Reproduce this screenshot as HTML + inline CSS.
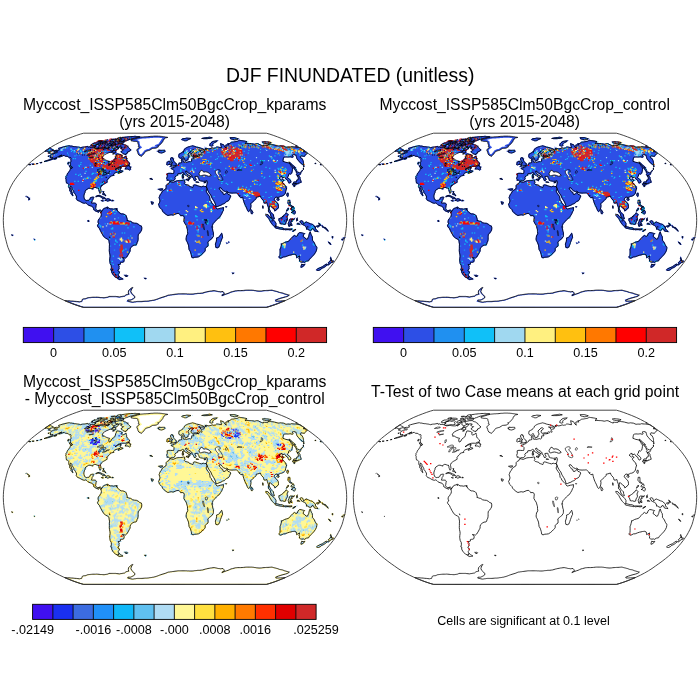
<!DOCTYPE html>
<html><head><meta charset="utf-8"><style>html,body{margin:0;padding:0;background:#fff;width:700px;height:700px;overflow:hidden}svg{display:block;will-change:transform}</style></head><body>
<svg width="700" height="700" viewBox="0 0 700 700" font-family="&quot;Liberation Sans&quot;, sans-serif">
<defs>
<path id="land" d="M54.0,150.9L56.2,150.3L57.0,150.4L57.7,150.4L59.6,150.0L59.2,149.5L58.9,149.0L58.6,148.4L60.4,147.8L62.9,147.1L65.0,146.6L67.1,146.1L68.1,145.9L69.2,145.7L69.7,145.8L70.2,146.0L71.0,146.1L71.8,146.1L72.8,146.4L73.9,146.6L74.8,146.7L75.7,146.7L76.6,146.9L77.4,147.0L78.3,147.1L79.2,147.3L79.7,147.5L80.3,147.7L82.4,147.2L83.3,147.1L84.2,147.1L85.9,146.8L87.8,146.4L88.1,147.3L89.7,146.8L90.1,147.4L91.1,147.4L92.2,147.4L93.0,147.6L93.9,147.7L94.6,148.1L95.3,148.4L96.3,148.8L97.8,148.7L99.5,148.4L100.5,148.5L101.6,148.7L102.6,148.8L103.6,148.9L104.7,148.9L105.8,148.8L107.3,148.2L107.3,149.1L108.5,148.0L110.0,147.1L110.1,145.9L111.7,145.1L112.0,145.9L111.9,146.8L111.9,147.7L112.6,148.1L113.4,148.5L113.5,149.3L115.4,148.1L117.2,147.1L118.5,147.3L118.3,148.2L117.2,149.6L115.7,150.2L114.9,150.1L114.0,150.0L112.9,150.3L112.8,151.3L111.3,151.9L109.8,152.4L108.2,153.0L106.2,153.9L104.3,155.0L102.9,156.3L102.2,157.5L103.0,158.0L102.6,159.2L104.3,159.1L105.4,159.8L106.2,160.2L106.9,160.6L108.3,161.0L109.5,161.2L108.7,162.9L108.8,163.9L109.1,164.9L109.9,164.9L110.9,164.1L111.6,162.4L113.5,160.8L114.8,159.8L115.4,158.3L115.6,156.8L116.2,155.8L116.8,154.1L117.8,153.9L119.1,154.2L120.5,154.4L121.2,155.1L122.2,155.3L121.8,156.8L121.8,157.5L122.6,158.0L124.2,157.5L125.4,156.5L126.0,156.0L126.2,157.3L126.7,158.8L126.6,159.8L127.3,161.0L128.5,162.1L129.4,162.9L129.7,164.1L128.7,164.9L127.4,165.3L125.4,166.3L124.2,166.2L123.0,166.2L121.3,166.3L119.6,166.8L117.9,167.6L116.2,168.8L115.0,169.7L116.0,169.4L117.6,168.3L119.6,167.4L121.2,167.6L121.3,168.1L120.0,168.6L120.2,169.3L120.2,170.2L121.0,170.7L122.3,170.9L123.0,171.1L122.7,171.6L121.0,172.2L119.5,172.9L118.3,173.4L118.3,172.5L119.6,171.8L120.0,171.4L118.6,171.6L117.4,172.1L115.9,172.5L114.7,173.1L113.8,173.9L113.6,174.5L113.9,175.0L114.0,175.3L113.1,175.5L111.7,175.8L110.2,176.4L109.8,177.3L108.8,178.3L108.1,178.7L107.5,179.8L107.0,180.3L107.1,181.4L107.2,182.2L106.1,182.8L104.8,183.6L103.5,184.3L102.4,185.1L101.3,186.0L100.6,187.4L100.5,188.4L100.8,189.8L101.0,191.4L100.7,192.7L99.9,193.2L99.5,192.4L99.3,191.5L98.9,190.3L98.9,189.1L98.2,188.0L97.3,188.2L96.7,187.9L95.9,187.5L94.5,187.4L93.6,187.7L92.9,188.4L93.1,189.0L91.9,188.9L91.1,188.4L89.8,188.2L88.3,188.4L87.2,189.2L85.8,190.1L85.1,191.1L85.0,192.4L84.3,193.8L83.8,196.0L84.0,197.6L84.5,199.2L85.3,200.1L86.2,200.6L87.6,200.4L89.1,200.2L89.9,199.2L90.4,197.8L91.8,197.3L93.2,197.1L93.8,197.5L93.1,198.7L92.8,199.8L92.1,200.5L91.9,201.9L91.4,203.1L92.5,203.2L93.9,203.1L95.3,203.2L96.3,204.1L96.0,205.7L95.8,207.3L95.5,208.4L96.0,209.3L96.8,210.3L97.8,210.8L99.1,210.3L100.4,210.1L101.4,210.9L101.6,211.8L100.9,212.5L100.4,211.7L99.9,210.7L99.0,211.1L98.5,212.3L98.0,212.0L97.0,211.4L96.1,211.3L95.4,211.0L94.6,209.9L93.7,209.6L93.6,208.4L92.8,207.0L92.1,206.3L91.2,206.0L90.0,205.7L88.9,205.3L87.8,204.6L86.8,203.6L85.9,202.8L84.4,203.3L83.1,203.0L81.9,202.5L80.4,201.6L79.3,201.0L77.8,200.5L76.9,199.7L76.2,198.4L76.6,197.1L76.3,196.0L75.5,194.6L74.8,193.3L73.7,192.4L73.8,191.4L73.1,190.2L72.5,189.2L72.0,188.4L71.8,187.1L71.1,186.3L70.5,186.0L70.1,187.4L70.8,188.7L71.2,189.7L71.5,191.1L72.0,192.2L72.4,193.7L72.6,194.9L73.0,195.4L72.5,195.6L71.8,194.5L71.0,193.6L71.1,192.4L70.5,191.6L69.7,190.8L69.8,190.1L69.7,188.4L69.0,187.9L68.8,186.8L68.8,185.8L68.7,185.1L68.8,184.4L68.3,183.8L67.9,183.6L67.3,183.1L66.4,182.9L66.4,182.2L66.2,181.3L66.2,180.7L66.0,180.0L66.2,179.5L65.9,179.0L65.7,178.2L66.1,177.3L65.9,176.7L66.8,175.5L67.2,174.4L67.3,173.9L68.6,172.3L69.8,170.5L70.2,169.7L70.5,168.4L71.5,168.4L72.6,167.7L72.4,167.3L71.8,166.7L71.4,166.1L70.5,165.7L70.3,164.9L70.6,164.1L70.3,163.2L70.5,162.2L71.1,161.3L71.0,160.5L70.8,159.5L71.0,158.3L70.6,157.5L69.4,158.0L69.1,157.5L68.3,156.7L67.2,156.3L65.7,156.3L64.7,155.8L64.2,155.3L63.0,155.6L61.9,156.3L60.5,156.7L58.7,157.1L59.0,156.6L60.6,155.7L62.0,155.1L61.1,155.3L58.8,156.3L57.2,157.1L55.8,157.8L54.1,158.5L52.5,159.3L50.6,159.9L48.8,160.5L47.2,160.9L45.6,161.3L44.1,161.6L45.5,161.0L47.3,160.4L49.2,159.8L51.2,159.0L53.1,158.0L52.9,157.5L51.6,157.6L50.1,157.7L51.0,156.8L50.2,156.5L50.2,155.8L50.6,155.1L51.0,154.4L52.6,153.7L53.4,153.3L55.4,152.9L56.5,152.9L57.5,152.2L57.4,151.9L56.3,151.9L54.8,151.9L54.0,151.8L54.0,151.3ZM101.5,211.2L102.3,210.8L103.3,209.0L104.0,208.4L105.3,208.1L106.8,207.4L107.3,206.9L107.7,207.9L107.1,208.5L108.4,207.8L110.0,208.9L111.9,208.9L113.8,209.2L115.2,208.7L116.2,208.9L117.1,209.7L117.5,211.1L118.9,212.2L119.8,213.0L121.2,213.9L122.6,213.9L124.1,214.3L125.5,215.1L126.2,215.8L126.5,217.0L126.8,218.1L127.3,219.2L126.8,220.3L128.3,220.8L129.2,221.2L130.7,221.4L132.6,222.8L134.5,223.2L136.4,223.3L138.3,224.3L139.8,225.6L141.4,226.1L141.8,227.9L141.6,230.0L140.8,231.4L139.5,233.3L138.3,234.3L138.1,236.3L138.1,237.7L138.1,239.2L137.8,241.1L137.1,242.4L136.7,244.0L135.9,245.0L134.0,245.1L132.2,246.2L130.5,247.8L130.1,249.5L130.1,251.1L129.2,252.7L128.5,254.1L127.4,255.9L126.7,257.0L125.6,258.0L124.2,257.9L122.9,257.5L122.3,257.6L123.7,258.6L124.2,259.7L123.9,261.6L122.8,262.2L121.7,262.3L120.7,262.4L120.1,262.9L120.5,264.0L119.2,264.7L118.1,264.4L118.5,265.6L119.2,266.2L118.9,267.2L119.1,268.8L118.1,269.9L117.9,270.9L119.6,272.0L118.9,273.6L118.2,274.6L118.5,275.7L119.3,276.5L118.5,276.7L118.2,277.7L117.5,278.0L115.5,277.2L114.0,275.7L112.7,274.1L111.6,272.0L111.9,270.4L110.8,269.9L111.4,267.8L111.3,265.6L110.2,263.5L109.8,261.3L109.7,260.3L109.8,258.6L110.1,256.5L110.0,254.9L109.5,252.7L109.3,250.5L109.4,248.4L109.4,246.2L109.5,244.1L109.1,241.9L109.0,240.3L107.7,239.2L105.7,238.1L103.7,236.5L102.8,234.9L101.8,233.3L101.1,231.9L100.4,230.6L99.4,228.4L97.9,226.8L97.5,225.2L98.5,224.1L98.8,223.0L98.0,222.5L98.2,220.8L98.7,219.4L99.7,218.7L100.2,217.6L101.1,216.2L101.4,214.4L101.2,213.3L100.9,212.5ZM119.3,276.7L120.6,277.7L121.7,278.3L122.9,279.0L121.6,279.3L120.7,279.4L119.8,279.6L117.8,278.7L118.2,277.7L118.6,277.0ZM169.7,181.6L171.5,182.0L173.2,182.4L175.0,181.6L176.8,180.9L178.1,180.7L179.5,180.6L180.8,180.5L182.1,180.4L183.7,180.0L184.8,180.3L184.4,181.1L185.0,182.3L184.2,183.4L184.8,183.9L185.4,184.5L186.8,184.8L187.8,185.1L188.8,185.4L189.4,186.4L190.4,186.7L191.4,187.0L192.8,187.6L193.3,186.6L193.2,185.7L194.0,184.9L195.9,185.1L197.7,185.8L198.6,186.1L199.6,186.4L201.5,186.9L203.2,186.2L204.5,186.6L206.2,186.5L207.0,188.4L206.6,190.3L206.0,190.5L206.5,192.2L208.0,194.4L209.5,196.5L209.9,198.7L210.1,200.3L211.2,201.4L211.8,203.0L212.6,203.9L213.8,205.2L215.1,206.5L216.0,207.3L216.0,207.9L217.2,209.1L218.7,208.7L220.5,208.2L221.9,208.0L223.5,207.6L223.4,209.0L223.3,210.6L222.5,211.7L221.7,213.8L220.7,215.4L219.3,217.6L217.9,218.5L216.5,219.8L215.1,221.4L214.1,222.5L213.1,223.5L212.4,225.4L211.9,227.3L212.5,228.9L212.8,231.1L213.4,232.7L213.4,234.1L213.4,235.4L213.2,236.5L211.7,238.7L210.6,239.5L209.6,240.3L207.8,241.9L208.1,244.1L208.0,246.0L206.8,246.9L205.6,247.8L205.2,248.4L205.2,250.5L204.6,251.6L203.4,252.7L201.9,254.3L200.4,255.6L198.5,256.8L196.7,257.1L194.8,257.2L193.0,257.9L191.7,257.2L191.5,255.9L191.2,254.3L190.7,252.8L190.2,251.2L189.1,249.5L188.8,247.3L188.5,245.1L188.1,244.0L187.6,242.8L187.0,241.5L186.3,240.3L186.1,239.0L186.3,237.5L186.5,236.0L187.8,233.8L187.5,231.6L187.5,229.8L187.1,228.3L186.7,226.9L186.2,225.2L185.0,223.5L183.9,221.4L184.1,219.2L184.3,217.1L183.4,215.7L182.1,215.5L180.7,215.7L179.8,214.4L178.8,213.4L176.9,213.5L175.0,214.3L173.1,215.1L171.2,214.7L169.5,215.1L167.9,215.5L166.0,214.4L164.1,212.8L162.5,211.1L162.1,209.7L160.8,208.4L159.4,207.1L159.1,205.7L158.5,204.4L159.4,203.0L160.0,200.9L159.6,199.2L159.1,197.6L159.6,196.3L160.1,194.9L161.3,193.3L162.5,191.1L163.9,190.1L165.8,189.0L166.2,187.4L166.1,185.7L167.3,184.3L168.9,183.6ZM170.0,181.4L171.0,180.7L172.1,180.7L173.2,180.7L174.6,179.7L175.2,178.4L174.7,177.7L175.8,176.0L176.8,175.6L177.8,175.1L177.7,173.9L178.9,173.5L180.2,173.8L181.5,173.1L182.5,172.4L183.8,172.9L184.1,174.0L185.4,175.0L186.8,175.8L188.2,176.9L188.8,177.1L189.1,178.4L188.9,179.3L189.4,179.3L190.1,178.2L189.6,177.0L190.1,176.7L191.3,177.0L190.8,176.4L189.0,175.5L187.1,174.4L186.6,173.3L185.6,172.3L185.5,171.5L186.7,171.0L186.6,171.7L187.9,172.3L188.8,173.4L190.1,173.9L191.5,175.0L192.1,176.0L192.0,176.8L193.1,177.7L193.6,178.7L194.2,180.3L195.1,180.9L195.5,179.8L196.3,179.3L195.3,178.2L194.8,176.6L196.0,176.3L197.8,176.3L198.3,176.9L198.1,177.8L198.9,178.7L199.3,180.3L200.5,180.8L202.3,181.1L203.6,181.3L205.4,181.1L207.0,180.6L207.3,181.6L207.3,183.0L206.9,184.7L206.4,186.3L206.2,186.5L207.0,188.4L207.7,190.1L208.8,192.2L209.8,193.8L210.8,194.9L211.6,197.1L212.5,198.7L213.5,200.3L214.5,201.9L215.4,204.1L216.0,206.3L216.2,206.6L217.6,206.5L219.0,205.8L220.9,205.2L222.2,204.3L223.2,203.9L224.3,203.5L225.4,202.5L226.7,201.4L228.1,200.9L229.2,199.8L229.8,198.2L230.8,196.0L229.7,194.9L228.0,194.4L227.4,193.4L227.1,192.0L226.5,192.8L225.2,194.3L223.4,194.4L222.7,192.8L222.8,192.3L222.2,192.2L221.2,191.7L220.7,190.6L219.6,189.5L219.0,188.1L219.4,187.9L220.8,187.7L221.9,189.2L223.4,190.6L225.4,191.6L226.9,191.0L228.1,192.4L229.7,192.9L230.9,193.0L232.1,193.1L233.2,193.0L234.4,193.0L235.5,192.9L236.7,192.9L237.4,193.6L238.3,194.6L239.2,196.0L240.2,195.6L239.4,196.2L241.0,197.8L242.8,197.1L243.0,198.4L243.3,199.8L243.8,201.4L244.3,203.0L244.9,204.4L245.5,205.7L246.6,207.9L247.1,209.2L247.7,210.6L248.7,211.6L249.3,210.7L250.3,209.2L250.7,207.9L251.0,205.7L250.6,203.6L251.8,202.7L252.7,201.9L254.4,200.3L256.0,198.7L256.3,197.1L257.7,196.9L259.0,196.5L260.4,196.0L261.0,197.6L261.7,198.7L263.3,200.3L263.7,201.7L264.1,203.0L265.1,203.2L266.9,202.5L267.4,204.6L267.9,206.0L268.4,207.3L268.5,209.5L268.4,211.1L268.7,211.9L270.2,213.3L270.6,214.9L271.3,217.1L272.7,218.1L273.7,218.9L274.4,218.7L273.6,216.5L273.5,214.9L272.3,213.6L271.6,213.0L270.6,212.2L270.0,210.6L269.1,209.0L269.3,207.3L269.6,205.7L270.5,205.8L271.1,206.6L272.7,207.9L274.2,209.0L274.8,210.9L276.2,210.0L277.0,209.0L278.4,207.9L278.5,206.3L278.1,204.1L276.8,202.5L275.1,200.9L274.2,199.8L274.7,198.2L275.9,197.1L277.3,197.1L278.2,198.4L278.3,197.3L279.2,197.0L280.5,196.3L281.6,196.2L283.1,195.6L284.3,194.6L285.4,193.1L285.6,191.7L286.0,190.1L286.7,188.0L285.5,187.0L286.3,186.8L285.1,185.7L284.0,184.1L282.4,182.7L282.5,181.4L282.8,181.2L284.2,180.3L282.5,179.5L281.5,180.1L280.1,179.0L279.1,178.2L279.9,177.7L280.9,176.3L282.2,176.6L282.2,178.2L283.0,177.7L284.3,177.1L285.2,177.7L286.2,179.3L287.6,180.0L288.1,181.3L288.6,182.5L289.0,183.1L290.6,182.5L291.0,182.0L290.5,180.3L288.8,178.7L287.4,177.7L287.7,176.6L288.5,176.0L288.5,174.7L289.0,173.7L290.6,174.1L291.7,173.1L292.2,171.2L292.4,169.7L292.5,168.1L291.3,166.5L290.7,165.2L290.0,163.9L288.3,162.9L287.1,162.6L285.8,162.4L284.6,161.9L282.9,161.3L283.1,159.8L283.3,158.8L283.5,157.8L284.3,157.0L285.2,157.0L286.1,156.9L287.3,157.0L288.5,157.0L289.3,156.9L290.1,156.7L292.3,157.3L293.2,156.8L292.5,155.8L292.5,154.8L293.3,154.7L294.0,154.5L296.1,155.3L296.4,156.6L296.7,157.8L297.0,158.8L298.7,160.8L300.5,162.9L302.2,164.2L303.8,165.5L303.5,163.6L303.5,162.4L302.9,160.3L301.9,158.5L300.5,157.8L300.4,156.4L300.9,155.8L302.7,156.1L304.5,156.3L304.8,155.8L305.2,155.3L305.5,154.8L305.8,154.4L306.6,153.9L307.4,153.4L305.1,151.9L303.9,151.7L303.2,151.9L303.7,151.3L305.3,151.4L302.7,149.6L300.0,147.8L297.9,147.4L295.9,147.0L294.5,147.0L293.0,146.9L291.4,146.7L290.7,147.0L290.0,147.2L288.9,147.1L287.8,147.1L286.9,147.2L286.0,147.3L283.3,146.1L281.9,146.0L280.5,145.8L279.4,146.0L278.2,146.1L276.0,145.5L274.5,145.1L273.0,144.8L271.8,144.7L270.6,144.5L269.3,144.6L268.0,144.6L267.8,145.4L266.8,145.4L265.8,145.4L264.6,145.3L263.5,145.2L263.3,146.1L261.5,145.5L258.9,144.2L258.0,143.7L257.1,143.7L256.3,143.7L255.3,144.0L254.2,144.2L252.9,143.9L251.6,143.7L250.4,143.6L249.2,143.6L248.2,143.5L246.7,143.3L245.8,143.7L245.5,144.0L245.5,142.9L245.9,142.4L246.2,141.9L247.0,141.8L245.7,141.4L244.5,141.1L243.2,140.9L241.9,140.7L240.6,140.5L239.2,140.2L238.8,140.6L238.3,140.9L237.8,141.2L236.8,141.4L235.7,141.6L234.6,141.8L233.6,142.0L232.5,142.1L231.3,142.3L230.6,142.9L229.9,143.5L228.8,143.6L227.8,143.7L228.8,145.1L227.9,144.9L227.0,144.8L225.8,145.1L225.8,145.9L226.0,147.1L226.3,148.2L224.7,146.8L224.1,145.7L223.4,144.6L222.0,144.2L220.6,143.7L220.8,144.8L221.1,145.9L221.5,147.7L219.9,147.5L218.8,147.2L217.6,147.0L216.6,147.0L215.7,147.9L214.5,148.1L213.4,148.3L212.2,147.9L211.1,148.3L210.1,148.7L209.1,148.8L208.1,148.9L206.4,148.2L206.2,149.6L205.3,148.2L205.3,150.0L204.3,150.3L204.1,151.8L202.7,152.1L201.4,152.4L200.4,151.9L200.5,150.7L199.5,150.4L198.5,150.0L199.6,150.1L200.7,150.2L201.9,150.1L203.1,150.0L204.3,149.9L203.2,149.1L201.6,148.4L200.4,148.0L199.2,147.6L197.8,147.4L196.3,147.0L194.8,146.4L193.6,146.1L192.5,145.8L191.6,146.1L190.7,146.3L189.7,146.6L188.7,146.8L187.7,147.2L186.8,147.6L185.5,148.4L184.5,149.1L184.0,150.5L183.0,151.7L182.0,152.6L180.5,153.4L179.1,154.1L178.8,155.3L178.8,156.8L179.2,157.5L180.2,158.2L181.2,158.2L182.3,157.3L183.0,156.4L183.5,157.3L184.1,158.1L184.8,159.8L185.3,160.9L186.3,160.9L186.7,160.1L188.0,159.8L188.1,158.5L189.2,157.0L188.5,155.7L188.0,154.1L189.0,152.9L190.3,151.9L190.9,151.0L192.2,150.7L193.4,151.5L192.9,152.4L192.0,153.1L191.0,153.9L191.2,155.5L192.1,156.3L193.1,156.2L194.0,156.0L195.5,155.8L197.0,156.1L198.0,156.4L196.8,156.7L195.8,156.8L194.9,156.8L193.4,157.0L193.1,157.5L193.8,158.0L193.7,159.0L192.7,158.9L191.8,158.8L191.5,159.8L191.8,161.0L190.6,162.0L189.8,161.6L188.2,161.9L187.3,162.2L186.4,162.5L185.0,162.0L183.8,162.4L183.6,161.8L182.9,160.8L183.1,159.7L183.2,158.6L181.6,159.2L181.4,160.8L182.0,161.9L181.9,162.5L180.6,162.9L179.0,163.1L178.7,164.2L177.9,165.0L177.1,165.4L176.3,165.7L176.2,166.4L175.2,166.8L174.0,167.1L173.7,166.9L173.7,167.9L172.5,167.8L171.1,168.2L171.4,168.8L172.9,169.3L174.0,170.5L174.0,172.1L173.7,173.4L172.4,173.5L170.7,173.4L169.0,173.3L167.8,173.5L167.0,173.9L167.3,175.0L167.3,176.6L166.6,178.4L167.2,178.9L167.1,180.3L168.3,180.1L169.3,180.6ZM44.7,151.4L46.3,151.0L47.1,151.1L47.9,151.2L48.2,151.9L49.1,152.1L49.6,151.5L51.7,151.0L53.5,150.4L53.2,149.7L52.4,149.4L51.6,149.1L51.1,148.7L50.7,148.3L50.0,147.8L47.3,149.6ZM170.3,166.4L171.7,166.1L172.7,165.9L173.8,165.8L174.9,165.6L176.1,165.4L176.4,163.7L175.2,163.1L174.8,162.3L174.0,161.5L173.7,160.7L173.3,160.2L173.6,158.8L172.3,158.6L172.6,157.7L171.1,157.7L170.5,158.8L170.7,160.1L171.2,160.8L171.0,161.6L172.2,162.0L172.6,163.0L171.4,163.1L171.6,163.8L170.8,164.6L172.4,165.0L171.3,165.3ZM170.1,164.4L169.9,163.1L170.2,161.9L169.0,161.0L168.2,161.8L167.0,162.2L167.1,163.1L166.6,164.4L167.4,164.9L168.9,164.4ZM158.9,152.5L160.3,152.8L161.7,153.0L162.9,152.6L164.1,152.1L165.2,151.3L164.4,150.2L163.6,150.3L162.8,150.3L161.9,150.4L161.0,150.4L160.0,150.3L158.9,150.1L159.1,151.0L157.7,151.2L159.0,151.9ZM131.0,150.0L130.0,149.1L129.2,148.4L128.3,147.5L128.0,146.7L127.1,146.1L126.2,145.5L125.3,144.9L124.4,144.7L123.6,144.5L122.9,144.0L122.3,143.6L121.3,143.6L120.3,143.7L119.3,143.7L118.1,144.0L116.9,144.2L115.1,144.7L115.1,145.9L115.6,146.3L116.2,146.7L117.4,146.8L118.5,147.2L120.2,146.8L121.5,146.9L122.3,147.3L120.6,148.2L121.2,148.6L121.8,149.0L122.8,149.8L123.6,149.6L122.5,150.7L120.9,151.7L121.9,152.4L122.8,153.4L124.0,154.1L125.0,154.3L126.0,154.5L126.1,153.6L127.4,153.1L127.6,151.9L129.0,151.5L130.2,150.5ZM94.7,145.7L96.9,144.6L98.3,144.3L99.7,143.9L100.6,144.1L101.5,144.4L103.0,144.0L104.5,143.7L104.9,144.0L105.3,144.4L104.4,145.8L105.0,146.6L105.2,147.3L104.1,147.6L103.1,147.9L102.1,147.8L101.2,147.6L99.8,147.9L98.4,148.1L97.1,148.2L95.7,148.3L95.1,147.9L94.4,147.6L94.6,146.7L96.1,146.3L95.0,146.0ZM91.1,145.1L91.7,144.4L94.1,143.1L95.3,143.0L96.4,142.9L97.5,143.0L98.7,143.1L99.2,143.7L97.2,144.4L94.7,145.4L93.4,145.6L92.1,145.8L91.6,145.5ZM124.6,141.4L123.6,141.3L122.6,141.3L121.5,141.3L120.5,141.2L119.5,141.2L119.7,140.4L121.6,139.8L121.5,139.1L121.2,138.3L121.6,137.6L122.9,137.5L124.3,137.3L125.6,137.1L127.0,137.0L128.3,136.8L129.6,136.7L130.8,136.6L132.0,136.5L133.3,136.5L134.5,136.4L135.6,136.4L136.6,136.5L137.7,136.5L138.8,136.6L139.4,136.7L139.9,136.9L138.7,137.1L137.5,137.4L136.2,137.7L134.9,138.0L133.8,138.3L132.8,138.6L131.4,138.9L130.1,139.2L128.7,139.7L126.6,140.6L125.0,141.0ZM116.1,139.6L116.7,140.1L118.1,139.8L119.5,139.5L121.1,138.5L120.9,138.0L120.8,137.6L119.7,137.7L118.6,137.9L117.0,138.6ZM123.3,142.9L123.6,141.5L122.7,141.3L121.7,141.1L120.8,141.1L119.9,141.1L118.9,141.1L117.8,141.3L116.7,141.5L117.2,142.1L117.7,142.4L118.2,142.7L119.1,142.8L120.0,142.9L121.1,142.9L122.2,142.9ZM111.1,145.1L112.5,145.1L113.9,144.6L115.2,144.2L115.7,143.3L114.6,143.3L113.5,143.2L112.3,144.0ZM106.7,145.5L107.6,145.7L108.6,145.9L110.6,144.9L111.5,143.7L110.8,143.5L110.1,143.4L109.0,143.7L107.8,144.1L106.9,144.6ZM100.6,142.1L102.9,141.1L104.1,141.2L105.3,141.2L106.1,141.3L106.9,141.5L107.5,142.0L106.5,142.5L105.3,142.6L104.2,142.6L103.0,142.8L101.8,143.0L100.8,142.9L99.8,142.8ZM110.3,142.3L111.1,142.3L111.8,142.4L113.6,141.4L113.0,141.3L112.3,141.1L110.5,141.6ZM116.2,152.1L114.8,152.7L113.4,152.8L112.1,152.9L111.4,152.2L112.7,151.0L114.5,150.4L115.4,150.7L115.6,151.5ZM125.1,169.0L126.5,169.0L127.9,169.0L128.8,169.5L129.7,170.0L130.7,169.1L130.2,168.3L131.0,167.0L130.0,166.9L129.0,166.7L129.3,165.0L127.6,165.9L126.0,167.6ZM71.7,168.3L70.7,168.0L69.9,167.0L69.2,165.8L70.3,165.9L71.3,166.5L71.9,167.3ZM95.7,196.6L97.6,195.6L99.5,195.4L100.8,196.0L102.6,196.9L104.4,197.6L105.5,198.5L104.2,198.6L102.8,198.8L102.3,198.1L101.4,197.1L100.4,196.8L99.4,196.4L98.0,196.0L96.6,196.6ZM105.1,200.4L107.1,198.8L108.9,198.9L110.2,199.8L110.8,200.3L109.2,200.6L107.8,201.2L106.6,200.6ZM101.4,200.5L102.7,200.3L103.4,200.9L102.1,201.1ZM111.8,200.9L113.4,200.6L113.0,200.3L111.9,200.3ZM181.7,139.6L182.7,138.6L183.9,138.6L185.1,138.5L185.9,138.3L186.8,138.1L188.0,138.2L189.2,138.3L190.1,138.4L191.0,138.5L190.1,138.8L189.3,139.2L188.4,139.6L187.3,140.2L186.2,140.8L185.4,140.8L184.7,140.8L183.6,140.2L182.6,139.9ZM209.7,145.5L210.1,143.7L210.7,143.3L211.2,142.9L211.9,142.0L212.9,141.6L213.9,141.2L215.1,141.1L216.2,140.9L217.3,140.8L216.8,141.3L216.2,141.8L215.4,142.2L214.6,142.5L213.8,142.9L213.2,143.5L212.6,144.2L213.0,145.5L212.4,145.8L211.7,146.1L210.7,145.8ZM230.6,138.8L232.4,139.3L234.2,139.8L235.3,139.7L236.3,139.5L237.3,139.4L237.8,139.1L238.3,138.8L236.3,138.2L234.2,137.6L233.2,137.6L232.2,137.6L231.2,137.6L230.2,137.6ZM263.3,142.9L264.9,143.2L266.6,143.6L267.8,143.7L269.1,143.7L269.8,143.4L270.5,143.1L271.1,142.7L269.5,142.3L267.9,142.0L266.7,141.9L265.4,141.7L264.2,141.6L263.3,141.8L262.3,142.0ZM295.9,145.9L296.2,145.5L297.2,146.1ZM295.7,170.7L296.6,170.2L295.4,168.9L294.2,167.6L295.5,167.6L293.9,166.2L292.4,164.9L290.3,162.9L289.2,162.1L289.3,162.9L290.6,164.2L291.9,165.5L292.8,166.8L293.7,168.1L294.5,169.1ZM297.1,175.5L298.0,175.2L299.6,175.0L300.2,174.3L300.7,173.7L299.3,172.8L297.7,172.1L296.1,171.4L296.3,172.3L297.1,173.7L296.4,174.4ZM293.2,183.6L293.9,182.0L295.2,181.9L296.5,181.7L296.8,180.1L298.2,179.8L298.4,177.7L297.2,175.7L298.6,175.7L300.1,177.7L300.0,178.9L300.9,180.9L301.2,182.3L300.2,182.5L299.7,182.9L298.4,182.9L298.0,184.0L296.7,183.3L294.9,183.3L293.8,183.8ZM292.4,184.1L293.3,183.7L294.4,184.7L294.7,186.5L294.1,186.7L293.2,185.2ZM295.1,184.7L295.0,183.5L296.4,183.4L296.7,184.1L295.7,185.0ZM286.9,195.5L287.7,196.5L288.2,195.5L288.2,193.3L287.3,193.2L286.8,194.4ZM276.9,199.6L277.9,200.6L278.8,200.1L279.1,199.0L278.0,198.6L276.9,198.9ZM250.9,211.4L251.0,209.7L252.0,210.8L252.9,212.4L252.1,213.8L251.3,213.5ZM287.9,202.8L288.1,201.6L288.2,200.3L289.8,200.3L290.0,202.5L289.9,204.5L291.1,205.4L292.4,206.3L291.4,206.3L289.5,205.5L289.0,204.6L288.1,203.6ZM291.1,212.7L292.5,211.9L292.9,211.1L294.2,210.0L295.3,211.7L295.1,213.5L294.5,214.0L293.2,213.6L292.0,212.2ZM290.8,209.0L292.1,207.9L293.4,206.8L294.1,208.4L293.2,209.5L291.9,210.4ZM278.9,218.7L279.9,218.5L281.3,217.6L282.7,216.8L283.6,215.4L285.0,214.7L286.1,212.8L287.2,213.8L288.3,214.7L287.4,215.7L287.0,217.1L287.5,219.2L287.1,220.3L286.1,221.9L285.6,224.1L284.1,224.4L282.7,223.8L281.3,223.9L280.1,223.5L279.9,221.9L279.0,220.8ZM265.8,214.3L266.8,214.5L267.9,214.7L269.1,216.2L270.6,217.8L271.8,218.7L273.7,220.3L274.7,221.4L276.0,223.5L275.9,225.1L275.7,226.6L274.5,226.6L273.5,225.6L272.5,224.6L271.3,223.0L269.9,220.8L268.9,218.7L267.5,217.1L266.0,215.4ZM275.1,227.6L275.9,226.7L277.0,226.9L278.1,227.1L279.1,227.4L280.2,227.6L282.1,227.8L283.9,228.6L283.8,229.7L282.7,229.5L281.5,229.3L280.1,229.0L278.7,228.7L277.5,228.5L276.3,228.3ZM284.3,229.2L285.2,229.8L286.7,229.6L288.1,229.5L290.0,229.9L291.9,229.5L292.0,228.9L290.1,229.0L288.2,229.0L287.0,229.0L285.8,228.9ZM292.7,231.3L293.8,230.0L294.9,229.7L295.9,229.4L295.2,230.0L293.2,231.4ZM288.8,226.2L289.8,226.2L290.0,224.9L290.2,223.5L290.8,225.4L292.0,225.5L291.5,223.5L290.4,221.9L292.3,221.4L291.4,219.8L292.6,219.8L293.8,219.8L294.4,218.7L293.3,219.3L291.8,219.1L290.4,218.9L289.5,219.8L289.1,221.4L288.2,223.5L288.5,224.9ZM296.6,220.8L297.6,220.3L297.1,218.7L297.5,217.9L296.7,218.7ZM297.0,224.0L298.3,224.2L299.7,224.4L298.9,223.4L297.5,223.4ZM299.9,221.4L301.4,220.7L302.8,221.3L303.2,222.6L303.7,223.9L304.9,222.9L306.1,221.9L307.3,222.4L308.5,222.9L310.4,223.8L311.5,224.1L312.7,224.5L314.1,226.0L315.4,227.0L315.5,228.9L316.6,230.2L318.1,231.6L316.4,231.4L314.6,231.1L314.0,230.0L313.4,228.8L312.0,228.6L311.2,230.2L310.4,230.3L309.0,230.1L307.6,229.0L306.7,229.3L306.4,228.0L306.2,226.8L304.6,225.4L302.7,224.6L301.3,223.8L301.3,223.0L299.9,221.9ZM316.4,226.2L317.9,225.7L319.4,224.8L320.0,225.2L319.3,226.2L317.8,227.1ZM281.0,244.1L281.6,244.4L281.1,246.4L280.6,248.4L280.0,248.9L280.1,251.1L280.1,253.2L280.0,255.4L278.8,257.0L279.8,258.1L281.1,258.1L283.4,256.9L285.2,256.8L287.4,255.9L289.5,255.2L291.0,254.9L292.5,254.5L293.6,254.4L294.8,254.3L296.3,255.1L296.5,256.3L296.6,257.6L297.8,257.0L299.6,255.9L299.2,257.6L299.6,257.9L299.0,258.7L299.7,259.7L299.4,261.1L300.4,261.8L301.9,262.2L303.4,261.9L304.2,262.5L306.5,261.1L308.5,260.8L309.5,259.2L311.1,257.6L312.4,256.2L313.7,254.9L315.3,252.7L316.4,250.5L316.8,248.4L316.8,247.3L315.6,245.7L315.0,244.4L314.4,243.0L313.3,241.4L312.4,240.3L312.5,238.7L312.2,236.5L311.6,235.7L310.9,234.1L310.6,233.0L310.2,231.9L309.3,233.8L309.0,235.2L308.7,236.5L308.1,237.8L307.5,239.1L306.2,239.2L304.7,237.6L303.0,236.5L303.8,234.3L304.6,233.5L303.4,233.3L302.3,233.0L301.1,232.7L299.7,232.5L298.1,233.8L297.4,236.0L295.9,236.5L294.6,235.4L293.0,236.5L291.3,238.4L289.9,239.7L288.5,241.4L286.5,241.9L284.5,242.5L282.9,243.5ZM301.7,264.2L303.1,264.7L304.8,264.4L303.8,265.8L301.8,267.2L300.9,267.2L301.2,265.8ZM330.7,257.5L331.1,258.6L331.6,260.0L331.4,261.0L333.3,260.9L333.0,262.0L331.1,262.7L328.9,264.6L327.8,265.1L327.5,264.8L328.8,263.5L328.4,262.6L330.0,261.3L330.9,259.7L330.4,258.3ZM326.4,264.0L327.1,264.9L325.2,266.5L323.8,267.5L321.8,268.3L320.3,269.7L318.5,270.5L317.5,270.5L316.5,269.9L317.8,268.8L319.9,267.8L322.5,266.7L324.3,265.4ZM221.7,233.3L222.1,234.6L222.4,236.0L222.6,237.4L221.9,238.7L221.3,240.3L220.5,242.4L219.8,244.6L219.3,245.8L218.8,247.1L217.2,247.8L215.8,247.3L215.6,245.7L215.4,244.1L216.2,241.9L216.6,239.7L216.5,238.1L218.4,237.4L219.9,236.0L220.9,234.3ZM186.0,179.5L187.2,180.1L188.5,180.7L188.7,179.0L187.0,179.2ZM182.4,178.2L183.5,178.1L183.6,176.2L182.2,176.2ZM182.5,175.6L183.2,175.6L183.2,173.9L182.5,174.7ZM196.1,182.2L197.4,182.3L198.6,182.4L198.5,182.2L197.3,182.0L196.2,181.9ZM204.1,182.8L205.6,182.6L206.0,181.9L205.1,182.1L204.2,182.3ZM300.6,172.8L301.1,171.8L301.0,172.3ZM28.7,199.8L29.6,199.5L29.6,198.6L29.0,198.5ZM97.9,141.4L99.3,141.0L100.6,140.6L101.4,140.8L102.1,141.1L99.6,142.0L98.7,142.0L97.9,142.0ZM113.1,142.7L113.9,142.7L114.7,142.7L115.7,141.8L114.6,141.9L113.5,142.0ZM111.5,139.8L112.7,139.7L113.9,139.6L114.6,139.3L113.5,139.2L112.4,139.3L111.2,139.4ZM114.8,140.2L115.8,139.5L116.7,139.6L115.5,140.3ZM106.8,147.7L107.3,148.2L108.6,147.9L109.0,147.0L107.6,147.1ZM112.7,154.2L114.5,153.7L114.0,153.4ZM201.7,138.5L202.6,138.3L203.5,138.1L204.4,137.9L205.3,137.8L206.4,137.6L207.4,137.5L208.5,137.4L209.5,137.2L210.9,137.5L212.3,137.8L211.3,138.0L210.4,138.2L209.4,138.5L208.2,138.5L207.1,138.6L205.9,138.6L204.7,138.6L203.7,138.6L202.7,138.5ZM54.1,159.1L55.2,159.1L56.6,158.6L56.6,158.0L55.2,158.4ZM68.2,162.4L69.2,162.4L68.3,164.2L67.7,163.9ZM48.4,153.0L49.1,153.1L49.7,153.3L50.5,153.1L50.0,152.9L49.5,152.6ZM47.9,156.3L48.8,156.4L49.2,155.9ZM124.7,275.4L125.6,275.4L126.6,275.3L127.7,275.8L127.0,276.5L125.7,276.3ZM144.5,278.2L146.1,278.4L145.8,278.8L144.7,278.5ZM87.7,220.8L88.7,220.5L89.0,221.3L88.0,221.4ZM11.5,234.9L12.8,235.2L12.4,235.5ZM34.2,239.2L34.7,239.4L34.4,239.6ZM341.8,239.2L343.1,239.0L342.6,240.0L341.8,239.8ZM343.5,237.9L344.7,237.9L344.0,238.6ZM328.6,242.1L330.2,243.2L330.8,244.4L330.4,244.4L328.9,243.0ZM332.2,236.5L332.9,236.7L332.6,238.1L332.2,237.4ZM323.9,227.6L325.1,228.4L326.2,229.3L327.7,230.9L328.3,231.3L327.5,230.0L326.3,228.4L324.9,227.3ZM322.3,225.7L323.1,226.5L323.4,227.5L322.7,227.3L322.3,226.3ZM318.5,223.0L319.9,224.1L320.8,225.4L320.3,225.2L318.9,223.5ZM262.7,205.7L263.1,206.8L263.0,208.4L262.7,207.6ZM158.5,189.3L159.8,189.1L161.2,188.9L162.6,188.8L162.3,189.8L160.7,190.3L159.6,189.8ZM151.2,201.8L152.3,202.1L153.3,202.4L152.8,204.1L151.9,204.2L151.5,203.0ZM149.8,178.7L151.1,178.4L152.6,179.5L151.2,179.1ZM102.9,191.5L103.8,191.7L103.2,193.0L102.7,194.4L103.7,194.6L104.7,194.9L106.0,196.0L104.4,193.8L103.6,192.7ZM116.2,209.4L117.1,209.4L117.1,208.6L116.3,208.7ZM212.3,226.6L212.7,227.0L212.6,227.3ZM226.7,243.0L227.2,243.2L226.9,243.4ZM228.7,241.9L229.1,242.1L228.8,242.4ZM225.5,206.7L226.6,206.7L226.4,207.0ZM286.4,211.2L287.6,210.3L288.7,209.0L288.2,208.1L287.1,209.7ZM27.1,197.0L27.7,197.3L27.7,196.9ZM28.4,197.7L29.0,197.9L28.5,198.1ZM25.8,196.5L26.3,196.3L26.0,196.3ZM40.7,162.9L42.1,162.4L40.3,162.6ZM36.5,163.8L38.1,163.5L36.5,163.5ZM32.6,164.4L34.2,164.1L33.2,164.1L32.1,164.1ZM29.0,164.7L30.8,164.6L29.6,164.6L28.4,164.5ZM320.0,164.6L321.5,164.8L320.6,164.4ZM314.8,163.5L316.1,163.6L315.3,163.3ZM301.3,171.5L302.0,171.0L302.7,170.5L302.0,170.7ZM303.4,169.7L303.5,167.8L303.4,168.6ZM303.8,167.0L303.8,165.7L303.8,166.3ZM232.4,273.0L233.7,273.2L232.9,273.8Z"/>
<path id="holes" d="M199.2,175.0L199.1,173.4L200.2,171.6L201.1,170.2L202.6,170.7L203.7,172.2L205.3,171.8L207.1,172.1L208.0,172.5L209.5,173.5L211.2,175.4L210.0,176.0L208.3,176.2L206.4,175.4L204.6,175.0L202.9,175.2L201.2,175.8L200.2,175.8ZM103.0,155.5L104.0,154.5L105.0,153.5L106.5,153.2L108.0,153.0L109.2,153.0L110.3,153.0L111.5,153.0L112.5,153.3L113.5,153.5L114.5,153.8L115.0,154.6L115.6,155.5L115.2,156.7L114.8,157.8L113.6,158.9L112.5,160.0L111.0,160.7L109.4,161.3L108.5,161.2L107.5,161.0L106.5,160.8L105.6,160.2L104.8,159.6L104.0,159.0L103.4,158.2L102.8,157.3ZM215.5,171.2L216.9,170.2L218.2,170.2L217.7,171.8L217.8,173.9L219.0,175.5L219.0,177.1L218.8,178.7L218.5,179.5L218.2,178.4L218.3,176.8L217.2,175.2L216.1,173.9L215.5,172.3Z"/>
<path id="fillx" d="M101.6,157.8L102.7,156.6L103.7,155.3L105.3,154.5L106.8,153.6L108.8,152.9L110.7,152.2L112.3,152.1L113.8,151.9L115.1,152.2L116.4,152.4L117.1,153.1L117.8,153.9L117.0,155.6L116.2,157.3L115.2,158.8L114.2,160.3L112.0,162.4L111.0,163.8L110.2,165.3L108.7,165.3L108.4,163.4L109.3,161.3L108.1,161.0L106.8,160.7L106.0,160.2L105.1,159.6L103.9,159.4L102.6,159.2L102.1,158.5ZM90.0,145.9L91.8,144.2L95.4,142.5L98.8,141.0L100.3,140.8L101.8,140.6L103.3,140.4L104.9,140.2L106.4,140.0L107.9,139.8L109.4,139.6L110.9,139.4L112.6,139.0L114.3,138.7L115.9,138.3L117.6,138.0L119.2,137.6L120.9,137.3L122.0,137.2L123.1,137.1L124.3,137.0L125.4,137.0L126.5,136.9L127.8,136.8L129.0,136.7L130.3,136.6L131.5,136.5L132.7,136.4L133.8,136.5L134.9,136.5L136.0,136.5L137.1,136.6L138.2,136.6L139.3,136.6L139.9,137.0L138.8,137.2L137.7,137.5L136.5,137.8L135.3,138.1L134.0,138.4L132.6,138.8L131.4,139.1L130.1,139.4L128.7,139.7L127.4,140.2L126.1,140.8L124.4,141.6L123.1,143.1L121.5,143.4L120.0,143.7L118.5,143.8L117.1,144.0L115.0,144.9L114.4,146.4L115.0,146.8L115.7,147.3L116.4,148.2L114.7,148.7L112.9,149.1L111.5,149.1L110.1,149.1L108.7,149.1L107.3,149.1L106.1,149.1L104.8,149.0L103.6,149.0L102.4,148.9L101.2,148.8L99.8,148.8L98.4,148.8L97.0,148.8L95.6,148.8L94.2,148.8L93.2,148.6L92.3,148.3L91.3,148.0L90.4,147.7L89.7,147.4L89.1,147.0ZM188.3,156.0L189.3,155.8L188.0,153.9L188.8,153.1L189.6,152.4L190.8,150.5L192.0,150.6L193.3,150.7L193.2,151.9L192.3,152.7L191.3,153.4L191.2,155.3L192.1,156.1L193.0,156.0L194.0,155.8L195.2,156.0L196.5,156.2L197.9,156.3L196.4,156.8L194.9,156.9L193.4,157.0L192.7,157.3L191.1,156.8L189.9,156.5ZM204.9,171.5L206.1,171.4L207.2,170.2L208.1,169.4L207.1,169.6L206.1,170.0L205.1,170.4Z"/>
<path id="coast" d="M54.0,150.9L56.2,150.3L57.0,150.4L57.7,150.4L59.6,150.0L59.2,149.5L58.9,149.0L58.6,148.4L60.4,147.8L62.9,147.1L65.0,146.6L67.1,146.1L68.1,145.9L69.2,145.7L69.7,145.8L70.2,146.0L71.0,146.1L71.8,146.1L72.8,146.4L73.9,146.6L74.8,146.7L75.7,146.7L76.6,146.9L77.4,147.0L78.3,147.1L79.2,147.3L79.7,147.5L80.3,147.7L82.4,147.2L83.3,147.1L84.2,147.1L85.9,146.8L87.8,146.4L88.1,147.3L89.7,146.8L90.1,147.4L91.1,147.4L92.2,147.4L93.0,147.6L93.9,147.7L94.6,148.1L95.3,148.4L96.3,148.8L97.8,148.7L99.5,148.4L100.5,148.5L101.6,148.7L102.6,148.8L103.6,148.9L104.7,148.9L105.8,148.8L107.3,148.2L107.3,149.1L108.5,148.0L110.0,147.1L110.1,145.9L111.7,145.1L112.0,145.9L111.9,146.8L111.9,147.7L112.6,148.1L113.4,148.5L113.5,149.3L115.4,148.1L117.2,147.1L118.5,147.3L118.3,148.2L117.2,149.6L115.7,150.2L114.9,150.1L114.0,150.0L112.9,150.3L112.8,151.3L111.3,151.9L109.8,152.4L108.2,153.0L106.2,153.9L104.3,155.0L102.9,156.3L102.2,157.5L103.0,158.0L102.6,159.2L104.3,159.1L105.4,159.8L106.2,160.2L106.9,160.6L108.3,161.0L109.5,161.2L108.7,162.9L108.8,163.9L109.1,164.9L109.9,164.9L110.9,164.1L111.6,162.4L113.5,160.8L114.8,159.8L115.4,158.3L115.6,156.8L116.2,155.8L116.8,154.1L117.8,153.9L119.1,154.2L120.5,154.4L121.2,155.1L122.2,155.3L121.8,156.8L121.8,157.5L122.6,158.0L124.2,157.5L125.4,156.5L126.0,156.0L126.2,157.3L126.7,158.8L126.6,159.8L127.3,161.0L128.5,162.1L129.4,162.9L129.7,164.1L128.7,164.9L127.4,165.3L125.4,166.3L124.2,166.2L123.0,166.2L121.3,166.3L119.6,166.8L117.9,167.6L116.2,168.8L115.0,169.7L116.0,169.4L117.6,168.3L119.6,167.4L121.2,167.6L121.3,168.1L120.0,168.6L120.2,169.3L120.2,170.2L121.0,170.7L122.3,170.9L123.0,171.1L122.7,171.6L121.0,172.2L119.5,172.9L118.3,173.4L118.3,172.5L119.6,171.8L120.0,171.4L118.6,171.6L117.4,172.1L115.9,172.5L114.7,173.1L113.8,173.9L113.6,174.5L113.9,175.0L114.0,175.3L113.1,175.5L111.7,175.8L110.2,176.4L109.8,177.3L108.8,178.3L108.1,178.7L107.5,179.8L107.0,180.3L107.1,181.4L107.2,182.2L106.1,182.8L104.8,183.6L103.5,184.3L102.4,185.1L101.3,186.0L100.6,187.4L100.5,188.4L100.8,189.8L101.0,191.4L100.7,192.7L99.9,193.2L99.5,192.4L99.3,191.5L98.9,190.3L98.9,189.1L98.2,188.0L97.3,188.2L96.7,187.9L95.9,187.5L94.5,187.4L93.6,187.7L92.9,188.4L93.1,189.0L91.9,188.9L91.1,188.4L89.8,188.2L88.3,188.4L87.2,189.2L85.8,190.1L85.1,191.1L85.0,192.4L84.3,193.8L83.8,196.0L84.0,197.6L84.5,199.2L85.3,200.1L86.2,200.6L87.6,200.4L89.1,200.2L89.9,199.2L90.4,197.8L91.8,197.3L93.2,197.1L93.8,197.5L93.1,198.7L92.8,199.8L92.1,200.5L91.9,201.9L91.4,203.1L92.5,203.2L93.9,203.1L95.3,203.2L96.3,204.1L96.0,205.7L95.8,207.3L95.5,208.4L96.0,209.3L96.8,210.3L97.8,210.8L99.1,210.3L100.4,210.1L101.4,210.9L101.6,211.8L100.9,212.5L100.4,211.7L99.9,210.7L99.0,211.1L98.5,212.3L98.0,212.0L97.0,211.4L96.1,211.3L95.4,211.0L94.6,209.9L93.7,209.6L93.6,208.4L92.8,207.0L92.1,206.3L91.2,206.0L90.0,205.7L88.9,205.3L87.8,204.6L86.8,203.6L85.9,202.8L84.4,203.3L83.1,203.0L81.9,202.5L80.4,201.6L79.3,201.0L77.8,200.5L76.9,199.7L76.2,198.4L76.6,197.1L76.3,196.0L75.5,194.6L74.8,193.3L73.7,192.4L73.8,191.4L73.1,190.2L72.5,189.2L72.0,188.4L71.8,187.1L71.1,186.3L70.5,186.0L70.1,187.4L70.8,188.7L71.2,189.7L71.5,191.1L72.0,192.2L72.4,193.7L72.6,194.9L73.0,195.4L72.5,195.6L71.8,194.5L71.0,193.6L71.1,192.4L70.5,191.6L69.7,190.8L69.8,190.1L69.7,188.4L69.0,187.9L68.8,186.8L68.8,185.8L68.7,185.1L68.8,184.4L68.3,183.8L67.9,183.6L67.3,183.1L66.4,182.9L66.4,182.2L66.2,181.3L66.2,180.7L66.0,180.0L66.2,179.5L65.9,179.0L65.7,178.2L66.1,177.3L65.9,176.7L66.8,175.5L67.2,174.4L67.3,173.9L68.6,172.3L69.8,170.5L70.2,169.7L70.5,168.4L71.5,168.4L72.6,167.7L72.4,167.3L71.8,166.7L71.4,166.1L70.5,165.7L70.3,164.9L70.6,164.1L70.3,163.2L70.5,162.2L71.1,161.3L71.0,160.5L70.8,159.5L71.0,158.3L70.6,157.5L69.4,158.0L69.1,157.5L68.3,156.7L67.2,156.3L65.7,156.3L64.7,155.8L64.2,155.3L63.0,155.6L61.9,156.3L60.5,156.7L58.7,157.1L59.0,156.6L60.6,155.7L62.0,155.1L61.1,155.3L58.8,156.3L57.2,157.1L55.8,157.8L54.1,158.5L52.5,159.3L50.6,159.9L48.8,160.5L47.2,160.9L45.6,161.3L44.1,161.6L45.5,161.0L47.3,160.4L49.2,159.8L51.2,159.0L53.1,158.0L52.9,157.5L51.6,157.6L50.1,157.7L51.0,156.8L50.2,156.5L50.2,155.8L50.6,155.1L51.0,154.4L52.6,153.7L53.4,153.3L55.4,152.9L56.5,152.9L57.5,152.2L57.4,151.9L56.3,151.9L54.8,151.9L54.0,151.8L54.0,151.3ZM101.5,211.2L102.3,210.8L103.3,209.0L104.0,208.4L105.3,208.1L106.8,207.4L107.3,206.9L107.7,207.9L107.1,208.5L108.4,207.8L110.0,208.9L111.9,208.9L113.8,209.2L115.2,208.7L116.2,208.9L117.1,209.7L117.5,211.1L118.9,212.2L119.8,213.0L121.2,213.9L122.6,213.9L124.1,214.3L125.5,215.1L126.2,215.8L126.5,217.0L126.8,218.1L127.3,219.2L126.8,220.3L128.3,220.8L129.2,221.2L130.7,221.4L132.6,222.8L134.5,223.2L136.4,223.3L138.3,224.3L139.8,225.6L141.4,226.1L141.8,227.9L141.6,230.0L140.8,231.4L139.5,233.3L138.3,234.3L138.1,236.3L138.1,237.7L138.1,239.2L137.8,241.1L137.1,242.4L136.7,244.0L135.9,245.0L134.0,245.1L132.2,246.2L130.5,247.8L130.1,249.5L130.1,251.1L129.2,252.7L128.5,254.1L127.4,255.9L126.7,257.0L125.6,258.0L124.2,257.9L122.9,257.5L122.3,257.6L123.7,258.6L124.2,259.7L123.9,261.6L122.8,262.2L121.7,262.3L120.7,262.4L120.1,262.9L120.5,264.0L119.2,264.7L118.1,264.4L118.5,265.6L119.2,266.2L118.9,267.2L119.1,268.8L118.1,269.9L117.9,270.9L119.6,272.0L118.9,273.6L118.2,274.6L118.5,275.7L119.3,276.5L118.5,276.7L118.2,277.7L117.5,278.0L115.5,277.2L114.0,275.7L112.7,274.1L111.6,272.0L111.9,270.4L110.8,269.9L111.4,267.8L111.3,265.6L110.2,263.5L109.8,261.3L109.7,260.3L109.8,258.6L110.1,256.5L110.0,254.9L109.5,252.7L109.3,250.5L109.4,248.4L109.4,246.2L109.5,244.1L109.1,241.9L109.0,240.3L107.7,239.2L105.7,238.1L103.7,236.5L102.8,234.9L101.8,233.3L101.1,231.9L100.4,230.6L99.4,228.4L97.9,226.8L97.5,225.2L98.5,224.1L98.8,223.0L98.0,222.5L98.2,220.8L98.7,219.4L99.7,218.7L100.2,217.6L101.1,216.2L101.4,214.4L101.2,213.3L100.9,212.5ZM119.3,276.7L120.6,277.7L121.7,278.3L122.9,279.0L121.6,279.3L120.7,279.4L119.8,279.6L117.8,278.7L118.2,277.7L118.6,277.0ZM169.7,181.6L171.5,182.0L173.2,182.4L175.0,181.6L176.8,180.9L178.1,180.7L179.5,180.6L180.8,180.5L182.1,180.4L183.7,180.0L184.8,180.3L184.4,181.1L185.0,182.3L184.2,183.4L184.8,183.9L185.4,184.5L186.8,184.8L187.8,185.1L188.8,185.4L189.4,186.4L190.4,186.7L191.4,187.0L192.8,187.6L193.3,186.6L193.2,185.7L194.0,184.9L195.9,185.1L197.7,185.8L198.6,186.1L199.6,186.4L201.5,186.9L203.2,186.2L204.5,186.6L206.2,186.5L207.0,188.4L206.6,190.3L206.0,190.5L206.5,192.2L208.0,194.4L209.5,196.5L209.9,198.7L210.1,200.3L211.2,201.4L211.8,203.0L212.6,203.9L213.8,205.2L215.1,206.5L216.0,207.3L216.0,207.9L217.2,209.1L218.7,208.7L220.5,208.2L221.9,208.0L223.5,207.6L223.4,209.0L223.3,210.6L222.5,211.7L221.7,213.8L220.7,215.4L219.3,217.6L217.9,218.5L216.5,219.8L215.1,221.4L214.1,222.5L213.1,223.5L212.4,225.4L211.9,227.3L212.5,228.9L212.8,231.1L213.4,232.7L213.4,234.1L213.4,235.4L213.2,236.5L211.7,238.7L210.6,239.5L209.6,240.3L207.8,241.9L208.1,244.1L208.0,246.0L206.8,246.9L205.6,247.8L205.2,248.4L205.2,250.5L204.6,251.6L203.4,252.7L201.9,254.3L200.4,255.6L198.5,256.8L196.7,257.1L194.8,257.2L193.0,257.9L191.7,257.2L191.5,255.9L191.2,254.3L190.7,252.8L190.2,251.2L189.1,249.5L188.8,247.3L188.5,245.1L188.1,244.0L187.6,242.8L187.0,241.5L186.3,240.3L186.1,239.0L186.3,237.5L186.5,236.0L187.8,233.8L187.5,231.6L187.5,229.8L187.1,228.3L186.7,226.9L186.2,225.2L185.0,223.5L183.9,221.4L184.1,219.2L184.3,217.1L183.4,215.7L182.1,215.5L180.7,215.7L179.8,214.4L178.8,213.4L176.9,213.5L175.0,214.3L173.1,215.1L171.2,214.7L169.5,215.1L167.9,215.5L166.0,214.4L164.1,212.8L162.5,211.1L162.1,209.7L160.8,208.4L159.4,207.1L159.1,205.7L158.5,204.4L159.4,203.0L160.0,200.9L159.6,199.2L159.1,197.6L159.6,196.3L160.1,194.9L161.3,193.3L162.5,191.1L163.9,190.1L165.8,189.0L166.2,187.4L166.1,185.7L167.3,184.3L168.9,183.6ZM170.0,181.4L171.0,180.7L172.1,180.7L173.2,180.7L174.6,179.7L175.2,178.4L174.7,177.7L175.8,176.0L176.8,175.6L177.8,175.1L177.7,173.9L178.9,173.5L180.2,173.8L181.5,173.1L182.5,172.4L183.8,172.9L184.1,174.0L185.4,175.0L186.8,175.8L188.2,176.9L188.8,177.1L189.1,178.4L188.9,179.3L189.4,179.3L190.1,178.2L189.6,177.0L190.1,176.7L191.3,177.0L190.8,176.4L189.0,175.5L187.1,174.4L186.6,173.3L185.6,172.3L185.5,171.5L186.7,171.0L186.6,171.7L187.9,172.3L188.8,173.4L190.1,173.9L191.5,175.0L192.1,176.0L192.0,176.8L193.1,177.7L193.6,178.7L194.2,180.3L195.1,180.9L195.5,179.8L196.3,179.3L195.3,178.2L194.8,176.6L196.0,176.3L197.8,176.3L198.3,176.9L198.1,177.8L198.9,178.7L199.3,180.3L200.5,180.8L202.3,181.1L203.6,181.3L205.4,181.1L207.0,180.6L207.3,181.6L207.3,183.0L206.9,184.7L206.4,186.3L206.2,186.5L207.0,188.4L207.7,190.1L208.8,192.2L209.8,193.8L210.8,194.9L211.6,197.1L212.5,198.7L213.5,200.3L214.5,201.9L215.4,204.1L216.0,206.3L216.2,206.6L217.6,206.5L219.0,205.8L220.9,205.2L222.2,204.3L223.2,203.9L224.3,203.5L225.4,202.5L226.7,201.4L228.1,200.9L229.2,199.8L229.8,198.2L230.8,196.0L229.7,194.9L228.0,194.4L227.4,193.4L227.1,192.0L226.5,192.8L225.2,194.3L223.4,194.4L222.7,192.8L222.8,192.3L222.2,192.2L221.2,191.7L220.7,190.6L219.6,189.5L219.0,188.1L219.4,187.9L220.8,187.7L221.9,189.2L223.4,190.6L225.4,191.6L226.9,191.0L228.1,192.4L229.7,192.9L230.9,193.0L232.1,193.1L233.2,193.0L234.4,193.0L235.5,192.9L236.7,192.9L237.4,193.6L238.3,194.6L239.2,196.0L240.2,195.6L239.4,196.2L241.0,197.8L242.8,197.1L243.0,198.4L243.3,199.8L243.8,201.4L244.3,203.0L244.9,204.4L245.5,205.7L246.6,207.9L247.1,209.2L247.7,210.6L248.7,211.6L249.3,210.7L250.3,209.2L250.7,207.9L251.0,205.7L250.6,203.6L251.8,202.7L252.7,201.9L254.4,200.3L256.0,198.7L256.3,197.1L257.7,196.9L259.0,196.5L260.4,196.0L261.0,197.6L261.7,198.7L263.3,200.3L263.7,201.7L264.1,203.0L265.1,203.2L266.9,202.5L267.4,204.6L267.9,206.0L268.4,207.3L268.5,209.5L268.4,211.1L268.7,211.9L270.2,213.3L270.6,214.9L271.3,217.1L272.7,218.1L273.7,218.9L274.4,218.7L273.6,216.5L273.5,214.9L272.3,213.6L271.6,213.0L270.6,212.2L270.0,210.6L269.1,209.0L269.3,207.3L269.6,205.7L270.5,205.8L271.1,206.6L272.7,207.9L274.2,209.0L274.8,210.9L276.2,210.0L277.0,209.0L278.4,207.9L278.5,206.3L278.1,204.1L276.8,202.5L275.1,200.9L274.2,199.8L274.7,198.2L275.9,197.1L277.3,197.1L278.2,198.4L278.3,197.3L279.2,197.0L280.5,196.3L281.6,196.2L283.1,195.6L284.3,194.6L285.4,193.1L285.6,191.7L286.0,190.1L286.7,188.0L285.5,187.0L286.3,186.8L285.1,185.7L284.0,184.1L282.4,182.7L282.5,181.4L282.8,181.2L284.2,180.3L282.5,179.5L281.5,180.1L280.1,179.0L279.1,178.2L279.9,177.7L280.9,176.3L282.2,176.6L282.2,178.2L283.0,177.7L284.3,177.1L285.2,177.7L286.2,179.3L287.6,180.0L288.1,181.3L288.6,182.5L289.0,183.1L290.6,182.5L291.0,182.0L290.5,180.3L288.8,178.7L287.4,177.7L287.7,176.6L288.5,176.0L288.5,174.7L289.0,173.7L290.6,174.1L291.7,173.1L292.2,171.2L292.4,169.7L292.5,168.1L291.3,166.5L290.7,165.2L290.0,163.9L288.3,162.9L287.1,162.6L285.8,162.4L284.6,161.9L282.9,161.3L283.1,159.8L283.3,158.8L283.5,157.8L284.3,157.0L285.2,157.0L286.1,156.9L287.3,157.0L288.5,157.0L289.3,156.9L290.1,156.7L292.3,157.3L293.2,156.8L292.5,155.8L292.5,154.8L293.3,154.7L294.0,154.5L296.1,155.3L296.4,156.6L296.7,157.8L297.0,158.8L298.7,160.8L300.5,162.9L302.2,164.2L303.8,165.5L303.5,163.6L303.5,162.4L302.9,160.3L301.9,158.5L300.5,157.8L300.4,156.4L300.9,155.8L302.7,156.1L304.5,156.3L304.8,155.8L305.2,155.3L305.5,154.8L305.8,154.4L306.6,153.9L307.4,153.4L305.1,151.9L303.9,151.7L303.2,151.9L303.7,151.3L305.3,151.4L302.7,149.6L300.0,147.8L297.9,147.4L295.9,147.0L294.5,147.0L293.0,146.9L291.4,146.7L290.7,147.0L290.0,147.2L288.9,147.1L287.8,147.1L286.9,147.2L286.0,147.3L283.3,146.1L281.9,146.0L280.5,145.8L279.4,146.0L278.2,146.1L276.0,145.5L274.5,145.1L273.0,144.8L271.8,144.7L270.6,144.5L269.3,144.6L268.0,144.6L267.8,145.4L266.8,145.4L265.8,145.4L264.6,145.3L263.5,145.2L263.3,146.1L261.5,145.5L258.9,144.2L258.0,143.7L257.1,143.7L256.3,143.7L255.3,144.0L254.2,144.2L252.9,143.9L251.6,143.7L250.4,143.6L249.2,143.6L248.2,143.5L246.7,143.3L245.8,143.7L245.5,144.0L245.5,142.9L245.9,142.4L246.2,141.9L247.0,141.8L245.7,141.4L244.5,141.1L243.2,140.9L241.9,140.7L240.6,140.5L239.2,140.2L238.8,140.6L238.3,140.9L237.8,141.2L236.8,141.4L235.7,141.6L234.6,141.8L233.6,142.0L232.5,142.1L231.3,142.3L230.6,142.9L229.9,143.5L228.8,143.6L227.8,143.7L228.8,145.1L227.9,144.9L227.0,144.8L225.8,145.1L225.8,145.9L226.0,147.1L226.3,148.2L224.7,146.8L224.1,145.7L223.4,144.6L222.0,144.2L220.6,143.7L220.8,144.8L221.1,145.9L221.5,147.7L219.9,147.5L218.8,147.2L217.6,147.0L216.6,147.0L215.7,147.9L214.5,148.1L213.4,148.3L212.2,147.9L211.1,148.3L210.1,148.7L209.1,148.8L208.1,148.9L206.4,148.2L206.2,149.6L205.3,148.2L205.3,150.0L204.3,150.3L204.1,151.8L202.7,152.1L201.4,152.4L200.4,151.9L200.5,150.7L199.5,150.4L198.5,150.0L199.6,150.1L200.7,150.2L201.9,150.1L203.1,150.0L204.3,149.9L203.2,149.1L201.6,148.4L200.4,148.0L199.2,147.6L197.8,147.4L196.3,147.0L194.8,146.4L193.6,146.1L192.5,145.8L191.6,146.1L190.7,146.3L189.7,146.6L188.7,146.8L187.7,147.2L186.8,147.6L185.5,148.4L184.5,149.1L184.0,150.5L183.0,151.7L182.0,152.6L180.5,153.4L179.1,154.1L178.8,155.3L178.8,156.8L179.2,157.5L180.2,158.2L181.2,158.2L182.3,157.3L183.0,156.4L183.5,157.3L184.1,158.1L184.8,159.8L185.3,160.9L186.3,160.9L186.7,160.1L188.0,159.8L188.1,158.5L189.2,157.0L188.5,155.7L188.0,154.1L189.0,152.9L190.3,151.9L190.9,151.0L192.2,150.7L193.4,151.5L192.9,152.4L192.0,153.1L191.0,153.9L191.2,155.5L192.1,156.3L193.1,156.2L194.0,156.0L195.5,155.8L197.0,156.1L198.0,156.4L196.8,156.7L195.8,156.8L194.9,156.8L193.4,157.0L193.1,157.5L193.8,158.0L193.7,159.0L192.7,158.9L191.8,158.8L191.5,159.8L191.8,161.0L190.6,162.0L189.8,161.6L188.2,161.9L187.3,162.2L186.4,162.5L185.0,162.0L183.8,162.4L183.6,161.8L182.9,160.8L183.1,159.7L183.2,158.6L181.6,159.2L181.4,160.8L182.0,161.9L181.9,162.5L180.6,162.9L179.0,163.1L178.7,164.2L177.9,165.0L177.1,165.4L176.3,165.7L176.2,166.4L175.2,166.8L174.0,167.1L173.7,166.9L173.7,167.9L172.5,167.8L171.1,168.2L171.4,168.8L172.9,169.3L174.0,170.5L174.0,172.1L173.7,173.4L172.4,173.5L170.7,173.4L169.0,173.3L167.8,173.5L167.0,173.9L167.3,175.0L167.3,176.6L166.6,178.4L167.2,178.9L167.1,180.3L168.3,180.1L169.3,180.6ZM44.7,151.4L46.3,151.0L47.1,151.1L47.9,151.2L48.2,151.9L49.1,152.1L49.6,151.5L51.7,151.0L53.5,150.4L53.2,149.7L52.4,149.4L51.6,149.1L51.1,148.7L50.7,148.3L50.0,147.8L47.3,149.6ZM170.3,166.4L171.7,166.1L172.7,165.9L173.8,165.8L174.9,165.6L176.1,165.4L176.4,163.7L175.2,163.1L174.8,162.3L174.0,161.5L173.7,160.7L173.3,160.2L173.6,158.8L172.3,158.6L172.6,157.7L171.1,157.7L170.5,158.8L170.7,160.1L171.2,160.8L171.0,161.6L172.2,162.0L172.6,163.0L171.4,163.1L171.6,163.8L170.8,164.6L172.4,165.0L171.3,165.3ZM170.1,164.4L169.9,163.1L170.2,161.9L169.0,161.0L168.2,161.8L167.0,162.2L167.1,163.1L166.6,164.4L167.4,164.9L168.9,164.4ZM158.9,152.5L160.3,152.8L161.7,153.0L162.9,152.6L164.1,152.1L165.2,151.3L164.4,150.2L163.6,150.3L162.8,150.3L161.9,150.4L161.0,150.4L160.0,150.3L158.9,150.1L159.1,151.0L157.7,151.2L159.0,151.9ZM131.0,139.8L132.6,139.4L134.2,139.0L135.9,138.5L137.4,138.0L139.0,137.6L140.5,137.2L141.5,137.1L142.6,137.0L143.6,136.9L144.7,136.8L145.7,136.8L146.7,136.7L147.8,136.7L149.0,136.6L150.2,136.4L151.4,136.3L152.4,136.3L153.4,136.2L154.5,136.1L155.5,136.1L156.4,136.1L157.4,136.1L158.4,136.2L159.3,136.2L160.4,136.3L161.5,136.4L162.6,136.6L163.5,136.7L164.4,136.8L165.3,137.0L166.1,137.1L166.9,137.2L167.8,137.4L166.6,137.7L165.3,138.0L164.2,139.0L163.3,140.2L162.8,141.6L161.7,142.9L160.5,144.2L159.6,145.2L158.6,145.6L157.7,145.9L158.6,146.7L157.4,147.4L156.2,148.1L155.0,148.2L153.8,148.3L152.6,148.4L151.1,149.3L149.6,150.3L148.4,150.6L147.3,150.9L146.4,151.2L145.6,151.5L144.7,152.7L143.8,153.9L142.0,155.8L141.3,156.4L140.2,155.7L138.9,155.1L138.0,153.6L137.7,152.4L137.2,151.0L136.7,150.1L137.9,148.5L139.5,147.3L138.8,146.8L138.2,146.4L138.6,145.5L138.3,144.4L137.9,143.3L138.0,142.4L137.3,141.9L136.5,141.5L135.5,141.4L134.5,141.4L133.5,141.3L132.7,141.1L131.9,141.0L131.1,140.8L131.1,139.9ZM131.0,150.0L130.0,149.1L129.2,148.4L128.3,147.5L128.0,146.7L127.1,146.1L126.2,145.5L125.3,144.9L124.4,144.7L123.6,144.5L122.9,144.0L122.3,143.6L121.3,143.6L120.3,143.7L119.3,143.7L118.1,144.0L116.9,144.2L115.1,144.7L115.1,145.9L115.6,146.3L116.2,146.7L117.4,146.8L118.5,147.2L120.2,146.8L121.5,146.9L122.3,147.3L120.6,148.2L121.2,148.6L121.8,149.0L122.8,149.8L123.6,149.6L122.5,150.7L120.9,151.7L121.9,152.4L122.8,153.4L124.0,154.1L125.0,154.3L126.0,154.5L126.1,153.6L127.4,153.1L127.6,151.9L129.0,151.5L130.2,150.5ZM94.7,145.7L96.9,144.6L98.3,144.3L99.7,143.9L100.6,144.1L101.5,144.4L103.0,144.0L104.5,143.7L104.9,144.0L105.3,144.4L104.4,145.8L105.0,146.6L105.2,147.3L104.1,147.6L103.1,147.9L102.1,147.8L101.2,147.6L99.8,147.9L98.4,148.1L97.1,148.2L95.7,148.3L95.1,147.9L94.4,147.6L94.6,146.7L96.1,146.3L95.0,146.0ZM91.1,145.1L91.7,144.4L94.1,143.1L95.3,143.0L96.4,142.9L97.5,143.0L98.7,143.1L99.2,143.7L97.2,144.4L94.7,145.4L93.4,145.6L92.1,145.8L91.6,145.5ZM124.6,141.4L123.6,141.3L122.6,141.3L121.5,141.3L120.5,141.2L119.5,141.2L119.7,140.4L121.6,139.8L121.5,139.1L121.2,138.3L121.6,137.6L122.9,137.5L124.3,137.3L125.6,137.1L127.0,137.0L128.3,136.8L129.6,136.7L130.8,136.6L132.0,136.5L133.3,136.5L134.5,136.4L135.6,136.4L136.6,136.5L137.7,136.5L138.8,136.6L139.4,136.7L139.9,136.9L138.7,137.1L137.5,137.4L136.2,137.7L134.9,138.0L133.8,138.3L132.8,138.6L131.4,138.9L130.1,139.2L128.7,139.7L126.6,140.6L125.0,141.0ZM116.1,139.6L116.7,140.1L118.1,139.8L119.5,139.5L121.1,138.5L120.9,138.0L120.8,137.6L119.7,137.7L118.6,137.9L117.0,138.6ZM123.3,142.9L123.6,141.5L122.7,141.3L121.7,141.1L120.8,141.1L119.9,141.1L118.9,141.1L117.8,141.3L116.7,141.5L117.2,142.1L117.7,142.4L118.2,142.7L119.1,142.8L120.0,142.9L121.1,142.9L122.2,142.9ZM111.1,145.1L112.5,145.1L113.9,144.6L115.2,144.2L115.7,143.3L114.6,143.3L113.5,143.2L112.3,144.0ZM106.7,145.5L107.6,145.7L108.6,145.9L110.6,144.9L111.5,143.7L110.8,143.5L110.1,143.4L109.0,143.7L107.8,144.1L106.9,144.6ZM100.6,142.1L102.9,141.1L104.1,141.2L105.3,141.2L106.1,141.3L106.9,141.5L107.5,142.0L106.5,142.5L105.3,142.6L104.2,142.6L103.0,142.8L101.8,143.0L100.8,142.9L99.8,142.8ZM110.3,142.3L111.1,142.3L111.8,142.4L113.6,141.4L113.0,141.3L112.3,141.1L110.5,141.6ZM116.2,152.1L114.8,152.7L113.4,152.8L112.1,152.9L111.4,152.2L112.7,151.0L114.5,150.4L115.4,150.7L115.6,151.5ZM125.1,169.0L126.5,169.0L127.9,169.0L128.8,169.5L129.7,170.0L130.7,169.1L130.2,168.3L131.0,167.0L130.0,166.9L129.0,166.7L129.3,165.0L127.6,165.9L126.0,167.6ZM71.7,168.3L70.7,168.0L69.9,167.0L69.2,165.8L70.3,165.9L71.3,166.5L71.9,167.3ZM95.7,196.6L97.6,195.6L99.5,195.4L100.8,196.0L102.6,196.9L104.4,197.6L105.5,198.5L104.2,198.6L102.8,198.8L102.3,198.1L101.4,197.1L100.4,196.8L99.4,196.4L98.0,196.0L96.6,196.6ZM105.1,200.4L107.1,198.8L108.9,198.9L110.2,199.8L110.8,200.3L109.2,200.6L107.8,201.2L106.6,200.6ZM101.4,200.5L102.7,200.3L103.4,200.9L102.1,201.1ZM111.8,200.9L113.4,200.6L113.0,200.3L111.9,200.3ZM181.7,139.6L182.7,138.6L183.9,138.6L185.1,138.5L185.9,138.3L186.8,138.1L188.0,138.2L189.2,138.3L190.1,138.4L191.0,138.5L190.1,138.8L189.3,139.2L188.4,139.6L187.3,140.2L186.2,140.8L185.4,140.8L184.7,140.8L183.6,140.2L182.6,139.9ZM209.7,145.5L210.1,143.7L210.7,143.3L211.2,142.9L211.9,142.0L212.9,141.6L213.9,141.2L215.1,141.1L216.2,140.9L217.3,140.8L216.8,141.3L216.2,141.8L215.4,142.2L214.6,142.5L213.8,142.9L213.2,143.5L212.6,144.2L213.0,145.5L212.4,145.8L211.7,146.1L210.7,145.8ZM230.6,138.8L232.4,139.3L234.2,139.8L235.3,139.7L236.3,139.5L237.3,139.4L237.8,139.1L238.3,138.8L236.3,138.2L234.2,137.6L233.2,137.6L232.2,137.6L231.2,137.6L230.2,137.6ZM263.3,142.9L264.9,143.2L266.6,143.6L267.8,143.7L269.1,143.7L269.8,143.4L270.5,143.1L271.1,142.7L269.5,142.3L267.9,142.0L266.7,141.9L265.4,141.7L264.2,141.6L263.3,141.8L262.3,142.0ZM295.9,145.9L296.2,145.5L297.2,146.1ZM295.7,170.7L296.6,170.2L295.4,168.9L294.2,167.6L295.5,167.6L293.9,166.2L292.4,164.9L290.3,162.9L289.2,162.1L289.3,162.9L290.6,164.2L291.9,165.5L292.8,166.8L293.7,168.1L294.5,169.1ZM297.1,175.5L298.0,175.2L299.6,175.0L300.2,174.3L300.7,173.7L299.3,172.8L297.7,172.1L296.1,171.4L296.3,172.3L297.1,173.7L296.4,174.4ZM293.2,183.6L293.9,182.0L295.2,181.9L296.5,181.7L296.8,180.1L298.2,179.8L298.4,177.7L297.2,175.7L298.6,175.7L300.1,177.7L300.0,178.9L300.9,180.9L301.2,182.3L300.2,182.5L299.7,182.9L298.4,182.9L298.0,184.0L296.7,183.3L294.9,183.3L293.8,183.8ZM292.4,184.1L293.3,183.7L294.4,184.7L294.7,186.5L294.1,186.7L293.2,185.2ZM295.1,184.7L295.0,183.5L296.4,183.4L296.7,184.1L295.7,185.0ZM286.9,195.5L287.7,196.5L288.2,195.5L288.2,193.3L287.3,193.2L286.8,194.4ZM276.9,199.6L277.9,200.6L278.8,200.1L279.1,199.0L278.0,198.6L276.9,198.9ZM250.9,211.4L251.0,209.7L252.0,210.8L252.9,212.4L252.1,213.8L251.3,213.5ZM287.9,202.8L288.1,201.6L288.2,200.3L289.8,200.3L290.0,202.5L289.9,204.5L291.1,205.4L292.4,206.3L291.4,206.3L289.5,205.5L289.0,204.6L288.1,203.6ZM291.1,212.7L292.5,211.9L292.9,211.1L294.2,210.0L295.3,211.7L295.1,213.5L294.5,214.0L293.2,213.6L292.0,212.2ZM290.8,209.0L292.1,207.9L293.4,206.8L294.1,208.4L293.2,209.5L291.9,210.4ZM278.9,218.7L279.9,218.5L281.3,217.6L282.7,216.8L283.6,215.4L285.0,214.7L286.1,212.8L287.2,213.8L288.3,214.7L287.4,215.7L287.0,217.1L287.5,219.2L287.1,220.3L286.1,221.9L285.6,224.1L284.1,224.4L282.7,223.8L281.3,223.9L280.1,223.5L279.9,221.9L279.0,220.8ZM265.8,214.3L266.8,214.5L267.9,214.7L269.1,216.2L270.6,217.8L271.8,218.7L273.7,220.3L274.7,221.4L276.0,223.5L275.9,225.1L275.7,226.6L274.5,226.6L273.5,225.6L272.5,224.6L271.3,223.0L269.9,220.8L268.9,218.7L267.5,217.1L266.0,215.4ZM275.1,227.6L275.9,226.7L277.0,226.9L278.1,227.1L279.1,227.4L280.2,227.6L282.1,227.8L283.9,228.6L283.8,229.7L282.7,229.5L281.5,229.3L280.1,229.0L278.7,228.7L277.5,228.5L276.3,228.3ZM284.3,229.2L285.2,229.8L286.7,229.6L288.1,229.5L290.0,229.9L291.9,229.5L292.0,228.9L290.1,229.0L288.2,229.0L287.0,229.0L285.8,228.9ZM292.7,231.3L293.8,230.0L294.9,229.7L295.9,229.4L295.2,230.0L293.2,231.4ZM288.8,226.2L289.8,226.2L290.0,224.9L290.2,223.5L290.8,225.4L292.0,225.5L291.5,223.5L290.4,221.9L292.3,221.4L291.4,219.8L292.6,219.8L293.8,219.8L294.4,218.7L293.3,219.3L291.8,219.1L290.4,218.9L289.5,219.8L289.1,221.4L288.2,223.5L288.5,224.9ZM296.6,220.8L297.6,220.3L297.1,218.7L297.5,217.9L296.7,218.7ZM297.0,224.0L298.3,224.2L299.7,224.4L298.9,223.4L297.5,223.4ZM299.9,221.4L301.4,220.7L302.8,221.3L303.2,222.6L303.7,223.9L304.9,222.9L306.1,221.9L307.3,222.4L308.5,222.9L310.4,223.8L311.5,224.1L312.7,224.5L314.1,226.0L315.4,227.0L315.5,228.9L316.6,230.2L318.1,231.6L316.4,231.4L314.6,231.1L314.0,230.0L313.4,228.8L312.0,228.6L311.2,230.2L310.4,230.3L309.0,230.1L307.6,229.0L306.7,229.3L306.4,228.0L306.2,226.8L304.6,225.4L302.7,224.6L301.3,223.8L301.3,223.0L299.9,221.9ZM316.4,226.2L317.9,225.7L319.4,224.8L320.0,225.2L319.3,226.2L317.8,227.1ZM281.0,244.1L281.6,244.4L281.1,246.4L280.6,248.4L280.0,248.9L280.1,251.1L280.1,253.2L280.0,255.4L278.8,257.0L279.8,258.1L281.1,258.1L283.4,256.9L285.2,256.8L287.4,255.9L289.5,255.2L291.0,254.9L292.5,254.5L293.6,254.4L294.8,254.3L296.3,255.1L296.5,256.3L296.6,257.6L297.8,257.0L299.6,255.9L299.2,257.6L299.6,257.9L299.0,258.7L299.7,259.7L299.4,261.1L300.4,261.8L301.9,262.2L303.4,261.9L304.2,262.5L306.5,261.1L308.5,260.8L309.5,259.2L311.1,257.6L312.4,256.2L313.7,254.9L315.3,252.7L316.4,250.5L316.8,248.4L316.8,247.3L315.6,245.7L315.0,244.4L314.4,243.0L313.3,241.4L312.4,240.3L312.5,238.7L312.2,236.5L311.6,235.7L310.9,234.1L310.6,233.0L310.2,231.9L309.3,233.8L309.0,235.2L308.7,236.5L308.1,237.8L307.5,239.1L306.2,239.2L304.7,237.6L303.0,236.5L303.8,234.3L304.6,233.5L303.4,233.3L302.3,233.0L301.1,232.7L299.7,232.5L298.1,233.8L297.4,236.0L295.9,236.5L294.6,235.4L293.0,236.5L291.3,238.4L289.9,239.7L288.5,241.4L286.5,241.9L284.5,242.5L282.9,243.5ZM301.7,264.2L303.1,264.7L304.8,264.4L303.8,265.8L301.8,267.2L300.9,267.2L301.2,265.8ZM330.7,257.5L331.1,258.6L331.6,260.0L331.4,261.0L333.3,260.9L333.0,262.0L331.1,262.7L328.9,264.6L327.8,265.1L327.5,264.8L328.8,263.5L328.4,262.6L330.0,261.3L330.9,259.7L330.4,258.3ZM326.4,264.0L327.1,264.9L325.2,266.5L323.8,267.5L321.8,268.3L320.3,269.7L318.5,270.5L317.5,270.5L316.5,269.9L317.8,268.8L319.9,267.8L322.5,266.7L324.3,265.4ZM221.7,233.3L222.1,234.6L222.4,236.0L222.6,237.4L221.9,238.7L221.3,240.3L220.5,242.4L219.8,244.6L219.3,245.8L218.8,247.1L217.2,247.8L215.8,247.3L215.6,245.7L215.4,244.1L216.2,241.9L216.6,239.7L216.5,238.1L218.4,237.4L219.9,236.0L220.9,234.3ZM186.0,179.5L187.2,180.1L188.5,180.7L188.7,179.0L187.0,179.2ZM182.4,178.2L183.5,178.1L183.6,176.2L182.2,176.2ZM182.5,175.6L183.2,175.6L183.2,173.9L182.5,174.7ZM196.1,182.2L197.4,182.3L198.6,182.4L198.5,182.2L197.3,182.0L196.2,181.9ZM204.1,182.8L205.6,182.6L206.0,181.9L205.1,182.1L204.2,182.3ZM300.6,172.8L301.1,171.8L301.0,172.3ZM28.7,199.8L29.6,199.5L29.6,198.6L29.0,198.5ZM64.7,300.6L66.1,300.7L67.5,300.8L68.9,300.8L70.3,300.9L71.7,301.0L73.2,301.1L74.8,301.3L76.3,301.4L77.9,301.6L79.4,301.8L80.1,301.6L80.8,301.5L81.6,301.4L81.7,300.9L81.9,300.5L82.0,300.0L82.3,299.5L82.6,299.0L83.7,298.8L84.7,298.7L85.8,298.6L86.4,298.3L87.0,298.0L87.7,297.7L88.7,297.6L89.6,297.5L90.6,297.4L91.6,297.3L92.9,297.2L94.1,297.2L95.4,297.2L96.6,297.1L97.8,297.2L99.1,297.3L100.3,297.5L101.5,297.5L102.7,297.6L103.9,297.7L104.8,297.6L105.8,297.4L106.7,297.3L107.7,297.1L108.3,296.8L109.0,296.4L110.1,296.4L111.2,296.4L112.3,296.4L113.4,296.4L114.5,296.4L115.6,296.4L116.8,296.6L118.0,296.7L119.3,296.9L120.2,296.7L121.2,296.6L122.2,296.4L123.3,296.2L124.5,296.0L125.3,295.3L126.2,294.7L127.4,294.4L128.7,294.2L128.3,292.4L128.6,290.6L129.3,289.8L130.1,289.1L131.1,288.3L132.2,287.5L133.0,287.7L132.4,288.3L131.8,288.9L131.3,290.1L130.9,291.5L131.6,293.3L133.6,295.1L135.0,296.9L134.5,298.1L133.8,298.6L133.0,299.0L132.3,299.4L131.4,299.8L130.5,300.2L129.3,300.2L128.1,300.2L127.6,301.0L129.2,301.4L130.8,301.8L132.3,302.1L133.4,302.0L134.4,301.8L135.5,301.7L136.6,301.5L137.6,301.4L138.7,301.4L139.7,301.4L140.8,301.4L141.9,301.4L143.0,301.3L144.2,301.2L145.3,301.1L146.5,301.1L147.7,301.0L148.6,300.9L149.5,300.7L150.5,300.6L151.4,300.5L152.4,300.3L153.4,300.2L154.3,299.9L155.2,299.7L156.2,299.4L157.3,299.0L158.4,298.6L159.6,298.1L160.8,297.7L162.0,297.3L163.0,297.0L164.0,296.7L165.1,296.4L166.1,296.0L167.2,295.5L168.3,295.1L169.4,295.0L170.5,294.8L171.6,294.7L172.7,294.5L173.9,294.4L175.0,294.2L176.1,294.1L177.3,293.9L178.4,293.8L179.6,293.8L180.7,293.8L181.9,293.8L183.0,293.8L184.1,293.8L185.3,293.8L186.4,293.8L187.5,293.9L188.7,293.9L189.8,294.0L190.9,294.0L192.1,294.0L193.3,293.9L194.4,293.7L195.6,293.6L196.7,293.5L197.8,293.3L198.8,293.3L199.8,293.3L201.3,293.1L202.7,292.9L204.0,292.5L205.3,292.1L206.6,291.8L207.9,291.5L209.2,291.3L210.5,291.0L211.7,290.9L213.0,290.7L214.2,290.6L215.3,290.8L216.4,291.0L217.4,291.3L218.5,291.5L219.6,291.6L220.7,291.8L221.8,291.6L223.0,291.5L223.8,292.4L224.4,293.8L221.8,295.5L223.3,295.0L224.9,294.4L226.4,293.8L228.1,293.3L229.6,292.6L231.1,291.9L232.5,291.6L234.0,291.2L235.4,290.8L236.6,290.7L237.8,290.6L239.2,290.6L240.6,290.6L242.1,290.5L243.6,290.4L245.2,290.2L246.7,290.1L247.9,290.1L249.1,290.1L250.3,290.1L251.4,290.1L252.6,290.2L253.7,290.3L254.7,290.5L255.7,290.6L256.7,290.8L257.9,290.9L259.0,291.0L260.1,291.0L261.5,290.9L262.8,290.7L264.1,290.6L265.4,290.5L266.7,290.4L267.9,290.4L269.2,290.3L270.5,290.2L271.8,290.1L272.7,290.3L273.6,290.6L274.5,290.8L275.4,291.0L276.4,291.3L277.3,291.5L278.1,291.8L278.9,292.1L279.6,292.4L280.6,292.6L281.5,292.7L282.5,292.9L283.2,293.2L284.0,293.5L284.7,293.8L285.5,294.0L286.2,294.2L287.0,294.5L287.8,294.7L288.6,294.9L289.4,295.1L287.6,296.4L285.3,297.1L283.0,297.7L280.9,298.3L278.7,299.0L275.7,300.2L275.8,300.6L275.9,301.0L277.1,301.0L278.3,301.0L279.4,300.9L280.6,300.9L281.7,300.8L282.9,300.8L284.1,300.7L285.3,300.6L281.7,302.1L278.2,303.5L274.8,304.8L271.7,305.8L268.9,306.7L266.4,307.4L265.4,307.4L264.3,307.4L263.3,307.4L262.3,307.4L261.3,307.4L260.3,307.4L259.3,307.4L258.3,307.4L257.2,307.4L256.2,307.4L255.2,307.4L254.2,307.4L253.2,307.4L252.2,307.4L251.1,307.4L250.1,307.4L249.1,307.4L248.1,307.4L247.1,307.4L246.1,307.4L245.1,307.4L244.0,307.4L243.0,307.4L242.0,307.4L241.0,307.4L240.0,307.4L239.0,307.4L237.9,307.4L236.9,307.4L235.9,307.4L234.9,307.4L233.9,307.4L232.9,307.4L231.9,307.4L230.8,307.4L229.8,307.4L228.8,307.4L227.8,307.4L226.8,307.4L225.8,307.4L224.8,307.4L223.7,307.4L222.7,307.4L221.7,307.4L220.7,307.4L219.7,307.4L218.7,307.4L217.6,307.4L216.6,307.4L215.6,307.4L214.6,307.4L213.6,307.4L212.6,307.4L211.6,307.4L210.5,307.4L209.5,307.4L208.5,307.4L207.5,307.4L206.5,307.4L205.5,307.4L204.4,307.4L203.4,307.4L202.4,307.4L201.4,307.4L200.4,307.4L199.4,307.4L198.4,307.4L197.3,307.4L196.3,307.4L195.3,307.4L194.3,307.4L193.3,307.4L192.3,307.4L191.2,307.4L190.2,307.4L189.2,307.4L188.2,307.4L187.2,307.4L186.2,307.4L185.2,307.4L184.1,307.4L183.1,307.4L182.1,307.4L181.1,307.4L180.1,307.4L179.1,307.4L178.0,307.4L177.0,307.4L176.0,307.4L175.0,307.4L174.0,307.4L173.0,307.4L172.0,307.4L170.9,307.4L169.9,307.4L168.9,307.4L167.9,307.4L166.9,307.4L165.9,307.4L164.8,307.4L163.8,307.4L162.8,307.4L161.8,307.4L160.8,307.4L159.8,307.4L158.8,307.4L157.7,307.4L156.7,307.4L155.7,307.4L154.7,307.4L153.7,307.4L152.7,307.4L151.6,307.4L150.6,307.4L149.6,307.4L148.6,307.4L147.6,307.4L146.6,307.4L145.6,307.4L144.5,307.4L143.5,307.4L142.5,307.4L141.5,307.4L140.5,307.4L139.5,307.4L138.4,307.4L137.4,307.4L136.4,307.4L135.4,307.4L134.4,307.4L133.4,307.4L132.4,307.4L131.3,307.4L130.3,307.4L129.3,307.4L128.3,307.4L127.3,307.4L126.3,307.4L125.2,307.4L124.2,307.4L123.2,307.4L122.2,307.4L121.2,307.4L120.2,307.4L119.2,307.4L118.1,307.4L117.1,307.4L116.1,307.4L115.1,307.4L114.1,307.4L113.1,307.4L112.1,307.4L111.0,307.4L110.0,307.4L109.0,307.4L108.0,307.4L107.0,307.4L106.0,307.4L104.9,307.4L103.9,307.4L102.9,307.4L101.9,307.4L100.9,307.4L99.9,307.4L98.9,307.4L97.8,307.4L96.8,307.4L95.8,307.4L94.8,307.4L93.8,307.4L92.8,307.4L91.7,307.4L90.7,307.4L89.7,307.4L88.7,307.4L87.7,307.4L86.7,307.4L85.7,307.4L84.6,307.4L83.6,307.4L81.1,306.7L78.3,305.8L75.2,304.8L71.8,303.5L68.3,302.1ZM97.9,141.4L99.3,141.0L100.6,140.6L101.4,140.8L102.1,141.1L99.6,142.0L98.7,142.0L97.9,142.0ZM113.1,142.7L113.9,142.7L114.7,142.7L115.7,141.8L114.6,141.9L113.5,142.0ZM111.5,139.8L112.7,139.7L113.9,139.6L114.6,139.3L113.5,139.2L112.4,139.3L111.2,139.4ZM114.8,140.2L115.8,139.5L116.7,139.6L115.5,140.3ZM106.8,147.7L107.3,148.2L108.6,147.9L109.0,147.0L107.6,147.1ZM112.7,154.2L114.5,153.7L114.0,153.4ZM201.7,138.5L202.6,138.3L203.5,138.1L204.4,137.9L205.3,137.8L206.4,137.6L207.4,137.5L208.5,137.4L209.5,137.2L210.9,137.5L212.3,137.8L211.3,138.0L210.4,138.2L209.4,138.5L208.2,138.5L207.1,138.6L205.9,138.6L204.7,138.6L203.7,138.6L202.7,138.5ZM54.1,159.1L55.2,159.1L56.6,158.6L56.6,158.0L55.2,158.4ZM68.2,162.4L69.2,162.4L68.3,164.2L67.7,163.9ZM48.4,153.0L49.1,153.1L49.7,153.3L50.5,153.1L50.0,152.9L49.5,152.6ZM47.9,156.3L48.8,156.4L49.2,155.9ZM124.7,275.4L125.6,275.4L126.6,275.3L127.7,275.8L127.0,276.5L125.7,276.3ZM144.5,278.2L146.1,278.4L145.8,278.8L144.7,278.5ZM87.7,220.8L88.7,220.5L89.0,221.3L88.0,221.4ZM11.5,234.9L12.8,235.2L12.4,235.5ZM34.2,239.2L34.7,239.4L34.4,239.6ZM341.8,239.2L343.1,239.0L342.6,240.0L341.8,239.8ZM343.5,237.9L344.7,237.9L344.0,238.6ZM328.6,242.1L330.2,243.2L330.8,244.4L330.4,244.4L328.9,243.0ZM332.2,236.5L332.9,236.7L332.6,238.1L332.2,237.4ZM323.9,227.6L325.1,228.4L326.2,229.3L327.7,230.9L328.3,231.3L327.5,230.0L326.3,228.4L324.9,227.3ZM322.3,225.7L323.1,226.5L323.4,227.5L322.7,227.3L322.3,226.3ZM318.5,223.0L319.9,224.1L320.8,225.4L320.3,225.2L318.9,223.5ZM262.7,205.7L263.1,206.8L263.0,208.4L262.7,207.6ZM158.5,189.3L159.8,189.1L161.2,188.9L162.6,188.8L162.3,189.8L160.7,190.3L159.6,189.8ZM151.2,201.8L152.3,202.1L153.3,202.4L152.8,204.1L151.9,204.2L151.5,203.0ZM149.8,178.7L151.1,178.4L152.6,179.5L151.2,179.1ZM102.9,191.5L103.8,191.7L103.2,193.0L102.7,194.4L103.7,194.6L104.7,194.9L106.0,196.0L104.4,193.8L103.6,192.7ZM116.2,209.4L117.1,209.4L117.1,208.6L116.3,208.7ZM212.3,226.6L212.7,227.0L212.6,227.3ZM226.7,243.0L227.2,243.2L226.9,243.4ZM228.7,241.9L229.1,242.1L228.8,242.4ZM225.5,206.7L226.6,206.7L226.4,207.0ZM286.4,211.2L287.6,210.3L288.7,209.0L288.2,208.1L287.1,209.7ZM27.1,197.0L27.7,197.3L27.7,196.9ZM28.4,197.7L29.0,197.9L28.5,198.1ZM25.8,196.5L26.3,196.3L26.0,196.3ZM40.7,162.9L42.1,162.4L40.3,162.6ZM36.5,163.8L38.1,163.5L36.5,163.5ZM32.6,164.4L34.2,164.1L33.2,164.1L32.1,164.1ZM29.0,164.7L30.8,164.6L29.6,164.6L28.4,164.5ZM320.0,164.6L321.5,164.8L320.6,164.4ZM314.8,163.5L316.1,163.6L315.3,163.3ZM301.3,171.5L302.0,171.0L302.7,170.5L302.0,170.7ZM303.4,169.7L303.5,167.8L303.4,168.6ZM303.8,167.0L303.8,165.7L303.8,166.3ZM232.4,273.0L233.7,273.2L232.9,273.8ZM199.2,175.0L199.1,173.4L200.2,171.6L201.1,170.2L202.6,170.7L203.7,172.2L205.3,171.8L207.1,172.1L208.0,172.5L209.5,173.5L211.2,175.4L210.0,176.0L208.3,176.2L206.4,175.4L204.6,175.0L202.9,175.2L201.2,175.8L200.2,175.8Z"/>
<path id="lakes" d="M97.1,170.0L97.9,170.0L98.8,170.1L99.8,170.1L100.9,170.2L102.0,170.0L103.1,169.9L103.3,170.2L103.6,169.1L103.1,168.1L102.0,168.1L101.0,168.1L99.9,168.6L98.5,169.3ZM98.6,175.0L99.8,174.8L100.7,173.4L102.1,171.2L102.9,170.8L101.9,170.8L100.2,171.8L99.5,172.8ZM103.6,173.9L104.9,172.3L106.1,171.5L105.8,170.6L104.7,170.6L103.7,170.5L103.1,171.0L103.8,171.6L103.4,172.6L103.8,173.4ZM102.3,175.3L103.4,175.2L104.5,175.2L106.6,174.1L105.6,174.3L104.5,174.5L103.3,174.8ZM106.1,173.6L107.3,173.6L108.5,173.6L109.5,172.7L108.4,172.8L106.5,173.2ZM94.9,166.1L96.1,164.9L96.3,163.8L96.5,162.7L95.0,163.2L94.9,164.6ZM86.7,155.3L87.9,155.2L89.2,155.1L91.5,154.2L92.8,153.9L94.1,153.7L92.5,153.9L91.4,153.9L90.2,153.9L88.1,154.6ZM84.4,151.5L87.1,150.2L88.7,150.1L90.2,150.0L90.2,150.7L88.7,151.1L87.2,151.6L86.1,151.3ZM88.9,157.8L90.0,157.6L91.2,157.3L92.4,157.2L93.6,157.1L91.8,157.5L90.5,157.8L89.1,158.0ZM259.9,164.8L261.3,164.7L262.0,164.2L262.6,163.7L262.7,161.9L261.7,160.6L261.4,161.3L261.2,163.4L260.3,164.5ZM237.5,170.8L238.1,170.1L239.4,170.2L240.5,170.3L241.6,170.4L242.1,170.1L241.3,169.8L240.3,169.8L239.2,169.8L237.9,169.7L237.2,170.1ZM225.3,172.8L225.4,171.8L226.3,170.5L227.4,171.2L227.0,172.6L226.3,173.4ZM205.2,220.8L206.0,220.0L207.4,220.1L207.9,220.8L206.9,223.0L205.5,222.8ZM202.8,223.9L203.1,223.9L203.6,225.3L204.0,226.8L204.3,228.2L204.5,229.6L204.0,229.7L203.6,228.5L203.2,227.3L202.7,225.7ZM207.4,230.6L207.9,230.7L208.1,232.0L208.4,233.3L208.4,234.5L208.4,235.7L207.9,235.7L207.7,234.5L207.5,233.3L207.3,231.6ZM187.8,206.5L188.7,206.8L189.2,205.9L188.5,205.2L187.6,205.4ZM197.9,156.3L198.7,156.1L199.6,155.8L199.9,155.1L198.2,154.6L197.6,155.3ZM201.0,155.3L202.1,155.1L202.0,153.9L200.9,153.5L200.6,154.4ZM109.1,236.8L109.9,237.4L110.2,238.0L109.5,237.6L108.9,237.0ZM215.2,172.0L215.4,171.0L216.7,170.2L218.1,169.7L219.8,169.9L220.4,171.5L219.6,171.9L218.7,172.3L219.2,173.7L220.8,174.8L221.2,176.0L222.0,177.1L222.7,178.7L222.9,180.1L221.4,180.7L220.0,180.3L218.6,179.6L218.2,178.4L218.4,176.8L217.2,175.2L216.1,174.0Z"/>
<path id="gl" d="M131.0,139.8L132.6,139.4L134.2,139.0L135.9,138.5L137.4,138.0L139.0,137.6L140.5,137.2L141.5,137.1L142.6,137.0L143.6,136.9L144.7,136.8L145.7,136.8L146.7,136.7L147.8,136.7L149.0,136.6L150.2,136.4L151.4,136.3L152.4,136.3L153.4,136.2L154.5,136.1L155.5,136.1L156.4,136.1L157.4,136.1L158.4,136.2L159.3,136.2L160.4,136.3L161.5,136.4L162.6,136.6L163.5,136.7L164.4,136.8L165.3,137.0L166.1,137.1L166.9,137.2L167.8,137.4L166.6,137.7L165.3,138.0L164.2,139.0L163.3,140.2L162.8,141.6L161.7,142.9L160.5,144.2L159.6,145.2L158.6,145.6L157.7,145.9L158.6,146.7L157.4,147.4L156.2,148.1L155.0,148.2L153.8,148.3L152.6,148.4L151.1,149.3L149.6,150.3L148.4,150.6L147.3,150.9L146.4,151.2L145.6,151.5L144.7,152.7L143.8,153.9L142.0,155.8L141.3,156.4L140.2,155.7L138.9,155.1L138.0,153.6L137.7,152.4L137.2,151.0L136.7,150.1L137.9,148.5L139.5,147.3L138.8,146.8L138.2,146.4L138.6,145.5L138.3,144.4L137.9,143.3L138.0,142.4L137.3,141.9L136.5,141.5L135.5,141.4L134.5,141.4L133.5,141.3L132.7,141.1L131.9,141.0L131.1,140.8L131.1,139.9Z"/>
<path id="an" d="M64.7,300.6L66.1,300.7L67.5,300.8L68.9,300.8L70.3,300.9L71.7,301.0L73.2,301.1L74.8,301.3L76.3,301.4L77.9,301.6L79.4,301.8L80.1,301.6L80.8,301.5L81.6,301.4L81.7,300.9L81.9,300.5L82.0,300.0L82.3,299.5L82.6,299.0L83.7,298.8L84.7,298.7L85.8,298.6L86.4,298.3L87.0,298.0L87.7,297.7L88.7,297.6L89.6,297.5L90.6,297.4L91.6,297.3L92.9,297.2L94.1,297.2L95.4,297.2L96.6,297.1L97.8,297.2L99.1,297.3L100.3,297.5L101.5,297.5L102.7,297.6L103.9,297.7L104.8,297.6L105.8,297.4L106.7,297.3L107.7,297.1L108.3,296.8L109.0,296.4L110.1,296.4L111.2,296.4L112.3,296.4L113.4,296.4L114.5,296.4L115.6,296.4L116.8,296.6L118.0,296.7L119.3,296.9L120.2,296.7L121.2,296.6L122.2,296.4L123.3,296.2L124.5,296.0L125.3,295.3L126.2,294.7L127.4,294.4L128.7,294.2L128.3,292.4L128.6,290.6L129.3,289.8L130.1,289.1L131.1,288.3L132.2,287.5L133.0,287.7L132.4,288.3L131.8,288.9L131.3,290.1L130.9,291.5L131.6,293.3L133.6,295.1L135.0,296.9L134.5,298.1L133.8,298.6L133.0,299.0L132.3,299.4L131.4,299.8L130.5,300.2L129.3,300.2L128.1,300.2L127.6,301.0L129.2,301.4L130.8,301.8L132.3,302.1L133.4,302.0L134.4,301.8L135.5,301.7L136.6,301.5L137.6,301.4L138.7,301.4L139.7,301.4L140.8,301.4L141.9,301.4L143.0,301.3L144.2,301.2L145.3,301.1L146.5,301.1L147.7,301.0L148.6,300.9L149.5,300.7L150.5,300.6L151.4,300.5L152.4,300.3L153.4,300.2L154.3,299.9L155.2,299.7L156.2,299.4L157.3,299.0L158.4,298.6L159.6,298.1L160.8,297.7L162.0,297.3L163.0,297.0L164.0,296.7L165.1,296.4L166.1,296.0L167.2,295.5L168.3,295.1L169.4,295.0L170.5,294.8L171.6,294.7L172.7,294.5L173.9,294.4L175.0,294.2L176.1,294.1L177.3,293.9L178.4,293.8L179.6,293.8L180.7,293.8L181.9,293.8L183.0,293.8L184.1,293.8L185.3,293.8L186.4,293.8L187.5,293.9L188.7,293.9L189.8,294.0L190.9,294.0L192.1,294.0L193.3,293.9L194.4,293.7L195.6,293.6L196.7,293.5L197.8,293.3L198.8,293.3L199.8,293.3L201.3,293.1L202.7,292.9L204.0,292.5L205.3,292.1L206.6,291.8L207.9,291.5L209.2,291.3L210.5,291.0L211.7,290.9L213.0,290.7L214.2,290.6L215.3,290.8L216.4,291.0L217.4,291.3L218.5,291.5L219.6,291.6L220.7,291.8L221.8,291.6L223.0,291.5L223.8,292.4L224.4,293.8L221.8,295.5L223.3,295.0L224.9,294.4L226.4,293.8L228.1,293.3L229.6,292.6L231.1,291.9L232.5,291.6L234.0,291.2L235.4,290.8L236.6,290.7L237.8,290.6L239.2,290.6L240.6,290.6L242.1,290.5L243.6,290.4L245.2,290.2L246.7,290.1L247.9,290.1L249.1,290.1L250.3,290.1L251.4,290.1L252.6,290.2L253.7,290.3L254.7,290.5L255.7,290.6L256.7,290.8L257.9,290.9L259.0,291.0L260.1,291.0L261.5,290.9L262.8,290.7L264.1,290.6L265.4,290.5L266.7,290.4L267.9,290.4L269.2,290.3L270.5,290.2L271.8,290.1L272.7,290.3L273.6,290.6L274.5,290.8L275.4,291.0L276.4,291.3L277.3,291.5L278.1,291.8L278.9,292.1L279.6,292.4L280.6,292.6L281.5,292.7L282.5,292.9L283.2,293.2L284.0,293.5L284.7,293.8L285.5,294.0L286.2,294.2L287.0,294.5L287.8,294.7L288.6,294.9L289.4,295.1L287.6,296.4L285.3,297.1L283.0,297.7L280.9,298.3L278.7,299.0L275.7,300.2L275.8,300.6L275.9,301.0L277.1,301.0L278.3,301.0L279.4,300.9L280.6,300.9L281.7,300.8L282.9,300.8L284.1,300.7L285.3,300.6L281.7,302.1L278.2,303.5L274.8,304.8L271.7,305.8L268.9,306.7L266.4,307.4L265.4,307.4L264.3,307.4L263.3,307.4L262.3,307.4L261.3,307.4L260.3,307.4L259.3,307.4L258.3,307.4L257.2,307.4L256.2,307.4L255.2,307.4L254.2,307.4L253.2,307.4L252.2,307.4L251.1,307.4L250.1,307.4L249.1,307.4L248.1,307.4L247.1,307.4L246.1,307.4L245.1,307.4L244.0,307.4L243.0,307.4L242.0,307.4L241.0,307.4L240.0,307.4L239.0,307.4L237.9,307.4L236.9,307.4L235.9,307.4L234.9,307.4L233.9,307.4L232.9,307.4L231.9,307.4L230.8,307.4L229.8,307.4L228.8,307.4L227.8,307.4L226.8,307.4L225.8,307.4L224.8,307.4L223.7,307.4L222.7,307.4L221.7,307.4L220.7,307.4L219.7,307.4L218.7,307.4L217.6,307.4L216.6,307.4L215.6,307.4L214.6,307.4L213.6,307.4L212.6,307.4L211.6,307.4L210.5,307.4L209.5,307.4L208.5,307.4L207.5,307.4L206.5,307.4L205.5,307.4L204.4,307.4L203.4,307.4L202.4,307.4L201.4,307.4L200.4,307.4L199.4,307.4L198.4,307.4L197.3,307.4L196.3,307.4L195.3,307.4L194.3,307.4L193.3,307.4L192.3,307.4L191.2,307.4L190.2,307.4L189.2,307.4L188.2,307.4L187.2,307.4L186.2,307.4L185.2,307.4L184.1,307.4L183.1,307.4L182.1,307.4L181.1,307.4L180.1,307.4L179.1,307.4L178.0,307.4L177.0,307.4L176.0,307.4L175.0,307.4L174.0,307.4L173.0,307.4L172.0,307.4L170.9,307.4L169.9,307.4L168.9,307.4L167.9,307.4L166.9,307.4L165.9,307.4L164.8,307.4L163.8,307.4L162.8,307.4L161.8,307.4L160.8,307.4L159.8,307.4L158.8,307.4L157.7,307.4L156.7,307.4L155.7,307.4L154.7,307.4L153.7,307.4L152.7,307.4L151.6,307.4L150.6,307.4L149.6,307.4L148.6,307.4L147.6,307.4L146.6,307.4L145.6,307.4L144.5,307.4L143.5,307.4L142.5,307.4L141.5,307.4L140.5,307.4L139.5,307.4L138.4,307.4L137.4,307.4L136.4,307.4L135.4,307.4L134.4,307.4L133.4,307.4L132.4,307.4L131.3,307.4L130.3,307.4L129.3,307.4L128.3,307.4L127.3,307.4L126.3,307.4L125.2,307.4L124.2,307.4L123.2,307.4L122.2,307.4L121.2,307.4L120.2,307.4L119.2,307.4L118.1,307.4L117.1,307.4L116.1,307.4L115.1,307.4L114.1,307.4L113.1,307.4L112.1,307.4L111.0,307.4L110.0,307.4L109.0,307.4L108.0,307.4L107.0,307.4L106.0,307.4L104.9,307.4L103.9,307.4L102.9,307.4L101.9,307.4L100.9,307.4L99.9,307.4L98.9,307.4L97.8,307.4L96.8,307.4L95.8,307.4L94.8,307.4L93.8,307.4L92.8,307.4L91.7,307.4L90.7,307.4L89.7,307.4L88.7,307.4L87.7,307.4L86.7,307.4L85.7,307.4L84.6,307.4L83.6,307.4L81.1,306.7L78.3,305.8L75.2,304.8L71.8,303.5L68.3,302.1Z"/>
<path id="gle" d="M167.8,137.4L166.6,137.7L165.3,138.0L164.2,139.0L163.3,140.2L162.8,141.6L161.7,142.9L160.5,144.2L159.6,145.2L158.6,145.6L157.7,145.9L156.9,145.2L158.2,144.2L159.2,142.9L160.1,141.6L160.9,140.2L161.8,139.0L163.0,138.0L164.1,137.7L165.2,137.3L166.1,137.3L166.9,137.3Z"/>
<clipPath id="glc"><use href="#gl"/></clipPath>
<clipPath id="anc"><use href="#an"/></clipPath>
<path id="frame" d="M83.6,307.4L80.4,306.5L76.8,305.3L72.7,303.8L68.3,302.1L63.8,300.2L59.4,298.1L55.4,296.0L51.6,293.8L48.0,291.5L44.6,289.1L41.2,286.7L37.9,284.3L34.7,281.8L31.6,279.3L28.7,276.7L26.0,274.1L23.5,271.5L21.1,268.8L18.9,266.2L16.8,263.5L14.9,260.8L13.1,258.1L11.6,255.4L10.2,252.7L9.0,250.0L7.9,247.3L7.1,244.6L6.4,241.9L5.7,239.2L5.0,236.5L4.5,233.8L4.1,231.1L3.8,228.4L3.5,225.7L3.4,223.0L3.3,220.3L3.4,217.6L3.5,214.9L3.8,212.2L4.1,209.5L4.5,206.8L5.0,204.1L5.7,201.4L6.4,198.7L7.1,196.0L7.9,193.3L9.0,190.6L10.2,187.9L11.6,185.2L13.1,182.5L14.9,179.8L16.8,177.1L18.9,174.4L21.1,171.8L23.5,169.1L26.0,166.5L28.7,163.9L31.6,161.3L34.7,158.8L37.9,156.3L41.2,153.9L44.6,151.5L48.0,149.1L51.6,146.8L55.4,144.6L59.4,142.5L63.8,140.4L68.3,138.5L72.7,136.8L76.8,135.3L80.4,134.1L83.6,133.2L266.4,133.2L269.6,134.1L273.2,135.3L277.3,136.8L281.7,138.5L286.2,140.4L290.6,142.5L294.6,144.6L298.4,146.8L302.0,149.1L305.4,151.5L308.8,153.9L312.1,156.3L315.3,158.8L318.4,161.3L321.3,163.9L324.0,166.5L326.5,169.1L328.9,171.8L331.1,174.4L333.2,177.1L335.1,179.8L336.9,182.5L338.4,185.2L339.8,187.9L341.0,190.6L342.1,193.3L342.9,196.0L343.6,198.7L344.3,201.4L345.0,204.1L345.5,206.8L345.9,209.5L346.2,212.2L346.5,214.9L346.6,217.6L346.7,220.3L346.6,223.0L346.5,225.7L346.2,228.4L345.9,231.1L345.5,233.8L345.0,236.5L344.3,239.2L343.6,241.9L342.9,244.6L342.1,247.3L341.0,250.0L339.8,252.7L338.4,255.4L336.9,258.1L335.1,260.8L333.2,263.5L331.1,266.2L328.9,268.8L326.5,271.5L324.0,274.1L321.3,276.7L318.4,279.3L315.3,281.8L312.1,284.3L308.8,286.7L305.4,289.1L302.0,291.5L298.4,293.8L294.6,296.0L290.6,298.1L286.2,300.2L281.7,302.1L277.3,303.8L273.2,305.3L269.6,306.5L266.4,307.4Z"/>
<g id="sp1"><path fill="#d02828" d="M115.2 276.6h1.2v1.2h-1.2zM116.2 276.6h1.2v1.2h-1.2zM115.8 275.6h1.2v1.2h-1.2zM114.3 274.6h1.2v1.2h-1.2zM113.9 273.7h1.2v1.2h-1.2zM113.5 272.7h1.2v1.2h-1.2zM112.4 269.7h1.3v1.2h-1.3zM111.7 267.7h1.3v1.2h-1.3zM120.8 256.7h1.3v1.2h-1.3zM119.4 255.6h1.3v1.2h-1.3zM121.7 255.6h1.3v1.2h-1.3zM119.3 254.6h1.3v1.2h-1.3zM120.4 254.6h1.3v1.2h-1.3zM121.5 254.6h1.3v1.2h-1.3zM121.4 253.6h1.3v1.2h-1.3zM120.0 252.6h1.3v1.2h-1.3zM119.9 251.6h1.3v1.2h-1.3zM121.0 251.6h1.3v1.2h-1.3zM119.7 250.6h1.3v1.2h-1.3zM120.9 250.6h1.3v1.2h-1.3zM119.6 249.6h1.4v1.2h-1.4zM120.7 249.6h1.4v1.2h-1.4zM121.9 249.6h1.4v1.2h-1.4zM119.4 248.6h1.4v1.2h-1.4zM120.6 248.6h1.4v1.2h-1.4zM121.7 248.6h1.4v1.2h-1.4zM120.5 247.5h1.4v1.2h-1.4zM121.6 247.5h1.4v1.2h-1.4zM120.4 246.5h1.4v1.2h-1.4zM121.5 246.5h1.4v1.2h-1.4zM120.2 245.5h1.4v1.2h-1.4zM121.4 245.5h1.4v1.2h-1.4zM120.1 244.5h1.4v1.2h-1.4zM121.3 244.5h1.4v1.2h-1.4zM127.3 224.3h1.4v1.2h-1.4zM118.9 223.2h1.4v1.2h-1.4zM126.0 223.2h1.4v1.2h-1.4zM127.2 223.2h1.4v1.2h-1.4zM117.7 222.2h1.4v1.2h-1.4zM124.8 222.2h1.4v1.2h-1.4zM127.2 222.2h1.4v1.2h-1.4zM128.4 222.2h1.4v1.2h-1.4zM117.7 221.2h1.4v1.2h-1.4zM273.3 208.0h1.4v1.2h-1.4zM272.1 207.0h1.4v1.2h-1.4zM273.3 207.0h1.4v1.2h-1.4zM272.0 206.0h1.4v1.2h-1.4zM273.2 206.0h1.4v1.2h-1.4zM274.3 206.0h1.4v1.2h-1.4zM275.5 206.0h1.4v1.2h-1.4zM274.2 205.0h1.4v1.2h-1.4zM269.4 204.0h1.4v1.2h-1.4zM270.6 204.0h1.4v1.2h-1.4zM271.8 204.0h1.4v1.2h-1.4zM272.9 204.0h1.4v1.2h-1.4zM274.1 204.0h1.4v1.2h-1.4zM269.3 203.0h1.4v1.2h-1.4zM270.5 203.0h1.4v1.2h-1.4zM272.8 203.0h1.4v1.2h-1.4zM264.4 202.0h1.4v1.2h-1.4zM271.5 202.0h1.4v1.2h-1.4zM273.9 202.0h1.4v1.2h-1.4zM265.5 201.0h1.4v1.2h-1.4zM271.4 201.0h1.4v1.2h-1.4zM272.5 201.0h1.4v1.2h-1.4zM273.7 201.0h1.4v1.2h-1.4zM265.3 199.9h1.4v1.2h-1.4zM264.0 198.9h1.4v1.2h-1.4zM255.4 195.9h1.4v1.2h-1.4zM256.6 195.9h1.4v1.2h-1.4zM254.1 194.9h1.4v1.2h-1.4zM255.3 194.9h1.4v1.2h-1.4zM256.4 194.9h1.4v1.2h-1.4zM254.0 193.9h1.4v1.2h-1.4zM255.1 193.9h1.4v1.2h-1.4zM256.3 193.9h1.4v1.2h-1.4zM257.5 193.9h1.4v1.2h-1.4zM258.6 193.9h1.4v1.2h-1.4zM248.0 192.9h1.4v1.2h-1.4zM250.3 192.9h1.4v1.2h-1.4zM252.7 192.9h1.4v1.2h-1.4zM253.8 192.9h1.4v1.2h-1.4zM255.0 192.9h1.4v1.2h-1.4zM256.1 192.9h1.4v1.2h-1.4zM257.3 192.9h1.4v1.2h-1.4zM258.5 192.9h1.4v1.2h-1.4zM245.5 191.8h1.4v1.2h-1.4zM246.7 191.8h1.4v1.2h-1.4zM250.2 191.8h1.4v1.2h-1.4zM252.5 191.8h1.4v1.2h-1.4zM253.7 191.8h1.4v1.2h-1.4zM254.8 191.8h1.4v1.2h-1.4zM256.0 191.8h1.4v1.2h-1.4zM257.1 191.8h1.4v1.2h-1.4zM245.4 190.8h1.4v1.2h-1.4zM246.5 190.8h1.4v1.2h-1.4zM247.7 190.8h1.4v1.2h-1.4zM248.8 190.8h1.4v1.2h-1.4zM250.0 190.8h1.4v1.2h-1.4zM245.2 189.8h1.4v1.2h-1.4zM246.4 189.8h1.4v1.2h-1.4zM248.7 189.8h1.4v1.2h-1.4zM277.5 189.8h1.4v1.2h-1.4zM278.6 189.8h1.4v1.2h-1.4zM279.8 189.8h1.4v1.2h-1.4zM241.6 188.8h1.3v1.2h-1.3zM243.9 188.8h1.3v1.2h-1.3zM276.1 188.8h1.3v1.2h-1.3zM277.2 188.8h1.3v1.2h-1.3zM280.7 188.8h1.3v1.2h-1.3zM239.1 187.8h1.3v1.2h-1.3zM240.2 187.8h1.3v1.2h-1.3zM242.5 187.8h1.3v1.2h-1.3zM278.1 187.8h1.3v1.2h-1.3zM241.2 186.8h1.3v1.2h-1.3zM282.0 185.8h1.3v1.2h-1.3zM275.6 183.7h1.3v1.2h-1.3zM279.0 183.7h1.3v1.2h-1.3zM280.1 183.7h1.3v1.2h-1.3zM282.4 183.7h1.3v1.2h-1.3zM283.5 183.7h1.3v1.2h-1.3zM277.5 182.7h1.3v1.2h-1.3zM280.9 182.7h1.3v1.2h-1.3zM282.0 182.7h1.3v1.2h-1.3zM276.0 181.7h1.3v1.2h-1.3zM277.1 181.7h1.3v1.2h-1.3zM281.6 181.7h1.3v1.2h-1.3zM107.5 168.7h1.3v1.2h-1.3zM109.6 168.7h1.3v1.2h-1.3zM110.6 168.7h1.3v1.2h-1.3zM111.7 168.7h1.3v1.2h-1.3zM112.8 168.7h1.3v1.2h-1.3zM113.8 168.7h1.3v1.2h-1.3zM102.7 167.7h1.2v1.2h-1.2zM105.8 167.7h1.2v1.2h-1.2zM107.9 167.7h1.2v1.2h-1.2zM108.9 167.7h1.2v1.2h-1.2zM110.0 167.7h1.2v1.2h-1.2zM111.0 167.7h1.2v1.2h-1.2zM112.1 167.7h1.2v1.2h-1.2zM113.1 167.7h1.2v1.2h-1.2zM114.2 167.7h1.2v1.2h-1.2zM117.3 167.7h1.2v1.2h-1.2zM118.4 167.7h1.2v1.2h-1.2zM103.1 166.7h1.2v1.2h-1.2zM104.1 166.7h1.2v1.2h-1.2zM105.2 166.7h1.2v1.2h-1.2zM106.2 166.7h1.2v1.2h-1.2zM107.3 166.7h1.2v1.2h-1.2zM108.3 166.7h1.2v1.2h-1.2zM109.4 166.7h1.2v1.2h-1.2zM110.4 166.7h1.2v1.2h-1.2zM111.4 166.7h1.2v1.2h-1.2zM112.5 166.7h1.2v1.2h-1.2zM113.5 166.7h1.2v1.2h-1.2zM114.6 166.7h1.2v1.2h-1.2zM115.6 166.7h1.2v1.2h-1.2zM116.6 166.7h1.2v1.2h-1.2zM117.7 166.7h1.2v1.2h-1.2zM119.8 166.7h1.2v1.2h-1.2zM120.8 166.7h1.2v1.2h-1.2zM98.4 165.8h1.2v1.2h-1.2zM102.5 165.8h1.2v1.2h-1.2zM103.6 165.8h1.2v1.2h-1.2zM104.6 165.8h1.2v1.2h-1.2zM105.6 165.8h1.2v1.2h-1.2zM106.7 165.8h1.2v1.2h-1.2zM107.7 165.8h1.2v1.2h-1.2zM108.7 165.8h1.2v1.2h-1.2zM109.8 165.8h1.2v1.2h-1.2zM110.8 165.8h1.2v1.2h-1.2zM112.9 165.8h1.2v1.2h-1.2zM114.9 165.8h1.2v1.2h-1.2zM116.0 165.8h1.2v1.2h-1.2zM117.0 165.8h1.2v1.2h-1.2zM118.0 165.8h1.2v1.2h-1.2zM119.1 165.8h1.2v1.2h-1.2zM122.2 165.8h1.2v1.2h-1.2zM124.2 165.8h1.2v1.2h-1.2zM125.3 165.8h1.2v1.2h-1.2zM93.8 164.8h1.2v1.2h-1.2zM94.8 164.8h1.2v1.2h-1.2zM96.9 164.8h1.2v1.2h-1.2zM98.9 164.8h1.2v1.2h-1.2zM103.0 164.8h1.2v1.2h-1.2zM104.1 164.8h1.2v1.2h-1.2zM105.1 164.8h1.2v1.2h-1.2zM106.1 164.8h1.2v1.2h-1.2zM107.1 164.8h1.2v1.2h-1.2zM109.2 164.8h1.2v1.2h-1.2zM110.2 164.8h1.2v1.2h-1.2zM111.2 164.8h1.2v1.2h-1.2zM112.3 164.8h1.2v1.2h-1.2zM113.3 164.8h1.2v1.2h-1.2zM114.3 164.8h1.2v1.2h-1.2zM115.3 164.8h1.2v1.2h-1.2zM116.4 164.8h1.2v1.2h-1.2zM117.4 164.8h1.2v1.2h-1.2zM118.4 164.8h1.2v1.2h-1.2zM123.6 164.8h1.2v1.2h-1.2zM124.6 164.8h1.2v1.2h-1.2zM125.6 164.8h1.2v1.2h-1.2zM126.6 164.8h1.2v1.2h-1.2zM93.3 163.8h1.2v1.2h-1.2zM94.4 163.8h1.2v1.2h-1.2zM95.4 163.8h1.2v1.2h-1.2zM96.4 163.8h1.2v1.2h-1.2zM97.4 163.8h1.2v1.2h-1.2zM98.4 163.8h1.2v1.2h-1.2zM99.5 163.8h1.2v1.2h-1.2zM100.5 163.8h1.2v1.2h-1.2zM102.5 163.8h1.2v1.2h-1.2zM103.5 163.8h1.2v1.2h-1.2zM106.6 163.8h1.2v1.2h-1.2zM107.6 163.8h1.2v1.2h-1.2zM109.6 163.8h1.2v1.2h-1.2zM111.7 163.8h1.2v1.2h-1.2zM112.7 163.8h1.2v1.2h-1.2zM113.7 163.8h1.2v1.2h-1.2zM114.7 163.8h1.2v1.2h-1.2zM115.8 163.8h1.2v1.2h-1.2zM117.8 163.8h1.2v1.2h-1.2zM118.8 163.8h1.2v1.2h-1.2zM119.8 163.8h1.2v1.2h-1.2zM120.9 163.8h1.2v1.2h-1.2zM123.9 163.8h1.2v1.2h-1.2zM124.9 163.8h1.2v1.2h-1.2zM127.0 163.8h1.2v1.2h-1.2zM92.9 162.8h1.2v1.2h-1.2zM93.9 162.8h1.2v1.2h-1.2zM95.9 162.8h1.2v1.2h-1.2zM97.0 162.8h1.2v1.2h-1.2zM99.0 162.8h1.2v1.2h-1.2zM100.0 162.8h1.2v1.2h-1.2zM104.0 162.8h1.2v1.2h-1.2zM108.1 162.8h1.2v1.2h-1.2zM109.1 162.8h1.2v1.2h-1.2zM110.1 162.8h1.2v1.2h-1.2zM111.1 162.8h1.2v1.2h-1.2zM114.2 162.8h1.2v1.2h-1.2zM115.2 162.8h1.2v1.2h-1.2zM116.2 162.8h1.2v1.2h-1.2zM117.2 162.8h1.2v1.2h-1.2zM118.2 162.8h1.2v1.2h-1.2zM119.2 162.8h1.2v1.2h-1.2zM120.2 162.8h1.2v1.2h-1.2zM121.3 162.8h1.2v1.2h-1.2zM122.3 162.8h1.2v1.2h-1.2zM123.3 162.8h1.2v1.2h-1.2zM124.3 162.8h1.2v1.2h-1.2zM126.3 162.8h1.2v1.2h-1.2zM127.3 162.8h1.2v1.2h-1.2zM92.5 161.9h1.2v1.2h-1.2zM95.5 161.9h1.2v1.2h-1.2zM100.6 161.9h1.2v1.2h-1.2zM101.6 161.9h1.2v1.2h-1.2zM109.6 161.9h1.2v1.2h-1.2zM111.6 161.9h1.2v1.2h-1.2zM112.6 161.9h1.2v1.2h-1.2zM113.6 161.9h1.2v1.2h-1.2zM114.6 161.9h1.2v1.2h-1.2zM116.6 161.9h1.2v1.2h-1.2zM117.6 161.9h1.2v1.2h-1.2zM118.6 161.9h1.2v1.2h-1.2zM119.6 161.9h1.2v1.2h-1.2zM120.6 161.9h1.2v1.2h-1.2zM121.7 161.9h1.2v1.2h-1.2zM122.7 161.9h1.2v1.2h-1.2zM123.7 161.9h1.2v1.2h-1.2zM124.7 161.9h1.2v1.2h-1.2zM125.7 161.9h1.2v1.2h-1.2zM126.7 161.9h1.2v1.2h-1.2zM127.7 161.9h1.2v1.2h-1.2zM90.2 160.9h1.2v1.2h-1.2zM91.2 160.9h1.2v1.2h-1.2zM92.2 160.9h1.2v1.2h-1.2zM93.2 160.9h1.2v1.2h-1.2zM94.1 160.9h1.2v1.2h-1.2zM96.1 160.9h1.2v1.2h-1.2zM97.1 160.9h1.2v1.2h-1.2zM98.1 160.9h1.2v1.2h-1.2zM101.1 160.9h1.2v1.2h-1.2zM102.1 160.9h1.2v1.2h-1.2zM110.1 160.9h1.2v1.2h-1.2zM113.1 160.9h1.2v1.2h-1.2zM115.1 160.9h1.2v1.2h-1.2zM116.1 160.9h1.2v1.2h-1.2zM117.1 160.9h1.2v1.2h-1.2zM118.1 160.9h1.2v1.2h-1.2zM119.1 160.9h1.2v1.2h-1.2zM120.1 160.9h1.2v1.2h-1.2zM121.1 160.9h1.2v1.2h-1.2zM122.1 160.9h1.2v1.2h-1.2zM123.1 160.9h1.2v1.2h-1.2zM124.1 160.9h1.2v1.2h-1.2zM125.1 160.9h1.2v1.2h-1.2zM126.1 160.9h1.2v1.2h-1.2zM127.0 160.9h1.2v1.2h-1.2zM89.8 160.0h1.2v1.2h-1.2zM90.8 160.0h1.2v1.2h-1.2zM91.8 160.0h1.2v1.2h-1.2zM92.8 160.0h1.2v1.2h-1.2zM93.8 160.0h1.2v1.2h-1.2zM94.8 160.0h1.2v1.2h-1.2zM96.8 160.0h1.2v1.2h-1.2zM98.7 160.0h1.2v1.2h-1.2zM99.7 160.0h1.2v1.2h-1.2zM100.7 160.0h1.2v1.2h-1.2zM101.7 160.0h1.2v1.2h-1.2zM111.6 160.0h1.2v1.2h-1.2zM113.6 160.0h1.2v1.2h-1.2zM114.6 160.0h1.2v1.2h-1.2zM115.6 160.0h1.2v1.2h-1.2zM116.5 160.0h1.2v1.2h-1.2zM117.5 160.0h1.2v1.2h-1.2zM118.5 160.0h1.2v1.2h-1.2zM119.5 160.0h1.2v1.2h-1.2zM120.5 160.0h1.2v1.2h-1.2zM121.5 160.0h1.2v1.2h-1.2zM122.5 160.0h1.2v1.2h-1.2zM124.5 160.0h1.2v1.2h-1.2zM125.4 160.0h1.2v1.2h-1.2zM126.4 160.0h1.2v1.2h-1.2zM231.3 160.0h1.2v1.2h-1.2zM232.3 160.0h1.2v1.2h-1.2zM88.6 159.0h1.2v1.1h-1.2zM89.5 159.0h1.2v1.1h-1.2zM90.5 159.0h1.2v1.1h-1.2zM93.5 159.0h1.2v1.1h-1.2zM94.5 159.0h1.2v1.1h-1.2zM95.4 159.0h1.2v1.1h-1.2zM97.4 159.0h1.2v1.1h-1.2zM99.4 159.0h1.2v1.1h-1.2zM101.3 159.0h1.2v1.1h-1.2zM102.3 159.0h1.2v1.1h-1.2zM113.1 159.0h1.2v1.1h-1.2zM114.1 159.0h1.2v1.1h-1.2zM115.1 159.0h1.2v1.1h-1.2zM116.0 159.0h1.2v1.1h-1.2zM117.0 159.0h1.2v1.1h-1.2zM118.0 159.0h1.2v1.1h-1.2zM119.0 159.0h1.2v1.1h-1.2zM120.0 159.0h1.2v1.1h-1.2zM124.9 159.0h1.2v1.1h-1.2zM227.9 159.0h1.2v1.1h-1.2zM228.9 159.0h1.2v1.1h-1.2zM229.8 159.0h1.2v1.1h-1.2zM230.8 159.0h1.2v1.1h-1.2zM231.8 159.0h1.2v1.1h-1.2zM232.8 159.0h1.2v1.1h-1.2zM89.3 158.1h1.2v1.1h-1.2zM90.3 158.1h1.2v1.1h-1.2zM91.2 158.1h1.2v1.1h-1.2zM94.1 158.1h1.2v1.1h-1.2zM95.1 158.1h1.2v1.1h-1.2zM96.1 158.1h1.2v1.1h-1.2zM99.0 158.1h1.2v1.1h-1.2zM100.0 158.1h1.2v1.1h-1.2zM101.0 158.1h1.2v1.1h-1.2zM101.9 158.1h1.2v1.1h-1.2zM102.9 158.1h1.2v1.1h-1.2zM114.6 158.1h1.2v1.1h-1.2zM116.5 158.1h1.2v1.1h-1.2zM117.5 158.1h1.2v1.1h-1.2zM119.4 158.1h1.2v1.1h-1.2zM120.4 158.1h1.2v1.1h-1.2zM121.4 158.1h1.2v1.1h-1.2zM228.4 158.1h1.2v1.1h-1.2zM229.4 158.1h1.2v1.1h-1.2zM230.4 158.1h1.2v1.1h-1.2zM231.3 158.1h1.2v1.1h-1.2zM232.3 158.1h1.2v1.1h-1.2zM233.3 158.1h1.2v1.1h-1.2zM90.0 157.1h1.2v1.1h-1.2zM91.0 157.1h1.2v1.1h-1.2zM91.9 157.1h1.2v1.1h-1.2zM92.9 157.1h1.2v1.1h-1.2zM94.8 157.1h1.2v1.1h-1.2zM95.8 157.1h1.2v1.1h-1.2zM96.8 157.1h1.2v1.1h-1.2zM98.7 157.1h1.2v1.1h-1.2zM100.6 157.1h1.2v1.1h-1.2zM101.6 157.1h1.2v1.1h-1.2zM116.0 157.1h1.2v1.1h-1.2zM117.0 157.1h1.2v1.1h-1.2zM118.0 157.1h1.2v1.1h-1.2zM120.9 157.1h1.2v1.1h-1.2zM121.8 157.1h1.2v1.1h-1.2zM125.7 157.1h1.2v1.1h-1.2zM195.2 157.1h1.2v1.1h-1.2zM198.1 157.1h1.2v1.1h-1.2zM199.0 157.1h1.2v1.1h-1.2zM228.0 157.1h1.2v1.1h-1.2zM228.9 157.1h1.2v1.1h-1.2zM230.9 157.1h1.2v1.1h-1.2zM231.8 157.1h1.2v1.1h-1.2zM232.8 157.1h1.2v1.1h-1.2zM87.9 156.2h1.2v1.1h-1.2zM89.8 156.2h1.2v1.1h-1.2zM90.7 156.2h1.2v1.1h-1.2zM91.7 156.2h1.2v1.1h-1.2zM92.6 156.2h1.2v1.1h-1.2zM93.6 156.2h1.2v1.1h-1.2zM97.4 156.2h1.2v1.1h-1.2zM98.4 156.2h1.2v1.1h-1.2zM99.3 156.2h1.2v1.1h-1.2zM100.3 156.2h1.2v1.1h-1.2zM102.2 156.2h1.2v1.1h-1.2zM114.6 156.2h1.2v1.1h-1.2zM115.6 156.2h1.2v1.1h-1.2zM116.6 156.2h1.2v1.1h-1.2zM124.2 156.2h1.2v1.1h-1.2zM125.2 156.2h1.2v1.1h-1.2zM193.1 156.2h1.2v1.1h-1.2zM194.0 156.2h1.2v1.1h-1.2zM195.0 156.2h1.2v1.1h-1.2zM196.9 156.2h1.2v1.1h-1.2zM197.9 156.2h1.2v1.1h-1.2zM198.8 156.2h1.2v1.1h-1.2zM223.7 156.2h1.2v1.1h-1.2zM229.4 156.2h1.2v1.1h-1.2zM231.3 156.2h1.2v1.1h-1.2zM232.3 156.2h1.2v1.1h-1.2zM233.2 156.2h1.2v1.1h-1.2zM235.2 156.2h1.2v1.1h-1.2zM236.1 156.2h1.2v1.1h-1.2zM237.1 156.2h1.2v1.1h-1.2zM238.0 156.2h1.2v1.1h-1.2zM239.0 156.2h1.2v1.1h-1.2zM89.6 155.3h1.1v1.1h-1.1zM90.5 155.3h1.1v1.1h-1.1zM91.5 155.3h1.1v1.1h-1.1zM94.3 155.3h1.1v1.1h-1.1zM96.2 155.3h1.1v1.1h-1.1zM97.2 155.3h1.1v1.1h-1.1zM98.1 155.3h1.1v1.1h-1.1zM99.1 155.3h1.1v1.1h-1.1zM101.0 155.3h1.1v1.1h-1.1zM116.1 155.3h1.1v1.1h-1.1zM119.0 155.3h1.1v1.1h-1.1zM119.9 155.3h1.1v1.1h-1.1zM121.8 155.3h1.1v1.1h-1.1zM192.0 155.3h1.1v1.1h-1.1zM193.9 155.3h1.1v1.1h-1.1zM194.8 155.3h1.1v1.1h-1.1zM195.8 155.3h1.1v1.1h-1.1zM196.7 155.3h1.1v1.1h-1.1zM198.6 155.3h1.1v1.1h-1.1zM223.2 155.3h1.1v1.1h-1.1zM227.0 155.3h1.1v1.1h-1.1zM228.0 155.3h1.1v1.1h-1.1zM230.8 155.3h1.1v1.1h-1.1zM231.8 155.3h1.1v1.1h-1.1zM233.7 155.3h1.1v1.1h-1.1zM234.6 155.3h1.1v1.1h-1.1zM235.6 155.3h1.1v1.1h-1.1zM236.5 155.3h1.1v1.1h-1.1zM237.5 155.3h1.1v1.1h-1.1zM238.4 155.3h1.1v1.1h-1.1zM87.5 154.4h1.1v1.1h-1.1zM88.5 154.4h1.1v1.1h-1.1zM90.4 154.4h1.1v1.1h-1.1zM91.3 154.4h1.1v1.1h-1.1zM93.2 154.4h1.1v1.1h-1.1zM97.9 154.4h1.1v1.1h-1.1zM98.8 154.4h1.1v1.1h-1.1zM99.7 154.4h1.1v1.1h-1.1zM100.7 154.4h1.1v1.1h-1.1zM117.6 154.4h1.1v1.1h-1.1zM118.5 154.4h1.1v1.1h-1.1zM119.5 154.4h1.1v1.1h-1.1zM193.7 154.4h1.1v1.1h-1.1zM194.6 154.4h1.1v1.1h-1.1zM199.3 154.4h1.1v1.1h-1.1zM200.3 154.4h1.1v1.1h-1.1zM222.8 154.4h1.1v1.1h-1.1zM223.8 154.4h1.1v1.1h-1.1zM225.6 154.4h1.1v1.1h-1.1zM228.4 154.4h1.1v1.1h-1.1zM229.4 154.4h1.1v1.1h-1.1zM230.3 154.4h1.1v1.1h-1.1zM231.3 154.4h1.1v1.1h-1.1zM232.2 154.4h1.1v1.1h-1.1zM233.1 154.4h1.1v1.1h-1.1zM234.1 154.4h1.1v1.1h-1.1zM235.0 154.4h1.1v1.1h-1.1zM236.0 154.4h1.1v1.1h-1.1zM236.9 154.4h1.1v1.1h-1.1zM238.8 154.4h1.1v1.1h-1.1zM240.7 154.4h1.1v1.1h-1.1zM80.0 153.5h1.1v1.1h-1.1zM84.6 153.5h1.1v1.1h-1.1zM87.4 153.5h1.1v1.1h-1.1zM88.3 153.5h1.1v1.1h-1.1zM90.2 153.5h1.1v1.1h-1.1zM92.1 153.5h1.1v1.1h-1.1zM93.9 153.5h1.1v1.1h-1.1zM95.8 153.5h1.1v1.1h-1.1zM97.6 153.5h1.1v1.1h-1.1zM99.5 153.5h1.1v1.1h-1.1zM100.4 153.5h1.1v1.1h-1.1zM101.4 153.5h1.1v1.1h-1.1zM102.3 153.5h1.1v1.1h-1.1zM103.2 153.5h1.1v1.1h-1.1zM191.7 153.5h1.1v1.1h-1.1zM192.6 153.5h1.1v1.1h-1.1zM193.5 153.5h1.1v1.1h-1.1zM194.4 153.5h1.1v1.1h-1.1zM198.2 153.5h1.1v1.1h-1.1zM199.1 153.5h1.1v1.1h-1.1zM200.0 153.5h1.1v1.1h-1.1zM221.4 153.5h1.1v1.1h-1.1zM222.4 153.5h1.1v1.1h-1.1zM224.2 153.5h1.1v1.1h-1.1zM226.1 153.5h1.1v1.1h-1.1zM227.0 153.5h1.1v1.1h-1.1zM228.0 153.5h1.1v1.1h-1.1zM228.9 153.5h1.1v1.1h-1.1zM229.8 153.5h1.1v1.1h-1.1zM234.5 153.5h1.1v1.1h-1.1zM235.4 153.5h1.1v1.1h-1.1zM236.3 153.5h1.1v1.1h-1.1zM237.3 153.5h1.1v1.1h-1.1zM238.2 153.5h1.1v1.1h-1.1zM239.1 153.5h1.1v1.1h-1.1zM240.1 153.5h1.1v1.1h-1.1zM241.0 153.5h1.1v1.1h-1.1zM241.9 153.5h1.1v1.1h-1.1zM47.7 152.6h1.1v1.1h-1.1zM52.3 152.6h1.1v1.1h-1.1zM88.2 152.6h1.1v1.1h-1.1zM91.0 152.6h1.1v1.1h-1.1zM91.9 152.6h1.1v1.1h-1.1zM92.8 152.6h1.1v1.1h-1.1zM94.7 152.6h1.1v1.1h-1.1zM95.6 152.6h1.1v1.1h-1.1zM96.5 152.6h1.1v1.1h-1.1zM97.4 152.6h1.1v1.1h-1.1zM99.3 152.6h1.1v1.1h-1.1zM101.1 152.6h1.1v1.1h-1.1zM102.1 152.6h1.1v1.1h-1.1zM103.0 152.6h1.1v1.1h-1.1zM203.5 152.6h1.1v1.1h-1.1zM204.4 152.6h1.1v1.1h-1.1zM221.9 152.6h1.1v1.1h-1.1zM222.8 152.6h1.1v1.1h-1.1zM224.7 152.6h1.1v1.1h-1.1zM232.1 152.6h1.1v1.1h-1.1zM233.0 152.6h1.1v1.1h-1.1zM234.8 152.6h1.1v1.1h-1.1zM235.8 152.6h1.1v1.1h-1.1zM236.7 152.6h1.1v1.1h-1.1zM237.6 152.6h1.1v1.1h-1.1zM238.5 152.6h1.1v1.1h-1.1zM240.4 152.6h1.1v1.1h-1.1zM241.3 152.6h1.1v1.1h-1.1zM293.8 152.6h1.1v1.1h-1.1zM90.0 151.7h1.1v1.1h-1.1zM91.8 151.7h1.1v1.1h-1.1zM92.7 151.7h1.1v1.1h-1.1zM93.6 151.7h1.1v1.1h-1.1zM94.5 151.7h1.1v1.1h-1.1zM95.4 151.7h1.1v1.1h-1.1zM101.8 151.7h1.1v1.1h-1.1zM102.8 151.7h1.1v1.1h-1.1zM103.7 151.7h1.1v1.1h-1.1zM203.2 151.7h1.1v1.1h-1.1zM204.1 151.7h1.1v1.1h-1.1zM220.6 151.7h1.1v1.1h-1.1zM221.5 151.7h1.1v1.1h-1.1zM222.4 151.7h1.1v1.1h-1.1zM223.3 151.7h1.1v1.1h-1.1zM227.9 151.7h1.1v1.1h-1.1zM231.5 151.7h1.1v1.1h-1.1zM233.3 151.7h1.1v1.1h-1.1zM235.2 151.7h1.1v1.1h-1.1zM236.1 151.7h1.1v1.1h-1.1zM237.9 151.7h1.1v1.1h-1.1zM238.8 151.7h1.1v1.1h-1.1zM240.7 151.7h1.1v1.1h-1.1zM241.6 151.7h1.1v1.1h-1.1zM292.7 151.7h1.1v1.1h-1.1zM48.3 150.8h1.1v1.1h-1.1zM76.3 150.8h1.1v1.1h-1.1zM85.4 150.8h1.1v1.1h-1.1zM93.5 150.8h1.1v1.1h-1.1zM94.4 150.8h1.1v1.1h-1.1zM95.3 150.8h1.1v1.1h-1.1zM96.2 150.8h1.1v1.1h-1.1zM98.0 150.8h1.1v1.1h-1.1zM98.9 150.8h1.1v1.1h-1.1zM101.6 150.8h1.1v1.1h-1.1zM103.5 150.8h1.1v1.1h-1.1zM203.8 150.8h1.1v1.1h-1.1zM204.7 150.8h1.1v1.1h-1.1zM209.3 150.8h1.1v1.1h-1.1zM221.0 150.8h1.1v1.1h-1.1zM221.9 150.8h1.1v1.1h-1.1zM223.7 150.8h1.1v1.1h-1.1zM228.3 150.8h1.1v1.1h-1.1zM229.2 150.8h1.1v1.1h-1.1zM230.1 150.8h1.1v1.1h-1.1zM231.0 150.8h1.1v1.1h-1.1zM231.9 150.8h1.1v1.1h-1.1zM232.8 150.8h1.1v1.1h-1.1zM235.5 150.8h1.1v1.1h-1.1zM237.3 150.8h1.1v1.1h-1.1zM238.2 150.8h1.1v1.1h-1.1zM239.1 150.8h1.1v1.1h-1.1zM240.0 150.8h1.1v1.1h-1.1zM281.6 150.8h1.1v1.1h-1.1zM283.4 150.8h1.1v1.1h-1.1zM53.1 149.9h1.1v1.1h-1.1zM76.4 149.9h1.1v1.1h-1.1zM88.0 149.9h1.1v1.1h-1.1zM93.4 149.9h1.1v1.1h-1.1zM96.1 149.9h1.1v1.1h-1.1zM97.0 149.9h1.1v1.1h-1.1zM97.9 149.9h1.1v1.1h-1.1zM98.8 149.9h1.1v1.1h-1.1zM99.7 149.9h1.1v1.1h-1.1zM101.5 149.9h1.1v1.1h-1.1zM102.4 149.9h1.1v1.1h-1.1zM106.9 149.9h1.1v1.1h-1.1zM107.7 149.9h1.1v1.1h-1.1zM108.6 149.9h1.1v1.1h-1.1zM109.5 149.9h1.1v1.1h-1.1zM114.9 149.9h1.1v1.1h-1.1zM115.8 149.9h1.1v1.1h-1.1zM206.2 149.9h1.1v1.1h-1.1zM208.0 149.9h1.1v1.1h-1.1zM214.3 149.9h1.1v1.1h-1.1zM220.6 149.9h1.1v1.1h-1.1zM222.4 149.9h1.1v1.1h-1.1zM223.3 149.9h1.1v1.1h-1.1zM224.1 149.9h1.1v1.1h-1.1zM227.7 149.9h1.1v1.1h-1.1zM230.4 149.9h1.1v1.1h-1.1zM231.3 149.9h1.1v1.1h-1.1zM232.2 149.9h1.1v1.1h-1.1zM234.0 149.9h1.1v1.1h-1.1zM235.8 149.9h1.1v1.1h-1.1zM236.7 149.9h1.1v1.1h-1.1zM237.6 149.9h1.1v1.1h-1.1zM238.5 149.9h1.1v1.1h-1.1zM241.2 149.9h1.1v1.1h-1.1zM278.8 149.9h1.1v1.1h-1.1zM285.0 149.9h1.1v1.1h-1.1zM285.9 149.9h1.1v1.1h-1.1zM286.8 149.9h1.1v1.1h-1.1zM301.1 149.9h1.1v1.1h-1.1zM83.6 149.0h1.1v1.1h-1.1zM90.7 149.0h1.1v1.1h-1.1zM91.6 149.0h1.1v1.1h-1.1zM94.2 149.0h1.1v1.1h-1.1zM95.1 149.0h1.1v1.1h-1.1zM96.0 149.0h1.1v1.1h-1.1zM96.9 149.0h1.1v1.1h-1.1zM97.8 149.0h1.1v1.1h-1.1zM98.7 149.0h1.1v1.1h-1.1zM99.6 149.0h1.1v1.1h-1.1zM100.5 149.0h1.1v1.1h-1.1zM101.3 149.0h1.1v1.1h-1.1zM102.2 149.0h1.1v1.1h-1.1zM106.7 149.0h1.1v1.1h-1.1zM107.5 149.0h1.1v1.1h-1.1zM193.5 149.0h1.1v1.1h-1.1zM198.8 149.0h1.1v1.1h-1.1zM202.4 149.0h1.1v1.1h-1.1zM205.9 149.0h1.1v1.1h-1.1zM222.8 149.0h1.1v1.1h-1.1zM223.6 149.0h1.1v1.1h-1.1zM224.5 149.0h1.1v1.1h-1.1zM229.0 149.0h1.1v1.1h-1.1zM229.9 149.0h1.1v1.1h-1.1zM230.7 149.0h1.1v1.1h-1.1zM231.6 149.0h1.1v1.1h-1.1zM232.5 149.0h1.1v1.1h-1.1zM233.4 149.0h1.1v1.1h-1.1zM234.3 149.0h1.1v1.1h-1.1zM235.2 149.0h1.1v1.1h-1.1zM236.1 149.0h1.1v1.1h-1.1zM236.9 149.0h1.1v1.1h-1.1zM237.8 149.0h1.1v1.1h-1.1zM238.7 149.0h1.1v1.1h-1.1zM273.3 149.0h1.1v1.1h-1.1zM276.8 149.0h1.1v1.1h-1.1zM278.6 149.0h1.1v1.1h-1.1zM283.0 149.0h1.1v1.1h-1.1zM283.9 149.0h1.1v1.1h-1.1zM284.8 149.0h1.1v1.1h-1.1zM285.7 149.0h1.1v1.1h-1.1zM286.6 149.0h1.1v1.1h-1.1zM292.8 149.0h1.1v1.1h-1.1zM299.0 149.0h1.1v1.1h-1.1zM94.2 148.2h1.1v1.1h-1.1zM96.0 148.2h1.1v1.1h-1.1zM98.6 148.2h1.1v1.1h-1.1zM99.5 148.2h1.1v1.1h-1.1zM100.3 148.2h1.1v1.1h-1.1zM102.1 148.2h1.1v1.1h-1.1zM120.5 148.2h1.1v1.1h-1.1zM121.4 148.2h1.1v1.1h-1.1zM123.1 148.2h1.1v1.1h-1.1zM124.0 148.2h1.1v1.1h-1.1zM194.2 148.2h1.1v1.1h-1.1zM196.8 148.2h1.1v1.1h-1.1zM198.6 148.2h1.1v1.1h-1.1zM222.3 148.2h1.1v1.1h-1.1zM223.1 148.2h1.1v1.1h-1.1zM224.0 148.2h1.1v1.1h-1.1zM224.9 148.2h1.1v1.1h-1.1zM225.8 148.2h1.1v1.1h-1.1zM228.4 148.2h1.1v1.1h-1.1zM230.2 148.2h1.1v1.1h-1.1zM231.0 148.2h1.1v1.1h-1.1zM232.8 148.2h1.1v1.1h-1.1zM233.7 148.2h1.1v1.1h-1.1zM234.5 148.2h1.1v1.1h-1.1zM235.4 148.2h1.1v1.1h-1.1zM236.3 148.2h1.1v1.1h-1.1zM237.2 148.2h1.1v1.1h-1.1zM269.6 148.2h1.1v1.1h-1.1zM270.5 148.2h1.1v1.1h-1.1zM271.4 148.2h1.1v1.1h-1.1zM277.5 148.2h1.1v1.1h-1.1zM281.9 148.2h1.1v1.1h-1.1zM282.8 148.2h1.1v1.1h-1.1zM283.7 148.2h1.1v1.1h-1.1zM284.5 148.2h1.1v1.1h-1.1zM285.4 148.2h1.1v1.1h-1.1zM290.7 148.2h1.1v1.1h-1.1zM298.6 148.2h1.1v1.1h-1.1zM94.2 147.3h1.1v1.1h-1.1zM102.0 147.3h1.1v1.1h-1.1zM102.9 147.3h1.1v1.1h-1.1zM106.3 147.3h1.1v1.1h-1.1zM107.2 147.3h1.1v1.1h-1.1zM109.8 147.3h1.1v1.1h-1.1zM124.6 147.3h1.1v1.1h-1.1zM125.4 147.3h1.1v1.1h-1.1zM211.3 147.3h1.1v1.1h-1.1zM224.4 147.3h1.1v1.1h-1.1zM231.3 147.3h1.1v1.1h-1.1zM232.2 147.3h1.1v1.1h-1.1zM234.8 147.3h1.1v1.1h-1.1zM235.6 147.3h1.1v1.1h-1.1zM236.5 147.3h1.1v1.1h-1.1zM266.9 147.3h1.1v1.1h-1.1zM267.8 147.3h1.1v1.1h-1.1zM268.6 147.3h1.1v1.1h-1.1zM269.5 147.3h1.1v1.1h-1.1zM270.4 147.3h1.1v1.1h-1.1zM281.6 147.3h1.1v1.1h-1.1zM282.5 147.3h1.1v1.1h-1.1zM283.4 147.3h1.1v1.1h-1.1zM288.6 147.3h1.1v1.1h-1.1zM89.9 146.5h1.1v1.0h-1.1zM91.6 146.5h1.1v1.0h-1.1zM95.1 146.5h1.1v1.0h-1.1zM100.2 146.5h1.1v1.0h-1.1zM107.9 146.5h1.1v1.0h-1.1zM126.0 146.5h1.1v1.0h-1.1zM229.0 146.5h1.1v1.0h-1.1zM229.8 146.5h1.1v1.0h-1.1zM230.7 146.5h1.1v1.0h-1.1zM231.6 146.5h1.1v1.0h-1.1zM232.4 146.5h1.1v1.0h-1.1zM234.1 146.5h1.1v1.0h-1.1zM247.9 146.5h1.1v1.0h-1.1zM252.2 146.5h1.1v1.0h-1.1zM261.6 146.5h1.1v1.0h-1.1zM265.9 146.5h1.1v1.0h-1.1zM266.8 146.5h1.1v1.0h-1.1zM267.6 146.5h1.1v1.0h-1.1zM268.5 146.5h1.1v1.0h-1.1zM280.5 146.5h1.1v1.0h-1.1zM281.3 146.5h1.1v1.0h-1.1zM282.2 146.5h1.1v1.0h-1.1zM288.2 146.5h1.1v1.0h-1.1zM295.9 146.5h1.1v1.0h-1.1zM296.8 146.5h1.1v1.0h-1.1zM92.6 145.6h1.0v1.0h-1.0zM99.4 145.6h1.0v1.0h-1.0zM103.6 145.6h1.0v1.0h-1.0zM105.3 145.6h1.0v1.0h-1.0zM112.9 145.6h1.0v1.0h-1.0zM124.0 145.6h1.0v1.0h-1.0zM124.8 145.6h1.0v1.0h-1.0zM125.7 145.6h1.0v1.0h-1.0zM127.4 145.6h1.0v1.0h-1.0zM239.4 145.6h1.0v1.0h-1.0zM246.2 145.6h1.0v1.0h-1.0zM252.1 145.6h1.0v1.0h-1.0zM253.0 145.6h1.0v1.0h-1.0zM255.5 145.6h1.0v1.0h-1.0zM256.4 145.6h1.0v1.0h-1.0zM265.7 145.6h1.0v1.0h-1.0zM280.2 145.6h1.0v1.0h-1.0zM281.0 145.6h1.0v1.0h-1.0zM281.9 145.6h1.0v1.0h-1.0zM282.7 145.6h1.0v1.0h-1.0zM283.6 145.6h1.0v1.0h-1.0zM295.4 145.6h1.0v1.0h-1.0zM91.8 144.8h1.0v1.0h-1.0zM92.7 144.8h1.0v1.0h-1.0zM113.6 144.8h1.0v1.0h-1.0zM124.6 144.8h1.0v1.0h-1.0zM125.4 144.8h1.0v1.0h-1.0zM265.5 144.8h1.0v1.0h-1.0zM91.2 144.0h1.0v1.0h-1.0zM103.6 144.0h1.0v1.0h-1.0zM113.5 144.0h1.0v1.0h-1.0zM114.4 144.0h1.0v1.0h-1.0zM117.7 144.0h1.0v1.0h-1.0zM118.5 144.0h1.0v1.0h-1.0zM242.9 144.0h1.0v1.0h-1.0zM244.5 144.0h1.0v1.0h-1.0zM101.2 143.2h1.0v1.0h-1.0zM103.7 143.2h1.0v1.0h-1.0zM113.5 143.2h1.0v1.0h-1.0zM114.3 143.2h1.0v1.0h-1.0zM115.1 143.2h1.0v1.0h-1.0zM248.6 143.2h1.0v1.0h-1.0zM266.6 143.2h1.0v1.0h-1.0zM94.1 142.4h1.0v1.0h-1.0zM94.9 142.4h1.0v1.0h-1.0zM104.6 142.4h1.0v1.0h-1.0zM106.2 142.4h1.0v1.0h-1.0zM107.0 142.4h1.0v1.0h-1.0zM114.3 142.4h1.0v1.0h-1.0zM121.6 142.4h1.0v1.0h-1.0zM263.8 142.4h1.0v1.0h-1.0zM265.4 142.4h1.0v1.0h-1.0zM267.8 142.4h1.0v1.0h-1.0zM96.0 141.6h1.0v1.0h-1.0zM107.9 141.6h1.0v1.0h-1.0zM116.7 141.6h1.0v1.0h-1.0zM262.6 141.6h1.0v1.0h-1.0zM265.0 141.6h1.0v1.0h-1.0zM266.6 141.6h1.0v1.0h-1.0zM268.2 141.6h1.0v1.0h-1.0zM97.1 140.8h1.0v1.0h-1.0zM97.9 140.8h1.0v1.0h-1.0zM106.5 140.8h1.0v1.0h-1.0zM108.1 140.8h1.0v1.0h-1.0zM110.5 140.8h1.0v1.0h-1.0zM112.8 140.8h1.0v1.0h-1.0zM113.6 140.8h1.0v1.0h-1.0zM116.8 140.8h1.0v1.0h-1.0zM117.5 140.8h1.0v1.0h-1.0zM118.3 140.8h1.0v1.0h-1.0zM125.4 140.8h1.0v1.0h-1.0zM98.3 140.1h1.0v1.0h-1.0zM100.6 140.1h1.0v1.0h-1.0zM101.4 140.1h1.0v1.0h-1.0zM102.1 140.1h1.0v1.0h-1.0zM113.7 140.1h1.0v1.0h-1.0zM117.6 140.1h1.0v1.0h-1.0zM118.4 140.1h1.0v1.0h-1.0zM119.2 140.1h1.0v1.0h-1.0zM125.4 140.1h1.0v1.0h-1.0zM104.8 139.3h1.0v0.9h-1.0zM113.9 139.3h1.0v0.9h-1.0zM116.2 139.3h1.0v0.9h-1.0zM117.7 139.3h1.0v0.9h-1.0zM118.5 139.3h1.0v0.9h-1.0zM126.1 139.3h1.0v0.9h-1.0zM109.6 138.6h1.0v0.9h-1.0zM110.4 138.6h1.0v0.9h-1.0zM111.1 138.6h1.0v0.9h-1.0zM115.6 138.6h1.0v0.9h-1.0zM117.9 138.6h1.0v0.9h-1.0zM118.6 138.6h1.0v0.9h-1.0zM120.1 138.6h1.0v0.9h-1.0zM126.1 138.6h1.0v0.9h-1.0zM131.4 138.6h1.0v0.9h-1.0zM132.1 138.6h1.0v0.9h-1.0zM117.3 137.9h0.9v0.9h-0.9zM118.0 137.9h0.9v0.9h-0.9zM125.4 137.9h0.9v0.9h-0.9zM127.6 137.9h0.9v0.9h-0.9zM119.6 137.3h0.9v0.9h-0.9zM129.1 137.3h0.9v0.9h-0.9zM123.3 136.7h0.9v0.8h-0.9zM129.1 136.7h0.9v0.8h-0.9z"/>
<path fill="#0a0a30" d="M115.3 274.6h1.2v1.2h-1.2zM114.9 273.7h1.2v1.2h-1.2zM113.1 271.7h1.2v1.2h-1.2zM111.3 269.7h1.3v1.2h-1.3zM112.0 268.7h1.3v1.2h-1.3zM307.0 226.3h1.4v1.2h-1.4zM314.1 226.3h1.4v1.2h-1.4zM274.9 225.3h1.4v1.2h-1.4zM205.9 223.2h1.4v1.2h-1.4zM204.7 222.2h1.4v1.2h-1.4zM205.9 220.2h1.4v1.2h-1.4zM271.5 220.2h1.4v1.2h-1.4zM283.4 220.2h1.4v1.2h-1.4zM203.5 219.2h1.4v1.2h-1.4zM204.7 219.2h1.4v1.2h-1.4zM205.9 219.2h1.4v1.2h-1.4zM285.8 219.2h1.4v1.2h-1.4zM281.0 218.2h1.4v1.2h-1.4zM270.2 217.2h1.4v1.2h-1.4zM282.1 216.1h1.4v1.2h-1.4zM292.6 211.1h1.4v1.2h-1.4zM291.2 209.1h1.4v1.2h-1.4zM291.0 207.0h1.4v1.2h-1.4zM292.1 206.0h1.4v1.2h-1.4zM289.2 202.0h1.4v1.2h-1.4zM101.1 184.8h1.3v1.2h-1.3zM101.9 181.7h1.3v1.2h-1.3zM103.3 180.7h1.3v1.2h-1.3zM105.6 176.7h1.3v1.2h-1.3zM108.1 172.7h1.3v1.2h-1.3zM97.7 171.7h1.3v1.2h-1.3zM104.2 171.7h1.3v1.2h-1.3zM105.2 171.7h1.3v1.2h-1.3zM120.2 171.7h1.3v1.2h-1.3zM97.1 170.7h1.3v1.2h-1.3zM99.2 170.7h1.3v1.2h-1.3zM103.5 170.7h1.3v1.2h-1.3zM108.8 170.7h1.3v1.2h-1.3zM118.4 170.7h1.3v1.2h-1.3zM101.2 168.7h1.3v1.2h-1.3zM102.2 168.7h1.3v1.2h-1.3zM118.0 168.7h1.3v1.2h-1.3zM115.2 167.7h1.2v1.2h-1.2zM95.3 165.8h1.2v1.2h-1.2zM111.8 165.8h1.2v1.2h-1.2zM113.9 165.8h1.2v1.2h-1.2zM108.2 164.8h1.2v1.2h-1.2zM108.6 163.8h1.2v1.2h-1.2zM94.9 162.8h1.2v1.2h-1.2zM113.2 162.8h1.2v1.2h-1.2zM103.6 161.9h1.2v1.2h-1.2zM108.1 160.9h1.2v1.2h-1.2zM112.1 160.9h1.2v1.2h-1.2zM114.1 160.9h1.2v1.2h-1.2zM123.5 160.0h1.2v1.2h-1.2zM98.4 159.0h1.2v1.1h-1.2zM115.5 158.1h1.2v1.1h-1.2zM126.3 158.1h1.2v1.1h-1.2zM97.7 157.1h1.2v1.1h-1.2zM88.6 155.3h1.1v1.1h-1.1zM120.9 155.3h1.1v1.1h-1.1zM189.1 155.3h1.1v1.1h-1.1zM192.9 155.3h1.1v1.1h-1.1zM51.8 154.4h1.1v1.1h-1.1zM81.9 154.4h1.1v1.1h-1.1zM83.8 154.4h1.1v1.1h-1.1zM96.0 154.4h1.1v1.1h-1.1zM115.7 154.4h1.1v1.1h-1.1zM192.7 154.4h1.1v1.1h-1.1zM195.6 154.4h1.1v1.1h-1.1zM198.4 154.4h1.1v1.1h-1.1zM202.1 154.4h1.1v1.1h-1.1zM53.0 153.5h1.1v1.1h-1.1zM77.2 153.5h1.1v1.1h-1.1zM79.0 153.5h1.1v1.1h-1.1zM94.9 153.5h1.1v1.1h-1.1zM184.2 153.5h1.1v1.1h-1.1zM54.1 152.6h1.1v1.1h-1.1zM93.8 152.6h1.1v1.1h-1.1zM100.2 152.6h1.1v1.1h-1.1zM189.7 152.6h1.1v1.1h-1.1zM194.3 152.6h1.1v1.1h-1.1zM201.6 152.6h1.1v1.1h-1.1zM84.5 151.7h1.1v1.1h-1.1zM90.9 151.7h1.1v1.1h-1.1zM100.9 151.7h1.1v1.1h-1.1zM183.1 151.7h1.1v1.1h-1.1zM195.9 151.7h1.1v1.1h-1.1zM56.4 150.8h1.1v1.1h-1.1zM183.0 150.8h1.1v1.1h-1.1zM196.6 150.8h1.1v1.1h-1.1zM199.3 150.8h1.1v1.1h-1.1zM52.2 149.9h1.1v1.1h-1.1zM89.8 149.9h1.1v1.1h-1.1zM94.3 149.9h1.1v1.1h-1.1zM110.4 149.9h1.1v1.1h-1.1zM195.5 149.9h1.1v1.1h-1.1zM89.8 149.0h1.1v1.1h-1.1zM103.1 149.0h1.1v1.1h-1.1zM108.4 149.0h1.1v1.1h-1.1zM192.6 149.0h1.1v1.1h-1.1zM200.6 149.0h1.1v1.1h-1.1zM82.8 148.2h1.1v1.1h-1.1zM96.8 148.2h1.1v1.1h-1.1zM97.7 148.2h1.1v1.1h-1.1zM108.2 148.2h1.1v1.1h-1.1zM117.9 148.2h1.1v1.1h-1.1zM97.7 147.3h1.1v1.1h-1.1zM98.5 147.3h1.1v1.1h-1.1zM103.7 147.3h1.1v1.1h-1.1zM104.6 147.3h1.1v1.1h-1.1zM105.5 147.3h1.1v1.1h-1.1zM108.1 147.3h1.1v1.1h-1.1zM114.2 147.3h1.1v1.1h-1.1zM117.6 147.3h1.1v1.1h-1.1zM121.1 147.3h1.1v1.1h-1.1zM123.7 147.3h1.1v1.1h-1.1zM92.5 146.5h1.1v1.0h-1.1zM94.2 146.5h1.1v1.0h-1.1zM98.5 146.5h1.1v1.0h-1.1zM101.9 146.5h1.1v1.0h-1.1zM103.7 146.5h1.1v1.0h-1.1zM105.4 146.5h1.1v1.0h-1.1zM115.7 146.5h1.1v1.0h-1.1zM116.5 146.5h1.1v1.0h-1.1zM119.1 146.5h1.1v1.0h-1.1zM124.3 146.5h1.1v1.0h-1.1zM125.1 146.5h1.1v1.0h-1.1zM240.1 146.5h1.1v1.0h-1.1zM93.4 145.6h1.0v1.0h-1.0zM98.5 145.6h1.0v1.0h-1.0zM112.1 145.6h1.0v1.0h-1.0zM117.2 145.6h1.0v1.0h-1.0zM119.7 145.6h1.0v1.0h-1.0zM242.0 145.6h1.0v1.0h-1.0zM243.7 145.6h1.0v1.0h-1.0zM250.4 145.6h1.0v1.0h-1.0zM254.7 145.6h1.0v1.0h-1.0zM90.2 144.8h1.0v1.0h-1.0zM98.5 144.8h1.0v1.0h-1.0zM99.4 144.8h1.0v1.0h-1.0zM101.1 144.8h1.0v1.0h-1.0zM110.3 144.8h1.0v1.0h-1.0zM111.1 144.8h1.0v1.0h-1.0zM112.8 144.8h1.0v1.0h-1.0zM114.5 144.8h1.0v1.0h-1.0zM120.4 144.8h1.0v1.0h-1.0zM247.9 144.8h1.0v1.0h-1.0zM248.7 144.8h1.0v1.0h-1.0zM252.1 144.8h1.0v1.0h-1.0zM100.3 144.0h1.0v1.0h-1.0zM107.7 144.0h1.0v1.0h-1.0zM111.1 144.0h1.0v1.0h-1.0zM115.2 144.0h1.0v1.0h-1.0zM120.2 144.0h1.0v1.0h-1.0zM121.8 144.0h1.0v1.0h-1.0zM99.6 143.2h1.0v1.0h-1.0zM100.4 143.2h1.0v1.0h-1.0zM102.0 143.2h1.0v1.0h-1.0zM104.5 143.2h1.0v1.0h-1.0zM105.3 143.2h1.0v1.0h-1.0zM106.9 143.2h1.0v1.0h-1.0zM107.8 143.2h1.0v1.0h-1.0zM109.4 143.2h1.0v1.0h-1.0zM111.9 143.2h1.0v1.0h-1.0zM117.6 143.2h1.0v1.0h-1.0zM250.2 143.2h1.0v1.0h-1.0zM100.5 142.4h1.0v1.0h-1.0zM102.2 142.4h1.0v1.0h-1.0zM105.4 142.4h1.0v1.0h-1.0zM118.3 142.4h1.0v1.0h-1.0zM99.2 141.6h1.0v1.0h-1.0zM102.4 141.6h1.0v1.0h-1.0zM104.8 141.6h1.0v1.0h-1.0zM106.3 141.6h1.0v1.0h-1.0zM108.7 141.6h1.0v1.0h-1.0zM120.7 141.6h1.0v1.0h-1.0zM121.5 141.6h1.0v1.0h-1.0zM123.9 141.6h1.0v1.0h-1.0zM99.5 140.8h1.0v1.0h-1.0zM104.2 140.8h1.0v1.0h-1.0zM105.0 140.8h1.0v1.0h-1.0zM109.7 140.8h1.0v1.0h-1.0zM115.2 140.8h1.0v1.0h-1.0zM119.1 140.8h1.0v1.0h-1.0zM105.2 140.1h1.0v1.0h-1.0zM109.9 140.1h1.0v1.0h-1.0zM123.0 140.1h1.0v1.0h-1.0zM123.8 140.1h1.0v1.0h-1.0zM106.3 139.3h1.0v0.9h-1.0zM107.1 139.3h1.0v0.9h-1.0zM124.6 139.3h1.0v0.9h-1.0zM127.6 139.3h1.0v0.9h-1.0zM114.9 138.6h1.0v0.9h-1.0zM117.1 138.6h1.0v0.9h-1.0zM119.4 138.6h1.0v0.9h-1.0zM122.4 138.6h1.0v0.9h-1.0zM123.9 138.6h1.0v0.9h-1.0zM124.6 138.6h1.0v0.9h-1.0zM129.1 138.6h1.0v0.9h-1.0zM118.7 137.9h0.9v0.9h-0.9zM120.2 137.9h0.9v0.9h-0.9zM124.7 137.9h0.9v0.9h-0.9zM126.9 137.9h0.9v0.9h-0.9zM124.7 137.3h0.9v0.9h-0.9zM130.5 137.3h0.9v0.9h-0.9zM119.8 136.7h0.9v0.8h-0.9zM121.9 136.7h0.9v0.8h-0.9z"/>
<path fill="#2090f0" d="M115.6 272.7h1.2v1.2h-1.2zM117.7 272.7h1.2v1.2h-1.2zM318.5 267.7h1.3v1.2h-1.3zM109.1 259.7h1.3v1.2h-1.3zM279.7 253.6h1.3v1.2h-1.3zM200.0 252.6h1.3v1.2h-1.3zM113.8 249.6h1.4v1.2h-1.4zM109.8 245.5h1.4v1.2h-1.4zM135.3 244.5h1.4v1.2h-1.4zM296.6 235.4h1.4v1.2h-1.4zM299.1 234.4h1.4v1.2h-1.4zM102.7 233.4h1.4v1.2h-1.4zM102.6 231.3h1.4v1.2h-1.4zM292.4 230.3h1.4v1.2h-1.4zM104.6 223.2h1.4v1.2h-1.4zM117.7 217.2h1.4v1.2h-1.4zM178.5 211.1h1.4v1.2h-1.4zM221.2 210.1h1.4v1.2h-1.4zM193.9 209.1h1.4v1.2h-1.4zM162.0 198.9h1.4v1.2h-1.4zM246.9 192.9h1.4v1.2h-1.4zM171.4 190.8h1.4v1.2h-1.4zM189.8 188.8h1.3v1.2h-1.3zM210.4 187.8h1.3v1.2h-1.3zM273.2 186.8h1.3v1.2h-1.3zM180.6 185.8h1.3v1.2h-1.3zM178.3 184.8h1.3v1.2h-1.3zM184.0 184.8h1.3v1.2h-1.3zM258.9 184.8h1.3v1.2h-1.3zM85.0 178.7h1.3v1.2h-1.3zM219.3 178.7h1.3v1.2h-1.3zM89.8 177.7h1.3v1.2h-1.3zM263.3 177.7h1.3v1.2h-1.3zM182.6 175.7h1.3v1.2h-1.3zM184.6 173.7h1.3v1.2h-1.3zM95.2 172.7h1.3v1.2h-1.3zM252.8 168.7h1.3v1.2h-1.3zM251.4 165.8h1.2v1.2h-1.2zM69.4 161.9h1.2v1.2h-1.2zM262.9 160.0h1.2v1.2h-1.2zM243.8 156.2h1.2v1.1h-1.2zM107.1 150.8h1.1v1.1h-1.1zM162.2 150.8h1.1v1.1h-1.1zM222.6 147.3h1.1v1.1h-1.1zM185.7 140.1h1.0v1.0h-1.0z"/>
<path fill="#10c0f8" d="M112.5 263.7h1.3v1.2h-1.3zM110.0 262.7h1.3v1.2h-1.3zM111.6 260.7h1.3v1.2h-1.3zM299.2 260.7h1.3v1.2h-1.3zM304.7 260.7h1.3v1.2h-1.3zM305.8 260.7h1.3v1.2h-1.3zM112.7 255.6h1.3v1.2h-1.3zM280.1 255.6h1.3v1.2h-1.3zM297.1 255.6h1.3v1.2h-1.3zM199.9 254.6h1.3v1.2h-1.3zM192.0 253.6h1.3v1.2h-1.3zM201.1 253.6h1.3v1.2h-1.3zM293.4 253.6h1.3v1.2h-1.3zM127.9 251.6h1.3v1.2h-1.3zM122.0 250.6h1.3v1.2h-1.3zM123.0 249.6h1.4v1.2h-1.4zM125.2 248.6h1.4v1.2h-1.4zM304.3 248.6h1.4v1.2h-1.4zM283.8 247.5h1.4v1.2h-1.4zM282.8 246.5h1.4v1.2h-1.4zM281.9 245.5h1.4v1.2h-1.4zM283.0 245.5h1.4v1.2h-1.4zM119.0 244.5h1.4v1.2h-1.4zM207.5 244.5h1.4v1.2h-1.4zM282.1 244.5h1.4v1.2h-1.4zM301.9 244.5h1.4v1.2h-1.4zM313.5 244.5h1.4v1.2h-1.4zM114.2 243.5h1.4v1.2h-1.4zM134.1 243.5h1.4v1.2h-1.4zM312.6 243.5h1.4v1.2h-1.4zM219.3 242.5h1.4v1.2h-1.4zM116.4 241.5h1.4v1.2h-1.4zM285.0 241.5h1.4v1.2h-1.4zM115.1 240.5h1.4v1.2h-1.4zM301.6 240.5h1.4v1.2h-1.4zM34.0 239.4h1.4v1.2h-1.4zM115.0 239.4h1.4v1.2h-1.4zM109.0 238.4h1.4v1.2h-1.4zM127.8 237.4h1.4v1.2h-1.4zM111.2 236.4h1.4v1.2h-1.4zM130.0 235.4h1.4v1.2h-1.4zM196.2 234.4h1.4v1.2h-1.4zM197.4 234.4h1.4v1.2h-1.4zM112.1 232.4h1.4v1.2h-1.4zM121.6 232.4h1.4v1.2h-1.4zM123.9 232.4h1.4v1.2h-1.4zM197.4 231.3h1.4v1.2h-1.4zM196.3 229.3h1.4v1.2h-1.4zM310.3 229.3h1.4v1.2h-1.4zM110.7 228.3h1.4v1.2h-1.4zM111.9 228.3h1.4v1.2h-1.4zM291.4 228.3h1.4v1.2h-1.4zM309.2 228.3h1.4v1.2h-1.4zM310.4 228.3h1.4v1.2h-1.4zM311.6 228.3h1.4v1.2h-1.4zM111.9 227.3h1.4v1.2h-1.4zM127.3 227.3h1.4v1.2h-1.4zM279.6 227.3h1.4v1.2h-1.4zM280.8 227.3h1.4v1.2h-1.4zM311.7 227.3h1.4v1.2h-1.4zM312.9 227.3h1.4v1.2h-1.4zM99.9 226.3h1.4v1.2h-1.4zM133.2 226.3h1.4v1.2h-1.4zM195.1 226.3h1.4v1.2h-1.4zM198.7 226.3h1.4v1.2h-1.4zM310.6 226.3h1.4v1.2h-1.4zM99.9 225.3h1.4v1.2h-1.4zM197.5 225.3h1.4v1.2h-1.4zM311.8 225.3h1.4v1.2h-1.4zM98.7 224.3h1.4v1.2h-1.4zM124.9 224.3h1.4v1.2h-1.4zM126.1 224.3h1.4v1.2h-1.4zM190.4 224.3h1.4v1.2h-1.4zM110.6 223.2h1.4v1.2h-1.4zM207.1 223.2h1.4v1.2h-1.4zM282.1 223.2h1.4v1.2h-1.4zM297.6 223.2h1.4v1.2h-1.4zM319.1 223.2h1.4v1.2h-1.4zM118.9 222.2h1.4v1.2h-1.4zM123.7 222.2h1.4v1.2h-1.4zM129.6 222.2h1.4v1.2h-1.4zM205.9 222.2h1.4v1.2h-1.4zM207.1 222.2h1.4v1.2h-1.4zM283.4 222.2h1.4v1.2h-1.4zM303.6 222.2h1.4v1.2h-1.4zM115.3 221.2h1.4v1.2h-1.4zM186.8 221.2h1.4v1.2h-1.4zM207.1 221.2h1.4v1.2h-1.4zM207.1 220.2h1.4v1.2h-1.4zM282.2 220.2h1.4v1.2h-1.4zM291.7 220.2h1.4v1.2h-1.4zM196.4 219.2h1.4v1.2h-1.4zM202.3 219.2h1.4v1.2h-1.4zM207.1 219.2h1.4v1.2h-1.4zM269.1 219.2h1.4v1.2h-1.4zM291.7 219.2h1.4v1.2h-1.4zM270.3 218.2h1.4v1.2h-1.4zM219.0 217.2h1.4v1.2h-1.4zM195.2 216.1h1.4v1.2h-1.4zM196.3 216.1h1.4v1.2h-1.4zM123.7 215.1h1.4v1.2h-1.4zM195.1 215.1h1.4v1.2h-1.4zM184.4 214.1h1.4v1.2h-1.4zM114.2 213.1h1.4v1.2h-1.4zM292.7 213.1h1.4v1.2h-1.4zM291.5 212.1h1.4v1.2h-1.4zM111.9 211.1h1.4v1.2h-1.4zM115.5 211.1h1.4v1.2h-1.4zM210.5 210.1h1.4v1.2h-1.4zM211.7 210.1h1.4v1.2h-1.4zM291.3 210.1h1.4v1.2h-1.4zM292.5 210.1h1.4v1.2h-1.4zM113.2 209.1h1.4v1.2h-1.4zM195.1 209.1h1.4v1.2h-1.4zM287.7 209.1h1.4v1.2h-1.4zM292.4 209.1h1.4v1.2h-1.4zM210.5 208.0h1.4v1.2h-1.4zM268.6 208.0h1.4v1.2h-1.4zM291.1 208.0h1.4v1.2h-1.4zM293.5 208.0h1.4v1.2h-1.4zM292.2 207.0h1.4v1.2h-1.4zM293.4 207.0h1.4v1.2h-1.4zM203.3 206.0h1.4v1.2h-1.4zM206.9 206.0h1.4v1.2h-1.4zM208.0 206.0h1.4v1.2h-1.4zM165.4 205.0h1.4v1.2h-1.4zM206.8 205.0h1.4v1.2h-1.4zM244.7 205.0h1.4v1.2h-1.4zM270.7 205.0h1.4v1.2h-1.4zM289.6 205.0h1.4v1.2h-1.4zM210.3 204.0h1.4v1.2h-1.4zM275.3 204.0h1.4v1.2h-1.4zM288.3 204.0h1.4v1.2h-1.4zM275.2 203.0h1.4v1.2h-1.4zM289.3 203.0h1.4v1.2h-1.4zM209.1 202.0h1.4v1.2h-1.4zM270.3 202.0h1.4v1.2h-1.4zM206.7 201.0h1.4v1.2h-1.4zM263.1 201.0h1.4v1.2h-1.4zM270.2 201.0h1.4v1.2h-1.4zM89.2 199.9h1.4v1.2h-1.4zM90.3 199.9h1.4v1.2h-1.4zM264.2 199.9h1.4v1.2h-1.4zM287.7 199.9h1.4v1.2h-1.4zM249.8 197.9h1.4v1.2h-1.4zM268.4 196.9h1.4v1.2h-1.4zM213.4 195.9h1.4v1.2h-1.4zM248.4 195.9h1.4v1.2h-1.4zM262.4 195.9h1.4v1.2h-1.4zM270.6 195.9h1.4v1.2h-1.4zM243.6 194.9h1.4v1.2h-1.4zM246.0 194.9h1.4v1.2h-1.4zM243.5 193.9h1.4v1.2h-1.4zM245.8 193.9h1.4v1.2h-1.4zM247.0 193.9h1.4v1.2h-1.4zM251.3 191.8h1.4v1.2h-1.4zM265.2 191.8h1.4v1.2h-1.4zM276.8 191.8h1.4v1.2h-1.4zM278.0 191.8h1.4v1.2h-1.4zM99.8 190.8h1.4v1.2h-1.4zM166.8 190.8h1.4v1.2h-1.4zM191.0 189.8h1.4v1.2h-1.4zM201.4 189.8h1.4v1.2h-1.4zM247.5 189.8h1.4v1.2h-1.4zM72.6 188.8h1.3v1.2h-1.3zM97.9 188.8h1.3v1.2h-1.3zM170.3 188.8h1.3v1.2h-1.3zM214.0 188.8h1.3v1.2h-1.3zM237.0 188.8h1.3v1.2h-1.3zM248.5 188.8h1.3v1.2h-1.3zM281.8 188.8h1.3v1.2h-1.3zM98.1 187.8h1.3v1.2h-1.3zM99.2 187.8h1.3v1.2h-1.3zM237.9 187.8h1.3v1.2h-1.3zM241.4 187.8h1.3v1.2h-1.3zM98.3 186.8h1.3v1.2h-1.3zM237.8 186.8h1.3v1.2h-1.3zM245.8 186.8h1.3v1.2h-1.3zM67.8 185.8h1.3v1.2h-1.3zM242.1 185.8h1.3v1.2h-1.3zM250.1 185.8h1.3v1.2h-1.3zM276.3 185.8h1.3v1.2h-1.3zM278.6 185.8h1.3v1.2h-1.3zM284.3 185.8h1.3v1.2h-1.3zM68.2 184.8h1.3v1.2h-1.3zM278.2 184.8h1.3v1.2h-1.3zM100.2 183.7h1.3v1.2h-1.3zM177.2 183.7h1.3v1.2h-1.3zM179.4 183.7h1.3v1.2h-1.3zM227.0 183.7h1.3v1.2h-1.3zM256.4 183.7h1.3v1.2h-1.3zM259.8 183.7h1.3v1.2h-1.3zM101.6 182.7h1.3v1.2h-1.3zM169.3 182.7h1.3v1.2h-1.3zM177.2 182.7h1.3v1.2h-1.3zM178.3 182.7h1.3v1.2h-1.3zM179.4 182.7h1.3v1.2h-1.3zM221.1 182.7h1.3v1.2h-1.3zM225.6 182.7h1.3v1.2h-1.3zM253.8 182.7h1.3v1.2h-1.3zM94.0 181.7h1.3v1.2h-1.3zM103.0 181.7h1.3v1.2h-1.3zM231.1 181.7h1.3v1.2h-1.3zM74.2 180.7h1.3v1.2h-1.3zM77.6 180.7h1.3v1.2h-1.3zM93.2 180.7h1.3v1.2h-1.3zM95.5 180.7h1.3v1.2h-1.3zM220.8 180.7h1.3v1.2h-1.3zM221.9 180.7h1.3v1.2h-1.3zM253.2 180.7h1.3v1.2h-1.3zM256.6 180.7h1.3v1.2h-1.3zM272.2 180.7h1.3v1.2h-1.3zM274.5 180.7h1.3v1.2h-1.3zM280.1 180.7h1.3v1.2h-1.3zM94.7 179.7h1.3v1.2h-1.3zM95.8 179.7h1.3v1.2h-1.3zM171.6 179.7h1.3v1.2h-1.3zM179.4 179.7h1.3v1.2h-1.3zM180.5 179.7h1.3v1.2h-1.3zM183.8 179.7h1.3v1.2h-1.3zM254.0 179.7h1.3v1.2h-1.3zM278.5 179.7h1.3v1.2h-1.3zM281.9 179.7h1.3v1.2h-1.3zM284.1 179.7h1.3v1.2h-1.3zM96.1 178.7h1.3v1.2h-1.3zM279.2 178.7h1.3v1.2h-1.3zM289.2 178.7h1.3v1.2h-1.3zM84.3 177.7h1.3v1.2h-1.3zM87.6 177.7h1.3v1.2h-1.3zM170.5 177.7h1.3v1.2h-1.3zM86.9 176.7h1.3v1.2h-1.3zM88.0 176.7h1.3v1.2h-1.3zM101.2 176.7h1.3v1.2h-1.3zM264.0 176.7h1.3v1.2h-1.3zM277.2 176.7h1.3v1.2h-1.3zM278.3 176.7h1.3v1.2h-1.3zM65.5 175.7h1.3v1.2h-1.3zM200.1 175.7h1.3v1.2h-1.3zM214.3 175.7h1.3v1.2h-1.3zM261.4 175.7h1.3v1.2h-1.3zM269.0 175.7h1.3v1.2h-1.3zM276.7 175.7h1.3v1.2h-1.3zM282.2 175.7h1.3v1.2h-1.3zM283.3 175.7h1.3v1.2h-1.3zM284.3 175.7h1.3v1.2h-1.3zM78.0 174.7h1.3v1.2h-1.3zM98.7 174.7h1.3v1.2h-1.3zM176.0 174.7h1.3v1.2h-1.3zM181.4 174.7h1.3v1.2h-1.3zM223.9 174.7h1.3v1.2h-1.3zM283.8 174.7h1.3v1.2h-1.3zM75.2 173.7h1.3v1.2h-1.3zM79.6 173.7h1.3v1.2h-1.3zM91.5 173.7h1.3v1.2h-1.3zM101.2 173.7h1.3v1.2h-1.3zM104.5 173.7h1.3v1.2h-1.3zM283.2 173.7h1.3v1.2h-1.3zM284.3 173.7h1.3v1.2h-1.3zM91.9 172.7h1.3v1.2h-1.3zM93.0 172.7h1.3v1.2h-1.3zM99.5 172.7h1.3v1.2h-1.3zM101.6 172.7h1.3v1.2h-1.3zM103.8 172.7h1.3v1.2h-1.3zM117.8 172.7h1.3v1.2h-1.3zM279.4 172.7h1.3v1.2h-1.3zM109.5 171.7h1.3v1.2h-1.3zM117.0 171.7h1.3v1.2h-1.3zM118.1 171.7h1.3v1.2h-1.3zM217.8 171.7h1.3v1.2h-1.3zM275.6 171.7h1.3v1.2h-1.3zM277.8 171.7h1.3v1.2h-1.3zM283.1 171.7h1.3v1.2h-1.3zM285.3 171.7h1.3v1.2h-1.3zM85.4 170.7h1.3v1.2h-1.3zM104.6 170.7h1.3v1.2h-1.3zM117.4 170.7h1.3v1.2h-1.3zM121.6 170.7h1.3v1.2h-1.3zM180.2 170.7h1.3v1.2h-1.3zM191.9 170.7h1.3v1.2h-1.3zM250.6 170.7h1.3v1.2h-1.3zM261.2 170.7h1.3v1.2h-1.3zM98.6 169.7h1.3v1.2h-1.3zM100.7 169.7h1.3v1.2h-1.3zM101.8 169.7h1.3v1.2h-1.3zM117.7 169.7h1.3v1.2h-1.3zM180.2 169.7h1.3v1.2h-1.3zM190.8 169.7h1.3v1.2h-1.3zM240.6 169.7h1.3v1.2h-1.3zM280.9 169.7h1.3v1.2h-1.3zM283.0 169.7h1.3v1.2h-1.3zM284.0 169.7h1.3v1.2h-1.3zM114.9 168.7h1.3v1.2h-1.3zM119.1 168.7h1.3v1.2h-1.3zM180.2 168.7h1.3v1.2h-1.3zM184.4 168.7h1.3v1.2h-1.3zM191.8 168.7h1.3v1.2h-1.3zM213.9 168.7h1.3v1.2h-1.3zM278.1 168.7h1.3v1.2h-1.3zM281.3 168.7h1.3v1.2h-1.3zM283.4 168.7h1.3v1.2h-1.3zM285.5 168.7h1.3v1.2h-1.3zM295.0 168.7h1.3v1.2h-1.3zM83.8 167.7h1.2v1.2h-1.2zM99.5 167.7h1.2v1.2h-1.2zM104.8 167.7h1.2v1.2h-1.2zM182.2 167.7h1.2v1.2h-1.2zM184.3 167.7h1.2v1.2h-1.2zM191.7 167.7h1.2v1.2h-1.2zM194.8 167.7h1.2v1.2h-1.2zM225.2 167.7h1.2v1.2h-1.2zM239.8 167.7h1.2v1.2h-1.2zM269.1 167.7h1.2v1.2h-1.2zM277.5 167.7h1.2v1.2h-1.2zM279.6 167.7h1.2v1.2h-1.2zM284.8 167.7h1.2v1.2h-1.2zM84.4 166.7h1.2v1.2h-1.2zM183.2 166.7h1.2v1.2h-1.2zM210.3 166.7h1.2v1.2h-1.2zM240.4 166.7h1.2v1.2h-1.2zM243.6 166.7h1.2v1.2h-1.2zM265.4 166.7h1.2v1.2h-1.2zM281.0 166.7h1.2v1.2h-1.2zM70.5 165.8h1.2v1.2h-1.2zM78.8 165.8h1.2v1.2h-1.2zM238.0 165.8h1.2v1.2h-1.2zM241.1 165.8h1.2v1.2h-1.2zM250.4 165.8h1.2v1.2h-1.2zM78.4 164.8h1.2v1.2h-1.2zM89.7 164.8h1.2v1.2h-1.2zM119.5 164.8h1.2v1.2h-1.2zM181.1 164.8h1.2v1.2h-1.2zM209.8 164.8h1.2v1.2h-1.2zM238.6 164.8h1.2v1.2h-1.2zM245.7 164.8h1.2v1.2h-1.2zM254.0 164.8h1.2v1.2h-1.2zM80.1 163.8h1.2v1.2h-1.2zM104.6 163.8h1.2v1.2h-1.2zM192.2 163.8h1.2v1.2h-1.2zM202.4 163.8h1.2v1.2h-1.2zM204.5 163.8h1.2v1.2h-1.2zM244.2 163.8h1.2v1.2h-1.2zM302.3 163.8h1.2v1.2h-1.2zM67.6 162.8h1.2v1.2h-1.2zM103.0 162.8h1.2v1.2h-1.2zM208.3 162.8h1.2v1.2h-1.2zM211.3 162.8h1.2v1.2h-1.2zM256.9 162.8h1.2v1.2h-1.2zM80.5 161.9h1.2v1.2h-1.2zM96.5 161.9h1.2v1.2h-1.2zM99.6 161.9h1.2v1.2h-1.2zM108.6 161.9h1.2v1.2h-1.2zM190.0 161.9h1.2v1.2h-1.2zM210.1 161.9h1.2v1.2h-1.2zM220.1 161.9h1.2v1.2h-1.2zM274.4 161.9h1.2v1.2h-1.2zM275.4 161.9h1.2v1.2h-1.2zM45.3 160.9h1.2v1.2h-1.2zM104.1 160.9h1.2v1.2h-1.2zM105.1 160.9h1.2v1.2h-1.2zM170.9 160.9h1.2v1.2h-1.2zM205.8 160.9h1.2v1.2h-1.2zM207.8 160.9h1.2v1.2h-1.2zM261.6 160.9h1.2v1.2h-1.2zM275.6 160.9h1.2v1.2h-1.2zM97.8 160.0h1.2v1.2h-1.2zM205.6 160.0h1.2v1.2h-1.2zM207.5 160.0h1.2v1.2h-1.2zM239.2 160.0h1.2v1.2h-1.2zM250.1 160.0h1.2v1.2h-1.2zM260.0 160.0h1.2v1.2h-1.2zM260.9 160.0h1.2v1.2h-1.2zM261.9 160.0h1.2v1.2h-1.2zM263.9 160.0h1.2v1.2h-1.2zM192.6 159.0h1.2v1.1h-1.2zM215.1 159.0h1.2v1.1h-1.2zM233.8 159.0h1.2v1.1h-1.2zM238.7 159.0h1.2v1.1h-1.2zM240.6 159.0h1.2v1.1h-1.2zM241.6 159.0h1.2v1.1h-1.2zM243.6 159.0h1.2v1.1h-1.2zM273.0 159.0h1.2v1.1h-1.2zM72.7 158.1h1.2v1.1h-1.2zM74.7 158.1h1.2v1.1h-1.2zM93.2 158.1h1.2v1.1h-1.2zM118.5 158.1h1.2v1.1h-1.2zM216.7 158.1h1.2v1.1h-1.2zM237.2 158.1h1.2v1.1h-1.2zM271.2 158.1h1.2v1.1h-1.2zM88.1 157.1h1.2v1.1h-1.2zM89.0 157.1h1.2v1.1h-1.2zM115.1 157.1h1.2v1.1h-1.2zM185.5 157.1h1.2v1.1h-1.2zM240.5 157.1h1.2v1.1h-1.2zM241.5 157.1h1.2v1.1h-1.2zM271.4 157.1h1.2v1.1h-1.2zM49.6 156.2h1.2v1.1h-1.2zM94.6 156.2h1.2v1.1h-1.2zM96.5 156.2h1.2v1.1h-1.2zM189.2 156.2h1.2v1.1h-1.2zM190.2 156.2h1.2v1.1h-1.2zM192.1 156.2h1.2v1.1h-1.2zM199.8 156.2h1.2v1.1h-1.2zM210.3 156.2h1.2v1.1h-1.2zM217.9 156.2h1.2v1.1h-1.2zM221.8 156.2h1.2v1.1h-1.2zM269.6 156.2h1.2v1.1h-1.2zM74.4 155.3h1.1v1.1h-1.1zM182.5 155.3h1.1v1.1h-1.1zM184.4 155.3h1.1v1.1h-1.1zM197.7 155.3h1.1v1.1h-1.1zM199.5 155.3h1.1v1.1h-1.1zM220.4 155.3h1.1v1.1h-1.1zM222.3 155.3h1.1v1.1h-1.1zM268.8 155.3h1.1v1.1h-1.1zM274.4 155.3h1.1v1.1h-1.1zM287.7 155.3h1.1v1.1h-1.1zM288.7 155.3h1.1v1.1h-1.1zM50.9 154.4h1.1v1.1h-1.1zM67.8 154.4h1.1v1.1h-1.1zM76.3 154.4h1.1v1.1h-1.1zM79.1 154.4h1.1v1.1h-1.1zM92.2 154.4h1.1v1.1h-1.1zM96.9 154.4h1.1v1.1h-1.1zM183.4 154.4h1.1v1.1h-1.1zM186.2 154.4h1.1v1.1h-1.1zM189.0 154.4h1.1v1.1h-1.1zM201.2 154.4h1.1v1.1h-1.1zM279.2 154.4h1.1v1.1h-1.1zM287.6 154.4h1.1v1.1h-1.1zM290.5 154.4h1.1v1.1h-1.1zM298.9 154.4h1.1v1.1h-1.1zM299.8 154.4h1.1v1.1h-1.1zM300.8 154.4h1.1v1.1h-1.1zM302.7 154.4h1.1v1.1h-1.1zM51.1 153.5h1.1v1.1h-1.1zM55.8 153.5h1.1v1.1h-1.1zM85.5 153.5h1.1v1.1h-1.1zM185.1 153.5h1.1v1.1h-1.1zM187.0 153.5h1.1v1.1h-1.1zM201.0 153.5h1.1v1.1h-1.1zM216.8 153.5h1.1v1.1h-1.1zM277.3 153.5h1.1v1.1h-1.1zM285.7 153.5h1.1v1.1h-1.1zM288.5 153.5h1.1v1.1h-1.1zM49.5 152.6h1.1v1.1h-1.1zM67.0 152.6h1.1v1.1h-1.1zM82.7 152.6h1.1v1.1h-1.1zM83.6 152.6h1.1v1.1h-1.1zM98.4 152.6h1.1v1.1h-1.1zM103.9 152.6h1.1v1.1h-1.1zM184.1 152.6h1.1v1.1h-1.1zM185.0 152.6h1.1v1.1h-1.1zM186.0 152.6h1.1v1.1h-1.1zM192.4 152.6h1.1v1.1h-1.1zM223.8 152.6h1.1v1.1h-1.1zM247.7 152.6h1.1v1.1h-1.1zM275.4 152.6h1.1v1.1h-1.1zM284.6 152.6h1.1v1.1h-1.1zM290.2 152.6h1.1v1.1h-1.1zM294.8 152.6h1.1v1.1h-1.1zM295.7 152.6h1.1v1.1h-1.1zM306.8 152.6h1.1v1.1h-1.1zM48.0 151.7h1.1v1.1h-1.1zM48.9 151.7h1.1v1.1h-1.1zM53.4 151.7h1.1v1.1h-1.1zM73.5 151.7h1.1v1.1h-1.1zM82.7 151.7h1.1v1.1h-1.1zM85.4 151.7h1.1v1.1h-1.1zM124.7 151.7h1.1v1.1h-1.1zM184.0 151.7h1.1v1.1h-1.1zM184.9 151.7h1.1v1.1h-1.1zM185.9 151.7h1.1v1.1h-1.1zM186.8 151.7h1.1v1.1h-1.1zM195.0 151.7h1.1v1.1h-1.1zM196.8 151.7h1.1v1.1h-1.1zM202.3 151.7h1.1v1.1h-1.1zM206.9 151.7h1.1v1.1h-1.1zM207.8 151.7h1.1v1.1h-1.1zM208.7 151.7h1.1v1.1h-1.1zM225.1 151.7h1.1v1.1h-1.1zM259.8 151.7h1.1v1.1h-1.1zM284.5 151.7h1.1v1.1h-1.1zM289.1 151.7h1.1v1.1h-1.1zM290.0 151.7h1.1v1.1h-1.1zM299.1 151.7h1.1v1.1h-1.1zM47.4 150.8h1.1v1.1h-1.1zM49.2 150.8h1.1v1.1h-1.1zM70.9 150.8h1.1v1.1h-1.1zM73.6 150.8h1.1v1.1h-1.1zM74.5 150.8h1.1v1.1h-1.1zM79.9 150.8h1.1v1.1h-1.1zM80.8 150.8h1.1v1.1h-1.1zM86.3 150.8h1.1v1.1h-1.1zM87.2 150.8h1.1v1.1h-1.1zM100.7 150.8h1.1v1.1h-1.1zM102.6 150.8h1.1v1.1h-1.1zM104.4 150.8h1.1v1.1h-1.1zM105.3 150.8h1.1v1.1h-1.1zM186.7 150.8h1.1v1.1h-1.1zM191.2 150.8h1.1v1.1h-1.1zM193.0 150.8h1.1v1.1h-1.1zM197.5 150.8h1.1v1.1h-1.1zM198.4 150.8h1.1v1.1h-1.1zM200.2 150.8h1.1v1.1h-1.1zM227.4 150.8h1.1v1.1h-1.1zM234.6 150.8h1.1v1.1h-1.1zM243.6 150.8h1.1v1.1h-1.1zM289.8 150.8h1.1v1.1h-1.1zM295.2 150.8h1.1v1.1h-1.1zM300.6 150.8h1.1v1.1h-1.1zM48.7 149.9h1.1v1.1h-1.1zM59.4 149.9h1.1v1.1h-1.1zM60.3 149.9h1.1v1.1h-1.1zM62.1 149.9h1.1v1.1h-1.1zM71.9 149.9h1.1v1.1h-1.1zM80.0 149.9h1.1v1.1h-1.1zM161.5 149.9h1.1v1.1h-1.1zM190.1 149.9h1.1v1.1h-1.1zM191.0 149.9h1.1v1.1h-1.1zM205.3 149.9h1.1v1.1h-1.1zM212.5 149.9h1.1v1.1h-1.1zM221.5 149.9h1.1v1.1h-1.1zM229.5 149.9h1.1v1.1h-1.1zM234.9 149.9h1.1v1.1h-1.1zM248.3 149.9h1.1v1.1h-1.1zM287.7 149.9h1.1v1.1h-1.1zM290.4 149.9h1.1v1.1h-1.1zM292.2 149.9h1.1v1.1h-1.1zM298.5 149.9h1.1v1.1h-1.1zM302.9 149.9h1.1v1.1h-1.1zM49.0 149.0h1.1v1.1h-1.1zM52.6 149.0h1.1v1.1h-1.1zM70.3 149.0h1.1v1.1h-1.1zM71.2 149.0h1.1v1.1h-1.1zM75.6 149.0h1.1v1.1h-1.1zM112.0 149.0h1.1v1.1h-1.1zM194.4 149.0h1.1v1.1h-1.1zM197.9 149.0h1.1v1.1h-1.1zM207.7 149.0h1.1v1.1h-1.1zM213.9 149.0h1.1v1.1h-1.1zM214.8 149.0h1.1v1.1h-1.1zM260.0 149.0h1.1v1.1h-1.1zM265.3 149.0h1.1v1.1h-1.1zM280.4 149.0h1.1v1.1h-1.1zM281.3 149.0h1.1v1.1h-1.1zM287.5 149.0h1.1v1.1h-1.1zM297.2 149.0h1.1v1.1h-1.1zM62.6 148.2h1.1v1.1h-1.1zM77.5 148.2h1.1v1.1h-1.1zM79.3 148.2h1.1v1.1h-1.1zM113.5 148.2h1.1v1.1h-1.1zM199.5 148.2h1.1v1.1h-1.1zM204.7 148.2h1.1v1.1h-1.1zM206.5 148.2h1.1v1.1h-1.1zM210.9 148.2h1.1v1.1h-1.1zM213.5 148.2h1.1v1.1h-1.1zM231.9 148.2h1.1v1.1h-1.1zM275.8 148.2h1.1v1.1h-1.1zM281.0 148.2h1.1v1.1h-1.1zM286.3 148.2h1.1v1.1h-1.1zM288.0 148.2h1.1v1.1h-1.1zM289.8 148.2h1.1v1.1h-1.1zM292.4 148.2h1.1v1.1h-1.1zM299.5 148.2h1.1v1.1h-1.1zM300.3 148.2h1.1v1.1h-1.1zM63.8 147.3h1.1v1.1h-1.1zM66.4 147.3h1.1v1.1h-1.1zM92.5 147.3h1.1v1.1h-1.1zM113.3 147.3h1.1v1.1h-1.1zM215.7 147.3h1.1v1.1h-1.1zM216.6 147.3h1.1v1.1h-1.1zM229.6 147.3h1.1v1.1h-1.1zM233.9 147.3h1.1v1.1h-1.1zM245.2 147.3h1.1v1.1h-1.1zM257.3 147.3h1.1v1.1h-1.1zM273.0 147.3h1.1v1.1h-1.1zM278.2 147.3h1.1v1.1h-1.1zM284.2 147.3h1.1v1.1h-1.1zM289.5 147.3h1.1v1.1h-1.1zM298.1 147.3h1.1v1.1h-1.1zM65.0 146.5h1.1v1.0h-1.1zM78.8 146.5h1.1v1.0h-1.1zM106.2 146.5h1.1v1.0h-1.1zM118.2 146.5h1.1v1.0h-1.1zM197.2 146.5h1.1v1.0h-1.1zM235.0 146.5h1.1v1.0h-1.1zM241.0 146.5h1.1v1.0h-1.1zM241.9 146.5h1.1v1.0h-1.1zM242.7 146.5h1.1v1.0h-1.1zM253.0 146.5h1.1v1.0h-1.1zM255.6 146.5h1.1v1.0h-1.1zM270.2 146.5h1.1v1.0h-1.1zM271.9 146.5h1.1v1.0h-1.1zM273.6 146.5h1.1v1.0h-1.1zM279.6 146.5h1.1v1.0h-1.1zM284.8 146.5h1.1v1.0h-1.1zM286.5 146.5h1.1v1.0h-1.1zM292.5 146.5h1.1v1.0h-1.1zM65.4 145.6h1.0v1.0h-1.0zM67.9 145.6h1.0v1.0h-1.0zM126.5 145.6h1.0v1.0h-1.0zM238.6 145.6h1.0v1.0h-1.0zM241.1 145.6h1.0v1.0h-1.0zM242.8 145.6h1.0v1.0h-1.0zM248.7 145.6h1.0v1.0h-1.0zM251.3 145.6h1.0v1.0h-1.0zM257.2 145.6h1.0v1.0h-1.0zM261.5 145.6h1.0v1.0h-1.0zM269.1 145.6h1.0v1.0h-1.0zM270.8 145.6h1.0v1.0h-1.0zM296.3 145.6h1.0v1.0h-1.0zM232.0 144.8h1.0v1.0h-1.0zM239.5 144.8h1.0v1.0h-1.0zM246.2 144.8h1.0v1.0h-1.0zM249.6 144.8h1.0v1.0h-1.0zM251.3 144.8h1.0v1.0h-1.0zM252.9 144.8h1.0v1.0h-1.0zM258.0 144.8h1.0v1.0h-1.0zM259.6 144.8h1.0v1.0h-1.0zM263.0 144.8h1.0v1.0h-1.0zM267.2 144.8h1.0v1.0h-1.0zM268.9 144.8h1.0v1.0h-1.0zM269.7 144.8h1.0v1.0h-1.0zM271.4 144.8h1.0v1.0h-1.0zM94.5 144.0h1.0v1.0h-1.0zM237.9 144.0h1.0v1.0h-1.0zM243.7 144.0h1.0v1.0h-1.0zM248.7 144.0h1.0v1.0h-1.0zM257.8 144.0h1.0v1.0h-1.0zM269.4 144.0h1.0v1.0h-1.0zM271.1 144.0h1.0v1.0h-1.0zM272.7 144.0h1.0v1.0h-1.0zM98.8 143.2h1.0v1.0h-1.0zM242.0 143.2h1.0v1.0h-1.0zM242.9 143.2h1.0v1.0h-1.0zM251.0 143.2h1.0v1.0h-1.0zM256.0 143.2h1.0v1.0h-1.0zM257.6 143.2h1.0v1.0h-1.0zM120.8 142.4h1.0v1.0h-1.0zM245.2 142.4h1.0v1.0h-1.0zM262.2 142.4h1.0v1.0h-1.0zM263.0 142.4h1.0v1.0h-1.0zM266.2 142.4h1.0v1.0h-1.0zM270.3 142.4h1.0v1.0h-1.0zM117.5 141.6h1.0v1.0h-1.0zM231.5 141.6h1.0v1.0h-1.0zM247.4 141.6h1.0v1.0h-1.0zM113.0 140.1h1.0v1.0h-1.0zM117.0 139.3h1.0v0.9h-1.0zM129.9 138.6h1.0v0.9h-1.0zM234.2 138.6h1.0v0.9h-1.0zM119.5 137.9h0.9v0.9h-0.9zM129.8 137.9h0.9v0.9h-0.9zM207.4 137.9h0.9v0.9h-0.9zM236.2 137.9h0.9v0.9h-0.9zM118.9 137.3h0.9v0.9h-0.9zM206.9 137.3h0.9v0.9h-0.9zM129.8 136.7h0.9v0.8h-0.9z"/>
<path fill="#ffc010" d="M300.3 260.7h1.3v1.2h-1.3zM126.8 251.6h1.3v1.2h-1.3zM194.5 249.6h1.4v1.2h-1.4zM199.4 242.5h1.4v1.2h-1.4zM196.0 241.5h1.4v1.2h-1.4zM197.1 241.5h1.4v1.2h-1.4zM198.3 241.5h1.4v1.2h-1.4zM198.4 240.5h1.4v1.2h-1.4zM200.9 236.4h1.4v1.2h-1.4zM112.3 235.4h1.4v1.2h-1.4zM113.5 235.4h1.4v1.2h-1.4zM197.3 235.4h1.4v1.2h-1.4zM198.5 235.4h1.4v1.2h-1.4zM109.8 233.4h1.4v1.2h-1.4zM114.5 233.4h1.4v1.2h-1.4zM120.1 223.2h1.4v1.2h-1.4zM121.3 223.2h1.4v1.2h-1.4zM122.5 223.2h1.4v1.2h-1.4zM123.7 223.2h1.4v1.2h-1.4zM111.7 222.2h1.4v1.2h-1.4zM115.3 222.2h1.4v1.2h-1.4zM122.5 222.2h1.4v1.2h-1.4zM110.5 221.2h1.4v1.2h-1.4zM116.5 221.2h1.4v1.2h-1.4zM183.2 219.2h1.4v1.2h-1.4zM105.8 216.1h1.4v1.2h-1.4zM107.1 213.1h1.4v1.2h-1.4zM109.4 213.1h1.4v1.2h-1.4zM110.7 212.1h1.4v1.2h-1.4zM201.1 211.1h1.4v1.2h-1.4zM202.2 211.1h1.4v1.2h-1.4zM199.8 210.1h1.4v1.2h-1.4zM201.0 209.1h1.4v1.2h-1.4zM274.4 207.0h1.4v1.2h-1.4zM269.5 205.0h1.4v1.2h-1.4zM271.9 205.0h1.4v1.2h-1.4zM273.1 205.0h1.4v1.2h-1.4zM275.0 202.0h1.4v1.2h-1.4zM252.8 193.9h1.4v1.2h-1.4zM251.5 192.9h1.4v1.2h-1.4zM99.6 191.8h1.4v1.2h-1.4zM247.9 191.8h1.4v1.2h-1.4zM249.0 191.8h1.4v1.2h-1.4zM244.2 190.8h1.4v1.2h-1.4zM244.1 189.8h1.4v1.2h-1.4zM280.9 189.8h1.4v1.2h-1.4zM239.3 188.8h1.3v1.2h-1.3zM240.4 188.8h1.3v1.2h-1.3zM242.7 188.8h1.3v1.2h-1.3zM245.0 188.8h1.3v1.2h-1.3zM278.4 188.8h1.3v1.2h-1.3zM279.5 188.8h1.3v1.2h-1.3zM90.1 187.8h1.3v1.2h-1.3zM275.8 187.8h1.3v1.2h-1.3zM276.9 187.8h1.3v1.2h-1.3zM279.2 187.8h1.3v1.2h-1.3zM90.3 186.8h1.3v1.2h-1.3zM91.5 186.8h1.3v1.2h-1.3zM275.5 186.8h1.3v1.2h-1.3zM277.8 186.8h1.3v1.2h-1.3zM283.5 186.8h1.3v1.2h-1.3zM187.4 184.8h1.3v1.2h-1.3zM280.5 184.8h1.3v1.2h-1.3zM283.9 184.8h1.3v1.2h-1.3zM93.4 183.7h1.3v1.2h-1.3zM254.1 183.7h1.3v1.2h-1.3zM276.7 183.7h1.3v1.2h-1.3zM277.9 183.7h1.3v1.2h-1.3zM281.3 183.7h1.3v1.2h-1.3zM92.6 182.7h1.3v1.2h-1.3zM93.7 182.7h1.3v1.2h-1.3zM275.3 182.7h1.3v1.2h-1.3zM276.4 182.7h1.3v1.2h-1.3zM278.6 182.7h1.3v1.2h-1.3zM279.8 182.7h1.3v1.2h-1.3zM92.9 181.7h1.3v1.2h-1.3zM278.2 181.7h1.3v1.2h-1.3zM279.4 181.7h1.3v1.2h-1.3zM280.5 181.7h1.3v1.2h-1.3zM94.3 180.7h1.3v1.2h-1.3zM252.1 180.7h1.3v1.2h-1.3zM277.8 180.7h1.3v1.2h-1.3zM255.1 179.7h1.3v1.2h-1.3zM93.9 178.7h1.3v1.2h-1.3zM95.0 178.7h1.3v1.2h-1.3zM86.5 177.7h1.3v1.2h-1.3zM95.4 177.7h1.3v1.2h-1.3zM96.5 177.7h1.3v1.2h-1.3zM95.7 176.7h1.3v1.2h-1.3zM97.9 176.7h1.3v1.2h-1.3zM97.2 175.7h1.3v1.2h-1.3zM277.8 175.7h1.3v1.2h-1.3zM277.3 174.7h1.3v1.2h-1.3zM100.6 172.7h1.3v1.2h-1.3zM118.9 172.7h1.3v1.2h-1.3zM261.1 172.7h1.3v1.2h-1.3zM280.5 172.7h1.3v1.2h-1.3zM282.6 172.7h1.3v1.2h-1.3zM284.8 172.7h1.3v1.2h-1.3zM96.7 171.7h1.3v1.2h-1.3zM99.9 171.7h1.3v1.2h-1.3zM278.8 171.7h1.3v1.2h-1.3zM281.0 171.7h1.3v1.2h-1.3zM284.2 171.7h1.3v1.2h-1.3zM100.3 170.7h1.3v1.2h-1.3zM101.4 170.7h1.3v1.2h-1.3zM278.3 170.7h1.3v1.2h-1.3zM280.4 170.7h1.3v1.2h-1.3zM99.7 169.7h1.3v1.2h-1.3zM116.6 169.7h1.3v1.2h-1.3zM234.2 169.7h1.3v1.2h-1.3zM285.1 169.7h1.3v1.2h-1.3zM280.2 168.7h1.3v1.2h-1.3zM103.7 167.7h1.2v1.2h-1.2zM230.4 167.7h1.2v1.2h-1.2zM233.5 167.7h1.2v1.2h-1.2zM102.1 166.7h1.2v1.2h-1.2zM244.6 166.7h1.2v1.2h-1.2zM282.1 166.7h1.2v1.2h-1.2zM97.4 165.8h1.2v1.2h-1.2zM228.7 165.8h1.2v1.2h-1.2zM126.0 163.8h1.2v1.2h-1.2zM209.6 163.8h1.2v1.2h-1.2zM98.0 162.8h1.2v1.2h-1.2zM112.1 162.8h1.2v1.2h-1.2zM125.3 162.8h1.2v1.2h-1.2zM200.2 162.8h1.2v1.2h-1.2zM202.2 162.8h1.2v1.2h-1.2zM206.3 162.8h1.2v1.2h-1.2zM210.3 162.8h1.2v1.2h-1.2zM110.6 161.9h1.2v1.2h-1.2zM202.0 161.9h1.2v1.2h-1.2zM243.2 161.9h1.2v1.2h-1.2zM95.1 160.9h1.2v1.2h-1.2zM103.1 160.9h1.2v1.2h-1.2zM202.8 160.9h1.2v1.2h-1.2zM203.8 160.9h1.2v1.2h-1.2zM273.6 160.9h1.2v1.2h-1.2zM242.2 160.0h1.2v1.2h-1.2zM91.5 159.0h1.2v1.1h-1.2zM96.4 159.0h1.2v1.1h-1.2zM100.3 159.0h1.2v1.1h-1.2zM123.9 159.0h1.2v1.1h-1.2zM202.4 159.0h1.2v1.1h-1.2zM204.3 159.0h1.2v1.1h-1.2zM205.3 159.0h1.2v1.1h-1.2zM88.3 158.1h1.2v1.1h-1.2zM97.1 158.1h1.2v1.1h-1.2zM122.4 158.1h1.2v1.1h-1.2zM194.4 158.1h1.2v1.1h-1.2zM227.4 158.1h1.2v1.1h-1.2zM244.0 158.1h1.2v1.1h-1.2zM93.9 157.1h1.2v1.1h-1.2zM99.6 157.1h1.2v1.1h-1.2zM197.1 157.1h1.2v1.1h-1.2zM234.7 157.1h1.2v1.1h-1.2zM237.6 157.1h1.2v1.1h-1.2zM117.5 156.2h1.2v1.1h-1.2zM120.4 156.2h1.2v1.1h-1.2zM195.9 156.2h1.2v1.1h-1.2zM224.6 156.2h1.2v1.1h-1.2zM51.7 155.3h1.1v1.1h-1.1zM95.3 155.3h1.1v1.1h-1.1zM100.0 155.3h1.1v1.1h-1.1zM101.9 155.3h1.1v1.1h-1.1zM115.2 155.3h1.1v1.1h-1.1zM118.0 155.3h1.1v1.1h-1.1zM191.0 155.3h1.1v1.1h-1.1zM224.2 155.3h1.1v1.1h-1.1zM228.9 155.3h1.1v1.1h-1.1zM101.6 154.4h1.1v1.1h-1.1zM102.6 154.4h1.1v1.1h-1.1zM116.7 154.4h1.1v1.1h-1.1zM121.4 154.4h1.1v1.1h-1.1zM197.4 154.4h1.1v1.1h-1.1zM226.6 154.4h1.1v1.1h-1.1zM86.5 153.5h1.1v1.1h-1.1zM96.7 153.5h1.1v1.1h-1.1zM98.6 153.5h1.1v1.1h-1.1zM195.4 153.5h1.1v1.1h-1.1zM223.3 153.5h1.1v1.1h-1.1zM230.7 153.5h1.1v1.1h-1.1zM232.6 153.5h1.1v1.1h-1.1zM233.5 153.5h1.1v1.1h-1.1zM50.4 152.6h1.1v1.1h-1.1zM90.1 152.6h1.1v1.1h-1.1zM193.3 152.6h1.1v1.1h-1.1zM198.9 152.6h1.1v1.1h-1.1zM225.6 152.6h1.1v1.1h-1.1zM233.9 152.6h1.1v1.1h-1.1zM278.2 152.6h1.1v1.1h-1.1zM76.3 151.7h1.1v1.1h-1.1zM89.1 151.7h1.1v1.1h-1.1zM98.2 151.7h1.1v1.1h-1.1zM194.1 151.7h1.1v1.1h-1.1zM224.2 151.7h1.1v1.1h-1.1zM228.8 151.7h1.1v1.1h-1.1zM232.4 151.7h1.1v1.1h-1.1zM293.6 151.7h1.1v1.1h-1.1zM50.1 150.8h1.1v1.1h-1.1zM90.8 150.8h1.1v1.1h-1.1zM92.6 150.8h1.1v1.1h-1.1zM194.8 150.8h1.1v1.1h-1.1zM195.7 150.8h1.1v1.1h-1.1zM212.0 150.8h1.1v1.1h-1.1zM222.8 150.8h1.1v1.1h-1.1zM224.6 150.8h1.1v1.1h-1.1zM88.9 149.9h1.1v1.1h-1.1zM198.2 149.9h1.1v1.1h-1.1zM203.6 149.9h1.1v1.1h-1.1zM207.1 149.9h1.1v1.1h-1.1zM281.4 149.9h1.1v1.1h-1.1zM294.0 149.9h1.1v1.1h-1.1zM294.9 149.9h1.1v1.1h-1.1zM297.6 149.9h1.1v1.1h-1.1zM299.4 149.9h1.1v1.1h-1.1zM302.0 149.9h1.1v1.1h-1.1zM82.7 149.0h1.1v1.1h-1.1zM93.4 149.0h1.1v1.1h-1.1zM197.1 149.0h1.1v1.1h-1.1zM205.0 149.0h1.1v1.1h-1.1zM206.8 149.0h1.1v1.1h-1.1zM239.6 149.0h1.1v1.1h-1.1zM240.5 149.0h1.1v1.1h-1.1zM275.9 149.0h1.1v1.1h-1.1zM279.5 149.0h1.1v1.1h-1.1zM291.0 149.0h1.1v1.1h-1.1zM291.9 149.0h1.1v1.1h-1.1zM300.8 149.0h1.1v1.1h-1.1zM84.6 148.2h1.1v1.1h-1.1zM93.3 148.2h1.1v1.1h-1.1zM95.1 148.2h1.1v1.1h-1.1zM211.7 148.2h1.1v1.1h-1.1zM212.6 148.2h1.1v1.1h-1.1zM217.0 148.2h1.1v1.1h-1.1zM221.4 148.2h1.1v1.1h-1.1zM238.1 148.2h1.1v1.1h-1.1zM268.8 148.2h1.1v1.1h-1.1zM274.9 148.2h1.1v1.1h-1.1zM279.3 148.2h1.1v1.1h-1.1zM291.6 148.2h1.1v1.1h-1.1zM112.4 147.3h1.1v1.1h-1.1zM227.0 147.3h1.1v1.1h-1.1zM248.7 147.3h1.1v1.1h-1.1zM258.2 147.3h1.1v1.1h-1.1zM290.3 147.3h1.1v1.1h-1.1zM109.7 146.5h1.1v1.0h-1.1zM114.8 146.5h1.1v1.0h-1.1zM227.3 146.5h1.1v1.0h-1.1zM243.6 146.5h1.1v1.0h-1.1zM244.4 146.5h1.1v1.0h-1.1zM245.3 146.5h1.1v1.0h-1.1zM251.3 146.5h1.1v1.0h-1.1zM253.9 146.5h1.1v1.0h-1.1zM256.4 146.5h1.1v1.0h-1.1zM265.0 146.5h1.1v1.0h-1.1zM269.3 146.5h1.1v1.0h-1.1zM283.1 146.5h1.1v1.0h-1.1zM283.9 146.5h1.1v1.0h-1.1zM287.4 146.5h1.1v1.0h-1.1zM289.9 146.5h1.1v1.0h-1.1zM291.6 146.5h1.1v1.0h-1.1zM293.4 146.5h1.1v1.0h-1.1zM240.3 145.6h1.0v1.0h-1.0zM245.4 145.6h1.0v1.0h-1.0zM267.4 145.6h1.0v1.0h-1.0zM268.3 145.6h1.0v1.0h-1.0zM279.3 145.6h1.0v1.0h-1.0zM230.3 144.8h1.0v1.0h-1.0zM238.7 144.8h1.0v1.0h-1.0zM243.7 144.8h1.0v1.0h-1.0zM263.8 144.8h1.0v1.0h-1.0zM275.6 144.8h1.0v1.0h-1.0zM276.4 144.8h1.0v1.0h-1.0zM92.0 144.0h1.0v1.0h-1.0zM245.4 144.0h1.0v1.0h-1.0zM250.3 144.0h1.0v1.0h-1.0zM255.3 144.0h1.0v1.0h-1.0zM256.2 144.0h1.0v1.0h-1.0zM270.2 144.0h1.0v1.0h-1.0zM120.0 143.2h1.0v1.0h-1.0zM267.4 143.2h1.0v1.0h-1.0zM268.2 143.2h1.0v1.0h-1.0zM271.1 142.4h1.0v1.0h-1.0zM111.1 141.6h1.0v1.0h-1.0zM269.0 141.6h1.0v1.0h-1.0zM269.8 141.6h1.0v1.0h-1.0zM104.5 140.1h1.0v1.0h-1.0zM116.8 140.1h1.0v1.0h-1.0zM116.4 138.6h1.0v0.9h-1.0zM125.4 138.6h1.0v0.9h-1.0zM118.2 137.3h0.9v0.9h-0.9zM120.5 136.7h0.9v0.8h-0.9z"/>
<path fill="#ff7800" d="M331.4 260.7h1.3v1.2h-1.3zM124.5 240.5h1.4v1.2h-1.4zM300.4 240.5h1.4v1.2h-1.4zM127.9 239.4h1.4v1.2h-1.4zM301.7 239.4h1.4v1.2h-1.4zM290.2 238.4h1.4v1.2h-1.4zM101.4 232.4h1.4v1.2h-1.4zM188.0 223.2h1.4v1.2h-1.4zM191.6 223.2h1.4v1.2h-1.4zM192.8 222.2h1.4v1.2h-1.4zM173.7 213.1h1.4v1.2h-1.4zM170.3 189.8h1.4v1.2h-1.4zM91.7 185.8h1.3v1.2h-1.3zM94.0 185.8h1.3v1.2h-1.3zM90.9 184.8h1.3v1.2h-1.3zM92.0 184.8h1.3v1.2h-1.3zM94.3 184.8h1.3v1.2h-1.3zM90.0 183.7h1.3v1.2h-1.3zM91.2 183.7h1.3v1.2h-1.3zM167.0 183.7h1.3v1.2h-1.3zM91.5 182.7h1.3v1.2h-1.3zM273.4 180.7h1.3v1.2h-1.3zM99.1 173.7h1.3v1.2h-1.3zM251.2 169.7h1.3v1.2h-1.3zM34.2 163.8h1.2v1.2h-1.2zM303.4 163.8h1.2v1.2h-1.2zM282.5 150.8h1.1v1.1h-1.1zM294.3 150.8h1.1v1.1h-1.1zM277.9 149.9h1.1v1.1h-1.1zM279.7 149.9h1.1v1.1h-1.1zM280.6 149.9h1.1v1.1h-1.1zM293.1 149.9h1.1v1.1h-1.1zM300.3 149.9h1.1v1.1h-1.1zM275.1 149.0h1.1v1.1h-1.1zM277.7 149.0h1.1v1.1h-1.1zM293.7 149.0h1.1v1.1h-1.1zM299.9 149.0h1.1v1.1h-1.1zM274.0 148.2h1.1v1.1h-1.1zM276.4 147.3h1.1v1.1h-1.1zM287.7 147.3h1.1v1.1h-1.1zM262.5 146.5h1.1v1.0h-1.1zM263.3 146.5h1.1v1.0h-1.1zM289.1 146.5h1.1v1.0h-1.1zM262.3 145.6h1.0v1.0h-1.0zM264.0 145.6h1.0v1.0h-1.0zM266.6 145.6h1.0v1.0h-1.0zM271.7 145.6h1.0v1.0h-1.0zM229.4 144.8h1.0v1.0h-1.0zM261.3 144.8h1.0v1.0h-1.0zM264.7 144.8h1.0v1.0h-1.0zM266.4 144.8h1.0v1.0h-1.0zM265.8 143.2h1.0v1.0h-1.0zM264.2 141.6h1.0v1.0h-1.0z"/>
<path fill="#a0d8f0" d="M120.3 259.7h1.3v1.2h-1.3zM119.0 258.7h1.3v1.2h-1.3zM120.1 258.7h1.3v1.2h-1.3zM121.2 258.7h1.3v1.2h-1.3zM117.6 257.7h1.3v1.2h-1.3zM118.7 257.7h1.3v1.2h-1.3zM121.0 257.7h1.3v1.2h-1.3zM299.8 254.6h1.3v1.2h-1.3zM197.7 253.6h1.3v1.2h-1.3zM198.8 253.6h1.3v1.2h-1.3zM304.6 247.5h1.4v1.2h-1.4zM303.7 246.5h1.4v1.2h-1.4zM304.9 246.5h1.4v1.2h-1.4zM284.2 245.5h1.4v1.2h-1.4zM283.6 242.5h1.4v1.2h-1.4zM194.8 240.5h1.4v1.2h-1.4zM211.5 235.4h1.4v1.2h-1.4zM186.8 230.3h1.4v1.2h-1.4zM197.5 229.3h1.4v1.2h-1.4zM105.8 225.3h1.4v1.2h-1.4zM107.0 223.2h1.4v1.2h-1.4zM114.1 218.2h1.4v1.2h-1.4zM99.8 217.2h1.4v1.2h-1.4zM185.6 214.1h1.4v1.2h-1.4zM100.0 211.1h1.4v1.2h-1.4zM95.4 208.0h1.4v1.2h-1.4zM244.1 198.9h1.4v1.2h-1.4zM248.7 197.9h1.4v1.2h-1.4zM246.1 195.9h1.4v1.2h-1.4zM244.8 194.9h1.4v1.2h-1.4zM247.1 194.9h1.4v1.2h-1.4zM251.6 193.9h1.4v1.2h-1.4zM249.2 192.9h1.4v1.2h-1.4zM243.1 190.8h1.4v1.2h-1.4zM166.8 189.8h1.4v1.2h-1.4zM189.9 189.8h1.4v1.2h-1.4zM99.0 188.8h1.3v1.2h-1.3zM96.9 187.8h1.3v1.2h-1.3zM68.9 185.8h1.3v1.2h-1.3zM177.1 181.7h1.3v1.2h-1.3zM196.2 181.7h1.3v1.2h-1.3zM82.0 180.7h1.3v1.2h-1.3zM219.5 179.7h1.3v1.2h-1.3zM82.8 178.7h1.3v1.2h-1.3zM80.8 175.7h1.3v1.2h-1.3zM107.7 173.7h1.3v1.2h-1.3zM84.4 172.7h1.3v1.2h-1.3zM189.8 170.7h1.3v1.2h-1.3zM193.0 170.7h1.3v1.2h-1.3zM191.9 169.7h1.3v1.2h-1.3zM274.5 169.7h1.3v1.2h-1.3zM91.7 166.7h1.2v1.2h-1.2zM184.3 166.7h1.2v1.2h-1.2zM171.8 164.8h1.2v1.2h-1.2zM267.9 160.0h1.2v1.2h-1.2zM273.8 160.0h1.2v1.2h-1.2zM276.8 160.0h1.2v1.2h-1.2zM192.4 158.1h1.2v1.1h-1.2zM195.3 158.1h1.2v1.1h-1.2zM255.9 157.1h1.2v1.1h-1.2zM184.5 156.2h1.2v1.1h-1.2zM191.2 156.2h1.2v1.1h-1.2zM200.7 156.2h1.2v1.1h-1.2zM284.9 155.3h1.1v1.1h-1.1zM285.8 155.3h1.1v1.1h-1.1zM286.8 155.3h1.1v1.1h-1.1zM53.7 154.4h1.1v1.1h-1.1zM189.9 154.4h1.1v1.1h-1.1zM191.8 154.4h1.1v1.1h-1.1zM283.9 154.4h1.1v1.1h-1.1zM285.8 154.4h1.1v1.1h-1.1zM286.7 154.4h1.1v1.1h-1.1zM288.6 154.4h1.1v1.1h-1.1zM289.5 154.4h1.1v1.1h-1.1zM186.1 153.5h1.1v1.1h-1.1zM197.2 153.5h1.1v1.1h-1.1zM202.8 153.5h1.1v1.1h-1.1zM286.6 153.5h1.1v1.1h-1.1zM287.5 153.5h1.1v1.1h-1.1zM290.3 153.5h1.1v1.1h-1.1zM292.2 153.5h1.1v1.1h-1.1zM199.8 152.6h1.1v1.1h-1.1zM285.5 152.6h1.1v1.1h-1.1zM286.5 152.6h1.1v1.1h-1.1zM287.4 152.6h1.1v1.1h-1.1zM288.3 152.6h1.1v1.1h-1.1zM289.2 152.6h1.1v1.1h-1.1zM291.1 152.6h1.1v1.1h-1.1zM187.7 151.7h1.1v1.1h-1.1zM199.6 151.7h1.1v1.1h-1.1zM285.4 151.7h1.1v1.1h-1.1zM286.3 151.7h1.1v1.1h-1.1zM287.2 151.7h1.1v1.1h-1.1zM288.1 151.7h1.1v1.1h-1.1zM290.9 151.7h1.1v1.1h-1.1zM185.8 150.8h1.1v1.1h-1.1zM192.1 150.8h1.1v1.1h-1.1zM284.3 150.8h1.1v1.1h-1.1zM285.2 150.8h1.1v1.1h-1.1zM286.1 150.8h1.1v1.1h-1.1zM287.0 150.8h1.1v1.1h-1.1zM287.9 150.8h1.1v1.1h-1.1zM288.8 150.8h1.1v1.1h-1.1zM290.7 150.8h1.1v1.1h-1.1zM291.6 150.8h1.1v1.1h-1.1zM292.5 150.8h1.1v1.1h-1.1zM296.1 150.8h1.1v1.1h-1.1zM61.2 149.9h1.1v1.1h-1.1zM73.7 149.9h1.1v1.1h-1.1zM186.5 149.9h1.1v1.1h-1.1zM192.8 149.9h1.1v1.1h-1.1zM196.4 149.9h1.1v1.1h-1.1zM199.1 149.9h1.1v1.1h-1.1zM266.2 149.9h1.1v1.1h-1.1zM282.3 149.9h1.1v1.1h-1.1zM284.1 149.9h1.1v1.1h-1.1zM288.6 149.9h1.1v1.1h-1.1zM295.8 149.9h1.1v1.1h-1.1zM60.6 149.0h1.1v1.1h-1.1zM61.5 149.0h1.1v1.1h-1.1zM190.0 149.0h1.1v1.1h-1.1zM274.2 149.0h1.1v1.1h-1.1zM282.1 149.0h1.1v1.1h-1.1zM295.4 149.0h1.1v1.1h-1.1zM61.8 148.2h1.1v1.1h-1.1zM70.5 148.2h1.1v1.1h-1.1zM197.7 148.2h1.1v1.1h-1.1zM215.2 148.2h1.1v1.1h-1.1zM272.3 148.2h1.1v1.1h-1.1zM276.6 148.2h1.1v1.1h-1.1zM280.2 148.2h1.1v1.1h-1.1zM62.9 147.3h1.1v1.1h-1.1zM77.7 147.3h1.1v1.1h-1.1zM99.4 147.3h1.1v1.1h-1.1zM115.9 147.3h1.1v1.1h-1.1zM212.2 147.3h1.1v1.1h-1.1zM271.2 147.3h1.1v1.1h-1.1zM275.6 147.3h1.1v1.1h-1.1zM277.3 147.3h1.1v1.1h-1.1zM280.8 147.3h1.1v1.1h-1.1zM107.1 146.5h1.1v1.0h-1.1zM190.4 146.5h1.1v1.0h-1.1zM277.1 146.5h1.1v1.0h-1.1zM277.9 146.5h1.1v1.0h-1.1zM285.6 146.5h1.1v1.0h-1.1zM66.2 145.6h1.0v1.0h-1.0zM67.1 145.6h1.0v1.0h-1.0zM264.9 145.6h1.0v1.0h-1.0zM270.0 145.6h1.0v1.0h-1.0zM272.5 145.6h1.0v1.0h-1.0zM96.9 144.8h1.0v1.0h-1.0zM258.8 144.8h1.0v1.0h-1.0zM260.5 144.8h1.0v1.0h-1.0zM270.6 144.8h1.0v1.0h-1.0zM101.1 144.0h1.0v1.0h-1.0zM257.0 144.0h1.0v1.0h-1.0zM107.8 142.4h1.0v1.0h-1.0zM213.7 142.4h1.0v1.0h-1.0zM267.0 142.4h1.0v1.0h-1.0zM269.5 142.4h1.0v1.0h-1.0zM263.4 141.6h1.0v1.0h-1.0zM265.8 141.6h1.0v1.0h-1.0z"/>
<path fill="#fff080" d="M293.0 251.6h1.3v1.2h-1.3zM303.2 248.6h1.4v1.2h-1.4zM303.4 247.5h1.4v1.2h-1.4zM284.0 246.5h1.4v1.2h-1.4zM302.6 246.5h1.4v1.2h-1.4zM283.2 244.5h1.4v1.2h-1.4zM284.4 244.5h1.4v1.2h-1.4zM282.3 243.5h1.4v1.2h-1.4zM283.4 243.5h1.4v1.2h-1.4zM284.6 243.5h1.4v1.2h-1.4zM282.4 242.5h1.4v1.2h-1.4zM125.7 241.5h1.4v1.2h-1.4zM126.9 241.5h1.4v1.2h-1.4zM129.2 241.5h1.4v1.2h-1.4zM121.0 240.5h1.4v1.2h-1.4zM125.6 240.5h1.4v1.2h-1.4zM129.2 240.5h1.4v1.2h-1.4zM119.7 239.4h1.4v1.2h-1.4zM120.9 239.4h1.4v1.2h-1.4zM122.0 239.4h1.4v1.2h-1.4zM119.6 238.4h1.4v1.2h-1.4zM120.8 238.4h1.4v1.2h-1.4zM120.7 237.4h1.4v1.2h-1.4zM131.3 237.4h1.4v1.2h-1.4zM293.7 229.3h1.4v1.2h-1.4zM102.3 226.3h1.4v1.2h-1.4zM185.6 225.3h1.4v1.2h-1.4zM109.4 223.2h1.4v1.2h-1.4zM173.7 214.1h1.4v1.2h-1.4zM265.4 214.1h1.4v1.2h-1.4zM186.8 211.1h1.4v1.2h-1.4zM210.6 211.1h1.4v1.2h-1.4zM113.1 210.1h1.4v1.2h-1.4zM185.6 210.1h1.4v1.2h-1.4zM210.5 209.1h1.4v1.2h-1.4zM195.0 207.0h1.4v1.2h-1.4zM196.2 207.0h1.4v1.2h-1.4zM205.7 207.0h1.4v1.2h-1.4zM195.0 206.0h1.4v1.2h-1.4zM204.5 206.0h1.4v1.2h-1.4zM205.7 206.0h1.4v1.2h-1.4zM203.3 205.0h1.4v1.2h-1.4zM204.5 205.0h1.4v1.2h-1.4zM205.6 205.0h1.4v1.2h-1.4zM204.4 204.0h1.4v1.2h-1.4zM205.6 204.0h1.4v1.2h-1.4zM209.0 201.0h1.4v1.2h-1.4zM287.8 201.0h1.4v1.2h-1.4zM251.2 190.8h1.4v1.2h-1.4zM100.0 189.8h1.4v1.2h-1.4zM238.1 188.8h1.3v1.2h-1.3zM279.7 185.8h1.3v1.2h-1.3zM280.9 185.8h1.3v1.2h-1.3zM179.4 184.8h1.3v1.2h-1.3zM282.8 184.8h1.3v1.2h-1.3zM279.0 180.7h1.3v1.2h-1.3zM219.1 177.7h1.3v1.2h-1.3zM277.6 177.7h1.3v1.2h-1.3zM283.8 176.7h1.3v1.2h-1.3zM188.0 175.7h1.3v1.2h-1.3zM203.4 175.7h1.3v1.2h-1.3zM185.8 174.7h1.3v1.2h-1.3zM281.1 173.7h1.3v1.2h-1.3zM282.1 173.7h1.3v1.2h-1.3zM219.1 172.7h1.3v1.2h-1.3zM281.6 172.7h1.3v1.2h-1.3zM101.0 171.7h1.3v1.2h-1.3zM193.1 171.7h1.3v1.2h-1.3zM274.6 171.7h1.3v1.2h-1.3zM183.3 167.7h1.2v1.2h-1.2zM85.4 166.7h1.2v1.2h-1.2zM181.1 166.7h1.2v1.2h-1.2zM182.2 166.7h1.2v1.2h-1.2zM101.0 162.8h1.2v1.2h-1.2zM184.9 161.9h1.2v1.2h-1.2zM288.5 160.9h1.2v1.2h-1.2zM272.8 160.0h1.2v1.2h-1.2zM103.3 159.0h1.2v1.1h-1.2zM183.5 156.2h1.2v1.1h-1.2zM270.5 156.2h1.2v1.1h-1.2zM93.4 155.3h1.1v1.1h-1.1zM186.3 155.3h1.1v1.1h-1.1zM190.1 155.3h1.1v1.1h-1.1zM200.5 155.3h1.1v1.1h-1.1zM201.4 155.3h1.1v1.1h-1.1zM229.9 155.3h1.1v1.1h-1.1zM95.0 154.4h1.1v1.1h-1.1zM184.3 154.4h1.1v1.1h-1.1zM185.2 154.4h1.1v1.1h-1.1zM239.7 154.4h1.1v1.1h-1.1zM241.6 154.4h1.1v1.1h-1.1zM188.9 153.5h1.1v1.1h-1.1zM190.7 153.5h1.1v1.1h-1.1zM201.9 153.5h1.1v1.1h-1.1zM78.1 152.6h1.1v1.1h-1.1zM80.8 152.6h1.1v1.1h-1.1zM186.9 152.6h1.1v1.1h-1.1zM191.5 152.6h1.1v1.1h-1.1zM200.7 152.6h1.1v1.1h-1.1zM299.4 152.6h1.1v1.1h-1.1zM305.8 152.6h1.1v1.1h-1.1zM88.1 151.7h1.1v1.1h-1.1zM100.0 151.7h1.1v1.1h-1.1zM239.7 151.7h1.1v1.1h-1.1zM298.2 151.7h1.1v1.1h-1.1zM193.9 150.8h1.1v1.1h-1.1zM233.7 150.8h1.1v1.1h-1.1zM297.9 150.8h1.1v1.1h-1.1zM298.8 150.8h1.1v1.1h-1.1zM301.5 150.8h1.1v1.1h-1.1zM302.4 150.8h1.1v1.1h-1.1zM77.3 149.9h1.1v1.1h-1.1zM82.7 149.9h1.1v1.1h-1.1zM95.2 149.9h1.1v1.1h-1.1zM191.9 149.9h1.1v1.1h-1.1zM194.6 149.9h1.1v1.1h-1.1zM197.3 149.9h1.1v1.1h-1.1zM202.7 149.9h1.1v1.1h-1.1zM225.0 149.9h1.1v1.1h-1.1zM225.9 149.9h1.1v1.1h-1.1zM233.1 149.9h1.1v1.1h-1.1zM77.4 149.0h1.1v1.1h-1.1zM78.3 149.0h1.1v1.1h-1.1zM199.7 149.0h1.1v1.1h-1.1zM201.5 149.0h1.1v1.1h-1.1zM221.9 149.0h1.1v1.1h-1.1zM227.2 149.0h1.1v1.1h-1.1zM78.4 148.2h1.1v1.1h-1.1zM83.7 148.2h1.1v1.1h-1.1zM196.0 148.2h1.1v1.1h-1.1zM64.7 147.3h1.1v1.1h-1.1zM83.8 147.3h1.1v1.1h-1.1zM233.0 147.3h1.1v1.1h-1.1zM234.4 139.3h1.0v0.9h-1.0zM235.9 139.3h1.0v0.9h-1.0z"/>
<path fill="#ff0000" d="M128.1 241.5h1.4v1.2h-1.4zM128.0 240.5h1.4v1.2h-1.4zM126.7 239.4h1.4v1.2h-1.4zM112.4 236.4h1.4v1.2h-1.4zM113.6 236.4h1.4v1.2h-1.4zM202.0 236.4h1.4v1.2h-1.4zM111.0 233.4h1.4v1.2h-1.4zM113.3 232.4h1.4v1.2h-1.4zM196.3 228.3h1.4v1.2h-1.4zM196.3 226.3h1.4v1.2h-1.4zM201.1 226.3h1.4v1.2h-1.4zM201.1 224.3h1.4v1.2h-1.4zM112.9 223.2h1.4v1.2h-1.4zM114.1 223.2h1.4v1.2h-1.4zM115.3 223.2h1.4v1.2h-1.4zM116.5 223.2h1.4v1.2h-1.4zM117.7 223.2h1.4v1.2h-1.4zM124.9 223.2h1.4v1.2h-1.4zM128.4 223.2h1.4v1.2h-1.4zM189.2 223.2h1.4v1.2h-1.4zM190.4 223.2h1.4v1.2h-1.4zM192.8 223.2h1.4v1.2h-1.4zM109.3 222.2h1.4v1.2h-1.4zM110.5 222.2h1.4v1.2h-1.4zM112.9 222.2h1.4v1.2h-1.4zM114.1 222.2h1.4v1.2h-1.4zM116.5 222.2h1.4v1.2h-1.4zM120.1 222.2h1.4v1.2h-1.4zM121.3 222.2h1.4v1.2h-1.4zM126.0 222.2h1.4v1.2h-1.4zM188.0 222.2h1.4v1.2h-1.4zM189.2 222.2h1.4v1.2h-1.4zM190.4 222.2h1.4v1.2h-1.4zM112.9 221.2h1.4v1.2h-1.4zM114.1 221.2h1.4v1.2h-1.4zM189.2 221.2h1.4v1.2h-1.4zM281.0 219.2h1.4v1.2h-1.4zM290.6 219.2h1.4v1.2h-1.4zM291.7 218.2h1.4v1.2h-1.4zM285.7 216.1h1.4v1.2h-1.4zM109.4 214.1h1.4v1.2h-1.4zM110.6 213.1h1.4v1.2h-1.4zM100.0 212.1h1.4v1.2h-1.4zM108.3 212.1h1.4v1.2h-1.4zM109.5 211.1h1.4v1.2h-1.4zM212.9 208.0h1.4v1.2h-1.4zM214.0 208.0h1.4v1.2h-1.4zM289.9 208.0h1.4v1.2h-1.4zM212.8 207.0h1.4v1.2h-1.4zM212.8 206.0h1.4v1.2h-1.4zM214.0 206.0h1.4v1.2h-1.4zM288.4 205.0h1.4v1.2h-1.4zM257.6 194.9h1.4v1.2h-1.4zM258.8 194.9h1.4v1.2h-1.4zM237.6 192.9h1.4v1.2h-1.4zM78.1 189.8h1.4v1.2h-1.4zM169.1 189.8h1.4v1.2h-1.4zM92.6 186.8h1.3v1.2h-1.3zM90.6 185.8h1.3v1.2h-1.3zM92.9 185.8h1.3v1.2h-1.3zM93.1 184.8h1.3v1.2h-1.3zM69.7 183.7h1.3v1.2h-1.3zM70.8 183.7h1.3v1.2h-1.3zM71.9 183.7h1.3v1.2h-1.3zM73.1 183.7h1.3v1.2h-1.3zM92.3 183.7h1.3v1.2h-1.3zM94.6 183.7h1.3v1.2h-1.3zM178.3 183.7h1.3v1.2h-1.3zM70.0 182.7h1.3v1.2h-1.3zM71.2 182.7h1.3v1.2h-1.3zM72.3 182.7h1.3v1.2h-1.3zM104.1 181.7h1.3v1.2h-1.3zM178.3 181.7h1.3v1.2h-1.3zM82.4 179.7h1.3v1.2h-1.3zM257.4 179.7h1.3v1.2h-1.3zM97.6 174.7h1.3v1.2h-1.3zM98.0 173.7h1.3v1.2h-1.3zM100.2 173.7h1.3v1.2h-1.3zM166.2 173.7h1.3v1.2h-1.3zM98.4 172.7h1.3v1.2h-1.3zM283.7 172.7h1.3v1.2h-1.3zM279.9 171.7h1.3v1.2h-1.3zM190.9 170.7h1.3v1.2h-1.3zM279.3 170.7h1.3v1.2h-1.3zM115.6 169.7h1.3v1.2h-1.3zM231.8 168.7h1.3v1.2h-1.3zM232.8 168.7h1.3v1.2h-1.3zM82.8 167.7h1.2v1.2h-1.2zM106.8 167.7h1.2v1.2h-1.2zM231.4 167.7h1.2v1.2h-1.2zM87.5 166.7h1.2v1.2h-1.2zM232.1 166.7h1.2v1.2h-1.2zM235.2 166.7h1.2v1.2h-1.2zM94.3 165.8h1.2v1.2h-1.2zM96.3 165.8h1.2v1.2h-1.2zM99.4 165.8h1.2v1.2h-1.2zM123.2 165.8h1.2v1.2h-1.2zM95.8 164.8h1.2v1.2h-1.2zM178.0 164.8h1.2v1.2h-1.2zM249.9 164.8h1.2v1.2h-1.2zM250.9 164.8h1.2v1.2h-1.2zM110.7 163.8h1.2v1.2h-1.2zM208.5 163.8h1.2v1.2h-1.2zM249.3 163.8h1.2v1.2h-1.2zM91.5 161.9h1.2v1.2h-1.2zM115.6 161.9h1.2v1.2h-1.2zM203.0 161.9h1.2v1.2h-1.2zM100.1 160.9h1.2v1.2h-1.2zM111.1 160.9h1.2v1.2h-1.2zM206.8 160.9h1.2v1.2h-1.2zM274.6 160.9h1.2v1.2h-1.2zM230.3 160.0h1.2v1.2h-1.2zM238.2 160.0h1.2v1.2h-1.2zM92.5 159.0h1.2v1.1h-1.2zM92.2 158.1h1.2v1.1h-1.2zM98.0 158.1h1.2v1.1h-1.2zM238.1 158.1h1.2v1.1h-1.2zM239.1 158.1h1.2v1.1h-1.2zM118.9 157.1h1.2v1.1h-1.2zM229.9 157.1h1.2v1.1h-1.2zM233.8 157.1h1.2v1.1h-1.2zM238.6 157.1h1.2v1.1h-1.2zM239.5 157.1h1.2v1.1h-1.2zM88.8 156.2h1.2v1.1h-1.2zM101.3 156.2h1.2v1.1h-1.2zM119.4 156.2h1.2v1.1h-1.2zM225.6 156.2h1.2v1.1h-1.2zM230.4 156.2h1.2v1.1h-1.2zM92.4 155.3h1.1v1.1h-1.1zM117.1 155.3h1.1v1.1h-1.1zM232.7 155.3h1.1v1.1h-1.1zM120.4 154.4h1.1v1.1h-1.1zM224.7 154.4h1.1v1.1h-1.1zM245.4 154.4h1.1v1.1h-1.1zM91.1 153.5h1.1v1.1h-1.1zM93.0 153.5h1.1v1.1h-1.1zM225.2 153.5h1.1v1.1h-1.1zM89.1 152.6h1.1v1.1h-1.1zM226.5 152.6h1.1v1.1h-1.1zM229.3 152.6h1.1v1.1h-1.1zM230.2 152.6h1.1v1.1h-1.1zM239.4 152.6h1.1v1.1h-1.1zM234.3 151.7h1.1v1.1h-1.1zM237.0 151.7h1.1v1.1h-1.1zM99.8 150.8h1.1v1.1h-1.1zM240.9 150.8h1.1v1.1h-1.1zM92.5 149.9h1.1v1.1h-1.1zM228.6 149.9h1.1v1.1h-1.1zM239.4 149.9h1.1v1.1h-1.1zM240.3 149.9h1.1v1.1h-1.1zM115.5 149.0h1.1v1.1h-1.1zM225.4 149.0h1.1v1.1h-1.1zM92.4 148.2h1.1v1.1h-1.1zM225.2 147.3h1.1v1.1h-1.1zM226.1 147.3h1.1v1.1h-1.1zM230.4 147.3h1.1v1.1h-1.1zM84.8 146.5h1.1v1.0h-1.1zM99.4 146.5h1.1v1.0h-1.1zM102.8 146.5h1.1v1.0h-1.1zM91.7 145.6h1.0v1.0h-1.0zM230.9 145.6h1.0v1.0h-1.0zM100.2 144.8h1.0v1.0h-1.0zM117.0 144.8h1.0v1.0h-1.0zM119.2 143.2h1.0v1.0h-1.0zM120.9 143.2h1.0v1.0h-1.0zM118.3 141.6h1.0v1.0h-1.0zM100.3 140.8h1.0v1.0h-1.0zM99.0 140.1h1.0v1.0h-1.0zM109.1 140.1h1.0v1.0h-1.0zM109.3 139.3h1.0v0.9h-1.0zM123.9 137.9h0.9v0.9h-0.9z"/></g>
<g id="sp3"><path fill="#60c0f0" d="M145.0 278.5h1.2v1.2h-1.2zM126.0 275.6h1.2v1.2h-1.2zM127.0 275.6h1.2v1.2h-1.2zM124.6 274.6h1.2v1.2h-1.2zM190.7 256.7h1.3v1.2h-1.3zM280.9 256.7h1.3v1.2h-1.3zM300.2 253.6h1.3v1.2h-1.3zM302.9 252.6h1.3v1.2h-1.3zM109.2 249.6h1.4v1.2h-1.4zM312.1 249.6h1.4v1.2h-1.4zM110.2 248.6h1.4v1.2h-1.4zM111.4 248.6h1.4v1.2h-1.4zM286.1 247.5h1.4v1.2h-1.4zM285.2 246.5h1.4v1.2h-1.4zM199.4 243.5h1.4v1.2h-1.4zM131.6 241.5h1.4v1.2h-1.4zM205.3 241.5h1.4v1.2h-1.4zM33.7 238.4h1.4v1.2h-1.4zM137.3 238.4h1.4v1.2h-1.4zM198.5 235.4h1.4v1.2h-1.4zM137.1 234.4h1.4v1.2h-1.4zM102.7 233.4h1.4v1.2h-1.4zM101.4 232.4h1.4v1.2h-1.4zM109.7 231.3h1.4v1.2h-1.4zM195.1 230.3h1.4v1.2h-1.4zM195.1 229.3h1.4v1.2h-1.4zM101.2 228.3h1.4v1.2h-1.4zM311.7 227.3h1.4v1.2h-1.4zM195.1 226.3h1.4v1.2h-1.4zM105.8 225.3h1.4v1.2h-1.4zM104.6 224.3h1.4v1.2h-1.4zM107.0 224.3h1.4v1.2h-1.4zM111.8 224.3h1.4v1.2h-1.4zM118.9 224.3h1.4v1.2h-1.4zM185.6 224.3h1.4v1.2h-1.4zM126.0 222.2h1.4v1.2h-1.4zM86.7 220.2h1.4v1.2h-1.4zM214.2 216.1h1.4v1.2h-1.4zM172.5 214.1h1.4v1.2h-1.4zM215.4 214.1h1.4v1.2h-1.4zM270.1 214.1h1.4v1.2h-1.4zM115.4 213.1h1.4v1.2h-1.4zM270.1 213.1h1.4v1.2h-1.4zM184.4 211.1h1.4v1.2h-1.4zM249.8 211.1h1.4v1.2h-1.4zM251.0 211.1h1.4v1.2h-1.4zM291.4 211.1h1.4v1.2h-1.4zM250.9 210.1h1.4v1.2h-1.4zM293.7 210.1h1.4v1.2h-1.4zM113.2 209.1h1.4v1.2h-1.4zM184.4 209.1h1.4v1.2h-1.4zM198.6 209.1h1.4v1.2h-1.4zM199.8 209.1h1.4v1.2h-1.4zM267.5 209.1h1.4v1.2h-1.4zM177.3 208.0h1.4v1.2h-1.4zM180.8 207.0h1.4v1.2h-1.4zM159.5 205.0h1.4v1.2h-1.4zM187.9 205.0h1.4v1.2h-1.4zM189.1 205.0h1.4v1.2h-1.4zM271.9 205.0h1.4v1.2h-1.4zM186.7 204.0h1.4v1.2h-1.4zM187.9 204.0h1.4v1.2h-1.4zM202.1 204.0h1.4v1.2h-1.4zM270.6 204.0h1.4v1.2h-1.4zM275.3 204.0h1.4v1.2h-1.4zM151.3 203.0h1.4v1.2h-1.4zM270.5 203.0h1.4v1.2h-1.4zM274.7 199.9h1.4v1.2h-1.4zM275.8 198.9h1.4v1.2h-1.4zM266.1 196.9h1.4v1.2h-1.4zM164.4 193.9h1.4v1.2h-1.4zM82.1 192.9h1.4v1.2h-1.4zM163.3 192.9h1.4v1.2h-1.4zM83.4 191.8h1.4v1.2h-1.4zM238.6 191.8h1.4v1.2h-1.4zM84.8 190.8h1.4v1.2h-1.4zM159.9 189.8h1.4v1.2h-1.4zM171.5 188.8h1.3v1.2h-1.3zM179.5 187.8h1.3v1.2h-1.3zM241.4 187.8h1.3v1.2h-1.3zM202.3 186.8h1.3v1.2h-1.3zM234.3 186.8h1.3v1.2h-1.3zM235.5 186.8h1.3v1.2h-1.3zM236.6 186.8h1.3v1.2h-1.3zM244.4 185.8h1.3v1.2h-1.3zM100.0 184.8h1.3v1.2h-1.3zM228.3 184.8h1.3v1.2h-1.3zM273.7 184.8h1.3v1.2h-1.3zM99.1 183.7h1.3v1.2h-1.3zM225.8 183.7h1.3v1.2h-1.3zM216.5 181.7h1.3v1.2h-1.3zM211.8 180.7h1.3v1.2h-1.3zM232.0 180.7h1.3v1.2h-1.3zM235.3 180.7h1.3v1.2h-1.3zM295.7 180.7h1.3v1.2h-1.3zM96.9 179.7h1.3v1.2h-1.3zM211.7 179.7h1.3v1.2h-1.3zM230.6 179.7h1.3v1.2h-1.3zM236.2 179.7h1.3v1.2h-1.3zM237.3 179.7h1.3v1.2h-1.3zM212.6 178.7h1.3v1.2h-1.3zM229.3 178.7h1.3v1.2h-1.3zM230.4 178.7h1.3v1.2h-1.3zM231.5 178.7h1.3v1.2h-1.3zM235.9 178.7h1.3v1.2h-1.3zM194.8 177.7h1.3v1.2h-1.3zM230.1 177.7h1.3v1.2h-1.3zM235.7 177.7h1.3v1.2h-1.3zM207.9 176.7h1.3v1.2h-1.3zM195.7 175.7h1.3v1.2h-1.3zM232.9 175.7h1.3v1.2h-1.3zM231.5 174.7h1.3v1.2h-1.3zM232.6 174.7h1.3v1.2h-1.3zM248.9 174.7h1.3v1.2h-1.3zM250.0 174.7h1.3v1.2h-1.3zM249.6 173.7h1.3v1.2h-1.3zM117.8 172.7h1.3v1.2h-1.3zM275.1 172.7h1.3v1.2h-1.3zM84.9 171.7h1.3v1.2h-1.3zM112.0 170.7h1.3v1.2h-1.3zM198.3 170.7h1.3v1.2h-1.3zM112.4 169.7h1.3v1.2h-1.3zM106.4 168.7h1.3v1.2h-1.3zM274.4 167.7h1.2v1.2h-1.2zM275.8 166.7h1.2v1.2h-1.2zM118.0 165.8h1.2v1.2h-1.2zM242.1 165.8h1.2v1.2h-1.2zM248.3 165.8h1.2v1.2h-1.2zM275.2 165.8h1.2v1.2h-1.2zM276.2 165.8h1.2v1.2h-1.2zM92.8 164.8h1.2v1.2h-1.2zM200.6 164.8h1.2v1.2h-1.2zM208.8 164.8h1.2v1.2h-1.2zM210.8 164.8h1.2v1.2h-1.2zM256.0 164.8h1.2v1.2h-1.2zM276.5 164.8h1.2v1.2h-1.2zM199.4 163.8h1.2v1.2h-1.2zM301.3 163.8h1.2v1.2h-1.2zM319.7 163.8h1.2v1.2h-1.2zM69.6 162.8h1.2v1.2h-1.2zM70.6 162.8h1.2v1.2h-1.2zM89.9 162.8h1.2v1.2h-1.2zM113.2 162.8h1.2v1.2h-1.2zM182.0 162.8h1.2v1.2h-1.2zM212.4 162.8h1.2v1.2h-1.2zM275.1 162.8h1.2v1.2h-1.2zM300.4 162.8h1.2v1.2h-1.2zM301.4 162.8h1.2v1.2h-1.2zM299.5 161.9h1.2v1.2h-1.2zM97.1 160.9h1.2v1.2h-1.2zM126.1 160.9h1.2v1.2h-1.2zM194.8 160.9h1.2v1.2h-1.2zM196.8 160.9h1.2v1.2h-1.2zM221.8 160.9h1.2v1.2h-1.2zM194.7 160.0h1.2v1.2h-1.2zM253.0 160.0h1.2v1.2h-1.2zM49.3 159.0h1.2v1.1h-1.2zM118.0 159.0h1.2v1.1h-1.2zM119.0 159.0h1.2v1.1h-1.2zM186.7 159.0h1.2v1.1h-1.2zM193.5 159.0h1.2v1.1h-1.2zM251.4 159.0h1.2v1.1h-1.2zM252.4 159.0h1.2v1.1h-1.2zM253.4 159.0h1.2v1.1h-1.2zM264.2 159.0h1.2v1.1h-1.2zM266.1 159.0h1.2v1.1h-1.2zM172.0 158.1h1.2v1.1h-1.2zM193.4 158.1h1.2v1.1h-1.2zM262.5 158.1h1.2v1.1h-1.2zM282.9 158.1h1.2v1.1h-1.2zM200.0 157.1h1.2v1.1h-1.2zM217.3 157.1h1.2v1.1h-1.2zM119.4 156.2h1.2v1.1h-1.2zM121.3 156.2h1.2v1.1h-1.2zM217.0 156.2h1.2v1.1h-1.2zM218.9 156.2h1.2v1.1h-1.2zM257.2 156.2h1.2v1.1h-1.2zM282.0 156.2h1.2v1.1h-1.2zM283.0 156.2h1.2v1.1h-1.2zM283.9 156.2h1.2v1.1h-1.2zM62.1 155.3h1.1v1.1h-1.1zM63.0 155.3h1.1v1.1h-1.1zM120.9 155.3h1.1v1.1h-1.1zM121.8 155.3h1.1v1.1h-1.1zM255.5 155.3h1.1v1.1h-1.1zM282.0 155.3h1.1v1.1h-1.1zM68.7 154.4h1.1v1.1h-1.1zM86.6 154.4h1.1v1.1h-1.1zM121.4 154.4h1.1v1.1h-1.1zM265.1 154.4h1.1v1.1h-1.1zM296.1 154.4h1.1v1.1h-1.1zM297.0 154.4h1.1v1.1h-1.1zM281.9 153.5h1.1v1.1h-1.1zM102.8 151.7h1.1v1.1h-1.1zM256.3 150.8h1.1v1.1h-1.1zM254.6 149.9h1.1v1.1h-1.1zM83.6 149.0h1.1v1.1h-1.1zM85.4 149.0h1.1v1.1h-1.1zM254.7 149.0h1.1v1.1h-1.1zM77.5 148.2h1.1v1.1h-1.1zM85.4 148.2h1.1v1.1h-1.1zM205.6 148.2h1.1v1.1h-1.1zM77.7 147.3h1.1v1.1h-1.1zM78.6 147.3h1.1v1.1h-1.1zM79.4 147.3h1.1v1.1h-1.1zM86.4 147.3h1.1v1.1h-1.1zM259.9 147.3h1.1v1.1h-1.1zM70.2 146.5h1.1v1.0h-1.1zM188.6 146.5h1.1v1.0h-1.1zM288.2 146.5h1.1v1.0h-1.1zM296.8 146.5h1.1v1.0h-1.1zM73.0 145.6h1.0v1.0h-1.0zM232.8 144.8h1.0v1.0h-1.0zM252.7 143.2h1.0v1.0h-1.0zM237.9 142.4h1.0v1.0h-1.0zM234.5 137.3h0.9v0.9h-0.9z"/>
<path fill="#b0dcf4" d="M119.6 277.6h1.2v1.2h-1.2zM121.7 277.6h1.2v1.2h-1.2zM144.8 277.6h1.2v1.2h-1.2zM145.8 277.6h1.2v1.2h-1.2zM119.2 276.6h1.2v1.2h-1.2zM118.8 275.6h1.2v1.2h-1.2zM124.9 275.6h1.2v1.2h-1.2zM117.4 274.6h1.2v1.2h-1.2zM123.6 274.6h1.2v1.2h-1.2zM125.6 274.6h1.2v1.2h-1.2zM126.6 274.6h1.2v1.2h-1.2zM111.8 273.7h1.2v1.2h-1.2zM112.5 272.7h1.2v1.2h-1.2zM117.7 272.7h1.2v1.2h-1.2zM232.1 272.7h1.2v1.2h-1.2zM113.1 271.7h1.2v1.2h-1.2zM114.2 271.7h1.2v1.2h-1.2zM115.2 271.7h1.2v1.2h-1.2zM116.3 271.7h1.2v1.2h-1.2zM111.7 270.7h1.3v1.2h-1.3zM112.8 270.7h1.3v1.2h-1.3zM113.8 270.7h1.3v1.2h-1.3zM114.9 270.7h1.3v1.2h-1.3zM115.9 270.7h1.3v1.2h-1.3zM110.3 269.7h1.3v1.2h-1.3zM111.3 269.7h1.3v1.2h-1.3zM112.4 269.7h1.3v1.2h-1.3zM113.4 269.7h1.3v1.2h-1.3zM114.5 269.7h1.3v1.2h-1.3zM109.9 268.7h1.3v1.2h-1.3zM111.0 268.7h1.3v1.2h-1.3zM112.0 268.7h1.3v1.2h-1.3zM113.1 268.7h1.3v1.2h-1.3zM114.2 268.7h1.3v1.2h-1.3zM118.4 268.7h1.3v1.2h-1.3zM316.6 268.7h1.3v1.2h-1.3zM317.7 268.7h1.3v1.2h-1.3zM318.8 268.7h1.3v1.2h-1.3zM110.6 267.7h1.3v1.2h-1.3zM112.7 267.7h1.3v1.2h-1.3zM117.0 267.7h1.3v1.2h-1.3zM319.6 267.7h1.3v1.2h-1.3zM320.6 267.7h1.3v1.2h-1.3zM321.7 267.7h1.3v1.2h-1.3zM111.3 266.7h1.3v1.2h-1.3zM112.4 266.7h1.3v1.2h-1.3zM113.5 266.7h1.3v1.2h-1.3zM115.6 266.7h1.3v1.2h-1.3zM116.7 266.7h1.3v1.2h-1.3zM117.8 266.7h1.3v1.2h-1.3zM319.3 266.7h1.3v1.2h-1.3zM320.4 266.7h1.3v1.2h-1.3zM321.4 266.7h1.3v1.2h-1.3zM322.5 266.7h1.3v1.2h-1.3zM112.1 265.7h1.3v1.2h-1.3zM116.4 265.7h1.3v1.2h-1.3zM117.5 265.7h1.3v1.2h-1.3zM118.6 265.7h1.3v1.2h-1.3zM300.6 265.7h1.3v1.2h-1.3zM301.6 265.7h1.3v1.2h-1.3zM322.2 265.7h1.3v1.2h-1.3zM323.3 265.7h1.3v1.2h-1.3zM324.4 265.7h1.3v1.2h-1.3zM117.2 264.7h1.3v1.2h-1.3zM301.2 264.7h1.3v1.2h-1.3zM302.3 264.7h1.3v1.2h-1.3zM324.1 264.7h1.3v1.2h-1.3zM325.2 264.7h1.3v1.2h-1.3zM326.3 264.7h1.3v1.2h-1.3zM327.4 264.7h1.3v1.2h-1.3zM115.8 263.7h1.3v1.2h-1.3zM116.9 263.7h1.3v1.2h-1.3zM118.0 263.7h1.3v1.2h-1.3zM119.1 263.7h1.3v1.2h-1.3zM120.2 263.7h1.3v1.2h-1.3zM327.0 263.7h1.3v1.2h-1.3zM328.1 263.7h1.3v1.2h-1.3zM113.3 262.7h1.3v1.2h-1.3zM115.5 262.7h1.3v1.2h-1.3zM116.6 262.7h1.3v1.2h-1.3zM117.7 262.7h1.3v1.2h-1.3zM118.8 262.7h1.3v1.2h-1.3zM116.3 261.7h1.3v1.2h-1.3zM118.6 261.7h1.3v1.2h-1.3zM119.7 261.7h1.3v1.2h-1.3zM302.0 261.7h1.3v1.2h-1.3zM110.5 260.7h1.3v1.2h-1.3zM113.9 260.7h1.3v1.2h-1.3zM117.2 260.7h1.3v1.2h-1.3zM118.3 260.7h1.3v1.2h-1.3zM119.4 260.7h1.3v1.2h-1.3zM120.5 260.7h1.3v1.2h-1.3zM121.6 260.7h1.3v1.2h-1.3zM122.7 260.7h1.3v1.2h-1.3zM301.4 260.7h1.3v1.2h-1.3zM302.5 260.7h1.3v1.2h-1.3zM329.2 260.7h1.3v1.2h-1.3zM330.3 260.7h1.3v1.2h-1.3zM110.3 259.7h1.3v1.2h-1.3zM111.4 259.7h1.3v1.2h-1.3zM113.6 259.7h1.3v1.2h-1.3zM118.1 259.7h1.3v1.2h-1.3zM119.2 259.7h1.3v1.2h-1.3zM111.1 258.7h1.3v1.2h-1.3zM112.2 258.7h1.3v1.2h-1.3zM116.7 258.7h1.3v1.2h-1.3zM117.8 258.7h1.3v1.2h-1.3zM119.0 258.7h1.3v1.2h-1.3zM122.3 258.7h1.3v1.2h-1.3zM330.4 258.7h1.3v1.2h-1.3zM110.9 257.7h1.3v1.2h-1.3zM116.5 257.7h1.3v1.2h-1.3zM117.6 257.7h1.3v1.2h-1.3zM118.7 257.7h1.3v1.2h-1.3zM122.1 257.7h1.3v1.2h-1.3zM279.4 257.7h1.3v1.2h-1.3zM329.9 257.7h1.3v1.2h-1.3zM116.3 256.7h1.3v1.2h-1.3zM117.4 256.7h1.3v1.2h-1.3zM118.5 256.7h1.3v1.2h-1.3zM120.8 256.7h1.3v1.2h-1.3zM121.9 256.7h1.3v1.2h-1.3zM124.2 256.7h1.3v1.2h-1.3zM191.8 256.7h1.3v1.2h-1.3zM192.9 256.7h1.3v1.2h-1.3zM194.1 256.7h1.3v1.2h-1.3zM195.2 256.7h1.3v1.2h-1.3zM279.8 256.7h1.3v1.2h-1.3zM282.0 256.7h1.3v1.2h-1.3zM283.1 256.7h1.3v1.2h-1.3zM284.3 256.7h1.3v1.2h-1.3zM113.8 255.6h1.3v1.2h-1.3zM114.9 255.6h1.3v1.2h-1.3zM122.8 255.6h1.3v1.2h-1.3zM190.7 255.6h1.3v1.2h-1.3zM193.0 255.6h1.3v1.2h-1.3zM198.7 255.6h1.3v1.2h-1.3zM283.5 255.6h1.3v1.2h-1.3zM284.7 255.6h1.3v1.2h-1.3zM285.8 255.6h1.3v1.2h-1.3zM300.5 255.6h1.3v1.2h-1.3zM305.0 255.6h1.3v1.2h-1.3zM307.3 255.6h1.3v1.2h-1.3zM115.9 254.6h1.3v1.2h-1.3zM117.0 254.6h1.3v1.2h-1.3zM118.1 254.6h1.3v1.2h-1.3zM127.2 254.6h1.3v1.2h-1.3zM190.8 254.6h1.3v1.2h-1.3zM191.9 254.6h1.3v1.2h-1.3zM295.3 254.6h1.3v1.2h-1.3zM296.4 254.6h1.3v1.2h-1.3zM298.7 254.6h1.3v1.2h-1.3zM300.9 254.6h1.3v1.2h-1.3zM310.0 254.6h1.3v1.2h-1.3zM114.5 253.6h1.3v1.2h-1.3zM116.8 253.6h1.3v1.2h-1.3zM123.6 253.6h1.3v1.2h-1.3zM125.9 253.6h1.3v1.2h-1.3zM127.0 253.6h1.3v1.2h-1.3zM291.1 253.6h1.3v1.2h-1.3zM292.3 253.6h1.3v1.2h-1.3zM293.4 253.6h1.3v1.2h-1.3zM294.5 253.6h1.3v1.2h-1.3zM301.4 253.6h1.3v1.2h-1.3zM304.8 253.6h1.3v1.2h-1.3zM307.1 253.6h1.3v1.2h-1.3zM308.2 253.6h1.3v1.2h-1.3zM310.5 253.6h1.3v1.2h-1.3zM113.2 252.6h1.3v1.2h-1.3zM114.3 252.6h1.3v1.2h-1.3zM115.5 252.6h1.3v1.2h-1.3zM125.8 252.6h1.3v1.2h-1.3zM126.9 252.6h1.3v1.2h-1.3zM290.3 252.6h1.3v1.2h-1.3zM291.5 252.6h1.3v1.2h-1.3zM292.6 252.6h1.3v1.2h-1.3zM293.8 252.6h1.3v1.2h-1.3zM294.9 252.6h1.3v1.2h-1.3zM297.2 252.6h1.3v1.2h-1.3zM298.3 252.6h1.3v1.2h-1.3zM300.6 252.6h1.3v1.2h-1.3zM301.8 252.6h1.3v1.2h-1.3zM304.1 252.6h1.3v1.2h-1.3zM305.2 252.6h1.3v1.2h-1.3zM306.3 252.6h1.3v1.2h-1.3zM125.6 251.6h1.3v1.2h-1.3zM126.8 251.6h1.3v1.2h-1.3zM279.2 251.6h1.3v1.2h-1.3zM282.7 251.6h1.3v1.2h-1.3zM284.9 251.6h1.3v1.2h-1.3zM290.7 251.6h1.3v1.2h-1.3zM293.0 251.6h1.3v1.2h-1.3zM294.1 251.6h1.3v1.2h-1.3zM297.6 251.6h1.3v1.2h-1.3zM298.7 251.6h1.3v1.2h-1.3zM301.0 251.6h1.3v1.2h-1.3zM302.1 251.6h1.3v1.2h-1.3zM304.4 251.6h1.3v1.2h-1.3zM305.6 251.6h1.3v1.2h-1.3zM306.7 251.6h1.3v1.2h-1.3zM311.3 251.6h1.3v1.2h-1.3zM312.5 251.6h1.3v1.2h-1.3zM109.4 250.6h1.3v1.2h-1.3zM125.5 250.6h1.3v1.2h-1.3zM127.8 250.6h1.3v1.2h-1.3zM196.7 250.6h1.3v1.2h-1.3zM197.9 250.6h1.3v1.2h-1.3zM199.0 250.6h1.3v1.2h-1.3zM279.5 250.6h1.3v1.2h-1.3zM292.2 250.6h1.3v1.2h-1.3zM293.3 250.6h1.3v1.2h-1.3zM300.2 250.6h1.3v1.2h-1.3zM307.1 250.6h1.3v1.2h-1.3zM308.3 250.6h1.3v1.2h-1.3zM310.5 250.6h1.3v1.2h-1.3zM311.7 250.6h1.3v1.2h-1.3zM312.8 250.6h1.3v1.2h-1.3zM110.4 249.6h1.4v1.2h-1.4zM111.5 249.6h1.4v1.2h-1.4zM128.8 249.6h1.4v1.2h-1.4zM195.6 249.6h1.4v1.2h-1.4zM198.0 249.6h1.4v1.2h-1.4zM199.1 249.6h1.4v1.2h-1.4zM279.8 249.6h1.4v1.2h-1.4zM282.1 249.6h1.4v1.2h-1.4zM283.2 249.6h1.4v1.2h-1.4zM298.2 249.6h1.4v1.2h-1.4zM300.5 249.6h1.4v1.2h-1.4zM309.8 249.6h1.4v1.2h-1.4zM310.9 249.6h1.4v1.2h-1.4zM313.2 249.6h1.4v1.2h-1.4zM314.4 249.6h1.4v1.2h-1.4zM109.0 248.6h1.4v1.2h-1.4zM112.5 248.6h1.4v1.2h-1.4zM113.7 248.6h1.4v1.2h-1.4zM114.8 248.6h1.4v1.2h-1.4zM116.0 248.6h1.4v1.2h-1.4zM195.7 248.6h1.4v1.2h-1.4zM196.9 248.6h1.4v1.2h-1.4zM198.0 248.6h1.4v1.2h-1.4zM199.2 248.6h1.4v1.2h-1.4zM280.0 248.6h1.4v1.2h-1.4zM282.4 248.6h1.4v1.2h-1.4zM283.5 248.6h1.4v1.2h-1.4zM284.7 248.6h1.4v1.2h-1.4zM291.6 248.6h1.4v1.2h-1.4zM297.4 248.6h1.4v1.2h-1.4zM298.5 248.6h1.4v1.2h-1.4zM299.7 248.6h1.4v1.2h-1.4zM307.8 248.6h1.4v1.2h-1.4zM308.9 248.6h1.4v1.2h-1.4zM313.6 248.6h1.4v1.2h-1.4zM314.7 248.6h1.4v1.2h-1.4zM315.9 248.6h1.4v1.2h-1.4zM108.9 247.5h1.4v1.2h-1.4zM110.0 247.5h1.4v1.2h-1.4zM112.4 247.5h1.4v1.2h-1.4zM113.5 247.5h1.4v1.2h-1.4zM114.7 247.5h1.4v1.2h-1.4zM115.8 247.5h1.4v1.2h-1.4zM122.8 247.5h1.4v1.2h-1.4zM194.6 247.5h1.4v1.2h-1.4zM195.7 247.5h1.4v1.2h-1.4zM196.9 247.5h1.4v1.2h-1.4zM198.1 247.5h1.4v1.2h-1.4zM199.2 247.5h1.4v1.2h-1.4zM282.6 247.5h1.4v1.2h-1.4zM284.9 247.5h1.4v1.2h-1.4zM291.9 247.5h1.4v1.2h-1.4zM293.0 247.5h1.4v1.2h-1.4zM296.5 247.5h1.4v1.2h-1.4zM297.7 247.5h1.4v1.2h-1.4zM300.0 247.5h1.4v1.2h-1.4zM309.2 247.5h1.4v1.2h-1.4zM311.6 247.5h1.4v1.2h-1.4zM313.9 247.5h1.4v1.2h-1.4zM315.0 247.5h1.4v1.2h-1.4zM108.7 246.5h1.4v1.2h-1.4zM111.1 246.5h1.4v1.2h-1.4zM112.2 246.5h1.4v1.2h-1.4zM114.6 246.5h1.4v1.2h-1.4zM116.9 246.5h1.4v1.2h-1.4zM191.1 246.5h1.4v1.2h-1.4zM192.3 246.5h1.4v1.2h-1.4zM197.0 246.5h1.4v1.2h-1.4zM198.1 246.5h1.4v1.2h-1.4zM199.3 246.5h1.4v1.2h-1.4zM201.6 246.5h1.4v1.2h-1.4zM202.8 246.5h1.4v1.2h-1.4zM280.5 246.5h1.4v1.2h-1.4zM282.8 246.5h1.4v1.2h-1.4zM287.5 246.5h1.4v1.2h-1.4zM292.1 246.5h1.4v1.2h-1.4zM293.3 246.5h1.4v1.2h-1.4zM294.4 246.5h1.4v1.2h-1.4zM296.8 246.5h1.4v1.2h-1.4zM297.9 246.5h1.4v1.2h-1.4zM299.1 246.5h1.4v1.2h-1.4zM314.2 246.5h1.4v1.2h-1.4zM108.6 245.5h1.4v1.2h-1.4zM113.3 245.5h1.4v1.2h-1.4zM115.6 245.5h1.4v1.2h-1.4zM127.2 245.5h1.4v1.2h-1.4zM128.4 245.5h1.4v1.2h-1.4zM192.3 245.5h1.4v1.2h-1.4zM193.5 245.5h1.4v1.2h-1.4zM194.7 245.5h1.4v1.2h-1.4zM195.8 245.5h1.4v1.2h-1.4zM198.2 245.5h1.4v1.2h-1.4zM200.5 245.5h1.4v1.2h-1.4zM204.0 245.5h1.4v1.2h-1.4zM280.7 245.5h1.4v1.2h-1.4zM284.2 245.5h1.4v1.2h-1.4zM285.4 245.5h1.4v1.2h-1.4zM294.7 245.5h1.4v1.2h-1.4zM295.8 245.5h1.4v1.2h-1.4zM297.0 245.5h1.4v1.2h-1.4zM315.6 245.5h1.4v1.2h-1.4zM110.8 244.5h1.4v1.2h-1.4zM114.3 244.5h1.4v1.2h-1.4zM116.7 244.5h1.4v1.2h-1.4zM128.3 244.5h1.4v1.2h-1.4zM129.5 244.5h1.4v1.2h-1.4zM190.0 244.5h1.4v1.2h-1.4zM192.4 244.5h1.4v1.2h-1.4zM193.5 244.5h1.4v1.2h-1.4zM199.4 244.5h1.4v1.2h-1.4zM201.7 244.5h1.4v1.2h-1.4zM205.2 244.5h1.4v1.2h-1.4zM219.2 244.5h1.4v1.2h-1.4zM292.6 244.5h1.4v1.2h-1.4zM293.7 244.5h1.4v1.2h-1.4zM294.9 244.5h1.4v1.2h-1.4zM296.1 244.5h1.4v1.2h-1.4zM297.2 244.5h1.4v1.2h-1.4zM298.4 244.5h1.4v1.2h-1.4zM299.6 244.5h1.4v1.2h-1.4zM306.5 244.5h1.4v1.2h-1.4zM109.5 243.5h1.4v1.2h-1.4zM111.9 243.5h1.4v1.2h-1.4zM114.2 243.5h1.4v1.2h-1.4zM115.4 243.5h1.4v1.2h-1.4zM116.5 243.5h1.4v1.2h-1.4zM117.7 243.5h1.4v1.2h-1.4zM118.9 243.5h1.4v1.2h-1.4zM120.1 243.5h1.4v1.2h-1.4zM127.1 243.5h1.4v1.2h-1.4zM128.2 243.5h1.4v1.2h-1.4zM130.6 243.5h1.4v1.2h-1.4zM131.7 243.5h1.4v1.2h-1.4zM132.9 243.5h1.4v1.2h-1.4zM190.1 243.5h1.4v1.2h-1.4zM191.2 243.5h1.4v1.2h-1.4zM192.4 243.5h1.4v1.2h-1.4zM193.6 243.5h1.4v1.2h-1.4zM194.7 243.5h1.4v1.2h-1.4zM198.2 243.5h1.4v1.2h-1.4zM204.1 243.5h1.4v1.2h-1.4zM205.2 243.5h1.4v1.2h-1.4zM206.4 243.5h1.4v1.2h-1.4zM207.6 243.5h1.4v1.2h-1.4zM216.9 243.5h1.4v1.2h-1.4zM218.1 243.5h1.4v1.2h-1.4zM279.9 243.5h1.4v1.2h-1.4zM281.1 243.5h1.4v1.2h-1.4zM285.8 243.5h1.4v1.2h-1.4zM292.8 243.5h1.4v1.2h-1.4zM293.9 243.5h1.4v1.2h-1.4zM295.1 243.5h1.4v1.2h-1.4zM296.3 243.5h1.4v1.2h-1.4zM297.4 243.5h1.4v1.2h-1.4zM298.6 243.5h1.4v1.2h-1.4zM299.8 243.5h1.4v1.2h-1.4zM306.8 243.5h1.4v1.2h-1.4zM307.9 243.5h1.4v1.2h-1.4zM309.1 243.5h1.4v1.2h-1.4zM313.8 243.5h1.4v1.2h-1.4zM111.8 242.5h1.4v1.2h-1.4zM112.9 242.5h1.4v1.2h-1.4zM114.1 242.5h1.4v1.2h-1.4zM115.3 242.5h1.4v1.2h-1.4zM116.5 242.5h1.4v1.2h-1.4zM117.6 242.5h1.4v1.2h-1.4zM118.8 242.5h1.4v1.2h-1.4zM120.0 242.5h1.4v1.2h-1.4zM123.5 242.5h1.4v1.2h-1.4zM127.0 242.5h1.4v1.2h-1.4zM128.1 242.5h1.4v1.2h-1.4zM130.5 242.5h1.4v1.2h-1.4zM131.6 242.5h1.4v1.2h-1.4zM132.8 242.5h1.4v1.2h-1.4zM192.4 242.5h1.4v1.2h-1.4zM193.6 242.5h1.4v1.2h-1.4zM204.1 242.5h1.4v1.2h-1.4zM205.3 242.5h1.4v1.2h-1.4zM206.5 242.5h1.4v1.2h-1.4zM215.8 242.5h1.4v1.2h-1.4zM218.2 242.5h1.4v1.2h-1.4zM226.3 242.5h1.4v1.2h-1.4zM284.8 242.5h1.4v1.2h-1.4zM296.5 242.5h1.4v1.2h-1.4zM297.6 242.5h1.4v1.2h-1.4zM298.8 242.5h1.4v1.2h-1.4zM300.0 242.5h1.4v1.2h-1.4zM301.1 242.5h1.4v1.2h-1.4zM302.3 242.5h1.4v1.2h-1.4zM308.2 242.5h1.4v1.2h-1.4zM329.2 242.5h1.4v1.2h-1.4zM114.0 241.5h1.4v1.2h-1.4zM115.2 241.5h1.4v1.2h-1.4zM116.4 241.5h1.4v1.2h-1.4zM124.6 241.5h1.4v1.2h-1.4zM125.7 241.5h1.4v1.2h-1.4zM126.9 241.5h1.4v1.2h-1.4zM130.4 241.5h1.4v1.2h-1.4zM132.8 241.5h1.4v1.2h-1.4zM203.0 241.5h1.4v1.2h-1.4zM204.2 241.5h1.4v1.2h-1.4zM206.5 241.5h1.4v1.2h-1.4zM215.9 241.5h1.4v1.2h-1.4zM217.0 241.5h1.4v1.2h-1.4zM227.6 241.5h1.4v1.2h-1.4zM295.5 241.5h1.4v1.2h-1.4zM296.7 241.5h1.4v1.2h-1.4zM299.0 241.5h1.4v1.2h-1.4zM300.2 241.5h1.4v1.2h-1.4zM302.5 241.5h1.4v1.2h-1.4zM303.7 241.5h1.4v1.2h-1.4zM109.2 240.5h1.4v1.2h-1.4zM113.9 240.5h1.4v1.2h-1.4zM124.5 240.5h1.4v1.2h-1.4zM131.5 240.5h1.4v1.2h-1.4zM132.7 240.5h1.4v1.2h-1.4zM133.9 240.5h1.4v1.2h-1.4zM137.4 240.5h1.4v1.2h-1.4zM204.2 240.5h1.4v1.2h-1.4zM205.4 240.5h1.4v1.2h-1.4zM206.6 240.5h1.4v1.2h-1.4zM217.1 240.5h1.4v1.2h-1.4zM218.3 240.5h1.4v1.2h-1.4zM295.7 240.5h1.4v1.2h-1.4zM296.9 240.5h1.4v1.2h-1.4zM298.0 240.5h1.4v1.2h-1.4zM299.2 240.5h1.4v1.2h-1.4zM300.4 240.5h1.4v1.2h-1.4zM301.6 240.5h1.4v1.2h-1.4zM302.7 240.5h1.4v1.2h-1.4zM303.9 240.5h1.4v1.2h-1.4zM310.9 240.5h1.4v1.2h-1.4zM113.8 239.4h1.4v1.2h-1.4zM116.2 239.4h1.4v1.2h-1.4zM127.9 239.4h1.4v1.2h-1.4zM130.3 239.4h1.4v1.2h-1.4zM131.4 239.4h1.4v1.2h-1.4zM132.6 239.4h1.4v1.2h-1.4zM133.8 239.4h1.4v1.2h-1.4zM135.0 239.4h1.4v1.2h-1.4zM136.1 239.4h1.4v1.2h-1.4zM185.5 239.4h1.4v1.2h-1.4zM192.5 239.4h1.4v1.2h-1.4zM203.1 239.4h1.4v1.2h-1.4zM204.3 239.4h1.4v1.2h-1.4zM205.4 239.4h1.4v1.2h-1.4zM209.0 239.4h1.4v1.2h-1.4zM295.9 239.4h1.4v1.2h-1.4zM298.2 239.4h1.4v1.2h-1.4zM299.4 239.4h1.4v1.2h-1.4zM304.1 239.4h1.4v1.2h-1.4zM305.3 239.4h1.4v1.2h-1.4zM307.6 239.4h1.4v1.2h-1.4zM106.7 238.4h1.4v1.2h-1.4zM107.8 238.4h1.4v1.2h-1.4zM112.6 238.4h1.4v1.2h-1.4zM113.7 238.4h1.4v1.2h-1.4zM114.9 238.4h1.4v1.2h-1.4zM117.3 238.4h1.4v1.2h-1.4zM119.6 238.4h1.4v1.2h-1.4zM120.8 238.4h1.4v1.2h-1.4zM127.8 238.4h1.4v1.2h-1.4zM129.0 238.4h1.4v1.2h-1.4zM130.2 238.4h1.4v1.2h-1.4zM131.4 238.4h1.4v1.2h-1.4zM132.6 238.4h1.4v1.2h-1.4zM134.9 238.4h1.4v1.2h-1.4zM136.1 238.4h1.4v1.2h-1.4zM185.5 238.4h1.4v1.2h-1.4zM190.2 238.4h1.4v1.2h-1.4zM191.4 238.4h1.4v1.2h-1.4zM192.5 238.4h1.4v1.2h-1.4zM198.4 238.4h1.4v1.2h-1.4zM202.0 238.4h1.4v1.2h-1.4zM203.1 238.4h1.4v1.2h-1.4zM204.3 238.4h1.4v1.2h-1.4zM291.4 238.4h1.4v1.2h-1.4zM292.5 238.4h1.4v1.2h-1.4zM297.2 238.4h1.4v1.2h-1.4zM306.6 238.4h1.4v1.2h-1.4zM307.8 238.4h1.4v1.2h-1.4zM106.6 237.4h1.4v1.2h-1.4zM113.6 237.4h1.4v1.2h-1.4zM114.8 237.4h1.4v1.2h-1.4zM125.4 237.4h1.4v1.2h-1.4zM126.6 237.4h1.4v1.2h-1.4zM127.8 237.4h1.4v1.2h-1.4zM129.0 237.4h1.4v1.2h-1.4zM130.1 237.4h1.4v1.2h-1.4zM131.3 237.4h1.4v1.2h-1.4zM134.8 237.4h1.4v1.2h-1.4zM136.0 237.4h1.4v1.2h-1.4zM185.5 237.4h1.4v1.2h-1.4zM202.0 237.4h1.4v1.2h-1.4zM203.2 237.4h1.4v1.2h-1.4zM204.4 237.4h1.4v1.2h-1.4zM210.2 237.4h1.4v1.2h-1.4zM291.5 237.4h1.4v1.2h-1.4zM114.7 236.4h1.4v1.2h-1.4zM115.9 236.4h1.4v1.2h-1.4zM130.1 236.4h1.4v1.2h-1.4zM132.4 236.4h1.4v1.2h-1.4zM136.0 236.4h1.4v1.2h-1.4zM137.2 236.4h1.4v1.2h-1.4zM193.8 236.4h1.4v1.2h-1.4zM196.1 236.4h1.4v1.2h-1.4zM209.1 236.4h1.4v1.2h-1.4zM210.3 236.4h1.4v1.2h-1.4zM211.5 236.4h1.4v1.2h-1.4zM212.6 236.4h1.4v1.2h-1.4zM297.6 236.4h1.4v1.2h-1.4zM298.8 236.4h1.4v1.2h-1.4zM308.2 236.4h1.4v1.2h-1.4zM310.6 236.4h1.4v1.2h-1.4zM311.7 236.4h1.4v1.2h-1.4zM115.8 235.4h1.4v1.2h-1.4zM118.2 235.4h1.4v1.2h-1.4zM119.4 235.4h1.4v1.2h-1.4zM121.7 235.4h1.4v1.2h-1.4zM122.9 235.4h1.4v1.2h-1.4zM131.2 235.4h1.4v1.2h-1.4zM132.4 235.4h1.4v1.2h-1.4zM137.1 235.4h1.4v1.2h-1.4zM191.4 235.4h1.4v1.2h-1.4zM192.6 235.4h1.4v1.2h-1.4zM193.8 235.4h1.4v1.2h-1.4zM195.0 235.4h1.4v1.2h-1.4zM196.2 235.4h1.4v1.2h-1.4zM197.3 235.4h1.4v1.2h-1.4zM199.7 235.4h1.4v1.2h-1.4zM203.2 235.4h1.4v1.2h-1.4zM210.3 235.4h1.4v1.2h-1.4zM218.6 235.4h1.4v1.2h-1.4zM295.4 235.4h1.4v1.2h-1.4zM296.6 235.4h1.4v1.2h-1.4zM297.7 235.4h1.4v1.2h-1.4zM298.9 235.4h1.4v1.2h-1.4zM300.1 235.4h1.4v1.2h-1.4zM102.8 234.4h1.4v1.2h-1.4zM111.0 234.4h1.4v1.2h-1.4zM112.2 234.4h1.4v1.2h-1.4zM119.3 234.4h1.4v1.2h-1.4zM120.5 234.4h1.4v1.2h-1.4zM121.7 234.4h1.4v1.2h-1.4zM122.9 234.4h1.4v1.2h-1.4zM126.4 234.4h1.4v1.2h-1.4zM132.3 234.4h1.4v1.2h-1.4zM135.9 234.4h1.4v1.2h-1.4zM190.3 234.4h1.4v1.2h-1.4zM191.5 234.4h1.4v1.2h-1.4zM192.6 234.4h1.4v1.2h-1.4zM193.8 234.4h1.4v1.2h-1.4zM195.0 234.4h1.4v1.2h-1.4zM196.2 234.4h1.4v1.2h-1.4zM197.4 234.4h1.4v1.2h-1.4zM198.6 234.4h1.4v1.2h-1.4zM200.9 234.4h1.4v1.2h-1.4zM219.8 234.4h1.4v1.2h-1.4zM221.0 234.4h1.4v1.2h-1.4zM296.7 234.4h1.4v1.2h-1.4zM309.7 234.4h1.4v1.2h-1.4zM310.9 234.4h1.4v1.2h-1.4zM101.5 233.4h1.4v1.2h-1.4zM119.3 233.4h1.4v1.2h-1.4zM120.4 233.4h1.4v1.2h-1.4zM121.6 233.4h1.4v1.2h-1.4zM124.0 233.4h1.4v1.2h-1.4zM131.1 233.4h1.4v1.2h-1.4zM132.3 233.4h1.4v1.2h-1.4zM133.5 233.4h1.4v1.2h-1.4zM137.0 233.4h1.4v1.2h-1.4zM138.2 233.4h1.4v1.2h-1.4zM195.0 233.4h1.4v1.2h-1.4zM199.8 233.4h1.4v1.2h-1.4zM200.9 233.4h1.4v1.2h-1.4zM298.0 233.4h1.4v1.2h-1.4zM301.6 233.4h1.4v1.2h-1.4zM102.6 232.4h1.4v1.2h-1.4zM103.8 232.4h1.4v1.2h-1.4zM109.7 232.4h1.4v1.2h-1.4zM110.9 232.4h1.4v1.2h-1.4zM116.8 232.4h1.4v1.2h-1.4zM121.6 232.4h1.4v1.2h-1.4zM125.1 232.4h1.4v1.2h-1.4zM126.3 232.4h1.4v1.2h-1.4zM127.5 232.4h1.4v1.2h-1.4zM131.1 232.4h1.4v1.2h-1.4zM132.2 232.4h1.4v1.2h-1.4zM133.4 232.4h1.4v1.2h-1.4zM138.2 232.4h1.4v1.2h-1.4zM192.7 232.4h1.4v1.2h-1.4zM196.2 232.4h1.4v1.2h-1.4zM198.6 232.4h1.4v1.2h-1.4zM199.8 232.4h1.4v1.2h-1.4zM201.0 232.4h1.4v1.2h-1.4zM203.3 232.4h1.4v1.2h-1.4zM208.1 232.4h1.4v1.2h-1.4zM209.3 232.4h1.4v1.2h-1.4zM210.5 232.4h1.4v1.2h-1.4zM212.8 232.4h1.4v1.2h-1.4zM110.9 231.3h1.4v1.2h-1.4zM112.0 231.3h1.4v1.2h-1.4zM113.2 231.3h1.4v1.2h-1.4zM114.4 231.3h1.4v1.2h-1.4zM121.5 231.3h1.4v1.2h-1.4zM122.7 231.3h1.4v1.2h-1.4zM123.9 231.3h1.4v1.2h-1.4zM126.3 231.3h1.4v1.2h-1.4zM129.8 231.3h1.4v1.2h-1.4zM131.0 231.3h1.4v1.2h-1.4zM136.9 231.3h1.4v1.2h-1.4zM186.8 231.3h1.4v1.2h-1.4zM193.9 231.3h1.4v1.2h-1.4zM195.1 231.3h1.4v1.2h-1.4zM196.2 231.3h1.4v1.2h-1.4zM198.6 231.3h1.4v1.2h-1.4zM199.8 231.3h1.4v1.2h-1.4zM201.0 231.3h1.4v1.2h-1.4zM202.2 231.3h1.4v1.2h-1.4zM204.6 231.3h1.4v1.2h-1.4zM209.3 231.3h1.4v1.2h-1.4zM212.9 231.3h1.4v1.2h-1.4zM317.2 231.3h1.4v1.2h-1.4zM318.4 231.3h1.4v1.2h-1.4zM100.1 230.3h1.4v1.2h-1.4zM108.4 230.3h1.4v1.2h-1.4zM109.6 230.3h1.4v1.2h-1.4zM112.0 230.3h1.4v1.2h-1.4zM114.4 230.3h1.4v1.2h-1.4zM115.5 230.3h1.4v1.2h-1.4zM116.7 230.3h1.4v1.2h-1.4zM117.9 230.3h1.4v1.2h-1.4zM120.3 230.3h1.4v1.2h-1.4zM121.5 230.3h1.4v1.2h-1.4zM122.7 230.3h1.4v1.2h-1.4zM129.8 230.3h1.4v1.2h-1.4zM131.0 230.3h1.4v1.2h-1.4zM136.9 230.3h1.4v1.2h-1.4zM192.7 230.3h1.4v1.2h-1.4zM193.9 230.3h1.4v1.2h-1.4zM199.8 230.3h1.4v1.2h-1.4zM201.0 230.3h1.4v1.2h-1.4zM202.2 230.3h1.4v1.2h-1.4zM203.4 230.3h1.4v1.2h-1.4zM211.7 230.3h1.4v1.2h-1.4zM292.4 230.3h1.4v1.2h-1.4zM293.6 230.3h1.4v1.2h-1.4zM100.1 229.3h1.4v1.2h-1.4zM101.2 229.3h1.4v1.2h-1.4zM103.6 229.3h1.4v1.2h-1.4zM110.8 229.3h1.4v1.2h-1.4zM116.7 229.3h1.4v1.2h-1.4zM117.9 229.3h1.4v1.2h-1.4zM120.3 229.3h1.4v1.2h-1.4zM121.4 229.3h1.4v1.2h-1.4zM128.6 229.3h1.4v1.2h-1.4zM136.9 229.3h1.4v1.2h-1.4zM138.1 229.3h1.4v1.2h-1.4zM192.7 229.3h1.4v1.2h-1.4zM193.9 229.3h1.4v1.2h-1.4zM196.3 229.3h1.4v1.2h-1.4zM199.8 229.3h1.4v1.2h-1.4zM202.2 229.3h1.4v1.2h-1.4zM204.6 229.3h1.4v1.2h-1.4zM284.2 229.3h1.4v1.2h-1.4zM285.4 229.3h1.4v1.2h-1.4zM286.6 229.3h1.4v1.2h-1.4zM287.8 229.3h1.4v1.2h-1.4zM293.7 229.3h1.4v1.2h-1.4zM309.1 229.3h1.4v1.2h-1.4zM327.0 229.3h1.4v1.2h-1.4zM98.8 228.3h1.4v1.2h-1.4zM100.0 228.3h1.4v1.2h-1.4zM102.4 228.3h1.4v1.2h-1.4zM103.6 228.3h1.4v1.2h-1.4zM110.7 228.3h1.4v1.2h-1.4zM113.1 228.3h1.4v1.2h-1.4zM116.7 228.3h1.4v1.2h-1.4zM117.8 228.3h1.4v1.2h-1.4zM119.0 228.3h1.4v1.2h-1.4zM121.4 228.3h1.4v1.2h-1.4zM122.6 228.3h1.4v1.2h-1.4zM123.8 228.3h1.4v1.2h-1.4zM130.9 228.3h1.4v1.2h-1.4zM132.1 228.3h1.4v1.2h-1.4zM135.7 228.3h1.4v1.2h-1.4zM136.9 228.3h1.4v1.2h-1.4zM193.9 228.3h1.4v1.2h-1.4zM195.1 228.3h1.4v1.2h-1.4zM198.7 228.3h1.4v1.2h-1.4zM199.9 228.3h1.4v1.2h-1.4zM202.2 228.3h1.4v1.2h-1.4zM278.3 228.3h1.4v1.2h-1.4zM279.5 228.3h1.4v1.2h-1.4zM280.7 228.3h1.4v1.2h-1.4zM284.3 228.3h1.4v1.2h-1.4zM285.4 228.3h1.4v1.2h-1.4zM296.1 228.3h1.4v1.2h-1.4zM305.7 228.3h1.4v1.2h-1.4zM308.0 228.3h1.4v1.2h-1.4zM309.2 228.3h1.4v1.2h-1.4zM310.4 228.3h1.4v1.2h-1.4zM311.6 228.3h1.4v1.2h-1.4zM312.8 228.3h1.4v1.2h-1.4zM102.3 227.3h1.4v1.2h-1.4zM103.5 227.3h1.4v1.2h-1.4zM104.7 227.3h1.4v1.2h-1.4zM105.9 227.3h1.4v1.2h-1.4zM108.3 227.3h1.4v1.2h-1.4zM116.6 227.3h1.4v1.2h-1.4zM117.8 227.3h1.4v1.2h-1.4zM128.5 227.3h1.4v1.2h-1.4zM132.1 227.3h1.4v1.2h-1.4zM135.6 227.3h1.4v1.2h-1.4zM136.8 227.3h1.4v1.2h-1.4zM138.0 227.3h1.4v1.2h-1.4zM193.9 227.3h1.4v1.2h-1.4zM196.3 227.3h1.4v1.2h-1.4zM197.5 227.3h1.4v1.2h-1.4zM198.7 227.3h1.4v1.2h-1.4zM201.1 227.3h1.4v1.2h-1.4zM211.8 227.3h1.4v1.2h-1.4zM276.0 227.3h1.4v1.2h-1.4zM277.2 227.3h1.4v1.2h-1.4zM278.4 227.3h1.4v1.2h-1.4zM280.8 227.3h1.4v1.2h-1.4zM306.9 227.3h1.4v1.2h-1.4zM308.1 227.3h1.4v1.2h-1.4zM309.3 227.3h1.4v1.2h-1.4zM310.5 227.3h1.4v1.2h-1.4zM312.9 227.3h1.4v1.2h-1.4zM324.8 227.3h1.4v1.2h-1.4zM104.7 226.3h1.4v1.2h-1.4zM105.9 226.3h1.4v1.2h-1.4zM107.1 226.3h1.4v1.2h-1.4zM108.3 226.3h1.4v1.2h-1.4zM109.4 226.3h1.4v1.2h-1.4zM110.6 226.3h1.4v1.2h-1.4zM111.8 226.3h1.4v1.2h-1.4zM119.0 226.3h1.4v1.2h-1.4zM123.7 226.3h1.4v1.2h-1.4zM128.5 226.3h1.4v1.2h-1.4zM129.7 226.3h1.4v1.2h-1.4zM133.2 226.3h1.4v1.2h-1.4zM134.4 226.3h1.4v1.2h-1.4zM135.6 226.3h1.4v1.2h-1.4zM136.8 226.3h1.4v1.2h-1.4zM138.0 226.3h1.4v1.2h-1.4zM188.0 226.3h1.4v1.2h-1.4zM189.2 226.3h1.4v1.2h-1.4zM196.3 226.3h1.4v1.2h-1.4zM197.5 226.3h1.4v1.2h-1.4zM198.7 226.3h1.4v1.2h-1.4zM199.9 226.3h1.4v1.2h-1.4zM205.8 226.3h1.4v1.2h-1.4zM211.8 226.3h1.4v1.2h-1.4zM276.1 226.3h1.4v1.2h-1.4zM277.2 226.3h1.4v1.2h-1.4zM309.4 226.3h1.4v1.2h-1.4zM310.6 226.3h1.4v1.2h-1.4zM311.8 226.3h1.4v1.2h-1.4zM97.5 225.3h1.4v1.2h-1.4zM103.5 225.3h1.4v1.2h-1.4zM104.7 225.3h1.4v1.2h-1.4zM107.0 225.3h1.4v1.2h-1.4zM108.2 225.3h1.4v1.2h-1.4zM109.4 225.3h1.4v1.2h-1.4zM110.6 225.3h1.4v1.2h-1.4zM111.8 225.3h1.4v1.2h-1.4zM120.1 225.3h1.4v1.2h-1.4zM121.3 225.3h1.4v1.2h-1.4zM122.5 225.3h1.4v1.2h-1.4zM128.5 225.3h1.4v1.2h-1.4zM130.8 225.3h1.4v1.2h-1.4zM133.2 225.3h1.4v1.2h-1.4zM134.4 225.3h1.4v1.2h-1.4zM135.6 225.3h1.4v1.2h-1.4zM186.8 225.3h1.4v1.2h-1.4zM193.9 225.3h1.4v1.2h-1.4zM195.1 225.3h1.4v1.2h-1.4zM198.7 225.3h1.4v1.2h-1.4zM199.9 225.3h1.4v1.2h-1.4zM201.1 225.3h1.4v1.2h-1.4zM204.7 225.3h1.4v1.2h-1.4zM205.9 225.3h1.4v1.2h-1.4zM211.8 225.3h1.4v1.2h-1.4zM273.7 225.3h1.4v1.2h-1.4zM274.9 225.3h1.4v1.2h-1.4zM304.7 225.3h1.4v1.2h-1.4zM309.4 225.3h1.4v1.2h-1.4zM105.8 224.3h1.4v1.2h-1.4zM108.2 224.3h1.4v1.2h-1.4zM109.4 224.3h1.4v1.2h-1.4zM110.6 224.3h1.4v1.2h-1.4zM113.0 224.3h1.4v1.2h-1.4zM117.7 224.3h1.4v1.2h-1.4zM120.1 224.3h1.4v1.2h-1.4zM121.3 224.3h1.4v1.2h-1.4zM122.5 224.3h1.4v1.2h-1.4zM123.7 224.3h1.4v1.2h-1.4zM124.9 224.3h1.4v1.2h-1.4zM127.3 224.3h1.4v1.2h-1.4zM129.6 224.3h1.4v1.2h-1.4zM130.8 224.3h1.4v1.2h-1.4zM132.0 224.3h1.4v1.2h-1.4zM135.6 224.3h1.4v1.2h-1.4zM188.0 224.3h1.4v1.2h-1.4zM192.8 224.3h1.4v1.2h-1.4zM194.0 224.3h1.4v1.2h-1.4zM201.1 224.3h1.4v1.2h-1.4zM202.3 224.3h1.4v1.2h-1.4zM203.5 224.3h1.4v1.2h-1.4zM207.1 224.3h1.4v1.2h-1.4zM208.3 224.3h1.4v1.2h-1.4zM210.6 224.3h1.4v1.2h-1.4zM211.8 224.3h1.4v1.2h-1.4zM272.6 224.3h1.4v1.2h-1.4zM273.8 224.3h1.4v1.2h-1.4zM275.0 224.3h1.4v1.2h-1.4zM104.6 223.2h1.4v1.2h-1.4zM105.8 223.2h1.4v1.2h-1.4zM107.0 223.2h1.4v1.2h-1.4zM108.2 223.2h1.4v1.2h-1.4zM109.4 223.2h1.4v1.2h-1.4zM110.6 223.2h1.4v1.2h-1.4zM112.9 223.2h1.4v1.2h-1.4zM114.1 223.2h1.4v1.2h-1.4zM116.5 223.2h1.4v1.2h-1.4zM118.9 223.2h1.4v1.2h-1.4zM120.1 223.2h1.4v1.2h-1.4zM121.3 223.2h1.4v1.2h-1.4zM123.7 223.2h1.4v1.2h-1.4zM126.0 223.2h1.4v1.2h-1.4zM127.2 223.2h1.4v1.2h-1.4zM133.2 223.2h1.4v1.2h-1.4zM136.8 223.2h1.4v1.2h-1.4zM185.6 223.2h1.4v1.2h-1.4zM186.8 223.2h1.4v1.2h-1.4zM188.0 223.2h1.4v1.2h-1.4zM192.8 223.2h1.4v1.2h-1.4zM195.2 223.2h1.4v1.2h-1.4zM196.3 223.2h1.4v1.2h-1.4zM199.9 223.2h1.4v1.2h-1.4zM203.5 223.2h1.4v1.2h-1.4zM205.9 223.2h1.4v1.2h-1.4zM209.5 223.2h1.4v1.2h-1.4zM210.6 223.2h1.4v1.2h-1.4zM271.4 223.2h1.4v1.2h-1.4zM273.8 223.2h1.4v1.2h-1.4zM275.0 223.2h1.4v1.2h-1.4zM280.9 223.2h1.4v1.2h-1.4zM302.4 223.2h1.4v1.2h-1.4zM97.4 222.2h1.4v1.2h-1.4zM103.4 222.2h1.4v1.2h-1.4zM104.6 222.2h1.4v1.2h-1.4zM105.8 222.2h1.4v1.2h-1.4zM107.0 222.2h1.4v1.2h-1.4zM108.2 222.2h1.4v1.2h-1.4zM109.3 222.2h1.4v1.2h-1.4zM110.5 222.2h1.4v1.2h-1.4zM111.7 222.2h1.4v1.2h-1.4zM112.9 222.2h1.4v1.2h-1.4zM114.1 222.2h1.4v1.2h-1.4zM117.7 222.2h1.4v1.2h-1.4zM118.9 222.2h1.4v1.2h-1.4zM122.5 222.2h1.4v1.2h-1.4zM123.7 222.2h1.4v1.2h-1.4zM124.8 222.2h1.4v1.2h-1.4zM127.2 222.2h1.4v1.2h-1.4zM128.4 222.2h1.4v1.2h-1.4zM132.0 222.2h1.4v1.2h-1.4zM184.4 222.2h1.4v1.2h-1.4zM195.2 222.2h1.4v1.2h-1.4zM201.1 222.2h1.4v1.2h-1.4zM203.5 222.2h1.4v1.2h-1.4zM205.9 222.2h1.4v1.2h-1.4zM209.5 222.2h1.4v1.2h-1.4zM211.8 222.2h1.4v1.2h-1.4zM270.2 222.2h1.4v1.2h-1.4zM272.6 222.2h1.4v1.2h-1.4zM273.8 222.2h1.4v1.2h-1.4zM275.0 222.2h1.4v1.2h-1.4zM279.8 222.2h1.4v1.2h-1.4zM281.0 222.2h1.4v1.2h-1.4zM282.2 222.2h1.4v1.2h-1.4zM288.1 222.2h1.4v1.2h-1.4zM98.6 221.2h1.4v1.2h-1.4zM103.4 221.2h1.4v1.2h-1.4zM107.0 221.2h1.4v1.2h-1.4zM108.1 221.2h1.4v1.2h-1.4zM109.3 221.2h1.4v1.2h-1.4zM110.5 221.2h1.4v1.2h-1.4zM111.7 221.2h1.4v1.2h-1.4zM112.9 221.2h1.4v1.2h-1.4zM118.9 221.2h1.4v1.2h-1.4zM122.4 221.2h1.4v1.2h-1.4zM123.6 221.2h1.4v1.2h-1.4zM124.8 221.2h1.4v1.2h-1.4zM128.4 221.2h1.4v1.2h-1.4zM183.2 221.2h1.4v1.2h-1.4zM201.1 221.2h1.4v1.2h-1.4zM202.3 221.2h1.4v1.2h-1.4zM205.9 221.2h1.4v1.2h-1.4zM272.7 221.2h1.4v1.2h-1.4zM273.8 221.2h1.4v1.2h-1.4zM278.6 221.2h1.4v1.2h-1.4zM281.0 221.2h1.4v1.2h-1.4zM282.2 221.2h1.4v1.2h-1.4zM285.8 221.2h1.4v1.2h-1.4zM306.0 221.2h1.4v1.2h-1.4zM87.9 220.2h1.4v1.2h-1.4zM97.4 220.2h1.4v1.2h-1.4zM98.6 220.2h1.4v1.2h-1.4zM101.0 220.2h1.4v1.2h-1.4zM105.7 220.2h1.4v1.2h-1.4zM108.1 220.2h1.4v1.2h-1.4zM109.3 220.2h1.4v1.2h-1.4zM110.5 220.2h1.4v1.2h-1.4zM118.9 220.2h1.4v1.2h-1.4zM122.4 220.2h1.4v1.2h-1.4zM123.6 220.2h1.4v1.2h-1.4zM124.8 220.2h1.4v1.2h-1.4zM128.4 220.2h1.4v1.2h-1.4zM203.5 220.2h1.4v1.2h-1.4zM215.4 220.2h1.4v1.2h-1.4zM271.5 220.2h1.4v1.2h-1.4zM272.7 220.2h1.4v1.2h-1.4zM273.9 220.2h1.4v1.2h-1.4zM278.6 220.2h1.4v1.2h-1.4zM281.0 220.2h1.4v1.2h-1.4zM284.6 220.2h1.4v1.2h-1.4zM285.8 220.2h1.4v1.2h-1.4zM288.2 220.2h1.4v1.2h-1.4zM289.4 220.2h1.4v1.2h-1.4zM296.5 220.2h1.4v1.2h-1.4zM98.6 219.2h1.4v1.2h-1.4zM99.8 219.2h1.4v1.2h-1.4zM106.9 219.2h1.4v1.2h-1.4zM108.1 219.2h1.4v1.2h-1.4zM122.4 219.2h1.4v1.2h-1.4zM123.6 219.2h1.4v1.2h-1.4zM124.8 219.2h1.4v1.2h-1.4zM183.2 219.2h1.4v1.2h-1.4zM184.4 219.2h1.4v1.2h-1.4zM192.8 219.2h1.4v1.2h-1.4zM201.1 219.2h1.4v1.2h-1.4zM208.3 219.2h1.4v1.2h-1.4zM209.5 219.2h1.4v1.2h-1.4zM215.4 219.2h1.4v1.2h-1.4zM279.8 219.2h1.4v1.2h-1.4zM281.0 219.2h1.4v1.2h-1.4zM282.2 219.2h1.4v1.2h-1.4zM284.6 219.2h1.4v1.2h-1.4zM285.8 219.2h1.4v1.2h-1.4zM287.0 219.2h1.4v1.2h-1.4zM289.4 219.2h1.4v1.2h-1.4zM290.6 219.2h1.4v1.2h-1.4zM107.0 218.2h1.4v1.2h-1.4zM108.1 218.2h1.4v1.2h-1.4zM111.7 218.2h1.4v1.2h-1.4zM122.4 218.2h1.4v1.2h-1.4zM123.6 218.2h1.4v1.2h-1.4zM124.8 218.2h1.4v1.2h-1.4zM183.2 218.2h1.4v1.2h-1.4zM184.4 218.2h1.4v1.2h-1.4zM201.1 218.2h1.4v1.2h-1.4zM202.3 218.2h1.4v1.2h-1.4zM207.1 218.2h1.4v1.2h-1.4zM208.3 218.2h1.4v1.2h-1.4zM270.3 218.2h1.4v1.2h-1.4zM271.5 218.2h1.4v1.2h-1.4zM272.7 218.2h1.4v1.2h-1.4zM278.6 218.2h1.4v1.2h-1.4zM279.8 218.2h1.4v1.2h-1.4zM281.0 218.2h1.4v1.2h-1.4zM282.2 218.2h1.4v1.2h-1.4zM285.8 218.2h1.4v1.2h-1.4zM287.0 218.2h1.4v1.2h-1.4zM291.7 218.2h1.4v1.2h-1.4zM107.0 217.2h1.4v1.2h-1.4zM112.9 217.2h1.4v1.2h-1.4zM120.1 217.2h1.4v1.2h-1.4zM123.7 217.2h1.4v1.2h-1.4zM124.8 217.2h1.4v1.2h-1.4zM185.6 217.2h1.4v1.2h-1.4zM188.0 217.2h1.4v1.2h-1.4zM195.2 217.2h1.4v1.2h-1.4zM209.5 217.2h1.4v1.2h-1.4zM270.2 217.2h1.4v1.2h-1.4zM271.4 217.2h1.4v1.2h-1.4zM272.6 217.2h1.4v1.2h-1.4zM286.9 217.2h1.4v1.2h-1.4zM117.7 216.1h1.4v1.2h-1.4zM121.3 216.1h1.4v1.2h-1.4zM123.7 216.1h1.4v1.2h-1.4zM183.2 216.1h1.4v1.2h-1.4zM188.0 216.1h1.4v1.2h-1.4zM189.2 216.1h1.4v1.2h-1.4zM195.2 216.1h1.4v1.2h-1.4zM201.1 216.1h1.4v1.2h-1.4zM203.5 216.1h1.4v1.2h-1.4zM210.6 216.1h1.4v1.2h-1.4zM216.6 216.1h1.4v1.2h-1.4zM219.0 216.1h1.4v1.2h-1.4zM266.6 216.1h1.4v1.2h-1.4zM270.2 216.1h1.4v1.2h-1.4zM271.4 216.1h1.4v1.2h-1.4zM272.6 216.1h1.4v1.2h-1.4zM101.1 215.1h1.4v1.2h-1.4zM117.7 215.1h1.4v1.2h-1.4zM185.6 215.1h1.4v1.2h-1.4zM188.0 215.1h1.4v1.2h-1.4zM202.3 215.1h1.4v1.2h-1.4zM203.5 215.1h1.4v1.2h-1.4zM204.7 215.1h1.4v1.2h-1.4zM207.1 215.1h1.4v1.2h-1.4zM209.4 215.1h1.4v1.2h-1.4zM210.6 215.1h1.4v1.2h-1.4zM213.0 215.1h1.4v1.2h-1.4zM214.2 215.1h1.4v1.2h-1.4zM215.4 215.1h1.4v1.2h-1.4zM270.2 215.1h1.4v1.2h-1.4zM272.6 215.1h1.4v1.2h-1.4zM286.9 215.1h1.4v1.2h-1.4zM114.2 214.1h1.4v1.2h-1.4zM115.4 214.1h1.4v1.2h-1.4zM116.6 214.1h1.4v1.2h-1.4zM118.9 214.1h1.4v1.2h-1.4zM124.9 214.1h1.4v1.2h-1.4zM168.9 214.1h1.4v1.2h-1.4zM170.1 214.1h1.4v1.2h-1.4zM171.3 214.1h1.4v1.2h-1.4zM173.7 214.1h1.4v1.2h-1.4zM184.4 214.1h1.4v1.2h-1.4zM186.8 214.1h1.4v1.2h-1.4zM199.9 214.1h1.4v1.2h-1.4zM201.1 214.1h1.4v1.2h-1.4zM202.3 214.1h1.4v1.2h-1.4zM203.5 214.1h1.4v1.2h-1.4zM204.7 214.1h1.4v1.2h-1.4zM205.9 214.1h1.4v1.2h-1.4zM208.2 214.1h1.4v1.2h-1.4zM213.0 214.1h1.4v1.2h-1.4zM214.2 214.1h1.4v1.2h-1.4zM216.6 214.1h1.4v1.2h-1.4zM217.8 214.1h1.4v1.2h-1.4zM271.3 214.1h1.4v1.2h-1.4zM105.9 213.1h1.4v1.2h-1.4zM108.3 213.1h1.4v1.2h-1.4zM110.6 213.1h1.4v1.2h-1.4zM111.8 213.1h1.4v1.2h-1.4zM113.0 213.1h1.4v1.2h-1.4zM114.2 213.1h1.4v1.2h-1.4zM164.2 213.1h1.4v1.2h-1.4zM168.9 213.1h1.4v1.2h-1.4zM170.1 213.1h1.4v1.2h-1.4zM172.5 213.1h1.4v1.2h-1.4zM173.7 213.1h1.4v1.2h-1.4zM174.9 213.1h1.4v1.2h-1.4zM176.1 213.1h1.4v1.2h-1.4zM177.3 213.1h1.4v1.2h-1.4zM178.5 213.1h1.4v1.2h-1.4zM185.6 213.1h1.4v1.2h-1.4zM186.8 213.1h1.4v1.2h-1.4zM202.3 213.1h1.4v1.2h-1.4zM203.5 213.1h1.4v1.2h-1.4zM204.7 213.1h1.4v1.2h-1.4zM205.8 213.1h1.4v1.2h-1.4zM207.0 213.1h1.4v1.2h-1.4zM208.2 213.1h1.4v1.2h-1.4zM213.0 213.1h1.4v1.2h-1.4zM214.2 213.1h1.4v1.2h-1.4zM215.4 213.1h1.4v1.2h-1.4zM220.1 213.1h1.4v1.2h-1.4zM221.3 213.1h1.4v1.2h-1.4zM271.3 213.1h1.4v1.2h-1.4zM292.7 213.1h1.4v1.2h-1.4zM293.9 213.1h1.4v1.2h-1.4zM105.9 212.1h1.4v1.2h-1.4zM109.5 212.1h1.4v1.2h-1.4zM111.9 212.1h1.4v1.2h-1.4zM114.2 212.1h1.4v1.2h-1.4zM163.0 212.1h1.4v1.2h-1.4zM171.3 212.1h1.4v1.2h-1.4zM172.5 212.1h1.4v1.2h-1.4zM173.7 212.1h1.4v1.2h-1.4zM174.9 212.1h1.4v1.2h-1.4zM178.5 212.1h1.4v1.2h-1.4zM182.0 212.1h1.4v1.2h-1.4zM184.4 212.1h1.4v1.2h-1.4zM185.6 212.1h1.4v1.2h-1.4zM186.8 212.1h1.4v1.2h-1.4zM189.2 212.1h1.4v1.2h-1.4zM193.9 212.1h1.4v1.2h-1.4zM202.3 212.1h1.4v1.2h-1.4zM205.8 212.1h1.4v1.2h-1.4zM207.0 212.1h1.4v1.2h-1.4zM214.2 212.1h1.4v1.2h-1.4zM215.3 212.1h1.4v1.2h-1.4zM220.1 212.1h1.4v1.2h-1.4zM221.3 212.1h1.4v1.2h-1.4zM251.0 212.1h1.4v1.2h-1.4zM252.2 212.1h1.4v1.2h-1.4zM268.9 212.1h1.4v1.2h-1.4zM270.1 212.1h1.4v1.2h-1.4zM271.2 212.1h1.4v1.2h-1.4zM291.5 212.1h1.4v1.2h-1.4zM292.7 212.1h1.4v1.2h-1.4zM96.4 211.1h1.4v1.2h-1.4zM110.7 211.1h1.4v1.2h-1.4zM111.9 211.1h1.4v1.2h-1.4zM169.0 211.1h1.4v1.2h-1.4zM172.5 211.1h1.4v1.2h-1.4zM173.7 211.1h1.4v1.2h-1.4zM178.5 211.1h1.4v1.2h-1.4zM179.7 211.1h1.4v1.2h-1.4zM183.2 211.1h1.4v1.2h-1.4zM185.6 211.1h1.4v1.2h-1.4zM199.9 211.1h1.4v1.2h-1.4zM202.2 211.1h1.4v1.2h-1.4zM205.8 211.1h1.4v1.2h-1.4zM212.9 211.1h1.4v1.2h-1.4zM214.1 211.1h1.4v1.2h-1.4zM215.3 211.1h1.4v1.2h-1.4zM216.5 211.1h1.4v1.2h-1.4zM217.7 211.1h1.4v1.2h-1.4zM220.1 211.1h1.4v1.2h-1.4zM252.2 211.1h1.4v1.2h-1.4zM268.8 211.1h1.4v1.2h-1.4zM270.0 211.1h1.4v1.2h-1.4zM285.4 211.1h1.4v1.2h-1.4zM292.6 211.1h1.4v1.2h-1.4zM293.8 211.1h1.4v1.2h-1.4zM295.0 211.1h1.4v1.2h-1.4zM95.3 210.1h1.4v1.2h-1.4zM101.2 210.1h1.4v1.2h-1.4zM102.4 210.1h1.4v1.2h-1.4zM103.6 210.1h1.4v1.2h-1.4zM104.8 210.1h1.4v1.2h-1.4zM106.0 210.1h1.4v1.2h-1.4zM110.8 210.1h1.4v1.2h-1.4zM111.9 210.1h1.4v1.2h-1.4zM113.1 210.1h1.4v1.2h-1.4zM114.3 210.1h1.4v1.2h-1.4zM115.5 210.1h1.4v1.2h-1.4zM161.8 210.1h1.4v1.2h-1.4zM163.0 210.1h1.4v1.2h-1.4zM164.2 210.1h1.4v1.2h-1.4zM165.4 210.1h1.4v1.2h-1.4zM177.3 210.1h1.4v1.2h-1.4zM178.5 210.1h1.4v1.2h-1.4zM180.8 210.1h1.4v1.2h-1.4zM182.0 210.1h1.4v1.2h-1.4zM183.2 210.1h1.4v1.2h-1.4zM184.4 210.1h1.4v1.2h-1.4zM185.6 210.1h1.4v1.2h-1.4zM193.9 210.1h1.4v1.2h-1.4zM198.7 210.1h1.4v1.2h-1.4zM207.0 210.1h1.4v1.2h-1.4zM212.9 210.1h1.4v1.2h-1.4zM214.1 210.1h1.4v1.2h-1.4zM215.3 210.1h1.4v1.2h-1.4zM216.5 210.1h1.4v1.2h-1.4zM217.7 210.1h1.4v1.2h-1.4zM218.9 210.1h1.4v1.2h-1.4zM248.6 210.1h1.4v1.2h-1.4zM267.6 210.1h1.4v1.2h-1.4zM268.7 210.1h1.4v1.2h-1.4zM274.7 210.1h1.4v1.2h-1.4zM292.5 210.1h1.4v1.2h-1.4zM107.2 209.1h1.4v1.2h-1.4zM109.6 209.1h1.4v1.2h-1.4zM110.8 209.1h1.4v1.2h-1.4zM112.0 209.1h1.4v1.2h-1.4zM114.4 209.1h1.4v1.2h-1.4zM161.8 209.1h1.4v1.2h-1.4zM163.0 209.1h1.4v1.2h-1.4zM164.2 209.1h1.4v1.2h-1.4zM169.0 209.1h1.4v1.2h-1.4zM174.9 209.1h1.4v1.2h-1.4zM176.1 209.1h1.4v1.2h-1.4zM177.3 209.1h1.4v1.2h-1.4zM180.8 209.1h1.4v1.2h-1.4zM182.0 209.1h1.4v1.2h-1.4zM183.2 209.1h1.4v1.2h-1.4zM190.3 209.1h1.4v1.2h-1.4zM191.5 209.1h1.4v1.2h-1.4zM193.9 209.1h1.4v1.2h-1.4zM195.1 209.1h1.4v1.2h-1.4zM197.5 209.1h1.4v1.2h-1.4zM201.0 209.1h1.4v1.2h-1.4zM202.2 209.1h1.4v1.2h-1.4zM204.6 209.1h1.4v1.2h-1.4zM205.8 209.1h1.4v1.2h-1.4zM208.1 209.1h1.4v1.2h-1.4zM209.3 209.1h1.4v1.2h-1.4zM212.9 209.1h1.4v1.2h-1.4zM215.3 209.1h1.4v1.2h-1.4zM216.4 209.1h1.4v1.2h-1.4zM217.6 209.1h1.4v1.2h-1.4zM218.8 209.1h1.4v1.2h-1.4zM249.7 209.1h1.4v1.2h-1.4zM268.7 209.1h1.4v1.2h-1.4zM274.6 209.1h1.4v1.2h-1.4zM291.2 209.1h1.4v1.2h-1.4zM293.6 209.1h1.4v1.2h-1.4zM102.6 208.0h1.4v1.2h-1.4zM103.7 208.0h1.4v1.2h-1.4zM110.9 208.0h1.4v1.2h-1.4zM112.0 208.0h1.4v1.2h-1.4zM114.4 208.0h1.4v1.2h-1.4zM116.8 208.0h1.4v1.2h-1.4zM160.7 208.0h1.4v1.2h-1.4zM169.0 208.0h1.4v1.2h-1.4zM173.7 208.0h1.4v1.2h-1.4zM174.9 208.0h1.4v1.2h-1.4zM176.1 208.0h1.4v1.2h-1.4zM178.5 208.0h1.4v1.2h-1.4zM179.6 208.0h1.4v1.2h-1.4zM183.2 208.0h1.4v1.2h-1.4zM184.4 208.0h1.4v1.2h-1.4zM186.8 208.0h1.4v1.2h-1.4zM191.5 208.0h1.4v1.2h-1.4zM197.4 208.0h1.4v1.2h-1.4zM198.6 208.0h1.4v1.2h-1.4zM199.8 208.0h1.4v1.2h-1.4zM201.0 208.0h1.4v1.2h-1.4zM202.2 208.0h1.4v1.2h-1.4zM203.4 208.0h1.4v1.2h-1.4zM205.7 208.0h1.4v1.2h-1.4zM206.9 208.0h1.4v1.2h-1.4zM208.1 208.0h1.4v1.2h-1.4zM210.5 208.0h1.4v1.2h-1.4zM212.9 208.0h1.4v1.2h-1.4zM220.0 208.0h1.4v1.2h-1.4zM221.2 208.0h1.4v1.2h-1.4zM246.1 208.0h1.4v1.2h-1.4zM248.4 208.0h1.4v1.2h-1.4zM249.6 208.0h1.4v1.2h-1.4zM291.1 208.0h1.4v1.2h-1.4zM293.5 208.0h1.4v1.2h-1.4zM105.0 207.0h1.4v1.2h-1.4zM166.6 207.0h1.4v1.2h-1.4zM167.8 207.0h1.4v1.2h-1.4zM169.0 207.0h1.4v1.2h-1.4zM173.7 207.0h1.4v1.2h-1.4zM176.1 207.0h1.4v1.2h-1.4zM177.3 207.0h1.4v1.2h-1.4zM178.5 207.0h1.4v1.2h-1.4zM179.6 207.0h1.4v1.2h-1.4zM182.0 207.0h1.4v1.2h-1.4zM183.2 207.0h1.4v1.2h-1.4zM184.4 207.0h1.4v1.2h-1.4zM185.6 207.0h1.4v1.2h-1.4zM186.8 207.0h1.4v1.2h-1.4zM187.9 207.0h1.4v1.2h-1.4zM189.1 207.0h1.4v1.2h-1.4zM191.5 207.0h1.4v1.2h-1.4zM192.7 207.0h1.4v1.2h-1.4zM193.9 207.0h1.4v1.2h-1.4zM195.0 207.0h1.4v1.2h-1.4zM196.2 207.0h1.4v1.2h-1.4zM197.4 207.0h1.4v1.2h-1.4zM198.6 207.0h1.4v1.2h-1.4zM199.8 207.0h1.4v1.2h-1.4zM201.0 207.0h1.4v1.2h-1.4zM202.2 207.0h1.4v1.2h-1.4zM203.3 207.0h1.4v1.2h-1.4zM204.5 207.0h1.4v1.2h-1.4zM205.7 207.0h1.4v1.2h-1.4zM206.9 207.0h1.4v1.2h-1.4zM208.1 207.0h1.4v1.2h-1.4zM209.3 207.0h1.4v1.2h-1.4zM210.5 207.0h1.4v1.2h-1.4zM214.0 207.0h1.4v1.2h-1.4zM215.2 207.0h1.4v1.2h-1.4zM221.1 207.0h1.4v1.2h-1.4zM222.3 207.0h1.4v1.2h-1.4zM248.4 207.0h1.4v1.2h-1.4zM93.2 206.0h1.4v1.2h-1.4zM165.4 206.0h1.4v1.2h-1.4zM176.1 206.0h1.4v1.2h-1.4zM177.3 206.0h1.4v1.2h-1.4zM178.5 206.0h1.4v1.2h-1.4zM179.6 206.0h1.4v1.2h-1.4zM180.8 206.0h1.4v1.2h-1.4zM182.0 206.0h1.4v1.2h-1.4zM183.2 206.0h1.4v1.2h-1.4zM184.4 206.0h1.4v1.2h-1.4zM185.6 206.0h1.4v1.2h-1.4zM186.7 206.0h1.4v1.2h-1.4zM187.9 206.0h1.4v1.2h-1.4zM189.1 206.0h1.4v1.2h-1.4zM190.3 206.0h1.4v1.2h-1.4zM192.7 206.0h1.4v1.2h-1.4zM193.8 206.0h1.4v1.2h-1.4zM195.0 206.0h1.4v1.2h-1.4zM196.2 206.0h1.4v1.2h-1.4zM197.4 206.0h1.4v1.2h-1.4zM198.6 206.0h1.4v1.2h-1.4zM199.8 206.0h1.4v1.2h-1.4zM202.1 206.0h1.4v1.2h-1.4zM203.3 206.0h1.4v1.2h-1.4zM205.7 206.0h1.4v1.2h-1.4zM206.9 206.0h1.4v1.2h-1.4zM208.0 206.0h1.4v1.2h-1.4zM209.2 206.0h1.4v1.2h-1.4zM210.4 206.0h1.4v1.2h-1.4zM211.6 206.0h1.4v1.2h-1.4zM214.0 206.0h1.4v1.2h-1.4zM215.2 206.0h1.4v1.2h-1.4zM223.4 206.0h1.4v1.2h-1.4zM224.6 206.0h1.4v1.2h-1.4zM248.3 206.0h1.4v1.2h-1.4zM249.5 206.0h1.4v1.2h-1.4zM270.8 206.0h1.4v1.2h-1.4zM272.0 206.0h1.4v1.2h-1.4zM92.1 205.0h1.4v1.2h-1.4zM93.3 205.0h1.4v1.2h-1.4zM158.3 205.0h1.4v1.2h-1.4zM165.4 205.0h1.4v1.2h-1.4zM166.6 205.0h1.4v1.2h-1.4zM178.4 205.0h1.4v1.2h-1.4zM179.6 205.0h1.4v1.2h-1.4zM180.8 205.0h1.4v1.2h-1.4zM183.2 205.0h1.4v1.2h-1.4zM184.4 205.0h1.4v1.2h-1.4zM185.5 205.0h1.4v1.2h-1.4zM186.7 205.0h1.4v1.2h-1.4zM190.3 205.0h1.4v1.2h-1.4zM191.5 205.0h1.4v1.2h-1.4zM196.2 205.0h1.4v1.2h-1.4zM197.4 205.0h1.4v1.2h-1.4zM198.6 205.0h1.4v1.2h-1.4zM199.7 205.0h1.4v1.2h-1.4zM200.9 205.0h1.4v1.2h-1.4zM202.1 205.0h1.4v1.2h-1.4zM204.5 205.0h1.4v1.2h-1.4zM208.0 205.0h1.4v1.2h-1.4zM209.2 205.0h1.4v1.2h-1.4zM210.4 205.0h1.4v1.2h-1.4zM211.6 205.0h1.4v1.2h-1.4zM213.9 205.0h1.4v1.2h-1.4zM248.2 205.0h1.4v1.2h-1.4zM249.4 205.0h1.4v1.2h-1.4zM270.7 205.0h1.4v1.2h-1.4zM273.1 205.0h1.4v1.2h-1.4zM289.6 205.0h1.4v1.2h-1.4zM290.8 205.0h1.4v1.2h-1.4zM88.7 204.0h1.4v1.2h-1.4zM92.2 204.0h1.4v1.2h-1.4zM93.4 204.0h1.4v1.2h-1.4zM94.6 204.0h1.4v1.2h-1.4zM95.8 204.0h1.4v1.2h-1.4zM151.3 204.0h1.4v1.2h-1.4zM160.7 204.0h1.4v1.2h-1.4zM161.9 204.0h1.4v1.2h-1.4zM167.8 204.0h1.4v1.2h-1.4zM169.0 204.0h1.4v1.2h-1.4zM178.4 204.0h1.4v1.2h-1.4zM179.6 204.0h1.4v1.2h-1.4zM182.0 204.0h1.4v1.2h-1.4zM183.2 204.0h1.4v1.2h-1.4zM184.3 204.0h1.4v1.2h-1.4zM185.5 204.0h1.4v1.2h-1.4zM189.1 204.0h1.4v1.2h-1.4zM190.3 204.0h1.4v1.2h-1.4zM197.3 204.0h1.4v1.2h-1.4zM198.5 204.0h1.4v1.2h-1.4zM199.7 204.0h1.4v1.2h-1.4zM200.9 204.0h1.4v1.2h-1.4zM203.2 204.0h1.4v1.2h-1.4zM204.4 204.0h1.4v1.2h-1.4zM205.6 204.0h1.4v1.2h-1.4zM206.8 204.0h1.4v1.2h-1.4zM208.0 204.0h1.4v1.2h-1.4zM210.3 204.0h1.4v1.2h-1.4zM215.1 204.0h1.4v1.2h-1.4zM219.8 204.0h1.4v1.2h-1.4zM247.0 204.0h1.4v1.2h-1.4zM249.3 204.0h1.4v1.2h-1.4zM250.5 204.0h1.4v1.2h-1.4zM267.0 204.0h1.4v1.2h-1.4zM268.2 204.0h1.4v1.2h-1.4zM269.4 204.0h1.4v1.2h-1.4zM271.8 204.0h1.4v1.2h-1.4zM272.9 204.0h1.4v1.2h-1.4zM274.1 204.0h1.4v1.2h-1.4zM289.5 204.0h1.4v1.2h-1.4zM90.0 203.0h1.4v1.2h-1.4zM94.7 203.0h1.4v1.2h-1.4zM161.9 203.0h1.4v1.2h-1.4zM165.5 203.0h1.4v1.2h-1.4zM167.8 203.0h1.4v1.2h-1.4zM180.8 203.0h1.4v1.2h-1.4zM187.9 203.0h1.4v1.2h-1.4zM190.2 203.0h1.4v1.2h-1.4zM196.1 203.0h1.4v1.2h-1.4zM198.5 203.0h1.4v1.2h-1.4zM199.7 203.0h1.4v1.2h-1.4zM215.0 203.0h1.4v1.2h-1.4zM216.2 203.0h1.4v1.2h-1.4zM218.5 203.0h1.4v1.2h-1.4zM219.7 203.0h1.4v1.2h-1.4zM220.9 203.0h1.4v1.2h-1.4zM223.3 203.0h1.4v1.2h-1.4zM245.7 203.0h1.4v1.2h-1.4zM246.9 203.0h1.4v1.2h-1.4zM248.0 203.0h1.4v1.2h-1.4zM249.2 203.0h1.4v1.2h-1.4zM250.4 203.0h1.4v1.2h-1.4zM268.1 203.0h1.4v1.2h-1.4zM271.6 203.0h1.4v1.2h-1.4zM272.8 203.0h1.4v1.2h-1.4zM274.0 203.0h1.4v1.2h-1.4zM275.2 203.0h1.4v1.2h-1.4zM276.4 203.0h1.4v1.2h-1.4zM289.3 203.0h1.4v1.2h-1.4zM84.2 202.0h1.4v1.2h-1.4zM85.4 202.0h1.4v1.2h-1.4zM87.7 202.0h1.4v1.2h-1.4zM151.3 202.0h1.4v1.2h-1.4zM152.5 202.0h1.4v1.2h-1.4zM158.4 202.0h1.4v1.2h-1.4zM213.8 202.0h1.4v1.2h-1.4zM216.1 202.0h1.4v1.2h-1.4zM217.3 202.0h1.4v1.2h-1.4zM218.5 202.0h1.4v1.2h-1.4zM219.7 202.0h1.4v1.2h-1.4zM220.8 202.0h1.4v1.2h-1.4zM244.4 202.0h1.4v1.2h-1.4zM246.8 202.0h1.4v1.2h-1.4zM249.1 202.0h1.4v1.2h-1.4zM250.3 202.0h1.4v1.2h-1.4zM265.6 202.0h1.4v1.2h-1.4zM270.3 202.0h1.4v1.2h-1.4zM271.5 202.0h1.4v1.2h-1.4zM273.9 202.0h1.4v1.2h-1.4zM275.0 202.0h1.4v1.2h-1.4zM276.2 202.0h1.4v1.2h-1.4zM79.6 201.0h1.4v1.2h-1.4zM80.8 201.0h1.4v1.2h-1.4zM82.0 201.0h1.4v1.2h-1.4zM85.5 201.0h1.4v1.2h-1.4zM150.2 201.0h1.4v1.2h-1.4zM164.3 201.0h1.4v1.2h-1.4zM165.5 201.0h1.4v1.2h-1.4zM190.2 201.0h1.4v1.2h-1.4zM213.7 201.0h1.4v1.2h-1.4zM217.2 201.0h1.4v1.2h-1.4zM223.1 201.0h1.4v1.2h-1.4zM245.5 201.0h1.4v1.2h-1.4zM246.7 201.0h1.4v1.2h-1.4zM263.1 201.0h1.4v1.2h-1.4zM264.3 201.0h1.4v1.2h-1.4zM265.5 201.0h1.4v1.2h-1.4zM266.7 201.0h1.4v1.2h-1.4zM271.4 201.0h1.4v1.2h-1.4zM272.5 201.0h1.4v1.2h-1.4zM273.7 201.0h1.4v1.2h-1.4zM274.9 201.0h1.4v1.2h-1.4zM82.1 199.9h1.4v1.2h-1.4zM84.5 199.9h1.4v1.2h-1.4zM105.6 199.9h1.4v1.2h-1.4zM106.8 199.9h1.4v1.2h-1.4zM111.5 199.9h1.4v1.2h-1.4zM112.6 199.9h1.4v1.2h-1.4zM160.8 199.9h1.4v1.2h-1.4zM166.7 199.9h1.4v1.2h-1.4zM219.5 199.9h1.4v1.2h-1.4zM223.1 199.9h1.4v1.2h-1.4zM244.2 199.9h1.4v1.2h-1.4zM263.0 199.9h1.4v1.2h-1.4zM264.2 199.9h1.4v1.2h-1.4zM265.3 199.9h1.4v1.2h-1.4zM266.5 199.9h1.4v1.2h-1.4zM268.9 199.9h1.4v1.2h-1.4zM272.4 199.9h1.4v1.2h-1.4zM273.6 199.9h1.4v1.2h-1.4zM81.1 198.9h1.4v1.2h-1.4zM105.7 198.9h1.4v1.2h-1.4zM165.5 198.9h1.4v1.2h-1.4zM166.7 198.9h1.4v1.2h-1.4zM227.7 198.9h1.4v1.2h-1.4zM244.1 198.9h1.4v1.2h-1.4zM250.0 198.9h1.4v1.2h-1.4zM251.1 198.9h1.4v1.2h-1.4zM254.6 198.9h1.4v1.2h-1.4zM264.0 198.9h1.4v1.2h-1.4zM265.2 198.9h1.4v1.2h-1.4zM266.4 198.9h1.4v1.2h-1.4zM267.5 198.9h1.4v1.2h-1.4zM268.7 198.9h1.4v1.2h-1.4zM269.9 198.9h1.4v1.2h-1.4zM273.4 198.9h1.4v1.2h-1.4zM276.9 198.9h1.4v1.2h-1.4zM278.1 198.9h1.4v1.2h-1.4zM78.9 197.9h1.4v1.2h-1.4zM80.1 197.9h1.4v1.2h-1.4zM81.2 197.9h1.4v1.2h-1.4zM91.8 197.9h1.4v1.2h-1.4zM92.9 197.9h1.4v1.2h-1.4zM103.5 197.9h1.4v1.2h-1.4zM159.7 197.9h1.4v1.2h-1.4zM166.7 197.9h1.4v1.2h-1.4zM174.9 197.9h1.4v1.2h-1.4zM218.2 197.9h1.4v1.2h-1.4zM242.8 197.9h1.4v1.2h-1.4zM248.7 197.9h1.4v1.2h-1.4zM251.0 197.9h1.4v1.2h-1.4zM254.5 197.9h1.4v1.2h-1.4zM263.9 197.9h1.4v1.2h-1.4zM265.1 197.9h1.4v1.2h-1.4zM266.2 197.9h1.4v1.2h-1.4zM267.4 197.9h1.4v1.2h-1.4zM268.6 197.9h1.4v1.2h-1.4zM269.7 197.9h1.4v1.2h-1.4zM273.2 197.9h1.4v1.2h-1.4zM277.9 197.9h1.4v1.2h-1.4zM79.0 196.9h1.4v1.2h-1.4zM80.2 196.9h1.4v1.2h-1.4zM93.1 196.9h1.4v1.2h-1.4zM101.3 196.9h1.4v1.2h-1.4zM102.4 196.9h1.4v1.2h-1.4zM103.6 196.9h1.4v1.2h-1.4zM160.9 196.9h1.4v1.2h-1.4zM174.9 196.9h1.4v1.2h-1.4zM176.1 196.9h1.4v1.2h-1.4zM188.9 196.9h1.4v1.2h-1.4zM221.7 196.9h1.4v1.2h-1.4zM228.7 196.9h1.4v1.2h-1.4zM240.4 196.9h1.4v1.2h-1.4zM242.7 196.9h1.4v1.2h-1.4zM247.4 196.9h1.4v1.2h-1.4zM252.0 196.9h1.4v1.2h-1.4zM253.2 196.9h1.4v1.2h-1.4zM254.4 196.9h1.4v1.2h-1.4zM255.6 196.9h1.4v1.2h-1.4zM262.6 196.9h1.4v1.2h-1.4zM264.9 196.9h1.4v1.2h-1.4zM267.2 196.9h1.4v1.2h-1.4zM268.4 196.9h1.4v1.2h-1.4zM273.1 196.9h1.4v1.2h-1.4zM274.3 196.9h1.4v1.2h-1.4zM275.4 196.9h1.4v1.2h-1.4zM276.6 196.9h1.4v1.2h-1.4zM277.8 196.9h1.4v1.2h-1.4zM25.5 195.9h1.4v1.2h-1.4zM80.4 195.9h1.4v1.2h-1.4zM81.5 195.9h1.4v1.2h-1.4zM94.4 195.9h1.4v1.2h-1.4zM99.0 195.9h1.4v1.2h-1.4zM100.2 195.9h1.4v1.2h-1.4zM106.0 195.9h1.4v1.2h-1.4zM162.1 195.9h1.4v1.2h-1.4zM163.2 195.9h1.4v1.2h-1.4zM167.9 195.9h1.4v1.2h-1.4zM174.9 195.9h1.4v1.2h-1.4zM176.1 195.9h1.4v1.2h-1.4zM206.4 195.9h1.4v1.2h-1.4zM219.2 195.9h1.4v1.2h-1.4zM229.7 195.9h1.4v1.2h-1.4zM239.1 195.9h1.4v1.2h-1.4zM241.4 195.9h1.4v1.2h-1.4zM246.1 195.9h1.4v1.2h-1.4zM248.4 195.9h1.4v1.2h-1.4zM253.1 195.9h1.4v1.2h-1.4zM254.3 195.9h1.4v1.2h-1.4zM255.4 195.9h1.4v1.2h-1.4zM256.6 195.9h1.4v1.2h-1.4zM258.9 195.9h1.4v1.2h-1.4zM264.8 195.9h1.4v1.2h-1.4zM265.9 195.9h1.4v1.2h-1.4zM267.1 195.9h1.4v1.2h-1.4zM268.3 195.9h1.4v1.2h-1.4zM272.9 195.9h1.4v1.2h-1.4zM276.4 195.9h1.4v1.2h-1.4zM277.6 195.9h1.4v1.2h-1.4zM278.8 195.9h1.4v1.2h-1.4zM279.9 195.9h1.4v1.2h-1.4zM72.4 194.9h1.4v1.2h-1.4zM80.5 194.9h1.4v1.2h-1.4zM81.7 194.9h1.4v1.2h-1.4zM96.8 194.9h1.4v1.2h-1.4zM98.0 194.9h1.4v1.2h-1.4zM99.2 194.9h1.4v1.2h-1.4zM160.9 194.9h1.4v1.2h-1.4zM162.1 194.9h1.4v1.2h-1.4zM219.2 194.9h1.4v1.2h-1.4zM220.3 194.9h1.4v1.2h-1.4zM241.3 194.9h1.4v1.2h-1.4zM243.6 194.9h1.4v1.2h-1.4zM244.8 194.9h1.4v1.2h-1.4zM247.1 194.9h1.4v1.2h-1.4zM253.0 194.9h1.4v1.2h-1.4zM254.1 194.9h1.4v1.2h-1.4zM255.3 194.9h1.4v1.2h-1.4zM256.4 194.9h1.4v1.2h-1.4zM258.8 194.9h1.4v1.2h-1.4zM278.6 194.9h1.4v1.2h-1.4zM280.9 194.9h1.4v1.2h-1.4zM282.1 194.9h1.4v1.2h-1.4zM283.2 194.9h1.4v1.2h-1.4zM71.4 193.9h1.4v1.2h-1.4zM80.7 193.9h1.4v1.2h-1.4zM81.9 193.9h1.4v1.2h-1.4zM83.0 193.9h1.4v1.2h-1.4zM104.0 193.9h1.4v1.2h-1.4zM159.8 193.9h1.4v1.2h-1.4zM160.9 193.9h1.4v1.2h-1.4zM162.1 193.9h1.4v1.2h-1.4zM163.3 193.9h1.4v1.2h-1.4zM169.1 193.9h1.4v1.2h-1.4zM207.5 193.9h1.4v1.2h-1.4zM221.4 193.9h1.4v1.2h-1.4zM240.0 193.9h1.4v1.2h-1.4zM241.2 193.9h1.4v1.2h-1.4zM245.8 193.9h1.4v1.2h-1.4zM247.0 193.9h1.4v1.2h-1.4zM248.2 193.9h1.4v1.2h-1.4zM255.1 193.9h1.4v1.2h-1.4zM256.3 193.9h1.4v1.2h-1.4zM257.5 193.9h1.4v1.2h-1.4zM258.6 193.9h1.4v1.2h-1.4zM259.8 193.9h1.4v1.2h-1.4zM265.6 193.9h1.4v1.2h-1.4zM269.1 193.9h1.4v1.2h-1.4zM272.6 193.9h1.4v1.2h-1.4zM281.9 193.9h1.4v1.2h-1.4zM283.0 193.9h1.4v1.2h-1.4zM70.4 192.9h1.4v1.2h-1.4zM71.6 192.9h1.4v1.2h-1.4zM75.1 192.9h1.4v1.2h-1.4zM83.2 192.9h1.4v1.2h-1.4zM99.5 192.9h1.4v1.2h-1.4zM161.0 192.9h1.4v1.2h-1.4zM162.1 192.9h1.4v1.2h-1.4zM164.5 192.9h1.4v1.2h-1.4zM165.6 192.9h1.4v1.2h-1.4zM166.8 192.9h1.4v1.2h-1.4zM169.1 192.9h1.4v1.2h-1.4zM206.2 192.9h1.4v1.2h-1.4zM219.0 192.9h1.4v1.2h-1.4zM220.2 192.9h1.4v1.2h-1.4zM238.7 192.9h1.4v1.2h-1.4zM239.9 192.9h1.4v1.2h-1.4zM242.2 192.9h1.4v1.2h-1.4zM243.4 192.9h1.4v1.2h-1.4zM244.5 192.9h1.4v1.2h-1.4zM245.7 192.9h1.4v1.2h-1.4zM246.9 192.9h1.4v1.2h-1.4zM256.1 192.9h1.4v1.2h-1.4zM257.3 192.9h1.4v1.2h-1.4zM258.5 192.9h1.4v1.2h-1.4zM259.6 192.9h1.4v1.2h-1.4zM260.8 192.9h1.4v1.2h-1.4zM279.4 192.9h1.4v1.2h-1.4zM280.5 192.9h1.4v1.2h-1.4zM286.3 192.9h1.4v1.2h-1.4zM71.8 191.8h1.4v1.2h-1.4zM73.0 191.8h1.4v1.2h-1.4zM74.1 191.8h1.4v1.2h-1.4zM75.3 191.8h1.4v1.2h-1.4zM82.3 191.8h1.4v1.2h-1.4zM84.6 191.8h1.4v1.2h-1.4zM99.6 191.8h1.4v1.2h-1.4zM103.1 191.8h1.4v1.2h-1.4zM161.0 191.8h1.4v1.2h-1.4zM163.3 191.8h1.4v1.2h-1.4zM164.5 191.8h1.4v1.2h-1.4zM166.8 191.8h1.4v1.2h-1.4zM168.0 191.8h1.4v1.2h-1.4zM206.2 191.8h1.4v1.2h-1.4zM231.6 191.8h1.4v1.2h-1.4zM232.8 191.8h1.4v1.2h-1.4zM234.0 191.8h1.4v1.2h-1.4zM235.1 191.8h1.4v1.2h-1.4zM237.4 191.8h1.4v1.2h-1.4zM240.9 191.8h1.4v1.2h-1.4zM242.1 191.8h1.4v1.2h-1.4zM244.4 191.8h1.4v1.2h-1.4zM245.5 191.8h1.4v1.2h-1.4zM246.7 191.8h1.4v1.2h-1.4zM249.0 191.8h1.4v1.2h-1.4zM250.2 191.8h1.4v1.2h-1.4zM257.1 191.8h1.4v1.2h-1.4zM259.4 191.8h1.4v1.2h-1.4zM271.0 191.8h1.4v1.2h-1.4zM272.2 191.8h1.4v1.2h-1.4zM273.3 191.8h1.4v1.2h-1.4zM74.4 190.8h1.4v1.2h-1.4zM83.6 190.8h1.4v1.2h-1.4zM103.3 190.8h1.4v1.2h-1.4zM164.5 190.8h1.4v1.2h-1.4zM165.7 190.8h1.4v1.2h-1.4zM166.8 190.8h1.4v1.2h-1.4zM176.1 190.8h1.4v1.2h-1.4zM177.2 190.8h1.4v1.2h-1.4zM178.4 190.8h1.4v1.2h-1.4zM179.5 190.8h1.4v1.2h-1.4zM180.7 190.8h1.4v1.2h-1.4zM199.2 190.8h1.4v1.2h-1.4zM216.5 190.8h1.4v1.2h-1.4zM218.8 190.8h1.4v1.2h-1.4zM233.8 190.8h1.4v1.2h-1.4zM235.0 190.8h1.4v1.2h-1.4zM239.6 190.8h1.4v1.2h-1.4zM240.8 190.8h1.4v1.2h-1.4zM243.1 190.8h1.4v1.2h-1.4zM252.3 190.8h1.4v1.2h-1.4zM255.8 190.8h1.4v1.2h-1.4zM256.9 190.8h1.4v1.2h-1.4zM270.8 190.8h1.4v1.2h-1.4zM272.0 190.8h1.4v1.2h-1.4zM273.1 190.8h1.4v1.2h-1.4zM274.3 190.8h1.4v1.2h-1.4zM275.4 190.8h1.4v1.2h-1.4zM281.2 190.8h1.4v1.2h-1.4zM80.4 189.8h1.4v1.2h-1.4zM82.7 189.8h1.4v1.2h-1.4zM85.0 189.8h1.4v1.2h-1.4zM161.1 189.8h1.4v1.2h-1.4zM162.2 189.8h1.4v1.2h-1.4zM164.5 189.8h1.4v1.2h-1.4zM168.0 189.8h1.4v1.2h-1.4zM169.1 189.8h1.4v1.2h-1.4zM177.2 189.8h1.4v1.2h-1.4zM178.4 189.8h1.4v1.2h-1.4zM179.5 189.8h1.4v1.2h-1.4zM180.7 189.8h1.4v1.2h-1.4zM181.8 189.8h1.4v1.2h-1.4zM183.0 189.8h1.4v1.2h-1.4zM186.4 189.8h1.4v1.2h-1.4zM188.7 189.8h1.4v1.2h-1.4zM189.9 189.8h1.4v1.2h-1.4zM195.6 189.8h1.4v1.2h-1.4zM196.8 189.8h1.4v1.2h-1.4zM198.0 189.8h1.4v1.2h-1.4zM199.1 189.8h1.4v1.2h-1.4zM200.3 189.8h1.4v1.2h-1.4zM209.5 189.8h1.4v1.2h-1.4zM210.6 189.8h1.4v1.2h-1.4zM214.1 189.8h1.4v1.2h-1.4zM215.2 189.8h1.4v1.2h-1.4zM216.4 189.8h1.4v1.2h-1.4zM233.7 189.8h1.4v1.2h-1.4zM241.8 189.8h1.4v1.2h-1.4zM256.7 189.8h1.4v1.2h-1.4zM262.5 189.8h1.4v1.2h-1.4zM263.7 189.8h1.4v1.2h-1.4zM271.7 189.8h1.4v1.2h-1.4zM272.9 189.8h1.4v1.2h-1.4zM276.3 189.8h1.4v1.2h-1.4zM280.9 189.8h1.4v1.2h-1.4zM282.1 189.8h1.4v1.2h-1.4zM283.2 189.8h1.4v1.2h-1.4zM285.5 189.8h1.4v1.2h-1.4zM77.2 188.8h1.3v1.2h-1.3zM80.6 188.8h1.3v1.2h-1.3zM97.9 188.8h1.3v1.2h-1.3zM158.8 188.8h1.3v1.2h-1.3zM160.0 188.8h1.3v1.2h-1.3zM161.1 188.8h1.3v1.2h-1.3zM166.9 188.8h1.3v1.2h-1.3zM168.0 188.8h1.3v1.2h-1.3zM169.2 188.8h1.3v1.2h-1.3zM170.3 188.8h1.3v1.2h-1.3zM176.0 188.8h1.3v1.2h-1.3zM177.2 188.8h1.3v1.2h-1.3zM178.3 188.8h1.3v1.2h-1.3zM179.5 188.8h1.3v1.2h-1.3zM180.6 188.8h1.3v1.2h-1.3zM181.8 188.8h1.3v1.2h-1.3zM182.9 188.8h1.3v1.2h-1.3zM193.3 188.8h1.3v1.2h-1.3zM195.6 188.8h1.3v1.2h-1.3zM197.9 188.8h1.3v1.2h-1.3zM199.0 188.8h1.3v1.2h-1.3zM200.2 188.8h1.3v1.2h-1.3zM201.3 188.8h1.3v1.2h-1.3zM202.5 188.8h1.3v1.2h-1.3zM203.6 188.8h1.3v1.2h-1.3zM204.8 188.8h1.3v1.2h-1.3zM207.1 188.8h1.3v1.2h-1.3zM208.2 188.8h1.3v1.2h-1.3zM215.1 188.8h1.3v1.2h-1.3zM217.4 188.8h1.3v1.2h-1.3zM240.4 188.8h1.3v1.2h-1.3zM242.7 188.8h1.3v1.2h-1.3zM245.0 188.8h1.3v1.2h-1.3zM246.2 188.8h1.3v1.2h-1.3zM249.6 188.8h1.3v1.2h-1.3zM250.8 188.8h1.3v1.2h-1.3zM260.0 188.8h1.3v1.2h-1.3zM262.3 188.8h1.3v1.2h-1.3zM277.2 188.8h1.3v1.2h-1.3zM281.8 188.8h1.3v1.2h-1.3zM283.0 188.8h1.3v1.2h-1.3zM285.3 188.8h1.3v1.2h-1.3zM71.7 187.8h1.3v1.2h-1.3zM74.0 187.8h1.3v1.2h-1.3zM76.3 187.8h1.3v1.2h-1.3zM80.9 187.8h1.3v1.2h-1.3zM88.9 187.8h1.3v1.2h-1.3zM98.1 187.8h1.3v1.2h-1.3zM165.7 187.8h1.3v1.2h-1.3zM169.2 187.8h1.3v1.2h-1.3zM170.3 187.8h1.3v1.2h-1.3zM176.0 187.8h1.3v1.2h-1.3zM177.2 187.8h1.3v1.2h-1.3zM178.3 187.8h1.3v1.2h-1.3zM180.6 187.8h1.3v1.2h-1.3zM194.4 187.8h1.3v1.2h-1.3zM195.5 187.8h1.3v1.2h-1.3zM196.7 187.8h1.3v1.2h-1.3zM197.8 187.8h1.3v1.2h-1.3zM199.0 187.8h1.3v1.2h-1.3zM200.1 187.8h1.3v1.2h-1.3zM201.3 187.8h1.3v1.2h-1.3zM202.4 187.8h1.3v1.2h-1.3zM203.6 187.8h1.3v1.2h-1.3zM204.7 187.8h1.3v1.2h-1.3zM209.3 187.8h1.3v1.2h-1.3zM235.7 187.8h1.3v1.2h-1.3zM236.8 187.8h1.3v1.2h-1.3zM240.2 187.8h1.3v1.2h-1.3zM242.5 187.8h1.3v1.2h-1.3zM243.7 187.8h1.3v1.2h-1.3zM244.8 187.8h1.3v1.2h-1.3zM254.0 187.8h1.3v1.2h-1.3zM256.3 187.8h1.3v1.2h-1.3zM259.7 187.8h1.3v1.2h-1.3zM275.8 187.8h1.3v1.2h-1.3zM276.9 187.8h1.3v1.2h-1.3zM286.1 187.8h1.3v1.2h-1.3zM72.0 186.8h1.3v1.2h-1.3zM73.2 186.8h1.3v1.2h-1.3zM75.5 186.8h1.3v1.2h-1.3zM76.6 186.8h1.3v1.2h-1.3zM77.8 186.8h1.3v1.2h-1.3zM81.2 186.8h1.3v1.2h-1.3zM91.5 186.8h1.3v1.2h-1.3zM98.3 186.8h1.3v1.2h-1.3zM99.5 186.8h1.3v1.2h-1.3zM166.9 186.8h1.3v1.2h-1.3zM177.2 186.8h1.3v1.2h-1.3zM192.0 186.8h1.3v1.2h-1.3zM193.2 186.8h1.3v1.2h-1.3zM194.3 186.8h1.3v1.2h-1.3zM196.6 186.8h1.3v1.2h-1.3zM198.9 186.8h1.3v1.2h-1.3zM200.0 186.8h1.3v1.2h-1.3zM201.2 186.8h1.3v1.2h-1.3zM203.5 186.8h1.3v1.2h-1.3zM204.6 186.8h1.3v1.2h-1.3zM205.8 186.8h1.3v1.2h-1.3zM208.0 186.8h1.3v1.2h-1.3zM210.3 186.8h1.3v1.2h-1.3zM219.5 186.8h1.3v1.2h-1.3zM220.6 186.8h1.3v1.2h-1.3zM241.2 186.8h1.3v1.2h-1.3zM242.3 186.8h1.3v1.2h-1.3zM243.5 186.8h1.3v1.2h-1.3zM244.6 186.8h1.3v1.2h-1.3zM246.9 186.8h1.3v1.2h-1.3zM248.0 186.8h1.3v1.2h-1.3zM250.3 186.8h1.3v1.2h-1.3zM257.2 186.8h1.3v1.2h-1.3zM259.5 186.8h1.3v1.2h-1.3zM260.6 186.8h1.3v1.2h-1.3zM266.3 186.8h1.3v1.2h-1.3zM273.2 186.8h1.3v1.2h-1.3zM277.8 186.8h1.3v1.2h-1.3zM278.9 186.8h1.3v1.2h-1.3zM285.8 186.8h1.3v1.2h-1.3zM72.4 185.8h1.3v1.2h-1.3zM73.5 185.8h1.3v1.2h-1.3zM74.6 185.8h1.3v1.2h-1.3zM75.8 185.8h1.3v1.2h-1.3zM76.9 185.8h1.3v1.2h-1.3zM78.1 185.8h1.3v1.2h-1.3zM96.3 185.8h1.3v1.2h-1.3zM97.4 185.8h1.3v1.2h-1.3zM99.7 185.8h1.3v1.2h-1.3zM100.8 185.8h1.3v1.2h-1.3zM165.8 185.8h1.3v1.2h-1.3zM168.1 185.8h1.3v1.2h-1.3zM178.3 185.8h1.3v1.2h-1.3zM180.6 185.8h1.3v1.2h-1.3zM186.3 185.8h1.3v1.2h-1.3zM189.7 185.8h1.3v1.2h-1.3zM194.3 185.8h1.3v1.2h-1.3zM201.1 185.8h1.3v1.2h-1.3zM202.2 185.8h1.3v1.2h-1.3zM203.4 185.8h1.3v1.2h-1.3zM204.5 185.8h1.3v1.2h-1.3zM205.7 185.8h1.3v1.2h-1.3zM220.5 185.8h1.3v1.2h-1.3zM221.6 185.8h1.3v1.2h-1.3zM235.3 185.8h1.3v1.2h-1.3zM236.4 185.8h1.3v1.2h-1.3zM239.8 185.8h1.3v1.2h-1.3zM241.0 185.8h1.3v1.2h-1.3zM242.1 185.8h1.3v1.2h-1.3zM245.5 185.8h1.3v1.2h-1.3zM246.7 185.8h1.3v1.2h-1.3zM253.5 185.8h1.3v1.2h-1.3zM254.7 185.8h1.3v1.2h-1.3zM255.8 185.8h1.3v1.2h-1.3zM266.0 185.8h1.3v1.2h-1.3zM267.2 185.8h1.3v1.2h-1.3zM270.6 185.8h1.3v1.2h-1.3zM271.7 185.8h1.3v1.2h-1.3zM272.9 185.8h1.3v1.2h-1.3zM277.4 185.8h1.3v1.2h-1.3zM278.6 185.8h1.3v1.2h-1.3zM293.4 185.8h1.3v1.2h-1.3zM73.8 184.8h1.3v1.2h-1.3zM75.0 184.8h1.3v1.2h-1.3zM76.1 184.8h1.3v1.2h-1.3zM78.4 184.8h1.3v1.2h-1.3zM79.5 184.8h1.3v1.2h-1.3zM85.2 184.8h1.3v1.2h-1.3zM97.7 184.8h1.3v1.2h-1.3zM98.8 184.8h1.3v1.2h-1.3zM101.1 184.8h1.3v1.2h-1.3zM168.1 184.8h1.3v1.2h-1.3zM169.2 184.8h1.3v1.2h-1.3zM170.4 184.8h1.3v1.2h-1.3zM179.4 184.8h1.3v1.2h-1.3zM181.7 184.8h1.3v1.2h-1.3zM182.8 184.8h1.3v1.2h-1.3zM185.1 184.8h1.3v1.2h-1.3zM193.1 184.8h1.3v1.2h-1.3zM213.5 184.8h1.3v1.2h-1.3zM214.6 184.8h1.3v1.2h-1.3zM219.2 184.8h1.3v1.2h-1.3zM226.0 184.8h1.3v1.2h-1.3zM227.1 184.8h1.3v1.2h-1.3zM235.1 184.8h1.3v1.2h-1.3zM236.2 184.8h1.3v1.2h-1.3zM240.8 184.8h1.3v1.2h-1.3zM241.9 184.8h1.3v1.2h-1.3zM244.2 184.8h1.3v1.2h-1.3zM245.3 184.8h1.3v1.2h-1.3zM247.6 184.8h1.3v1.2h-1.3zM248.7 184.8h1.3v1.2h-1.3zM249.8 184.8h1.3v1.2h-1.3zM251.0 184.8h1.3v1.2h-1.3zM252.1 184.8h1.3v1.2h-1.3zM253.3 184.8h1.3v1.2h-1.3zM264.6 184.8h1.3v1.2h-1.3zM265.7 184.8h1.3v1.2h-1.3zM266.9 184.8h1.3v1.2h-1.3zM268.0 184.8h1.3v1.2h-1.3zM269.2 184.8h1.3v1.2h-1.3zM270.3 184.8h1.3v1.2h-1.3zM271.4 184.8h1.3v1.2h-1.3zM272.6 184.8h1.3v1.2h-1.3zM274.8 184.8h1.3v1.2h-1.3zM74.2 183.7h1.3v1.2h-1.3zM75.3 183.7h1.3v1.2h-1.3zM76.4 183.7h1.3v1.2h-1.3zM78.7 183.7h1.3v1.2h-1.3zM83.2 183.7h1.3v1.2h-1.3zM84.4 183.7h1.3v1.2h-1.3zM85.5 183.7h1.3v1.2h-1.3zM86.6 183.7h1.3v1.2h-1.3zM88.9 183.7h1.3v1.2h-1.3zM97.9 183.7h1.3v1.2h-1.3zM100.2 183.7h1.3v1.2h-1.3zM101.3 183.7h1.3v1.2h-1.3zM179.4 183.7h1.3v1.2h-1.3zM180.6 183.7h1.3v1.2h-1.3zM181.7 183.7h1.3v1.2h-1.3zM182.8 183.7h1.3v1.2h-1.3zM185.1 183.7h1.3v1.2h-1.3zM206.6 183.7h1.3v1.2h-1.3zM207.7 183.7h1.3v1.2h-1.3zM214.5 183.7h1.3v1.2h-1.3zM215.6 183.7h1.3v1.2h-1.3zM219.0 183.7h1.3v1.2h-1.3zM220.2 183.7h1.3v1.2h-1.3zM227.0 183.7h1.3v1.2h-1.3zM228.1 183.7h1.3v1.2h-1.3zM229.2 183.7h1.3v1.2h-1.3zM230.4 183.7h1.3v1.2h-1.3zM233.7 183.7h1.3v1.2h-1.3zM236.0 183.7h1.3v1.2h-1.3zM243.9 183.7h1.3v1.2h-1.3zM245.1 183.7h1.3v1.2h-1.3zM246.2 183.7h1.3v1.2h-1.3zM247.3 183.7h1.3v1.2h-1.3zM248.5 183.7h1.3v1.2h-1.3zM249.6 183.7h1.3v1.2h-1.3zM250.7 183.7h1.3v1.2h-1.3zM251.9 183.7h1.3v1.2h-1.3zM265.4 183.7h1.3v1.2h-1.3zM266.6 183.7h1.3v1.2h-1.3zM267.7 183.7h1.3v1.2h-1.3zM268.8 183.7h1.3v1.2h-1.3zM270.0 183.7h1.3v1.2h-1.3zM272.2 183.7h1.3v1.2h-1.3zM273.4 183.7h1.3v1.2h-1.3zM274.5 183.7h1.3v1.2h-1.3zM67.8 182.7h1.3v1.2h-1.3zM76.8 182.7h1.3v1.2h-1.3zM80.2 182.7h1.3v1.2h-1.3zM85.8 182.7h1.3v1.2h-1.3zM87.0 182.7h1.3v1.2h-1.3zM89.2 182.7h1.3v1.2h-1.3zM98.2 182.7h1.3v1.2h-1.3zM99.4 182.7h1.3v1.2h-1.3zM170.4 182.7h1.3v1.2h-1.3zM174.9 182.7h1.3v1.2h-1.3zM178.3 182.7h1.3v1.2h-1.3zM179.4 182.7h1.3v1.2h-1.3zM180.5 182.7h1.3v1.2h-1.3zM181.7 182.7h1.3v1.2h-1.3zM182.8 182.7h1.3v1.2h-1.3zM183.9 182.7h1.3v1.2h-1.3zM206.5 182.7h1.3v1.2h-1.3zM209.9 182.7h1.3v1.2h-1.3zM215.5 182.7h1.3v1.2h-1.3zM216.6 182.7h1.3v1.2h-1.3zM218.9 182.7h1.3v1.2h-1.3zM220.0 182.7h1.3v1.2h-1.3zM224.5 182.7h1.3v1.2h-1.3zM225.6 182.7h1.3v1.2h-1.3zM226.8 182.7h1.3v1.2h-1.3zM227.9 182.7h1.3v1.2h-1.3zM229.0 182.7h1.3v1.2h-1.3zM230.2 182.7h1.3v1.2h-1.3zM231.3 182.7h1.3v1.2h-1.3zM233.5 182.7h1.3v1.2h-1.3zM234.7 182.7h1.3v1.2h-1.3zM235.8 182.7h1.3v1.2h-1.3zM240.3 182.7h1.3v1.2h-1.3zM244.8 182.7h1.3v1.2h-1.3zM249.3 182.7h1.3v1.2h-1.3zM264.0 182.7h1.3v1.2h-1.3zM265.1 182.7h1.3v1.2h-1.3zM267.4 182.7h1.3v1.2h-1.3zM268.5 182.7h1.3v1.2h-1.3zM273.0 182.7h1.3v1.2h-1.3zM277.5 182.7h1.3v1.2h-1.3zM65.9 181.7h1.3v1.2h-1.3zM69.3 181.7h1.3v1.2h-1.3zM82.8 181.7h1.3v1.2h-1.3zM85.0 181.7h1.3v1.2h-1.3zM89.5 181.7h1.3v1.2h-1.3zM94.0 181.7h1.3v1.2h-1.3zM95.1 181.7h1.3v1.2h-1.3zM97.4 181.7h1.3v1.2h-1.3zM99.6 181.7h1.3v1.2h-1.3zM177.1 181.7h1.3v1.2h-1.3zM179.4 181.7h1.3v1.2h-1.3zM180.5 181.7h1.3v1.2h-1.3zM204.1 181.7h1.3v1.2h-1.3zM205.2 181.7h1.3v1.2h-1.3zM207.5 181.7h1.3v1.2h-1.3zM208.6 181.7h1.3v1.2h-1.3zM209.7 181.7h1.3v1.2h-1.3zM210.8 181.7h1.3v1.2h-1.3zM218.7 181.7h1.3v1.2h-1.3zM227.7 181.7h1.3v1.2h-1.3zM228.8 181.7h1.3v1.2h-1.3zM229.9 181.7h1.3v1.2h-1.3zM231.1 181.7h1.3v1.2h-1.3zM232.2 181.7h1.3v1.2h-1.3zM233.3 181.7h1.3v1.2h-1.3zM234.4 181.7h1.3v1.2h-1.3zM235.6 181.7h1.3v1.2h-1.3zM236.7 181.7h1.3v1.2h-1.3zM247.9 181.7h1.3v1.2h-1.3zM249.0 181.7h1.3v1.2h-1.3zM263.6 181.7h1.3v1.2h-1.3zM296.2 181.7h1.3v1.2h-1.3zM300.7 181.7h1.3v1.2h-1.3zM67.5 180.7h1.3v1.2h-1.3zM68.6 180.7h1.3v1.2h-1.3zM69.7 180.7h1.3v1.2h-1.3zM70.8 180.7h1.3v1.2h-1.3zM72.0 180.7h1.3v1.2h-1.3zM78.7 180.7h1.3v1.2h-1.3zM79.8 180.7h1.3v1.2h-1.3zM80.9 180.7h1.3v1.2h-1.3zM91.0 180.7h1.3v1.2h-1.3zM95.5 180.7h1.3v1.2h-1.3zM96.6 180.7h1.3v1.2h-1.3zM97.7 180.7h1.3v1.2h-1.3zM101.0 180.7h1.3v1.2h-1.3zM204.0 180.7h1.3v1.2h-1.3zM205.1 180.7h1.3v1.2h-1.3zM207.3 180.7h1.3v1.2h-1.3zM208.5 180.7h1.3v1.2h-1.3zM209.6 180.7h1.3v1.2h-1.3zM210.7 180.7h1.3v1.2h-1.3zM216.3 180.7h1.3v1.2h-1.3zM227.5 180.7h1.3v1.2h-1.3zM228.6 180.7h1.3v1.2h-1.3zM229.7 180.7h1.3v1.2h-1.3zM233.1 180.7h1.3v1.2h-1.3zM234.2 180.7h1.3v1.2h-1.3zM236.4 180.7h1.3v1.2h-1.3zM237.6 180.7h1.3v1.2h-1.3zM238.7 180.7h1.3v1.2h-1.3zM239.8 180.7h1.3v1.2h-1.3zM240.9 180.7h1.3v1.2h-1.3zM247.6 180.7h1.3v1.2h-1.3zM248.8 180.7h1.3v1.2h-1.3zM254.3 180.7h1.3v1.2h-1.3zM263.3 180.7h1.3v1.2h-1.3zM298.0 180.7h1.3v1.2h-1.3zM299.1 180.7h1.3v1.2h-1.3zM300.2 180.7h1.3v1.2h-1.3zM67.9 179.7h1.3v1.2h-1.3zM70.1 179.7h1.3v1.2h-1.3zM72.4 179.7h1.3v1.2h-1.3zM77.9 179.7h1.3v1.2h-1.3zM79.1 179.7h1.3v1.2h-1.3zM80.2 179.7h1.3v1.2h-1.3zM81.3 179.7h1.3v1.2h-1.3zM98.0 179.7h1.3v1.2h-1.3zM103.6 179.7h1.3v1.2h-1.3zM106.9 179.7h1.3v1.2h-1.3zM166.0 179.7h1.3v1.2h-1.3zM167.1 179.7h1.3v1.2h-1.3zM168.2 179.7h1.3v1.2h-1.3zM172.7 179.7h1.3v1.2h-1.3zM173.8 179.7h1.3v1.2h-1.3zM178.2 179.7h1.3v1.2h-1.3zM193.8 179.7h1.3v1.2h-1.3zM201.6 179.7h1.3v1.2h-1.3zM203.9 179.7h1.3v1.2h-1.3zM210.6 179.7h1.3v1.2h-1.3zM215.0 179.7h1.3v1.2h-1.3zM217.2 179.7h1.3v1.2h-1.3zM228.4 179.7h1.3v1.2h-1.3zM229.5 179.7h1.3v1.2h-1.3zM231.7 179.7h1.3v1.2h-1.3zM232.8 179.7h1.3v1.2h-1.3zM234.0 179.7h1.3v1.2h-1.3zM235.1 179.7h1.3v1.2h-1.3zM238.4 179.7h1.3v1.2h-1.3zM240.7 179.7h1.3v1.2h-1.3zM241.8 179.7h1.3v1.2h-1.3zM248.5 179.7h1.3v1.2h-1.3zM251.8 179.7h1.3v1.2h-1.3zM287.5 179.7h1.3v1.2h-1.3zM296.4 179.7h1.3v1.2h-1.3zM297.5 179.7h1.3v1.2h-1.3zM298.6 179.7h1.3v1.2h-1.3zM299.7 179.7h1.3v1.2h-1.3zM70.6 178.7h1.3v1.2h-1.3zM79.5 178.7h1.3v1.2h-1.3zM83.9 178.7h1.3v1.2h-1.3zM95.0 178.7h1.3v1.2h-1.3zM102.8 178.7h1.3v1.2h-1.3zM103.9 178.7h1.3v1.2h-1.3zM150.5 178.7h1.3v1.2h-1.3zM167.1 178.7h1.3v1.2h-1.3zM171.6 178.7h1.3v1.2h-1.3zM188.2 178.7h1.3v1.2h-1.3zM193.8 178.7h1.3v1.2h-1.3zM194.9 178.7h1.3v1.2h-1.3zM200.4 178.7h1.3v1.2h-1.3zM209.3 178.7h1.3v1.2h-1.3zM210.4 178.7h1.3v1.2h-1.3zM211.5 178.7h1.3v1.2h-1.3zM213.7 178.7h1.3v1.2h-1.3zM214.8 178.7h1.3v1.2h-1.3zM216.0 178.7h1.3v1.2h-1.3zM227.1 178.7h1.3v1.2h-1.3zM228.2 178.7h1.3v1.2h-1.3zM232.6 178.7h1.3v1.2h-1.3zM233.7 178.7h1.3v1.2h-1.3zM234.8 178.7h1.3v1.2h-1.3zM237.0 178.7h1.3v1.2h-1.3zM241.5 178.7h1.3v1.2h-1.3zM242.6 178.7h1.3v1.2h-1.3zM250.4 178.7h1.3v1.2h-1.3zM253.7 178.7h1.3v1.2h-1.3zM255.9 178.7h1.3v1.2h-1.3zM285.9 178.7h1.3v1.2h-1.3zM288.1 178.7h1.3v1.2h-1.3zM298.1 178.7h1.3v1.2h-1.3zM299.2 178.7h1.3v1.2h-1.3zM74.4 177.7h1.3v1.2h-1.3zM75.5 177.7h1.3v1.2h-1.3zM79.9 177.7h1.3v1.2h-1.3zM85.4 177.7h1.3v1.2h-1.3zM86.5 177.7h1.3v1.2h-1.3zM88.7 177.7h1.3v1.2h-1.3zM95.4 177.7h1.3v1.2h-1.3zM96.5 177.7h1.3v1.2h-1.3zM98.7 177.7h1.3v1.2h-1.3zM103.1 177.7h1.3v1.2h-1.3zM105.3 177.7h1.3v1.2h-1.3zM106.4 177.7h1.3v1.2h-1.3zM149.5 177.7h1.3v1.2h-1.3zM166.1 177.7h1.3v1.2h-1.3zM167.2 177.7h1.3v1.2h-1.3zM192.6 177.7h1.3v1.2h-1.3zM193.7 177.7h1.3v1.2h-1.3zM200.3 177.7h1.3v1.2h-1.3zM208.0 177.7h1.3v1.2h-1.3zM210.3 177.7h1.3v1.2h-1.3zM212.5 177.7h1.3v1.2h-1.3zM213.6 177.7h1.3v1.2h-1.3zM214.7 177.7h1.3v1.2h-1.3zM216.9 177.7h1.3v1.2h-1.3zM224.6 177.7h1.3v1.2h-1.3zM225.7 177.7h1.3v1.2h-1.3zM227.9 177.7h1.3v1.2h-1.3zM229.0 177.7h1.3v1.2h-1.3zM231.2 177.7h1.3v1.2h-1.3zM232.4 177.7h1.3v1.2h-1.3zM233.5 177.7h1.3v1.2h-1.3zM234.6 177.7h1.3v1.2h-1.3zM236.8 177.7h1.3v1.2h-1.3zM241.2 177.7h1.3v1.2h-1.3zM242.3 177.7h1.3v1.2h-1.3zM243.4 177.7h1.3v1.2h-1.3zM248.9 177.7h1.3v1.2h-1.3zM251.1 177.7h1.3v1.2h-1.3zM252.2 177.7h1.3v1.2h-1.3zM253.3 177.7h1.3v1.2h-1.3zM254.4 177.7h1.3v1.2h-1.3zM255.6 177.7h1.3v1.2h-1.3zM256.7 177.7h1.3v1.2h-1.3zM285.4 177.7h1.3v1.2h-1.3zM287.6 177.7h1.3v1.2h-1.3zM298.6 177.7h1.3v1.2h-1.3zM299.7 177.7h1.3v1.2h-1.3zM85.8 176.7h1.3v1.2h-1.3zM86.9 176.7h1.3v1.2h-1.3zM89.1 176.7h1.3v1.2h-1.3zM103.4 176.7h1.3v1.2h-1.3zM104.5 176.7h1.3v1.2h-1.3zM105.6 176.7h1.3v1.2h-1.3zM106.7 176.7h1.3v1.2h-1.3zM107.8 176.7h1.3v1.2h-1.3zM166.1 176.7h1.3v1.2h-1.3zM167.2 176.7h1.3v1.2h-1.3zM170.5 176.7h1.3v1.2h-1.3zM189.2 176.7h1.3v1.2h-1.3zM190.3 176.7h1.3v1.2h-1.3zM191.4 176.7h1.3v1.2h-1.3zM192.5 176.7h1.3v1.2h-1.3zM193.6 176.7h1.3v1.2h-1.3zM194.7 176.7h1.3v1.2h-1.3zM205.7 176.7h1.3v1.2h-1.3zM209.0 176.7h1.3v1.2h-1.3zM210.1 176.7h1.3v1.2h-1.3zM213.4 176.7h1.3v1.2h-1.3zM214.5 176.7h1.3v1.2h-1.3zM218.9 176.7h1.3v1.2h-1.3zM221.1 176.7h1.3v1.2h-1.3zM223.3 176.7h1.3v1.2h-1.3zM224.4 176.7h1.3v1.2h-1.3zM225.5 176.7h1.3v1.2h-1.3zM226.6 176.7h1.3v1.2h-1.3zM227.7 176.7h1.3v1.2h-1.3zM228.8 176.7h1.3v1.2h-1.3zM229.9 176.7h1.3v1.2h-1.3zM232.1 176.7h1.3v1.2h-1.3zM233.2 176.7h1.3v1.2h-1.3zM234.3 176.7h1.3v1.2h-1.3zM235.4 176.7h1.3v1.2h-1.3zM240.9 176.7h1.3v1.2h-1.3zM243.1 176.7h1.3v1.2h-1.3zM248.6 176.7h1.3v1.2h-1.3zM250.8 176.7h1.3v1.2h-1.3zM251.9 176.7h1.3v1.2h-1.3zM255.2 176.7h1.3v1.2h-1.3zM260.7 176.7h1.3v1.2h-1.3zM261.8 176.7h1.3v1.2h-1.3zM262.9 176.7h1.3v1.2h-1.3zM282.7 176.7h1.3v1.2h-1.3zM284.9 176.7h1.3v1.2h-1.3zM286.0 176.7h1.3v1.2h-1.3zM287.1 176.7h1.3v1.2h-1.3zM66.5 175.7h1.3v1.2h-1.3zM75.3 175.7h1.3v1.2h-1.3zM76.4 175.7h1.3v1.2h-1.3zM89.5 175.7h1.3v1.2h-1.3zM90.6 175.7h1.3v1.2h-1.3zM102.7 175.7h1.3v1.2h-1.3zM107.0 175.7h1.3v1.2h-1.3zM169.4 175.7h1.3v1.2h-1.3zM170.5 175.7h1.3v1.2h-1.3zM190.2 175.7h1.3v1.2h-1.3zM191.3 175.7h1.3v1.2h-1.3zM192.4 175.7h1.3v1.2h-1.3zM193.5 175.7h1.3v1.2h-1.3zM194.6 175.7h1.3v1.2h-1.3zM196.8 175.7h1.3v1.2h-1.3zM197.9 175.7h1.3v1.2h-1.3zM202.3 175.7h1.3v1.2h-1.3zM204.5 175.7h1.3v1.2h-1.3zM205.5 175.7h1.3v1.2h-1.3zM206.6 175.7h1.3v1.2h-1.3zM208.8 175.7h1.3v1.2h-1.3zM209.9 175.7h1.3v1.2h-1.3zM212.1 175.7h1.3v1.2h-1.3zM218.7 175.7h1.3v1.2h-1.3zM219.8 175.7h1.3v1.2h-1.3zM222.0 175.7h1.3v1.2h-1.3zM224.2 175.7h1.3v1.2h-1.3zM225.2 175.7h1.3v1.2h-1.3zM227.4 175.7h1.3v1.2h-1.3zM229.6 175.7h1.3v1.2h-1.3zM230.7 175.7h1.3v1.2h-1.3zM231.8 175.7h1.3v1.2h-1.3zM234.0 175.7h1.3v1.2h-1.3zM237.3 175.7h1.3v1.2h-1.3zM240.6 175.7h1.3v1.2h-1.3zM241.7 175.7h1.3v1.2h-1.3zM248.2 175.7h1.3v1.2h-1.3zM249.3 175.7h1.3v1.2h-1.3zM250.4 175.7h1.3v1.2h-1.3zM251.5 175.7h1.3v1.2h-1.3zM253.7 175.7h1.3v1.2h-1.3zM255.9 175.7h1.3v1.2h-1.3zM261.4 175.7h1.3v1.2h-1.3zM262.5 175.7h1.3v1.2h-1.3zM263.6 175.7h1.3v1.2h-1.3zM281.1 175.7h1.3v1.2h-1.3zM283.3 175.7h1.3v1.2h-1.3zM284.3 175.7h1.3v1.2h-1.3zM297.5 175.7h1.3v1.2h-1.3zM66.0 174.7h1.3v1.2h-1.3zM86.7 174.7h1.3v1.2h-1.3zM90.0 174.7h1.3v1.2h-1.3zM91.1 174.7h1.3v1.2h-1.3zM93.2 174.7h1.3v1.2h-1.3zM99.8 174.7h1.3v1.2h-1.3zM168.4 174.7h1.3v1.2h-1.3zM170.5 174.7h1.3v1.2h-1.3zM173.8 174.7h1.3v1.2h-1.3zM174.9 174.7h1.3v1.2h-1.3zM176.0 174.7h1.3v1.2h-1.3zM191.2 174.7h1.3v1.2h-1.3zM195.6 174.7h1.3v1.2h-1.3zM196.7 174.7h1.3v1.2h-1.3zM197.8 174.7h1.3v1.2h-1.3zM203.2 174.7h1.3v1.2h-1.3zM220.6 174.7h1.3v1.2h-1.3zM223.9 174.7h1.3v1.2h-1.3zM225.0 174.7h1.3v1.2h-1.3zM226.1 174.7h1.3v1.2h-1.3zM230.4 174.7h1.3v1.2h-1.3zM240.2 174.7h1.3v1.2h-1.3zM241.3 174.7h1.3v1.2h-1.3zM251.1 174.7h1.3v1.2h-1.3zM252.2 174.7h1.3v1.2h-1.3zM253.3 174.7h1.3v1.2h-1.3zM263.1 174.7h1.3v1.2h-1.3zM275.1 174.7h1.3v1.2h-1.3zM277.3 174.7h1.3v1.2h-1.3zM278.4 174.7h1.3v1.2h-1.3zM72.0 173.7h1.3v1.2h-1.3zM73.1 173.7h1.3v1.2h-1.3zM82.8 173.7h1.3v1.2h-1.3zM83.9 173.7h1.3v1.2h-1.3zM88.2 173.7h1.3v1.2h-1.3zM89.3 173.7h1.3v1.2h-1.3zM90.4 173.7h1.3v1.2h-1.3zM101.2 173.7h1.3v1.2h-1.3zM103.4 173.7h1.3v1.2h-1.3zM104.5 173.7h1.3v1.2h-1.3zM167.3 173.7h1.3v1.2h-1.3zM169.5 173.7h1.3v1.2h-1.3zM173.8 173.7h1.3v1.2h-1.3zM176.0 173.7h1.3v1.2h-1.3zM177.1 173.7h1.3v1.2h-1.3zM184.6 173.7h1.3v1.2h-1.3zM185.7 173.7h1.3v1.2h-1.3zM195.5 173.7h1.3v1.2h-1.3zM196.6 173.7h1.3v1.2h-1.3zM197.6 173.7h1.3v1.2h-1.3zM231.2 173.7h1.3v1.2h-1.3zM232.3 173.7h1.3v1.2h-1.3zM233.4 173.7h1.3v1.2h-1.3zM239.9 173.7h1.3v1.2h-1.3zM241.0 173.7h1.3v1.2h-1.3zM247.5 173.7h1.3v1.2h-1.3zM248.6 173.7h1.3v1.2h-1.3zM250.7 173.7h1.3v1.2h-1.3zM251.8 173.7h1.3v1.2h-1.3zM252.9 173.7h1.3v1.2h-1.3zM254.0 173.7h1.3v1.2h-1.3zM255.1 173.7h1.3v1.2h-1.3zM263.7 173.7h1.3v1.2h-1.3zM273.5 173.7h1.3v1.2h-1.3zM275.6 173.7h1.3v1.2h-1.3zM277.8 173.7h1.3v1.2h-1.3zM298.4 173.7h1.3v1.2h-1.3zM68.2 172.7h1.3v1.2h-1.3zM79.0 172.7h1.3v1.2h-1.3zM82.2 172.7h1.3v1.2h-1.3zM83.3 172.7h1.3v1.2h-1.3zM84.4 172.7h1.3v1.2h-1.3zM85.5 172.7h1.3v1.2h-1.3zM87.6 172.7h1.3v1.2h-1.3zM88.7 172.7h1.3v1.2h-1.3zM89.8 172.7h1.3v1.2h-1.3zM90.9 172.7h1.3v1.2h-1.3zM97.3 172.7h1.3v1.2h-1.3zM98.4 172.7h1.3v1.2h-1.3zM99.5 172.7h1.3v1.2h-1.3zM100.6 172.7h1.3v1.2h-1.3zM101.6 172.7h1.3v1.2h-1.3zM103.8 172.7h1.3v1.2h-1.3zM114.6 172.7h1.3v1.2h-1.3zM171.7 172.7h1.3v1.2h-1.3zM173.8 172.7h1.3v1.2h-1.3zM174.9 172.7h1.3v1.2h-1.3zM176.0 172.7h1.3v1.2h-1.3zM177.1 172.7h1.3v1.2h-1.3zM178.1 172.7h1.3v1.2h-1.3zM184.6 172.7h1.3v1.2h-1.3zM185.7 172.7h1.3v1.2h-1.3zM195.4 172.7h1.3v1.2h-1.3zM213.7 172.7h1.3v1.2h-1.3zM219.1 172.7h1.3v1.2h-1.3zM230.9 172.7h1.3v1.2h-1.3zM232.0 172.7h1.3v1.2h-1.3zM241.7 172.7h1.3v1.2h-1.3zM247.1 172.7h1.3v1.2h-1.3zM248.2 172.7h1.3v1.2h-1.3zM249.2 172.7h1.3v1.2h-1.3zM250.3 172.7h1.3v1.2h-1.3zM251.4 172.7h1.3v1.2h-1.3zM252.5 172.7h1.3v1.2h-1.3zM253.6 172.7h1.3v1.2h-1.3zM254.6 172.7h1.3v1.2h-1.3zM255.7 172.7h1.3v1.2h-1.3zM277.3 172.7h1.3v1.2h-1.3zM278.3 172.7h1.3v1.2h-1.3zM280.5 172.7h1.3v1.2h-1.3zM281.6 172.7h1.3v1.2h-1.3zM290.2 172.7h1.3v1.2h-1.3zM291.3 172.7h1.3v1.2h-1.3zM298.8 172.7h1.3v1.2h-1.3zM299.9 172.7h1.3v1.2h-1.3zM67.7 171.7h1.3v1.2h-1.3zM68.8 171.7h1.3v1.2h-1.3zM69.9 171.7h1.3v1.2h-1.3zM71.0 171.7h1.3v1.2h-1.3zM72.0 171.7h1.3v1.2h-1.3zM78.5 171.7h1.3v1.2h-1.3zM79.5 171.7h1.3v1.2h-1.3zM81.7 171.7h1.3v1.2h-1.3zM82.7 171.7h1.3v1.2h-1.3zM83.8 171.7h1.3v1.2h-1.3zM87.0 171.7h1.3v1.2h-1.3zM88.1 171.7h1.3v1.2h-1.3zM89.2 171.7h1.3v1.2h-1.3zM90.2 171.7h1.3v1.2h-1.3zM97.7 171.7h1.3v1.2h-1.3zM98.8 171.7h1.3v1.2h-1.3zM101.0 171.7h1.3v1.2h-1.3zM104.2 171.7h1.3v1.2h-1.3zM107.4 171.7h1.3v1.2h-1.3zM110.6 171.7h1.3v1.2h-1.3zM111.7 171.7h1.3v1.2h-1.3zM112.7 171.7h1.3v1.2h-1.3zM114.9 171.7h1.3v1.2h-1.3zM116.0 171.7h1.3v1.2h-1.3zM173.8 171.7h1.3v1.2h-1.3zM174.9 171.7h1.3v1.2h-1.3zM176.0 171.7h1.3v1.2h-1.3zM177.0 171.7h1.3v1.2h-1.3zM178.1 171.7h1.3v1.2h-1.3zM180.3 171.7h1.3v1.2h-1.3zM183.5 171.7h1.3v1.2h-1.3zM194.2 171.7h1.3v1.2h-1.3zM195.3 171.7h1.3v1.2h-1.3zM207.0 171.7h1.3v1.2h-1.3zM208.1 171.7h1.3v1.2h-1.3zM209.2 171.7h1.3v1.2h-1.3zM210.3 171.7h1.3v1.2h-1.3zM211.3 171.7h1.3v1.2h-1.3zM213.5 171.7h1.3v1.2h-1.3zM214.5 171.7h1.3v1.2h-1.3zM217.8 171.7h1.3v1.2h-1.3zM219.9 171.7h1.3v1.2h-1.3zM229.6 171.7h1.3v1.2h-1.3zM230.6 171.7h1.3v1.2h-1.3zM231.7 171.7h1.3v1.2h-1.3zM232.8 171.7h1.3v1.2h-1.3zM240.3 171.7h1.3v1.2h-1.3zM244.6 171.7h1.3v1.2h-1.3zM245.6 171.7h1.3v1.2h-1.3zM248.8 171.7h1.3v1.2h-1.3zM249.9 171.7h1.3v1.2h-1.3zM251.0 171.7h1.3v1.2h-1.3zM253.1 171.7h1.3v1.2h-1.3zM258.5 171.7h1.3v1.2h-1.3zM286.3 171.7h1.3v1.2h-1.3zM287.4 171.7h1.3v1.2h-1.3zM289.6 171.7h1.3v1.2h-1.3zM290.6 171.7h1.3v1.2h-1.3zM291.7 171.7h1.3v1.2h-1.3zM297.1 171.7h1.3v1.2h-1.3zM300.3 171.7h1.3v1.2h-1.3zM69.4 170.7h1.3v1.2h-1.3zM70.5 170.7h1.3v1.2h-1.3zM71.5 170.7h1.3v1.2h-1.3zM72.6 170.7h1.3v1.2h-1.3zM73.7 170.7h1.3v1.2h-1.3zM79.0 170.7h1.3v1.2h-1.3zM80.1 170.7h1.3v1.2h-1.3zM83.3 170.7h1.3v1.2h-1.3zM85.4 170.7h1.3v1.2h-1.3zM86.5 170.7h1.3v1.2h-1.3zM88.6 170.7h1.3v1.2h-1.3zM89.7 170.7h1.3v1.2h-1.3zM90.7 170.7h1.3v1.2h-1.3zM99.2 170.7h1.3v1.2h-1.3zM100.3 170.7h1.3v1.2h-1.3zM104.6 170.7h1.3v1.2h-1.3zM109.9 170.7h1.3v1.2h-1.3zM113.1 170.7h1.3v1.2h-1.3zM122.7 170.7h1.3v1.2h-1.3zM173.8 170.7h1.3v1.2h-1.3zM174.9 170.7h1.3v1.2h-1.3zM176.0 170.7h1.3v1.2h-1.3zM178.1 170.7h1.3v1.2h-1.3zM185.6 170.7h1.3v1.2h-1.3zM186.6 170.7h1.3v1.2h-1.3zM189.8 170.7h1.3v1.2h-1.3zM190.9 170.7h1.3v1.2h-1.3zM193.0 170.7h1.3v1.2h-1.3zM197.3 170.7h1.3v1.2h-1.3zM199.4 170.7h1.3v1.2h-1.3zM202.6 170.7h1.3v1.2h-1.3zM203.7 170.7h1.3v1.2h-1.3zM205.8 170.7h1.3v1.2h-1.3zM217.5 170.7h1.3v1.2h-1.3zM219.7 170.7h1.3v1.2h-1.3zM229.2 170.7h1.3v1.2h-1.3zM231.4 170.7h1.3v1.2h-1.3zM232.4 170.7h1.3v1.2h-1.3zM242.0 170.7h1.3v1.2h-1.3zM247.4 170.7h1.3v1.2h-1.3zM249.5 170.7h1.3v1.2h-1.3zM250.6 170.7h1.3v1.2h-1.3zM259.1 170.7h1.3v1.2h-1.3zM274.0 170.7h1.3v1.2h-1.3zM285.7 170.7h1.3v1.2h-1.3zM286.8 170.7h1.3v1.2h-1.3zM291.0 170.7h1.3v1.2h-1.3zM70.0 169.7h1.3v1.2h-1.3zM73.2 169.7h1.3v1.2h-1.3zM75.3 169.7h1.3v1.2h-1.3zM78.5 169.7h1.3v1.2h-1.3zM79.5 169.7h1.3v1.2h-1.3zM80.6 169.7h1.3v1.2h-1.3zM90.1 169.7h1.3v1.2h-1.3zM91.2 169.7h1.3v1.2h-1.3zM92.3 169.7h1.3v1.2h-1.3zM95.4 169.7h1.3v1.2h-1.3zM98.6 169.7h1.3v1.2h-1.3zM103.9 169.7h1.3v1.2h-1.3zM105.0 169.7h1.3v1.2h-1.3zM106.0 169.7h1.3v1.2h-1.3zM107.1 169.7h1.3v1.2h-1.3zM110.3 169.7h1.3v1.2h-1.3zM111.3 169.7h1.3v1.2h-1.3zM113.4 169.7h1.3v1.2h-1.3zM114.5 169.7h1.3v1.2h-1.3zM115.6 169.7h1.3v1.2h-1.3zM180.2 169.7h1.3v1.2h-1.3zM189.7 169.7h1.3v1.2h-1.3zM192.9 169.7h1.3v1.2h-1.3zM198.2 169.7h1.3v1.2h-1.3zM199.3 169.7h1.3v1.2h-1.3zM202.4 169.7h1.3v1.2h-1.3zM219.4 169.7h1.3v1.2h-1.3zM228.9 169.7h1.3v1.2h-1.3zM230.0 169.7h1.3v1.2h-1.3zM231.1 169.7h1.3v1.2h-1.3zM246.9 169.7h1.3v1.2h-1.3zM248.0 169.7h1.3v1.2h-1.3zM254.4 169.7h1.3v1.2h-1.3zM274.5 169.7h1.3v1.2h-1.3zM275.6 169.7h1.3v1.2h-1.3zM285.1 169.7h1.3v1.2h-1.3zM291.4 169.7h1.3v1.2h-1.3zM303.1 169.7h1.3v1.2h-1.3zM72.7 168.7h1.3v1.2h-1.3zM73.8 168.7h1.3v1.2h-1.3zM79.0 168.7h1.3v1.2h-1.3zM81.2 168.7h1.3v1.2h-1.3zM82.2 168.7h1.3v1.2h-1.3zM83.3 168.7h1.3v1.2h-1.3zM84.3 168.7h1.3v1.2h-1.3zM85.4 168.7h1.3v1.2h-1.3zM89.6 168.7h1.3v1.2h-1.3zM90.6 168.7h1.3v1.2h-1.3zM91.7 168.7h1.3v1.2h-1.3zM92.7 168.7h1.3v1.2h-1.3zM93.8 168.7h1.3v1.2h-1.3zM94.8 168.7h1.3v1.2h-1.3zM99.1 168.7h1.3v1.2h-1.3zM100.1 168.7h1.3v1.2h-1.3zM105.4 168.7h1.3v1.2h-1.3zM107.5 168.7h1.3v1.2h-1.3zM110.6 168.7h1.3v1.2h-1.3zM112.8 168.7h1.3v1.2h-1.3zM113.8 168.7h1.3v1.2h-1.3zM114.9 168.7h1.3v1.2h-1.3zM115.9 168.7h1.3v1.2h-1.3zM117.0 168.7h1.3v1.2h-1.3zM118.0 168.7h1.3v1.2h-1.3zM119.1 168.7h1.3v1.2h-1.3zM127.5 168.7h1.3v1.2h-1.3zM180.2 168.7h1.3v1.2h-1.3zM189.6 168.7h1.3v1.2h-1.3zM190.7 168.7h1.3v1.2h-1.3zM198.1 168.7h1.3v1.2h-1.3zM200.2 168.7h1.3v1.2h-1.3zM201.2 168.7h1.3v1.2h-1.3zM202.3 168.7h1.3v1.2h-1.3zM203.3 168.7h1.3v1.2h-1.3zM218.1 168.7h1.3v1.2h-1.3zM219.1 168.7h1.3v1.2h-1.3zM220.2 168.7h1.3v1.2h-1.3zM221.2 168.7h1.3v1.2h-1.3zM229.7 168.7h1.3v1.2h-1.3zM248.6 168.7h1.3v1.2h-1.3zM255.0 168.7h1.3v1.2h-1.3zM263.4 168.7h1.3v1.2h-1.3zM272.9 168.7h1.3v1.2h-1.3zM275.0 168.7h1.3v1.2h-1.3zM278.1 168.7h1.3v1.2h-1.3zM279.2 168.7h1.3v1.2h-1.3zM281.3 168.7h1.3v1.2h-1.3zM288.7 168.7h1.3v1.2h-1.3zM302.4 168.7h1.3v1.2h-1.3zM75.4 167.7h1.2v1.2h-1.2zM76.5 167.7h1.2v1.2h-1.2zM80.7 167.7h1.2v1.2h-1.2zM81.7 167.7h1.2v1.2h-1.2zM82.8 167.7h1.2v1.2h-1.2zM92.2 167.7h1.2v1.2h-1.2zM93.2 167.7h1.2v1.2h-1.2zM95.3 167.7h1.2v1.2h-1.2zM98.5 167.7h1.2v1.2h-1.2zM99.5 167.7h1.2v1.2h-1.2zM100.6 167.7h1.2v1.2h-1.2zM106.8 167.7h1.2v1.2h-1.2zM108.9 167.7h1.2v1.2h-1.2zM111.0 167.7h1.2v1.2h-1.2zM115.2 167.7h1.2v1.2h-1.2zM117.3 167.7h1.2v1.2h-1.2zM119.4 167.7h1.2v1.2h-1.2zM120.5 167.7h1.2v1.2h-1.2zM125.7 167.7h1.2v1.2h-1.2zM170.7 167.7h1.2v1.2h-1.2zM171.8 167.7h1.2v1.2h-1.2zM182.2 167.7h1.2v1.2h-1.2zM188.5 167.7h1.2v1.2h-1.2zM189.6 167.7h1.2v1.2h-1.2zM190.6 167.7h1.2v1.2h-1.2zM191.7 167.7h1.2v1.2h-1.2zM202.1 167.7h1.2v1.2h-1.2zM203.2 167.7h1.2v1.2h-1.2zM213.6 167.7h1.2v1.2h-1.2zM215.7 167.7h1.2v1.2h-1.2zM216.8 167.7h1.2v1.2h-1.2zM217.8 167.7h1.2v1.2h-1.2zM218.9 167.7h1.2v1.2h-1.2zM219.9 167.7h1.2v1.2h-1.2zM221.0 167.7h1.2v1.2h-1.2zM222.0 167.7h1.2v1.2h-1.2zM228.3 167.7h1.2v1.2h-1.2zM236.7 167.7h1.2v1.2h-1.2zM244.0 167.7h1.2v1.2h-1.2zM246.1 167.7h1.2v1.2h-1.2zM247.1 167.7h1.2v1.2h-1.2zM252.4 167.7h1.2v1.2h-1.2zM257.6 167.7h1.2v1.2h-1.2zM267.0 167.7h1.2v1.2h-1.2zM268.1 167.7h1.2v1.2h-1.2zM273.3 167.7h1.2v1.2h-1.2zM275.4 167.7h1.2v1.2h-1.2zM278.6 167.7h1.2v1.2h-1.2zM280.6 167.7h1.2v1.2h-1.2zM286.9 167.7h1.2v1.2h-1.2zM289.0 167.7h1.2v1.2h-1.2zM302.6 167.7h1.2v1.2h-1.2zM72.9 166.7h1.2v1.2h-1.2zM74.0 166.7h1.2v1.2h-1.2zM75.0 166.7h1.2v1.2h-1.2zM76.1 166.7h1.2v1.2h-1.2zM78.1 166.7h1.2v1.2h-1.2zM82.3 166.7h1.2v1.2h-1.2zM83.3 166.7h1.2v1.2h-1.2zM88.5 166.7h1.2v1.2h-1.2zM89.6 166.7h1.2v1.2h-1.2zM91.7 166.7h1.2v1.2h-1.2zM97.9 166.7h1.2v1.2h-1.2zM98.9 166.7h1.2v1.2h-1.2zM101.0 166.7h1.2v1.2h-1.2zM112.5 166.7h1.2v1.2h-1.2zM113.5 166.7h1.2v1.2h-1.2zM114.6 166.7h1.2v1.2h-1.2zM115.6 166.7h1.2v1.2h-1.2zM116.6 166.7h1.2v1.2h-1.2zM117.7 166.7h1.2v1.2h-1.2zM119.8 166.7h1.2v1.2h-1.2zM120.8 166.7h1.2v1.2h-1.2zM171.8 166.7h1.2v1.2h-1.2zM174.9 166.7h1.2v1.2h-1.2zM180.1 166.7h1.2v1.2h-1.2zM181.1 166.7h1.2v1.2h-1.2zM182.2 166.7h1.2v1.2h-1.2zM183.2 166.7h1.2v1.2h-1.2zM184.3 166.7h1.2v1.2h-1.2zM189.5 166.7h1.2v1.2h-1.2zM192.6 166.7h1.2v1.2h-1.2zM197.8 166.7h1.2v1.2h-1.2zM198.8 166.7h1.2v1.2h-1.2zM202.0 166.7h1.2v1.2h-1.2zM203.0 166.7h1.2v1.2h-1.2zM209.2 166.7h1.2v1.2h-1.2zM211.3 166.7h1.2v1.2h-1.2zM213.4 166.7h1.2v1.2h-1.2zM214.4 166.7h1.2v1.2h-1.2zM215.5 166.7h1.2v1.2h-1.2zM216.5 166.7h1.2v1.2h-1.2zM221.7 166.7h1.2v1.2h-1.2zM222.8 166.7h1.2v1.2h-1.2zM235.2 166.7h1.2v1.2h-1.2zM241.5 166.7h1.2v1.2h-1.2zM244.6 166.7h1.2v1.2h-1.2zM245.7 166.7h1.2v1.2h-1.2zM246.7 166.7h1.2v1.2h-1.2zM248.8 166.7h1.2v1.2h-1.2zM249.8 166.7h1.2v1.2h-1.2zM256.1 166.7h1.2v1.2h-1.2zM257.1 166.7h1.2v1.2h-1.2zM261.3 166.7h1.2v1.2h-1.2zM272.7 166.7h1.2v1.2h-1.2zM273.7 166.7h1.2v1.2h-1.2zM274.8 166.7h1.2v1.2h-1.2zM278.9 166.7h1.2v1.2h-1.2zM281.0 166.7h1.2v1.2h-1.2zM285.2 166.7h1.2v1.2h-1.2zM286.2 166.7h1.2v1.2h-1.2zM287.3 166.7h1.2v1.2h-1.2zM294.6 166.7h1.2v1.2h-1.2zM75.7 165.8h1.2v1.2h-1.2zM76.7 165.8h1.2v1.2h-1.2zM77.7 165.8h1.2v1.2h-1.2zM81.9 165.8h1.2v1.2h-1.2zM97.4 165.8h1.2v1.2h-1.2zM98.4 165.8h1.2v1.2h-1.2zM99.4 165.8h1.2v1.2h-1.2zM100.5 165.8h1.2v1.2h-1.2zM101.5 165.8h1.2v1.2h-1.2zM111.8 165.8h1.2v1.2h-1.2zM113.9 165.8h1.2v1.2h-1.2zM114.9 165.8h1.2v1.2h-1.2zM116.0 165.8h1.2v1.2h-1.2zM120.1 165.8h1.2v1.2h-1.2zM121.1 165.8h1.2v1.2h-1.2zM122.2 165.8h1.2v1.2h-1.2zM123.2 165.8h1.2v1.2h-1.2zM124.2 165.8h1.2v1.2h-1.2zM125.3 165.8h1.2v1.2h-1.2zM170.8 165.8h1.2v1.2h-1.2zM174.9 165.8h1.2v1.2h-1.2zM178.0 165.8h1.2v1.2h-1.2zM180.1 165.8h1.2v1.2h-1.2zM181.1 165.8h1.2v1.2h-1.2zM182.1 165.8h1.2v1.2h-1.2zM183.2 165.8h1.2v1.2h-1.2zM184.2 165.8h1.2v1.2h-1.2zM192.5 165.8h1.2v1.2h-1.2zM195.6 165.8h1.2v1.2h-1.2zM198.7 165.8h1.2v1.2h-1.2zM201.8 165.8h1.2v1.2h-1.2zM202.8 165.8h1.2v1.2h-1.2zM209.0 165.8h1.2v1.2h-1.2zM210.0 165.8h1.2v1.2h-1.2zM211.1 165.8h1.2v1.2h-1.2zM214.2 165.8h1.2v1.2h-1.2zM215.2 165.8h1.2v1.2h-1.2zM216.2 165.8h1.2v1.2h-1.2zM220.4 165.8h1.2v1.2h-1.2zM221.4 165.8h1.2v1.2h-1.2zM222.5 165.8h1.2v1.2h-1.2zM232.8 165.8h1.2v1.2h-1.2zM235.9 165.8h1.2v1.2h-1.2zM236.9 165.8h1.2v1.2h-1.2zM239.0 165.8h1.2v1.2h-1.2zM240.0 165.8h1.2v1.2h-1.2zM241.1 165.8h1.2v1.2h-1.2zM245.2 165.8h1.2v1.2h-1.2zM246.2 165.8h1.2v1.2h-1.2zM247.3 165.8h1.2v1.2h-1.2zM249.3 165.8h1.2v1.2h-1.2zM251.4 165.8h1.2v1.2h-1.2zM255.5 165.8h1.2v1.2h-1.2zM256.6 165.8h1.2v1.2h-1.2zM257.6 165.8h1.2v1.2h-1.2zM258.6 165.8h1.2v1.2h-1.2zM273.1 165.8h1.2v1.2h-1.2zM274.1 165.8h1.2v1.2h-1.2zM277.2 165.8h1.2v1.2h-1.2zM278.3 165.8h1.2v1.2h-1.2zM279.3 165.8h1.2v1.2h-1.2zM303.1 165.8h1.2v1.2h-1.2zM68.1 164.8h1.2v1.2h-1.2zM70.2 164.8h1.2v1.2h-1.2zM75.3 164.8h1.2v1.2h-1.2zM76.3 164.8h1.2v1.2h-1.2zM77.4 164.8h1.2v1.2h-1.2zM78.4 164.8h1.2v1.2h-1.2zM82.5 164.8h1.2v1.2h-1.2zM87.6 164.8h1.2v1.2h-1.2zM93.8 164.8h1.2v1.2h-1.2zM94.8 164.8h1.2v1.2h-1.2zM101.0 164.8h1.2v1.2h-1.2zM102.0 164.8h1.2v1.2h-1.2zM104.1 164.8h1.2v1.2h-1.2zM114.3 164.8h1.2v1.2h-1.2zM115.3 164.8h1.2v1.2h-1.2zM117.4 164.8h1.2v1.2h-1.2zM118.4 164.8h1.2v1.2h-1.2zM119.5 164.8h1.2v1.2h-1.2zM120.5 164.8h1.2v1.2h-1.2zM121.5 164.8h1.2v1.2h-1.2zM122.5 164.8h1.2v1.2h-1.2zM124.6 164.8h1.2v1.2h-1.2zM173.9 164.8h1.2v1.2h-1.2zM174.9 164.8h1.2v1.2h-1.2zM179.0 164.8h1.2v1.2h-1.2zM181.1 164.8h1.2v1.2h-1.2zM182.1 164.8h1.2v1.2h-1.2zM183.1 164.8h1.2v1.2h-1.2zM184.1 164.8h1.2v1.2h-1.2zM189.3 164.8h1.2v1.2h-1.2zM190.3 164.8h1.2v1.2h-1.2zM191.3 164.8h1.2v1.2h-1.2zM192.4 164.8h1.2v1.2h-1.2zM193.4 164.8h1.2v1.2h-1.2zM199.5 164.8h1.2v1.2h-1.2zM201.6 164.8h1.2v1.2h-1.2zM207.8 164.8h1.2v1.2h-1.2zM209.8 164.8h1.2v1.2h-1.2zM211.9 164.8h1.2v1.2h-1.2zM213.9 164.8h1.2v1.2h-1.2zM214.9 164.8h1.2v1.2h-1.2zM221.1 164.8h1.2v1.2h-1.2zM222.1 164.8h1.2v1.2h-1.2zM227.3 164.8h1.2v1.2h-1.2zM230.3 164.8h1.2v1.2h-1.2zM233.4 164.8h1.2v1.2h-1.2zM234.5 164.8h1.2v1.2h-1.2zM235.5 164.8h1.2v1.2h-1.2zM236.5 164.8h1.2v1.2h-1.2zM237.5 164.8h1.2v1.2h-1.2zM239.6 164.8h1.2v1.2h-1.2zM240.6 164.8h1.2v1.2h-1.2zM241.6 164.8h1.2v1.2h-1.2zM242.7 164.8h1.2v1.2h-1.2zM246.8 164.8h1.2v1.2h-1.2zM249.9 164.8h1.2v1.2h-1.2zM254.0 164.8h1.2v1.2h-1.2zM257.0 164.8h1.2v1.2h-1.2zM259.1 164.8h1.2v1.2h-1.2zM272.4 164.8h1.2v1.2h-1.2zM273.5 164.8h1.2v1.2h-1.2zM274.5 164.8h1.2v1.2h-1.2zM275.5 164.8h1.2v1.2h-1.2zM277.6 164.8h1.2v1.2h-1.2zM321.7 164.8h1.2v1.2h-1.2zM29.1 163.8h1.2v1.2h-1.2zM31.1 163.8h1.2v1.2h-1.2zM67.8 163.8h1.2v1.2h-1.2zM69.9 163.8h1.2v1.2h-1.2zM70.9 163.8h1.2v1.2h-1.2zM78.0 163.8h1.2v1.2h-1.2zM81.1 163.8h1.2v1.2h-1.2zM84.2 163.8h1.2v1.2h-1.2zM85.2 163.8h1.2v1.2h-1.2zM88.2 163.8h1.2v1.2h-1.2zM90.3 163.8h1.2v1.2h-1.2zM94.4 163.8h1.2v1.2h-1.2zM96.4 163.8h1.2v1.2h-1.2zM99.5 163.8h1.2v1.2h-1.2zM101.5 163.8h1.2v1.2h-1.2zM102.5 163.8h1.2v1.2h-1.2zM104.6 163.8h1.2v1.2h-1.2zM105.6 163.8h1.2v1.2h-1.2zM109.6 163.8h1.2v1.2h-1.2zM114.7 163.8h1.2v1.2h-1.2zM115.8 163.8h1.2v1.2h-1.2zM116.8 163.8h1.2v1.2h-1.2zM117.8 163.8h1.2v1.2h-1.2zM118.8 163.8h1.2v1.2h-1.2zM174.9 163.8h1.2v1.2h-1.2zM175.9 163.8h1.2v1.2h-1.2zM178.0 163.8h1.2v1.2h-1.2zM179.0 163.8h1.2v1.2h-1.2zM180.0 163.8h1.2v1.2h-1.2zM181.0 163.8h1.2v1.2h-1.2zM182.0 163.8h1.2v1.2h-1.2zM183.1 163.8h1.2v1.2h-1.2zM184.1 163.8h1.2v1.2h-1.2zM185.1 163.8h1.2v1.2h-1.2zM188.2 163.8h1.2v1.2h-1.2zM190.2 163.8h1.2v1.2h-1.2zM192.2 163.8h1.2v1.2h-1.2zM193.3 163.8h1.2v1.2h-1.2zM195.3 163.8h1.2v1.2h-1.2zM196.3 163.8h1.2v1.2h-1.2zM197.3 163.8h1.2v1.2h-1.2zM200.4 163.8h1.2v1.2h-1.2zM201.4 163.8h1.2v1.2h-1.2zM202.4 163.8h1.2v1.2h-1.2zM208.5 163.8h1.2v1.2h-1.2zM209.6 163.8h1.2v1.2h-1.2zM210.6 163.8h1.2v1.2h-1.2zM211.6 163.8h1.2v1.2h-1.2zM212.6 163.8h1.2v1.2h-1.2zM213.6 163.8h1.2v1.2h-1.2zM214.7 163.8h1.2v1.2h-1.2zM219.8 163.8h1.2v1.2h-1.2zM225.9 163.8h1.2v1.2h-1.2zM227.9 163.8h1.2v1.2h-1.2zM236.1 163.8h1.2v1.2h-1.2zM237.1 163.8h1.2v1.2h-1.2zM239.1 163.8h1.2v1.2h-1.2zM240.2 163.8h1.2v1.2h-1.2zM241.2 163.8h1.2v1.2h-1.2zM256.5 163.8h1.2v1.2h-1.2zM258.5 163.8h1.2v1.2h-1.2zM259.5 163.8h1.2v1.2h-1.2zM270.7 163.8h1.2v1.2h-1.2zM272.8 163.8h1.2v1.2h-1.2zM273.8 163.8h1.2v1.2h-1.2zM274.8 163.8h1.2v1.2h-1.2zM275.8 163.8h1.2v1.2h-1.2zM276.9 163.8h1.2v1.2h-1.2zM277.9 163.8h1.2v1.2h-1.2zM279.9 163.8h1.2v1.2h-1.2zM291.1 163.8h1.2v1.2h-1.2zM302.3 163.8h1.2v1.2h-1.2zM303.4 163.8h1.2v1.2h-1.2zM320.7 163.8h1.2v1.2h-1.2zM36.2 162.8h1.2v1.2h-1.2zM37.2 162.8h1.2v1.2h-1.2zM38.3 162.8h1.2v1.2h-1.2zM39.3 162.8h1.2v1.2h-1.2zM67.6 162.8h1.2v1.2h-1.2zM71.7 162.8h1.2v1.2h-1.2zM72.7 162.8h1.2v1.2h-1.2zM78.7 162.8h1.2v1.2h-1.2zM86.8 162.8h1.2v1.2h-1.2zM87.9 162.8h1.2v1.2h-1.2zM94.9 162.8h1.2v1.2h-1.2zM97.0 162.8h1.2v1.2h-1.2zM98.0 162.8h1.2v1.2h-1.2zM101.0 162.8h1.2v1.2h-1.2zM103.0 162.8h1.2v1.2h-1.2zM106.1 162.8h1.2v1.2h-1.2zM112.1 162.8h1.2v1.2h-1.2zM124.3 162.8h1.2v1.2h-1.2zM125.3 162.8h1.2v1.2h-1.2zM126.3 162.8h1.2v1.2h-1.2zM128.3 162.8h1.2v1.2h-1.2zM168.8 162.8h1.2v1.2h-1.2zM170.9 162.8h1.2v1.2h-1.2zM171.9 162.8h1.2v1.2h-1.2zM174.9 162.8h1.2v1.2h-1.2zM177.9 162.8h1.2v1.2h-1.2zM178.9 162.8h1.2v1.2h-1.2zM180.0 162.8h1.2v1.2h-1.2zM181.0 162.8h1.2v1.2h-1.2zM183.0 162.8h1.2v1.2h-1.2zM184.0 162.8h1.2v1.2h-1.2zM186.0 162.8h1.2v1.2h-1.2zM188.1 162.8h1.2v1.2h-1.2zM189.1 162.8h1.2v1.2h-1.2zM190.1 162.8h1.2v1.2h-1.2zM191.1 162.8h1.2v1.2h-1.2zM192.1 162.8h1.2v1.2h-1.2zM193.1 162.8h1.2v1.2h-1.2zM194.1 162.8h1.2v1.2h-1.2zM195.1 162.8h1.2v1.2h-1.2zM196.2 162.8h1.2v1.2h-1.2zM197.2 162.8h1.2v1.2h-1.2zM198.2 162.8h1.2v1.2h-1.2zM199.2 162.8h1.2v1.2h-1.2zM200.2 162.8h1.2v1.2h-1.2zM203.2 162.8h1.2v1.2h-1.2zM210.3 162.8h1.2v1.2h-1.2zM211.3 162.8h1.2v1.2h-1.2zM213.4 162.8h1.2v1.2h-1.2zM218.4 162.8h1.2v1.2h-1.2zM220.4 162.8h1.2v1.2h-1.2zM222.5 162.8h1.2v1.2h-1.2zM223.5 162.8h1.2v1.2h-1.2zM224.5 162.8h1.2v1.2h-1.2zM226.5 162.8h1.2v1.2h-1.2zM227.5 162.8h1.2v1.2h-1.2zM229.6 162.8h1.2v1.2h-1.2zM235.6 162.8h1.2v1.2h-1.2zM237.7 162.8h1.2v1.2h-1.2zM238.7 162.8h1.2v1.2h-1.2zM239.7 162.8h1.2v1.2h-1.2zM240.7 162.8h1.2v1.2h-1.2zM250.8 162.8h1.2v1.2h-1.2zM257.9 162.8h1.2v1.2h-1.2zM266.0 162.8h1.2v1.2h-1.2zM271.1 162.8h1.2v1.2h-1.2zM274.1 162.8h1.2v1.2h-1.2zM276.1 162.8h1.2v1.2h-1.2zM277.1 162.8h1.2v1.2h-1.2zM278.1 162.8h1.2v1.2h-1.2zM287.3 162.8h1.2v1.2h-1.2zM289.3 162.8h1.2v1.2h-1.2zM302.4 162.8h1.2v1.2h-1.2zM39.3 161.9h1.2v1.2h-1.2zM40.3 161.9h1.2v1.2h-1.2zM69.4 161.9h1.2v1.2h-1.2zM70.4 161.9h1.2v1.2h-1.2zM71.4 161.9h1.2v1.2h-1.2zM72.4 161.9h1.2v1.2h-1.2zM73.4 161.9h1.2v1.2h-1.2zM75.4 161.9h1.2v1.2h-1.2zM81.5 161.9h1.2v1.2h-1.2zM86.5 161.9h1.2v1.2h-1.2zM93.5 161.9h1.2v1.2h-1.2zM94.5 161.9h1.2v1.2h-1.2zM97.5 161.9h1.2v1.2h-1.2zM99.6 161.9h1.2v1.2h-1.2zM111.6 161.9h1.2v1.2h-1.2zM112.6 161.9h1.2v1.2h-1.2zM113.6 161.9h1.2v1.2h-1.2zM114.6 161.9h1.2v1.2h-1.2zM115.6 161.9h1.2v1.2h-1.2zM125.7 161.9h1.2v1.2h-1.2zM127.7 161.9h1.2v1.2h-1.2zM168.9 161.9h1.2v1.2h-1.2zM169.9 161.9h1.2v1.2h-1.2zM171.9 161.9h1.2v1.2h-1.2zM172.9 161.9h1.2v1.2h-1.2zM179.9 161.9h1.2v1.2h-1.2zM180.9 161.9h1.2v1.2h-1.2zM181.9 161.9h1.2v1.2h-1.2zM182.9 161.9h1.2v1.2h-1.2zM183.9 161.9h1.2v1.2h-1.2zM187.0 161.9h1.2v1.2h-1.2zM188.0 161.9h1.2v1.2h-1.2zM189.0 161.9h1.2v1.2h-1.2zM193.0 161.9h1.2v1.2h-1.2zM194.0 161.9h1.2v1.2h-1.2zM195.0 161.9h1.2v1.2h-1.2zM196.0 161.9h1.2v1.2h-1.2zM197.0 161.9h1.2v1.2h-1.2zM198.0 161.9h1.2v1.2h-1.2zM199.0 161.9h1.2v1.2h-1.2zM200.0 161.9h1.2v1.2h-1.2zM201.0 161.9h1.2v1.2h-1.2zM202.0 161.9h1.2v1.2h-1.2zM212.1 161.9h1.2v1.2h-1.2zM213.1 161.9h1.2v1.2h-1.2zM220.1 161.9h1.2v1.2h-1.2zM223.1 161.9h1.2v1.2h-1.2zM224.1 161.9h1.2v1.2h-1.2zM226.1 161.9h1.2v1.2h-1.2zM228.1 161.9h1.2v1.2h-1.2zM231.2 161.9h1.2v1.2h-1.2zM232.2 161.9h1.2v1.2h-1.2zM234.2 161.9h1.2v1.2h-1.2zM235.2 161.9h1.2v1.2h-1.2zM236.2 161.9h1.2v1.2h-1.2zM238.2 161.9h1.2v1.2h-1.2zM239.2 161.9h1.2v1.2h-1.2zM240.2 161.9h1.2v1.2h-1.2zM251.3 161.9h1.2v1.2h-1.2zM252.3 161.9h1.2v1.2h-1.2zM253.3 161.9h1.2v1.2h-1.2zM254.3 161.9h1.2v1.2h-1.2zM255.3 161.9h1.2v1.2h-1.2zM261.3 161.9h1.2v1.2h-1.2zM262.3 161.9h1.2v1.2h-1.2zM265.3 161.9h1.2v1.2h-1.2zM266.3 161.9h1.2v1.2h-1.2zM271.3 161.9h1.2v1.2h-1.2zM275.4 161.9h1.2v1.2h-1.2zM277.4 161.9h1.2v1.2h-1.2zM287.4 161.9h1.2v1.2h-1.2zM288.4 161.9h1.2v1.2h-1.2zM300.5 161.9h1.2v1.2h-1.2zM301.5 161.9h1.2v1.2h-1.2zM70.2 160.9h1.2v1.2h-1.2zM71.2 160.9h1.2v1.2h-1.2zM72.2 160.9h1.2v1.2h-1.2zM73.2 160.9h1.2v1.2h-1.2zM74.2 160.9h1.2v1.2h-1.2zM75.2 160.9h1.2v1.2h-1.2zM76.2 160.9h1.2v1.2h-1.2zM77.2 160.9h1.2v1.2h-1.2zM94.1 160.9h1.2v1.2h-1.2zM98.1 160.9h1.2v1.2h-1.2zM102.1 160.9h1.2v1.2h-1.2zM103.1 160.9h1.2v1.2h-1.2zM104.1 160.9h1.2v1.2h-1.2zM112.1 160.9h1.2v1.2h-1.2zM113.1 160.9h1.2v1.2h-1.2zM114.1 160.9h1.2v1.2h-1.2zM116.1 160.9h1.2v1.2h-1.2zM118.1 160.9h1.2v1.2h-1.2zM119.1 160.9h1.2v1.2h-1.2zM124.1 160.9h1.2v1.2h-1.2zM125.1 160.9h1.2v1.2h-1.2zM127.0 160.9h1.2v1.2h-1.2zM168.9 160.9h1.2v1.2h-1.2zM170.9 160.9h1.2v1.2h-1.2zM173.9 160.9h1.2v1.2h-1.2zM180.9 160.9h1.2v1.2h-1.2zM187.9 160.9h1.2v1.2h-1.2zM188.9 160.9h1.2v1.2h-1.2zM189.9 160.9h1.2v1.2h-1.2zM192.8 160.9h1.2v1.2h-1.2zM193.8 160.9h1.2v1.2h-1.2zM195.8 160.9h1.2v1.2h-1.2zM198.8 160.9h1.2v1.2h-1.2zM199.8 160.9h1.2v1.2h-1.2zM200.8 160.9h1.2v1.2h-1.2zM203.8 160.9h1.2v1.2h-1.2zM213.8 160.9h1.2v1.2h-1.2zM218.8 160.9h1.2v1.2h-1.2zM220.8 160.9h1.2v1.2h-1.2zM227.7 160.9h1.2v1.2h-1.2zM230.7 160.9h1.2v1.2h-1.2zM231.7 160.9h1.2v1.2h-1.2zM234.7 160.9h1.2v1.2h-1.2zM235.7 160.9h1.2v1.2h-1.2zM238.7 160.9h1.2v1.2h-1.2zM239.7 160.9h1.2v1.2h-1.2zM241.7 160.9h1.2v1.2h-1.2zM249.7 160.9h1.2v1.2h-1.2zM250.7 160.9h1.2v1.2h-1.2zM251.7 160.9h1.2v1.2h-1.2zM252.7 160.9h1.2v1.2h-1.2zM253.7 160.9h1.2v1.2h-1.2zM261.6 160.9h1.2v1.2h-1.2zM262.6 160.9h1.2v1.2h-1.2zM263.6 160.9h1.2v1.2h-1.2zM264.6 160.9h1.2v1.2h-1.2zM265.6 160.9h1.2v1.2h-1.2zM272.6 160.9h1.2v1.2h-1.2zM273.6 160.9h1.2v1.2h-1.2zM278.6 160.9h1.2v1.2h-1.2zM298.5 160.9h1.2v1.2h-1.2zM299.5 160.9h1.2v1.2h-1.2zM47.3 160.0h1.2v1.2h-1.2zM48.3 160.0h1.2v1.2h-1.2zM49.3 160.0h1.2v1.2h-1.2zM72.0 160.0h1.2v1.2h-1.2zM73.0 160.0h1.2v1.2h-1.2zM74.0 160.0h1.2v1.2h-1.2zM75.0 160.0h1.2v1.2h-1.2zM76.0 160.0h1.2v1.2h-1.2zM77.0 160.0h1.2v1.2h-1.2zM78.0 160.0h1.2v1.2h-1.2zM80.9 160.0h1.2v1.2h-1.2zM92.8 160.0h1.2v1.2h-1.2zM93.8 160.0h1.2v1.2h-1.2zM101.7 160.0h1.2v1.2h-1.2zM112.6 160.0h1.2v1.2h-1.2zM114.6 160.0h1.2v1.2h-1.2zM115.6 160.0h1.2v1.2h-1.2zM116.5 160.0h1.2v1.2h-1.2zM117.5 160.0h1.2v1.2h-1.2zM118.5 160.0h1.2v1.2h-1.2zM119.5 160.0h1.2v1.2h-1.2zM125.4 160.0h1.2v1.2h-1.2zM126.4 160.0h1.2v1.2h-1.2zM171.9 160.0h1.2v1.2h-1.2zM172.9 160.0h1.2v1.2h-1.2zM180.8 160.0h1.2v1.2h-1.2zM182.8 160.0h1.2v1.2h-1.2zM190.7 160.0h1.2v1.2h-1.2zM191.7 160.0h1.2v1.2h-1.2zM192.7 160.0h1.2v1.2h-1.2zM193.7 160.0h1.2v1.2h-1.2zM195.7 160.0h1.2v1.2h-1.2zM196.7 160.0h1.2v1.2h-1.2zM198.6 160.0h1.2v1.2h-1.2zM199.6 160.0h1.2v1.2h-1.2zM220.4 160.0h1.2v1.2h-1.2zM221.4 160.0h1.2v1.2h-1.2zM233.3 160.0h1.2v1.2h-1.2zM236.2 160.0h1.2v1.2h-1.2zM237.2 160.0h1.2v1.2h-1.2zM248.1 160.0h1.2v1.2h-1.2zM249.1 160.0h1.2v1.2h-1.2zM250.1 160.0h1.2v1.2h-1.2zM251.1 160.0h1.2v1.2h-1.2zM252.0 160.0h1.2v1.2h-1.2zM254.0 160.0h1.2v1.2h-1.2zM256.0 160.0h1.2v1.2h-1.2zM257.0 160.0h1.2v1.2h-1.2zM260.0 160.0h1.2v1.2h-1.2zM260.9 160.0h1.2v1.2h-1.2zM263.9 160.0h1.2v1.2h-1.2zM264.9 160.0h1.2v1.2h-1.2zM265.9 160.0h1.2v1.2h-1.2zM272.8 160.0h1.2v1.2h-1.2zM278.8 160.0h1.2v1.2h-1.2zM300.5 160.0h1.2v1.2h-1.2zM48.3 159.0h1.2v1.1h-1.2zM51.3 159.0h1.2v1.1h-1.2zM52.3 159.0h1.2v1.1h-1.2zM72.9 159.0h1.2v1.1h-1.2zM74.8 159.0h1.2v1.1h-1.2zM75.8 159.0h1.2v1.1h-1.2zM77.8 159.0h1.2v1.1h-1.2zM80.7 159.0h1.2v1.1h-1.2zM81.7 159.0h1.2v1.1h-1.2zM82.7 159.0h1.2v1.1h-1.2zM83.7 159.0h1.2v1.1h-1.2zM92.5 159.0h1.2v1.1h-1.2zM97.4 159.0h1.2v1.1h-1.2zM101.3 159.0h1.2v1.1h-1.2zM102.3 159.0h1.2v1.1h-1.2zM114.1 159.0h1.2v1.1h-1.2zM115.1 159.0h1.2v1.1h-1.2zM116.0 159.0h1.2v1.1h-1.2zM117.0 159.0h1.2v1.1h-1.2zM120.0 159.0h1.2v1.1h-1.2zM123.9 159.0h1.2v1.1h-1.2zM125.8 159.0h1.2v1.1h-1.2zM171.0 159.0h1.2v1.1h-1.2zM172.0 159.0h1.2v1.1h-1.2zM172.9 159.0h1.2v1.1h-1.2zM180.8 159.0h1.2v1.1h-1.2zM182.7 159.0h1.2v1.1h-1.2zM183.7 159.0h1.2v1.1h-1.2zM184.7 159.0h1.2v1.1h-1.2zM185.7 159.0h1.2v1.1h-1.2zM187.7 159.0h1.2v1.1h-1.2zM191.6 159.0h1.2v1.1h-1.2zM192.6 159.0h1.2v1.1h-1.2zM194.5 159.0h1.2v1.1h-1.2zM195.5 159.0h1.2v1.1h-1.2zM200.4 159.0h1.2v1.1h-1.2zM203.4 159.0h1.2v1.1h-1.2zM204.3 159.0h1.2v1.1h-1.2zM208.3 159.0h1.2v1.1h-1.2zM221.0 159.0h1.2v1.1h-1.2zM222.0 159.0h1.2v1.1h-1.2zM224.9 159.0h1.2v1.1h-1.2zM226.9 159.0h1.2v1.1h-1.2zM232.8 159.0h1.2v1.1h-1.2zM237.7 159.0h1.2v1.1h-1.2zM239.7 159.0h1.2v1.1h-1.2zM240.6 159.0h1.2v1.1h-1.2zM263.2 159.0h1.2v1.1h-1.2zM265.2 159.0h1.2v1.1h-1.2zM276.0 159.0h1.2v1.1h-1.2zM277.9 159.0h1.2v1.1h-1.2zM281.8 159.0h1.2v1.1h-1.2zM50.4 158.1h1.2v1.1h-1.2zM52.3 158.1h1.2v1.1h-1.2zM53.3 158.1h1.2v1.1h-1.2zM54.2 158.1h1.2v1.1h-1.2zM55.2 158.1h1.2v1.1h-1.2zM74.7 158.1h1.2v1.1h-1.2zM75.7 158.1h1.2v1.1h-1.2zM76.6 158.1h1.2v1.1h-1.2zM78.6 158.1h1.2v1.1h-1.2zM79.5 158.1h1.2v1.1h-1.2zM80.5 158.1h1.2v1.1h-1.2zM81.5 158.1h1.2v1.1h-1.2zM82.5 158.1h1.2v1.1h-1.2zM83.4 158.1h1.2v1.1h-1.2zM92.2 158.1h1.2v1.1h-1.2zM93.2 158.1h1.2v1.1h-1.2zM101.0 158.1h1.2v1.1h-1.2zM101.9 158.1h1.2v1.1h-1.2zM102.9 158.1h1.2v1.1h-1.2zM114.6 158.1h1.2v1.1h-1.2zM115.5 158.1h1.2v1.1h-1.2zM116.5 158.1h1.2v1.1h-1.2zM117.5 158.1h1.2v1.1h-1.2zM119.4 158.1h1.2v1.1h-1.2zM120.4 158.1h1.2v1.1h-1.2zM170.0 158.1h1.2v1.1h-1.2zM171.0 158.1h1.2v1.1h-1.2zM183.7 158.1h1.2v1.1h-1.2zM185.6 158.1h1.2v1.1h-1.2zM186.6 158.1h1.2v1.1h-1.2zM187.5 158.1h1.2v1.1h-1.2zM191.4 158.1h1.2v1.1h-1.2zM192.4 158.1h1.2v1.1h-1.2zM194.4 158.1h1.2v1.1h-1.2zM200.2 158.1h1.2v1.1h-1.2zM202.1 158.1h1.2v1.1h-1.2zM204.1 158.1h1.2v1.1h-1.2zM216.7 158.1h1.2v1.1h-1.2zM220.6 158.1h1.2v1.1h-1.2zM231.3 158.1h1.2v1.1h-1.2zM232.3 158.1h1.2v1.1h-1.2zM233.3 158.1h1.2v1.1h-1.2zM245.0 158.1h1.2v1.1h-1.2zM250.8 158.1h1.2v1.1h-1.2zM252.7 158.1h1.2v1.1h-1.2zM261.5 158.1h1.2v1.1h-1.2zM263.4 158.1h1.2v1.1h-1.2zM264.4 158.1h1.2v1.1h-1.2zM265.4 158.1h1.2v1.1h-1.2zM270.3 158.1h1.2v1.1h-1.2zM271.2 158.1h1.2v1.1h-1.2zM274.1 158.1h1.2v1.1h-1.2zM49.5 157.1h1.2v1.1h-1.2zM50.4 157.1h1.2v1.1h-1.2zM52.4 157.1h1.2v1.1h-1.2zM53.3 157.1h1.2v1.1h-1.2zM55.3 157.1h1.2v1.1h-1.2zM69.7 157.1h1.2v1.1h-1.2zM71.7 157.1h1.2v1.1h-1.2zM74.6 157.1h1.2v1.1h-1.2zM75.5 157.1h1.2v1.1h-1.2zM76.5 157.1h1.2v1.1h-1.2zM77.5 157.1h1.2v1.1h-1.2zM78.4 157.1h1.2v1.1h-1.2zM80.4 157.1h1.2v1.1h-1.2zM83.2 157.1h1.2v1.1h-1.2zM84.2 157.1h1.2v1.1h-1.2zM87.1 157.1h1.2v1.1h-1.2zM89.0 157.1h1.2v1.1h-1.2zM91.9 157.1h1.2v1.1h-1.2zM92.9 157.1h1.2v1.1h-1.2zM93.9 157.1h1.2v1.1h-1.2zM115.1 157.1h1.2v1.1h-1.2zM116.0 157.1h1.2v1.1h-1.2zM117.0 157.1h1.2v1.1h-1.2zM118.0 157.1h1.2v1.1h-1.2zM118.9 157.1h1.2v1.1h-1.2zM119.9 157.1h1.2v1.1h-1.2zM120.9 157.1h1.2v1.1h-1.2zM123.8 157.1h1.2v1.1h-1.2zM124.7 157.1h1.2v1.1h-1.2zM125.7 157.1h1.2v1.1h-1.2zM171.0 157.1h1.2v1.1h-1.2zM172.0 157.1h1.2v1.1h-1.2zM178.8 157.1h1.2v1.1h-1.2zM180.7 157.1h1.2v1.1h-1.2zM183.6 157.1h1.2v1.1h-1.2zM184.5 157.1h1.2v1.1h-1.2zM185.5 157.1h1.2v1.1h-1.2zM186.5 157.1h1.2v1.1h-1.2zM187.4 157.1h1.2v1.1h-1.2zM188.4 157.1h1.2v1.1h-1.2zM192.3 157.1h1.2v1.1h-1.2zM193.2 157.1h1.2v1.1h-1.2zM196.1 157.1h1.2v1.1h-1.2zM199.0 157.1h1.2v1.1h-1.2zM200.9 157.1h1.2v1.1h-1.2zM201.9 157.1h1.2v1.1h-1.2zM202.9 157.1h1.2v1.1h-1.2zM212.5 157.1h1.2v1.1h-1.2zM214.5 157.1h1.2v1.1h-1.2zM215.4 157.1h1.2v1.1h-1.2zM216.4 157.1h1.2v1.1h-1.2zM218.3 157.1h1.2v1.1h-1.2zM219.3 157.1h1.2v1.1h-1.2zM220.2 157.1h1.2v1.1h-1.2zM223.1 157.1h1.2v1.1h-1.2zM230.9 157.1h1.2v1.1h-1.2zM231.8 157.1h1.2v1.1h-1.2zM232.8 157.1h1.2v1.1h-1.2zM233.8 157.1h1.2v1.1h-1.2zM235.7 157.1h1.2v1.1h-1.2zM236.6 157.1h1.2v1.1h-1.2zM238.6 157.1h1.2v1.1h-1.2zM251.1 157.1h1.2v1.1h-1.2zM256.9 157.1h1.2v1.1h-1.2zM257.9 157.1h1.2v1.1h-1.2zM258.8 157.1h1.2v1.1h-1.2zM262.7 157.1h1.2v1.1h-1.2zM269.4 157.1h1.2v1.1h-1.2zM273.3 157.1h1.2v1.1h-1.2zM276.2 157.1h1.2v1.1h-1.2zM282.0 157.1h1.2v1.1h-1.2zM283.0 157.1h1.2v1.1h-1.2zM300.3 157.1h1.2v1.1h-1.2zM54.4 156.2h1.2v1.1h-1.2zM55.3 156.2h1.2v1.1h-1.2zM56.3 156.2h1.2v1.1h-1.2zM57.3 156.2h1.2v1.1h-1.2zM59.2 156.2h1.2v1.1h-1.2zM60.1 156.2h1.2v1.1h-1.2zM61.1 156.2h1.2v1.1h-1.2zM66.8 156.2h1.2v1.1h-1.2zM70.6 156.2h1.2v1.1h-1.2zM75.4 156.2h1.2v1.1h-1.2zM78.3 156.2h1.2v1.1h-1.2zM83.1 156.2h1.2v1.1h-1.2zM84.0 156.2h1.2v1.1h-1.2zM85.0 156.2h1.2v1.1h-1.2zM87.9 156.2h1.2v1.1h-1.2zM88.8 156.2h1.2v1.1h-1.2zM89.8 156.2h1.2v1.1h-1.2zM90.7 156.2h1.2v1.1h-1.2zM93.6 156.2h1.2v1.1h-1.2zM94.6 156.2h1.2v1.1h-1.2zM99.3 156.2h1.2v1.1h-1.2zM101.3 156.2h1.2v1.1h-1.2zM102.2 156.2h1.2v1.1h-1.2zM115.6 156.2h1.2v1.1h-1.2zM116.6 156.2h1.2v1.1h-1.2zM118.5 156.2h1.2v1.1h-1.2zM124.2 156.2h1.2v1.1h-1.2zM125.2 156.2h1.2v1.1h-1.2zM183.5 156.2h1.2v1.1h-1.2zM189.2 156.2h1.2v1.1h-1.2zM190.2 156.2h1.2v1.1h-1.2zM192.1 156.2h1.2v1.1h-1.2zM193.1 156.2h1.2v1.1h-1.2zM195.0 156.2h1.2v1.1h-1.2zM195.9 156.2h1.2v1.1h-1.2zM199.8 156.2h1.2v1.1h-1.2zM200.7 156.2h1.2v1.1h-1.2zM201.7 156.2h1.2v1.1h-1.2zM210.3 156.2h1.2v1.1h-1.2zM215.1 156.2h1.2v1.1h-1.2zM216.0 156.2h1.2v1.1h-1.2zM217.9 156.2h1.2v1.1h-1.2zM219.9 156.2h1.2v1.1h-1.2zM228.5 156.2h1.2v1.1h-1.2zM232.3 156.2h1.2v1.1h-1.2zM234.2 156.2h1.2v1.1h-1.2zM235.2 156.2h1.2v1.1h-1.2zM242.8 156.2h1.2v1.1h-1.2zM246.6 156.2h1.2v1.1h-1.2zM251.4 156.2h1.2v1.1h-1.2zM256.2 156.2h1.2v1.1h-1.2zM259.1 156.2h1.2v1.1h-1.2zM268.6 156.2h1.2v1.1h-1.2zM269.6 156.2h1.2v1.1h-1.2zM270.5 156.2h1.2v1.1h-1.2zM271.5 156.2h1.2v1.1h-1.2zM272.5 156.2h1.2v1.1h-1.2zM273.4 156.2h1.2v1.1h-1.2zM275.3 156.2h1.2v1.1h-1.2zM281.1 156.2h1.2v1.1h-1.2zM284.9 156.2h1.2v1.1h-1.2zM285.8 156.2h1.2v1.1h-1.2zM286.8 156.2h1.2v1.1h-1.2zM297.3 156.2h1.2v1.1h-1.2zM298.3 156.2h1.2v1.1h-1.2zM299.2 156.2h1.2v1.1h-1.2zM300.2 156.2h1.2v1.1h-1.2zM50.7 155.3h1.1v1.1h-1.1zM51.7 155.3h1.1v1.1h-1.1zM52.6 155.3h1.1v1.1h-1.1zM58.3 155.3h1.1v1.1h-1.1zM60.2 155.3h1.1v1.1h-1.1zM61.1 155.3h1.1v1.1h-1.1zM64.0 155.3h1.1v1.1h-1.1zM64.9 155.3h1.1v1.1h-1.1zM68.7 155.3h1.1v1.1h-1.1zM69.7 155.3h1.1v1.1h-1.1zM72.5 155.3h1.1v1.1h-1.1zM75.4 155.3h1.1v1.1h-1.1zM76.3 155.3h1.1v1.1h-1.1zM77.3 155.3h1.1v1.1h-1.1zM78.2 155.3h1.1v1.1h-1.1zM82.0 155.3h1.1v1.1h-1.1zM83.9 155.3h1.1v1.1h-1.1zM84.8 155.3h1.1v1.1h-1.1zM85.8 155.3h1.1v1.1h-1.1zM86.7 155.3h1.1v1.1h-1.1zM87.7 155.3h1.1v1.1h-1.1zM89.6 155.3h1.1v1.1h-1.1zM90.5 155.3h1.1v1.1h-1.1zM91.5 155.3h1.1v1.1h-1.1zM93.4 155.3h1.1v1.1h-1.1zM99.1 155.3h1.1v1.1h-1.1zM100.0 155.3h1.1v1.1h-1.1zM101.0 155.3h1.1v1.1h-1.1zM119.0 155.3h1.1v1.1h-1.1zM119.9 155.3h1.1v1.1h-1.1zM178.7 155.3h1.1v1.1h-1.1zM181.5 155.3h1.1v1.1h-1.1zM184.4 155.3h1.1v1.1h-1.1zM188.2 155.3h1.1v1.1h-1.1zM192.9 155.3h1.1v1.1h-1.1zM193.9 155.3h1.1v1.1h-1.1zM194.8 155.3h1.1v1.1h-1.1zM195.8 155.3h1.1v1.1h-1.1zM199.5 155.3h1.1v1.1h-1.1zM200.5 155.3h1.1v1.1h-1.1zM210.0 155.3h1.1v1.1h-1.1zM210.9 155.3h1.1v1.1h-1.1zM214.7 155.3h1.1v1.1h-1.1zM216.6 155.3h1.1v1.1h-1.1zM217.6 155.3h1.1v1.1h-1.1zM218.5 155.3h1.1v1.1h-1.1zM222.3 155.3h1.1v1.1h-1.1zM224.2 155.3h1.1v1.1h-1.1zM228.0 155.3h1.1v1.1h-1.1zM229.9 155.3h1.1v1.1h-1.1zM232.7 155.3h1.1v1.1h-1.1zM233.7 155.3h1.1v1.1h-1.1zM238.4 155.3h1.1v1.1h-1.1zM243.2 155.3h1.1v1.1h-1.1zM244.1 155.3h1.1v1.1h-1.1zM245.1 155.3h1.1v1.1h-1.1zM254.5 155.3h1.1v1.1h-1.1zM258.3 155.3h1.1v1.1h-1.1zM259.3 155.3h1.1v1.1h-1.1zM261.2 155.3h1.1v1.1h-1.1zM267.8 155.3h1.1v1.1h-1.1zM268.8 155.3h1.1v1.1h-1.1zM271.6 155.3h1.1v1.1h-1.1zM272.5 155.3h1.1v1.1h-1.1zM273.5 155.3h1.1v1.1h-1.1zM283.0 155.3h1.1v1.1h-1.1zM283.9 155.3h1.1v1.1h-1.1zM284.9 155.3h1.1v1.1h-1.1zM295.3 155.3h1.1v1.1h-1.1zM296.2 155.3h1.1v1.1h-1.1zM297.2 155.3h1.1v1.1h-1.1zM298.1 155.3h1.1v1.1h-1.1zM299.1 155.3h1.1v1.1h-1.1zM300.0 155.3h1.1v1.1h-1.1zM301.0 155.3h1.1v1.1h-1.1zM50.9 154.4h1.1v1.1h-1.1zM51.8 154.4h1.1v1.1h-1.1zM52.8 154.4h1.1v1.1h-1.1zM58.4 154.4h1.1v1.1h-1.1zM61.2 154.4h1.1v1.1h-1.1zM64.0 154.4h1.1v1.1h-1.1zM65.0 154.4h1.1v1.1h-1.1zM65.9 154.4h1.1v1.1h-1.1zM70.6 154.4h1.1v1.1h-1.1zM72.5 154.4h1.1v1.1h-1.1zM73.4 154.4h1.1v1.1h-1.1zM75.3 154.4h1.1v1.1h-1.1zM76.3 154.4h1.1v1.1h-1.1zM78.1 154.4h1.1v1.1h-1.1zM81.9 154.4h1.1v1.1h-1.1zM83.8 154.4h1.1v1.1h-1.1zM84.7 154.4h1.1v1.1h-1.1zM87.5 154.4h1.1v1.1h-1.1zM89.4 154.4h1.1v1.1h-1.1zM92.2 154.4h1.1v1.1h-1.1zM94.1 154.4h1.1v1.1h-1.1zM96.0 154.4h1.1v1.1h-1.1zM96.9 154.4h1.1v1.1h-1.1zM100.7 154.4h1.1v1.1h-1.1zM101.6 154.4h1.1v1.1h-1.1zM118.5 154.4h1.1v1.1h-1.1zM119.5 154.4h1.1v1.1h-1.1zM120.4 154.4h1.1v1.1h-1.1zM189.0 154.4h1.1v1.1h-1.1zM191.8 154.4h1.1v1.1h-1.1zM192.7 154.4h1.1v1.1h-1.1zM193.7 154.4h1.1v1.1h-1.1zM194.6 154.4h1.1v1.1h-1.1zM195.6 154.4h1.1v1.1h-1.1zM208.7 154.4h1.1v1.1h-1.1zM209.7 154.4h1.1v1.1h-1.1zM216.2 154.4h1.1v1.1h-1.1zM217.2 154.4h1.1v1.1h-1.1zM218.1 154.4h1.1v1.1h-1.1zM221.9 154.4h1.1v1.1h-1.1zM227.5 154.4h1.1v1.1h-1.1zM228.4 154.4h1.1v1.1h-1.1zM233.1 154.4h1.1v1.1h-1.1zM236.0 154.4h1.1v1.1h-1.1zM237.8 154.4h1.1v1.1h-1.1zM238.8 154.4h1.1v1.1h-1.1zM239.7 154.4h1.1v1.1h-1.1zM241.6 154.4h1.1v1.1h-1.1zM242.5 154.4h1.1v1.1h-1.1zM243.5 154.4h1.1v1.1h-1.1zM259.4 154.4h1.1v1.1h-1.1zM260.4 154.4h1.1v1.1h-1.1zM267.0 154.4h1.1v1.1h-1.1zM267.9 154.4h1.1v1.1h-1.1zM270.7 154.4h1.1v1.1h-1.1zM281.1 154.4h1.1v1.1h-1.1zM282.0 154.4h1.1v1.1h-1.1zM283.9 154.4h1.1v1.1h-1.1zM290.5 154.4h1.1v1.1h-1.1zM291.4 154.4h1.1v1.1h-1.1zM292.3 154.4h1.1v1.1h-1.1zM294.2 154.4h1.1v1.1h-1.1zM295.1 154.4h1.1v1.1h-1.1zM298.0 154.4h1.1v1.1h-1.1zM299.8 154.4h1.1v1.1h-1.1zM51.1 153.5h1.1v1.1h-1.1zM52.0 153.5h1.1v1.1h-1.1zM53.0 153.5h1.1v1.1h-1.1zM53.9 153.5h1.1v1.1h-1.1zM54.8 153.5h1.1v1.1h-1.1zM58.6 153.5h1.1v1.1h-1.1zM60.4 153.5h1.1v1.1h-1.1zM61.3 153.5h1.1v1.1h-1.1zM62.3 153.5h1.1v1.1h-1.1zM63.2 153.5h1.1v1.1h-1.1zM65.1 153.5h1.1v1.1h-1.1zM68.8 153.5h1.1v1.1h-1.1zM69.7 153.5h1.1v1.1h-1.1zM70.7 153.5h1.1v1.1h-1.1zM74.4 153.5h1.1v1.1h-1.1zM76.2 153.5h1.1v1.1h-1.1zM77.2 153.5h1.1v1.1h-1.1zM79.0 153.5h1.1v1.1h-1.1zM83.7 153.5h1.1v1.1h-1.1zM84.6 153.5h1.1v1.1h-1.1zM97.6 153.5h1.1v1.1h-1.1zM103.2 153.5h1.1v1.1h-1.1zM117.2 153.5h1.1v1.1h-1.1zM119.1 153.5h1.1v1.1h-1.1zM178.6 153.5h1.1v1.1h-1.1zM179.6 153.5h1.1v1.1h-1.1zM184.2 153.5h1.1v1.1h-1.1zM190.7 153.5h1.1v1.1h-1.1zM191.7 153.5h1.1v1.1h-1.1zM193.5 153.5h1.1v1.1h-1.1zM194.4 153.5h1.1v1.1h-1.1zM195.4 153.5h1.1v1.1h-1.1zM206.5 153.5h1.1v1.1h-1.1zM208.4 153.5h1.1v1.1h-1.1zM211.2 153.5h1.1v1.1h-1.1zM212.1 153.5h1.1v1.1h-1.1zM217.7 153.5h1.1v1.1h-1.1zM224.2 153.5h1.1v1.1h-1.1zM226.1 153.5h1.1v1.1h-1.1zM230.7 153.5h1.1v1.1h-1.1zM231.7 153.5h1.1v1.1h-1.1zM232.6 153.5h1.1v1.1h-1.1zM238.2 153.5h1.1v1.1h-1.1zM241.0 153.5h1.1v1.1h-1.1zM241.9 153.5h1.1v1.1h-1.1zM242.8 153.5h1.1v1.1h-1.1zM243.8 153.5h1.1v1.1h-1.1zM257.7 153.5h1.1v1.1h-1.1zM258.7 153.5h1.1v1.1h-1.1zM263.3 153.5h1.1v1.1h-1.1zM264.3 153.5h1.1v1.1h-1.1zM265.2 153.5h1.1v1.1h-1.1zM272.6 153.5h1.1v1.1h-1.1zM280.1 153.5h1.1v1.1h-1.1zM281.0 153.5h1.1v1.1h-1.1zM282.9 153.5h1.1v1.1h-1.1zM289.4 153.5h1.1v1.1h-1.1zM291.2 153.5h1.1v1.1h-1.1zM292.2 153.5h1.1v1.1h-1.1zM296.8 153.5h1.1v1.1h-1.1zM297.8 153.5h1.1v1.1h-1.1zM298.7 153.5h1.1v1.1h-1.1zM299.6 153.5h1.1v1.1h-1.1zM46.7 152.6h1.1v1.1h-1.1zM47.7 152.6h1.1v1.1h-1.1zM48.6 152.6h1.1v1.1h-1.1zM52.3 152.6h1.1v1.1h-1.1zM53.2 152.6h1.1v1.1h-1.1zM55.0 152.6h1.1v1.1h-1.1zM56.0 152.6h1.1v1.1h-1.1zM56.9 152.6h1.1v1.1h-1.1zM57.8 152.6h1.1v1.1h-1.1zM58.7 152.6h1.1v1.1h-1.1zM59.6 152.6h1.1v1.1h-1.1zM60.6 152.6h1.1v1.1h-1.1zM61.5 152.6h1.1v1.1h-1.1zM62.4 152.6h1.1v1.1h-1.1zM67.9 152.6h1.1v1.1h-1.1zM68.9 152.6h1.1v1.1h-1.1zM69.8 152.6h1.1v1.1h-1.1zM74.4 152.6h1.1v1.1h-1.1zM75.3 152.6h1.1v1.1h-1.1zM76.2 152.6h1.1v1.1h-1.1zM77.2 152.6h1.1v1.1h-1.1zM79.9 152.6h1.1v1.1h-1.1zM84.5 152.6h1.1v1.1h-1.1zM98.4 152.6h1.1v1.1h-1.1zM100.2 152.6h1.1v1.1h-1.1zM102.1 152.6h1.1v1.1h-1.1zM103.0 152.6h1.1v1.1h-1.1zM103.9 152.6h1.1v1.1h-1.1zM104.8 152.6h1.1v1.1h-1.1zM105.7 152.6h1.1v1.1h-1.1zM106.7 152.6h1.1v1.1h-1.1zM112.2 152.6h1.1v1.1h-1.1zM113.1 152.6h1.1v1.1h-1.1zM114.0 152.6h1.1v1.1h-1.1zM115.0 152.6h1.1v1.1h-1.1zM116.8 152.6h1.1v1.1h-1.1zM121.4 152.6h1.1v1.1h-1.1zM185.0 152.6h1.1v1.1h-1.1zM189.7 152.6h1.1v1.1h-1.1zM191.5 152.6h1.1v1.1h-1.1zM193.3 152.6h1.1v1.1h-1.1zM194.3 152.6h1.1v1.1h-1.1zM195.2 152.6h1.1v1.1h-1.1zM196.1 152.6h1.1v1.1h-1.1zM198.0 152.6h1.1v1.1h-1.1zM201.6 152.6h1.1v1.1h-1.1zM202.6 152.6h1.1v1.1h-1.1zM203.5 152.6h1.1v1.1h-1.1zM210.9 152.6h1.1v1.1h-1.1zM211.8 152.6h1.1v1.1h-1.1zM212.7 152.6h1.1v1.1h-1.1zM213.6 152.6h1.1v1.1h-1.1zM215.5 152.6h1.1v1.1h-1.1zM216.4 152.6h1.1v1.1h-1.1zM217.3 152.6h1.1v1.1h-1.1zM218.2 152.6h1.1v1.1h-1.1zM223.8 152.6h1.1v1.1h-1.1zM229.3 152.6h1.1v1.1h-1.1zM231.1 152.6h1.1v1.1h-1.1zM232.1 152.6h1.1v1.1h-1.1zM233.9 152.6h1.1v1.1h-1.1zM234.8 152.6h1.1v1.1h-1.1zM235.8 152.6h1.1v1.1h-1.1zM236.7 152.6h1.1v1.1h-1.1zM238.5 152.6h1.1v1.1h-1.1zM239.4 152.6h1.1v1.1h-1.1zM240.4 152.6h1.1v1.1h-1.1zM241.3 152.6h1.1v1.1h-1.1zM242.2 152.6h1.1v1.1h-1.1zM250.5 152.6h1.1v1.1h-1.1zM251.4 152.6h1.1v1.1h-1.1zM252.4 152.6h1.1v1.1h-1.1zM257.0 152.6h1.1v1.1h-1.1zM257.9 152.6h1.1v1.1h-1.1zM258.8 152.6h1.1v1.1h-1.1zM262.5 152.6h1.1v1.1h-1.1zM277.2 152.6h1.1v1.1h-1.1zM279.1 152.6h1.1v1.1h-1.1zM280.0 152.6h1.1v1.1h-1.1zM280.9 152.6h1.1v1.1h-1.1zM290.2 152.6h1.1v1.1h-1.1zM293.8 152.6h1.1v1.1h-1.1zM294.8 152.6h1.1v1.1h-1.1zM295.7 152.6h1.1v1.1h-1.1zM296.6 152.6h1.1v1.1h-1.1zM297.5 152.6h1.1v1.1h-1.1zM299.4 152.6h1.1v1.1h-1.1zM301.2 152.6h1.1v1.1h-1.1zM48.0 151.7h1.1v1.1h-1.1zM48.9 151.7h1.1v1.1h-1.1zM53.4 151.7h1.1v1.1h-1.1zM58.0 151.7h1.1v1.1h-1.1zM61.7 151.7h1.1v1.1h-1.1zM70.8 151.7h1.1v1.1h-1.1zM77.2 151.7h1.1v1.1h-1.1zM79.0 151.7h1.1v1.1h-1.1zM80.8 151.7h1.1v1.1h-1.1zM81.7 151.7h1.1v1.1h-1.1zM87.2 151.7h1.1v1.1h-1.1zM88.1 151.7h1.1v1.1h-1.1zM89.1 151.7h1.1v1.1h-1.1zM94.5 151.7h1.1v1.1h-1.1zM96.4 151.7h1.1v1.1h-1.1zM100.9 151.7h1.1v1.1h-1.1zM101.8 151.7h1.1v1.1h-1.1zM103.7 151.7h1.1v1.1h-1.1zM104.6 151.7h1.1v1.1h-1.1zM106.4 151.7h1.1v1.1h-1.1zM109.1 151.7h1.1v1.1h-1.1zM111.0 151.7h1.1v1.1h-1.1zM115.5 151.7h1.1v1.1h-1.1zM121.0 151.7h1.1v1.1h-1.1zM121.9 151.7h1.1v1.1h-1.1zM159.4 151.7h1.1v1.1h-1.1zM182.2 151.7h1.1v1.1h-1.1zM183.1 151.7h1.1v1.1h-1.1zM184.0 151.7h1.1v1.1h-1.1zM184.9 151.7h1.1v1.1h-1.1zM186.8 151.7h1.1v1.1h-1.1zM188.6 151.7h1.1v1.1h-1.1zM189.5 151.7h1.1v1.1h-1.1zM196.8 151.7h1.1v1.1h-1.1zM197.7 151.7h1.1v1.1h-1.1zM200.5 151.7h1.1v1.1h-1.1zM201.4 151.7h1.1v1.1h-1.1zM202.3 151.7h1.1v1.1h-1.1zM203.2 151.7h1.1v1.1h-1.1zM204.1 151.7h1.1v1.1h-1.1zM209.6 151.7h1.1v1.1h-1.1zM210.5 151.7h1.1v1.1h-1.1zM211.4 151.7h1.1v1.1h-1.1zM212.3 151.7h1.1v1.1h-1.1zM214.2 151.7h1.1v1.1h-1.1zM215.1 151.7h1.1v1.1h-1.1zM216.0 151.7h1.1v1.1h-1.1zM216.9 151.7h1.1v1.1h-1.1zM217.8 151.7h1.1v1.1h-1.1zM229.7 151.7h1.1v1.1h-1.1zM230.6 151.7h1.1v1.1h-1.1zM232.4 151.7h1.1v1.1h-1.1zM234.3 151.7h1.1v1.1h-1.1zM237.0 151.7h1.1v1.1h-1.1zM237.9 151.7h1.1v1.1h-1.1zM239.7 151.7h1.1v1.1h-1.1zM240.7 151.7h1.1v1.1h-1.1zM241.6 151.7h1.1v1.1h-1.1zM244.3 151.7h1.1v1.1h-1.1zM249.8 151.7h1.1v1.1h-1.1zM250.7 151.7h1.1v1.1h-1.1zM251.6 151.7h1.1v1.1h-1.1zM256.2 151.7h1.1v1.1h-1.1zM257.1 151.7h1.1v1.1h-1.1zM258.0 151.7h1.1v1.1h-1.1zM271.7 151.7h1.1v1.1h-1.1zM277.2 151.7h1.1v1.1h-1.1zM278.1 151.7h1.1v1.1h-1.1zM282.7 151.7h1.1v1.1h-1.1zM290.9 151.7h1.1v1.1h-1.1zM292.7 151.7h1.1v1.1h-1.1zM293.6 151.7h1.1v1.1h-1.1zM294.5 151.7h1.1v1.1h-1.1zM295.4 151.7h1.1v1.1h-1.1zM296.4 151.7h1.1v1.1h-1.1zM50.1 150.8h1.1v1.1h-1.1zM57.3 150.8h1.1v1.1h-1.1zM59.1 150.8h1.1v1.1h-1.1zM63.7 150.8h1.1v1.1h-1.1zM80.8 150.8h1.1v1.1h-1.1zM81.8 150.8h1.1v1.1h-1.1zM82.7 150.8h1.1v1.1h-1.1zM83.6 150.8h1.1v1.1h-1.1zM85.4 150.8h1.1v1.1h-1.1zM93.5 150.8h1.1v1.1h-1.1zM97.1 150.8h1.1v1.1h-1.1zM99.8 150.8h1.1v1.1h-1.1zM108.9 150.8h1.1v1.1h-1.1zM109.8 150.8h1.1v1.1h-1.1zM110.7 150.8h1.1v1.1h-1.1zM111.6 150.8h1.1v1.1h-1.1zM114.3 150.8h1.1v1.1h-1.1zM124.3 150.8h1.1v1.1h-1.1zM126.1 150.8h1.1v1.1h-1.1zM127.0 150.8h1.1v1.1h-1.1zM127.9 150.8h1.1v1.1h-1.1zM156.8 150.8h1.1v1.1h-1.1zM157.7 150.8h1.1v1.1h-1.1zM158.6 150.8h1.1v1.1h-1.1zM159.5 150.8h1.1v1.1h-1.1zM164.0 150.8h1.1v1.1h-1.1zM165.0 150.8h1.1v1.1h-1.1zM182.1 150.8h1.1v1.1h-1.1zM183.9 150.8h1.1v1.1h-1.1zM185.8 150.8h1.1v1.1h-1.1zM186.7 150.8h1.1v1.1h-1.1zM187.6 150.8h1.1v1.1h-1.1zM189.4 150.8h1.1v1.1h-1.1zM196.6 150.8h1.1v1.1h-1.1zM198.4 150.8h1.1v1.1h-1.1zM199.3 150.8h1.1v1.1h-1.1zM203.8 150.8h1.1v1.1h-1.1zM209.3 150.8h1.1v1.1h-1.1zM210.2 150.8h1.1v1.1h-1.1zM213.8 150.8h1.1v1.1h-1.1zM214.7 150.8h1.1v1.1h-1.1zM215.6 150.8h1.1v1.1h-1.1zM230.1 150.8h1.1v1.1h-1.1zM234.6 150.8h1.1v1.1h-1.1zM235.5 150.8h1.1v1.1h-1.1zM236.4 150.8h1.1v1.1h-1.1zM237.3 150.8h1.1v1.1h-1.1zM239.1 150.8h1.1v1.1h-1.1zM240.0 150.8h1.1v1.1h-1.1zM249.1 150.8h1.1v1.1h-1.1zM250.0 150.8h1.1v1.1h-1.1zM253.6 150.8h1.1v1.1h-1.1zM255.4 150.8h1.1v1.1h-1.1zM263.5 150.8h1.1v1.1h-1.1zM269.9 150.8h1.1v1.1h-1.1zM270.8 150.8h1.1v1.1h-1.1zM273.5 150.8h1.1v1.1h-1.1zM274.4 150.8h1.1v1.1h-1.1zM275.3 150.8h1.1v1.1h-1.1zM277.1 150.8h1.1v1.1h-1.1zM292.5 150.8h1.1v1.1h-1.1zM293.4 150.8h1.1v1.1h-1.1zM50.4 149.9h1.1v1.1h-1.1zM71.9 149.9h1.1v1.1h-1.1zM75.5 149.9h1.1v1.1h-1.1zM81.8 149.9h1.1v1.1h-1.1zM82.7 149.9h1.1v1.1h-1.1zM83.6 149.9h1.1v1.1h-1.1zM84.5 149.9h1.1v1.1h-1.1zM85.4 149.9h1.1v1.1h-1.1zM86.3 149.9h1.1v1.1h-1.1zM93.4 149.9h1.1v1.1h-1.1zM99.7 149.9h1.1v1.1h-1.1zM100.6 149.9h1.1v1.1h-1.1zM101.5 149.9h1.1v1.1h-1.1zM108.6 149.9h1.1v1.1h-1.1zM109.5 149.9h1.1v1.1h-1.1zM110.4 149.9h1.1v1.1h-1.1zM112.2 149.9h1.1v1.1h-1.1zM113.1 149.9h1.1v1.1h-1.1zM114.0 149.9h1.1v1.1h-1.1zM114.9 149.9h1.1v1.1h-1.1zM127.4 149.9h1.1v1.1h-1.1zM160.6 149.9h1.1v1.1h-1.1zM163.3 149.9h1.1v1.1h-1.1zM164.2 149.9h1.1v1.1h-1.1zM183.0 149.9h1.1v1.1h-1.1zM185.6 149.9h1.1v1.1h-1.1zM186.5 149.9h1.1v1.1h-1.1zM198.2 149.9h1.1v1.1h-1.1zM199.1 149.9h1.1v1.1h-1.1zM201.8 149.9h1.1v1.1h-1.1zM202.7 149.9h1.1v1.1h-1.1zM203.6 149.9h1.1v1.1h-1.1zM206.2 149.9h1.1v1.1h-1.1zM208.9 149.9h1.1v1.1h-1.1zM209.8 149.9h1.1v1.1h-1.1zM212.5 149.9h1.1v1.1h-1.1zM213.4 149.9h1.1v1.1h-1.1zM214.3 149.9h1.1v1.1h-1.1zM230.4 149.9h1.1v1.1h-1.1zM236.7 149.9h1.1v1.1h-1.1zM238.5 149.9h1.1v1.1h-1.1zM247.4 149.9h1.1v1.1h-1.1zM252.8 149.9h1.1v1.1h-1.1zM253.7 149.9h1.1v1.1h-1.1zM255.5 149.9h1.1v1.1h-1.1zM257.3 149.9h1.1v1.1h-1.1zM262.6 149.9h1.1v1.1h-1.1zM263.5 149.9h1.1v1.1h-1.1zM264.4 149.9h1.1v1.1h-1.1zM268.0 149.9h1.1v1.1h-1.1zM268.9 149.9h1.1v1.1h-1.1zM269.8 149.9h1.1v1.1h-1.1zM271.6 149.9h1.1v1.1h-1.1zM272.5 149.9h1.1v1.1h-1.1zM273.4 149.9h1.1v1.1h-1.1zM274.3 149.9h1.1v1.1h-1.1zM275.2 149.9h1.1v1.1h-1.1zM278.8 149.9h1.1v1.1h-1.1zM283.2 149.9h1.1v1.1h-1.1zM284.1 149.9h1.1v1.1h-1.1zM290.4 149.9h1.1v1.1h-1.1zM293.1 149.9h1.1v1.1h-1.1zM51.7 149.0h1.1v1.1h-1.1zM67.7 149.0h1.1v1.1h-1.1zM73.0 149.0h1.1v1.1h-1.1zM75.6 149.0h1.1v1.1h-1.1zM81.8 149.0h1.1v1.1h-1.1zM82.7 149.0h1.1v1.1h-1.1zM84.5 149.0h1.1v1.1h-1.1zM100.5 149.0h1.1v1.1h-1.1zM102.2 149.0h1.1v1.1h-1.1zM103.1 149.0h1.1v1.1h-1.1zM107.5 149.0h1.1v1.1h-1.1zM108.4 149.0h1.1v1.1h-1.1zM110.2 149.0h1.1v1.1h-1.1zM113.7 149.0h1.1v1.1h-1.1zM114.6 149.0h1.1v1.1h-1.1zM115.5 149.0h1.1v1.1h-1.1zM126.2 149.0h1.1v1.1h-1.1zM127.9 149.0h1.1v1.1h-1.1zM128.8 149.0h1.1v1.1h-1.1zM130.6 149.0h1.1v1.1h-1.1zM190.0 149.0h1.1v1.1h-1.1zM190.9 149.0h1.1v1.1h-1.1zM191.7 149.0h1.1v1.1h-1.1zM197.1 149.0h1.1v1.1h-1.1zM197.9 149.0h1.1v1.1h-1.1zM200.6 149.0h1.1v1.1h-1.1zM202.4 149.0h1.1v1.1h-1.1zM203.3 149.0h1.1v1.1h-1.1zM205.0 149.0h1.1v1.1h-1.1zM205.9 149.0h1.1v1.1h-1.1zM207.7 149.0h1.1v1.1h-1.1zM212.1 149.0h1.1v1.1h-1.1zM224.5 149.0h1.1v1.1h-1.1zM230.7 149.0h1.1v1.1h-1.1zM238.7 149.0h1.1v1.1h-1.1zM239.6 149.0h1.1v1.1h-1.1zM241.4 149.0h1.1v1.1h-1.1zM252.9 149.0h1.1v1.1h-1.1zM253.8 149.0h1.1v1.1h-1.1zM260.9 149.0h1.1v1.1h-1.1zM272.4 149.0h1.1v1.1h-1.1zM273.3 149.0h1.1v1.1h-1.1zM274.2 149.0h1.1v1.1h-1.1zM278.6 149.0h1.1v1.1h-1.1zM286.6 149.0h1.1v1.1h-1.1zM287.5 149.0h1.1v1.1h-1.1zM289.2 149.0h1.1v1.1h-1.1zM290.1 149.0h1.1v1.1h-1.1zM58.2 148.2h1.1v1.1h-1.1zM60.0 148.2h1.1v1.1h-1.1zM61.8 148.2h1.1v1.1h-1.1zM66.1 148.2h1.1v1.1h-1.1zM67.9 148.2h1.1v1.1h-1.1zM68.8 148.2h1.1v1.1h-1.1zM69.6 148.2h1.1v1.1h-1.1zM76.7 148.2h1.1v1.1h-1.1zM78.4 148.2h1.1v1.1h-1.1zM79.3 148.2h1.1v1.1h-1.1zM81.9 148.2h1.1v1.1h-1.1zM82.8 148.2h1.1v1.1h-1.1zM83.7 148.2h1.1v1.1h-1.1zM84.6 148.2h1.1v1.1h-1.1zM86.3 148.2h1.1v1.1h-1.1zM87.2 148.2h1.1v1.1h-1.1zM96.0 148.2h1.1v1.1h-1.1zM99.5 148.2h1.1v1.1h-1.1zM107.4 148.2h1.1v1.1h-1.1zM109.1 148.2h1.1v1.1h-1.1zM110.0 148.2h1.1v1.1h-1.1zM113.5 148.2h1.1v1.1h-1.1zM115.3 148.2h1.1v1.1h-1.1zM116.1 148.2h1.1v1.1h-1.1zM121.4 148.2h1.1v1.1h-1.1zM124.0 148.2h1.1v1.1h-1.1zM127.5 148.2h1.1v1.1h-1.1zM184.5 148.2h1.1v1.1h-1.1zM187.2 148.2h1.1v1.1h-1.1zM189.8 148.2h1.1v1.1h-1.1zM190.7 148.2h1.1v1.1h-1.1zM191.6 148.2h1.1v1.1h-1.1zM195.1 148.2h1.1v1.1h-1.1zM197.7 148.2h1.1v1.1h-1.1zM198.6 148.2h1.1v1.1h-1.1zM204.7 148.2h1.1v1.1h-1.1zM206.5 148.2h1.1v1.1h-1.1zM210.9 148.2h1.1v1.1h-1.1zM218.8 148.2h1.1v1.1h-1.1zM223.1 148.2h1.1v1.1h-1.1zM224.0 148.2h1.1v1.1h-1.1zM224.9 148.2h1.1v1.1h-1.1zM227.5 148.2h1.1v1.1h-1.1zM228.4 148.2h1.1v1.1h-1.1zM229.3 148.2h1.1v1.1h-1.1zM230.2 148.2h1.1v1.1h-1.1zM237.2 148.2h1.1v1.1h-1.1zM245.1 148.2h1.1v1.1h-1.1zM253.0 148.2h1.1v1.1h-1.1zM253.8 148.2h1.1v1.1h-1.1zM255.6 148.2h1.1v1.1h-1.1zM259.1 148.2h1.1v1.1h-1.1zM260.0 148.2h1.1v1.1h-1.1zM262.6 148.2h1.1v1.1h-1.1zM274.0 148.2h1.1v1.1h-1.1zM277.5 148.2h1.1v1.1h-1.1zM278.4 148.2h1.1v1.1h-1.1zM279.3 148.2h1.1v1.1h-1.1zM282.8 148.2h1.1v1.1h-1.1zM284.5 148.2h1.1v1.1h-1.1zM285.4 148.2h1.1v1.1h-1.1zM286.3 148.2h1.1v1.1h-1.1zM287.2 148.2h1.1v1.1h-1.1zM293.3 148.2h1.1v1.1h-1.1zM299.5 148.2h1.1v1.1h-1.1zM300.3 148.2h1.1v1.1h-1.1zM63.8 147.3h1.1v1.1h-1.1zM67.3 147.3h1.1v1.1h-1.1zM68.2 147.3h1.1v1.1h-1.1zM69.0 147.3h1.1v1.1h-1.1zM69.9 147.3h1.1v1.1h-1.1zM70.8 147.3h1.1v1.1h-1.1zM71.6 147.3h1.1v1.1h-1.1zM72.5 147.3h1.1v1.1h-1.1zM73.4 147.3h1.1v1.1h-1.1zM80.3 147.3h1.1v1.1h-1.1zM81.2 147.3h1.1v1.1h-1.1zM82.0 147.3h1.1v1.1h-1.1zM82.9 147.3h1.1v1.1h-1.1zM83.8 147.3h1.1v1.1h-1.1zM84.6 147.3h1.1v1.1h-1.1zM85.5 147.3h1.1v1.1h-1.1zM87.2 147.3h1.1v1.1h-1.1zM88.1 147.3h1.1v1.1h-1.1zM89.0 147.3h1.1v1.1h-1.1zM89.9 147.3h1.1v1.1h-1.1zM90.7 147.3h1.1v1.1h-1.1zM91.6 147.3h1.1v1.1h-1.1zM101.1 147.3h1.1v1.1h-1.1zM110.7 147.3h1.1v1.1h-1.1zM114.2 147.3h1.1v1.1h-1.1zM115.9 147.3h1.1v1.1h-1.1zM116.8 147.3h1.1v1.1h-1.1zM121.1 147.3h1.1v1.1h-1.1zM124.6 147.3h1.1v1.1h-1.1zM125.4 147.3h1.1v1.1h-1.1zM126.3 147.3h1.1v1.1h-1.1zM127.2 147.3h1.1v1.1h-1.1zM185.3 147.3h1.1v1.1h-1.1zM188.8 147.3h1.1v1.1h-1.1zM189.7 147.3h1.1v1.1h-1.1zM191.4 147.3h1.1v1.1h-1.1zM204.4 147.3h1.1v1.1h-1.1zM216.6 147.3h1.1v1.1h-1.1zM217.4 147.3h1.1v1.1h-1.1zM224.4 147.3h1.1v1.1h-1.1zM227.8 147.3h1.1v1.1h-1.1zM228.7 147.3h1.1v1.1h-1.1zM229.6 147.3h1.1v1.1h-1.1zM238.3 147.3h1.1v1.1h-1.1zM244.3 147.3h1.1v1.1h-1.1zM246.1 147.3h1.1v1.1h-1.1zM257.3 147.3h1.1v1.1h-1.1zM261.7 147.3h1.1v1.1h-1.1zM271.2 147.3h1.1v1.1h-1.1zM272.1 147.3h1.1v1.1h-1.1zM281.6 147.3h1.1v1.1h-1.1zM282.5 147.3h1.1v1.1h-1.1zM283.4 147.3h1.1v1.1h-1.1zM287.7 147.3h1.1v1.1h-1.1zM288.6 147.3h1.1v1.1h-1.1zM289.5 147.3h1.1v1.1h-1.1zM290.3 147.3h1.1v1.1h-1.1zM292.1 147.3h1.1v1.1h-1.1zM293.8 147.3h1.1v1.1h-1.1zM294.7 147.3h1.1v1.1h-1.1zM298.1 147.3h1.1v1.1h-1.1zM299.0 147.3h1.1v1.1h-1.1zM62.4 146.5h1.1v1.0h-1.1zM63.3 146.5h1.1v1.0h-1.1zM66.7 146.5h1.1v1.0h-1.1zM68.5 146.5h1.1v1.0h-1.1zM69.3 146.5h1.1v1.0h-1.1zM71.0 146.5h1.1v1.0h-1.1zM71.9 146.5h1.1v1.0h-1.1zM72.7 146.5h1.1v1.0h-1.1zM73.6 146.5h1.1v1.0h-1.1zM74.5 146.5h1.1v1.0h-1.1zM75.3 146.5h1.1v1.0h-1.1zM76.2 146.5h1.1v1.0h-1.1zM78.8 146.5h1.1v1.0h-1.1zM81.3 146.5h1.1v1.0h-1.1zM82.2 146.5h1.1v1.0h-1.1zM83.0 146.5h1.1v1.0h-1.1zM83.9 146.5h1.1v1.0h-1.1zM86.5 146.5h1.1v1.0h-1.1zM87.3 146.5h1.1v1.0h-1.1zM88.2 146.5h1.1v1.0h-1.1zM89.1 146.5h1.1v1.0h-1.1zM89.9 146.5h1.1v1.0h-1.1zM90.8 146.5h1.1v1.0h-1.1zM91.6 146.5h1.1v1.0h-1.1zM92.5 146.5h1.1v1.0h-1.1zM93.4 146.5h1.1v1.0h-1.1zM112.2 146.5h1.1v1.0h-1.1zM116.5 146.5h1.1v1.0h-1.1zM118.2 146.5h1.1v1.0h-1.1zM119.1 146.5h1.1v1.0h-1.1zM120.8 146.5h1.1v1.0h-1.1zM123.4 146.5h1.1v1.0h-1.1zM124.3 146.5h1.1v1.0h-1.1zM125.1 146.5h1.1v1.0h-1.1zM126.0 146.5h1.1v1.0h-1.1zM126.8 146.5h1.1v1.0h-1.1zM127.7 146.5h1.1v1.0h-1.1zM197.2 146.5h1.1v1.0h-1.1zM216.1 146.5h1.1v1.0h-1.1zM217.0 146.5h1.1v1.0h-1.1zM218.7 146.5h1.1v1.0h-1.1zM227.3 146.5h1.1v1.0h-1.1zM228.1 146.5h1.1v1.0h-1.1zM229.0 146.5h1.1v1.0h-1.1zM231.6 146.5h1.1v1.0h-1.1zM233.3 146.5h1.1v1.0h-1.1zM236.7 146.5h1.1v1.0h-1.1zM237.6 146.5h1.1v1.0h-1.1zM241.0 146.5h1.1v1.0h-1.1zM242.7 146.5h1.1v1.0h-1.1zM243.6 146.5h1.1v1.0h-1.1zM259.9 146.5h1.1v1.0h-1.1zM262.5 146.5h1.1v1.0h-1.1zM267.6 146.5h1.1v1.0h-1.1zM269.3 146.5h1.1v1.0h-1.1zM271.0 146.5h1.1v1.0h-1.1zM275.3 146.5h1.1v1.0h-1.1zM277.9 146.5h1.1v1.0h-1.1zM278.8 146.5h1.1v1.0h-1.1zM280.5 146.5h1.1v1.0h-1.1zM281.3 146.5h1.1v1.0h-1.1zM282.2 146.5h1.1v1.0h-1.1zM286.5 146.5h1.1v1.0h-1.1zM287.4 146.5h1.1v1.0h-1.1zM290.8 146.5h1.1v1.0h-1.1zM292.5 146.5h1.1v1.0h-1.1zM293.4 146.5h1.1v1.0h-1.1zM294.2 146.5h1.1v1.0h-1.1zM65.4 145.6h1.0v1.0h-1.0zM68.8 145.6h1.0v1.0h-1.0zM70.5 145.6h1.0v1.0h-1.0zM71.3 145.6h1.0v1.0h-1.0zM72.2 145.6h1.0v1.0h-1.0zM89.2 145.6h1.0v1.0h-1.0zM90.0 145.6h1.0v1.0h-1.0zM90.9 145.6h1.0v1.0h-1.0zM91.7 145.6h1.0v1.0h-1.0zM92.6 145.6h1.0v1.0h-1.0zM93.4 145.6h1.0v1.0h-1.0zM94.3 145.6h1.0v1.0h-1.0zM95.1 145.6h1.0v1.0h-1.0zM96.8 145.6h1.0v1.0h-1.0zM112.1 145.6h1.0v1.0h-1.0zM113.8 145.6h1.0v1.0h-1.0zM123.1 145.6h1.0v1.0h-1.0zM124.8 145.6h1.0v1.0h-1.0zM126.5 145.6h1.0v1.0h-1.0zM209.7 145.6h1.0v1.0h-1.0zM220.7 145.6h1.0v1.0h-1.0zM221.6 145.6h1.0v1.0h-1.0zM222.4 145.6h1.0v1.0h-1.0zM223.3 145.6h1.0v1.0h-1.0zM228.4 145.6h1.0v1.0h-1.0zM229.2 145.6h1.0v1.0h-1.0zM230.1 145.6h1.0v1.0h-1.0zM232.6 145.6h1.0v1.0h-1.0zM233.5 145.6h1.0v1.0h-1.0zM236.0 145.6h1.0v1.0h-1.0zM237.7 145.6h1.0v1.0h-1.0zM239.4 145.6h1.0v1.0h-1.0zM241.1 145.6h1.0v1.0h-1.0zM242.0 145.6h1.0v1.0h-1.0zM251.3 145.6h1.0v1.0h-1.0zM257.2 145.6h1.0v1.0h-1.0zM258.9 145.6h1.0v1.0h-1.0zM259.8 145.6h1.0v1.0h-1.0zM260.6 145.6h1.0v1.0h-1.0zM261.5 145.6h1.0v1.0h-1.0zM266.6 145.6h1.0v1.0h-1.0zM267.4 145.6h1.0v1.0h-1.0zM271.7 145.6h1.0v1.0h-1.0zM272.5 145.6h1.0v1.0h-1.0zM278.5 145.6h1.0v1.0h-1.0zM280.2 145.6h1.0v1.0h-1.0zM281.9 145.6h1.0v1.0h-1.0zM283.6 145.6h1.0v1.0h-1.0zM295.4 145.6h1.0v1.0h-1.0zM296.3 145.6h1.0v1.0h-1.0zM90.2 144.8h1.0v1.0h-1.0zM91.0 144.8h1.0v1.0h-1.0zM91.8 144.8h1.0v1.0h-1.0zM92.7 144.8h1.0v1.0h-1.0zM94.3 144.8h1.0v1.0h-1.0zM95.2 144.8h1.0v1.0h-1.0zM96.0 144.8h1.0v1.0h-1.0zM112.0 144.8h1.0v1.0h-1.0zM113.6 144.8h1.0v1.0h-1.0zM114.5 144.8h1.0v1.0h-1.0zM118.7 144.8h1.0v1.0h-1.0zM120.4 144.8h1.0v1.0h-1.0zM123.7 144.8h1.0v1.0h-1.0zM124.6 144.8h1.0v1.0h-1.0zM125.4 144.8h1.0v1.0h-1.0zM211.8 144.8h1.0v1.0h-1.0zM222.7 144.8h1.0v1.0h-1.0zM228.6 144.8h1.0v1.0h-1.0zM232.0 144.8h1.0v1.0h-1.0zM233.6 144.8h1.0v1.0h-1.0zM251.3 144.8h1.0v1.0h-1.0zM253.8 144.8h1.0v1.0h-1.0zM254.6 144.8h1.0v1.0h-1.0zM256.3 144.8h1.0v1.0h-1.0zM258.8 144.8h1.0v1.0h-1.0zM259.6 144.8h1.0v1.0h-1.0zM260.5 144.8h1.0v1.0h-1.0zM261.3 144.8h1.0v1.0h-1.0zM265.5 144.8h1.0v1.0h-1.0zM270.6 144.8h1.0v1.0h-1.0zM271.4 144.8h1.0v1.0h-1.0zM274.8 144.8h1.0v1.0h-1.0zM92.8 144.0h1.0v1.0h-1.0zM93.6 144.0h1.0v1.0h-1.0zM95.3 144.0h1.0v1.0h-1.0zM97.0 144.0h1.0v1.0h-1.0zM100.3 144.0h1.0v1.0h-1.0zM103.6 144.0h1.0v1.0h-1.0zM113.5 144.0h1.0v1.0h-1.0zM114.4 144.0h1.0v1.0h-1.0zM115.2 144.0h1.0v1.0h-1.0zM116.0 144.0h1.0v1.0h-1.0zM116.9 144.0h1.0v1.0h-1.0zM119.4 144.0h1.0v1.0h-1.0zM120.2 144.0h1.0v1.0h-1.0zM209.7 144.0h1.0v1.0h-1.0zM212.2 144.0h1.0v1.0h-1.0zM227.1 144.0h1.0v1.0h-1.0zM231.3 144.0h1.0v1.0h-1.0zM232.1 144.0h1.0v1.0h-1.0zM232.9 144.0h1.0v1.0h-1.0zM249.5 144.0h1.0v1.0h-1.0zM250.3 144.0h1.0v1.0h-1.0zM252.0 144.0h1.0v1.0h-1.0zM253.7 144.0h1.0v1.0h-1.0zM254.5 144.0h1.0v1.0h-1.0zM255.3 144.0h1.0v1.0h-1.0zM257.0 144.0h1.0v1.0h-1.0zM257.8 144.0h1.0v1.0h-1.0zM258.6 144.0h1.0v1.0h-1.0zM259.5 144.0h1.0v1.0h-1.0zM272.7 144.0h1.0v1.0h-1.0zM91.4 143.2h1.0v1.0h-1.0zM92.2 143.2h1.0v1.0h-1.0zM93.8 143.2h1.0v1.0h-1.0zM94.7 143.2h1.0v1.0h-1.0zM95.5 143.2h1.0v1.0h-1.0zM97.1 143.2h1.0v1.0h-1.0zM102.0 143.2h1.0v1.0h-1.0zM102.8 143.2h1.0v1.0h-1.0zM103.7 143.2h1.0v1.0h-1.0zM105.3 143.2h1.0v1.0h-1.0zM106.1 143.2h1.0v1.0h-1.0zM106.9 143.2h1.0v1.0h-1.0zM120.0 143.2h1.0v1.0h-1.0zM210.1 143.2h1.0v1.0h-1.0zM231.4 143.2h1.0v1.0h-1.0zM232.2 143.2h1.0v1.0h-1.0zM248.6 143.2h1.0v1.0h-1.0zM249.4 143.2h1.0v1.0h-1.0zM250.2 143.2h1.0v1.0h-1.0zM251.9 143.2h1.0v1.0h-1.0zM257.6 143.2h1.0v1.0h-1.0zM265.0 143.2h1.0v1.0h-1.0zM268.2 143.2h1.0v1.0h-1.0zM269.1 143.2h1.0v1.0h-1.0zM93.3 142.4h1.0v1.0h-1.0zM94.9 142.4h1.0v1.0h-1.0zM96.5 142.4h1.0v1.0h-1.0zM98.1 142.4h1.0v1.0h-1.0zM99.7 142.4h1.0v1.0h-1.0zM103.0 142.4h1.0v1.0h-1.0zM103.8 142.4h1.0v1.0h-1.0zM104.6 142.4h1.0v1.0h-1.0zM106.2 142.4h1.0v1.0h-1.0zM107.0 142.4h1.0v1.0h-1.0zM107.8 142.4h1.0v1.0h-1.0zM108.6 142.4h1.0v1.0h-1.0zM121.6 142.4h1.0v1.0h-1.0zM122.4 142.4h1.0v1.0h-1.0zM236.3 142.4h1.0v1.0h-1.0zM237.1 142.4h1.0v1.0h-1.0zM238.7 142.4h1.0v1.0h-1.0zM262.2 142.4h1.0v1.0h-1.0zM263.0 142.4h1.0v1.0h-1.0zM265.4 142.4h1.0v1.0h-1.0zM266.2 142.4h1.0v1.0h-1.0zM267.0 142.4h1.0v1.0h-1.0zM267.8 142.4h1.0v1.0h-1.0zM271.1 142.4h1.0v1.0h-1.0zM96.0 141.6h1.0v1.0h-1.0zM96.8 141.6h1.0v1.0h-1.0zM98.4 141.6h1.0v1.0h-1.0zM109.5 141.6h1.0v1.0h-1.0zM112.7 141.6h1.0v1.0h-1.0zM119.1 141.6h1.0v1.0h-1.0zM120.7 141.6h1.0v1.0h-1.0zM121.5 141.6h1.0v1.0h-1.0zM122.3 141.6h1.0v1.0h-1.0zM123.1 141.6h1.0v1.0h-1.0zM236.3 141.6h1.0v1.0h-1.0zM237.1 141.6h1.0v1.0h-1.0zM238.7 141.6h1.0v1.0h-1.0zM247.4 141.6h1.0v1.0h-1.0zM262.6 141.6h1.0v1.0h-1.0zM264.2 141.6h1.0v1.0h-1.0zM265.0 141.6h1.0v1.0h-1.0zM265.8 141.6h1.0v1.0h-1.0zM266.6 141.6h1.0v1.0h-1.0zM267.4 141.6h1.0v1.0h-1.0zM268.2 141.6h1.0v1.0h-1.0zM269.8 141.6h1.0v1.0h-1.0zM97.9 140.8h1.0v1.0h-1.0zM99.5 140.8h1.0v1.0h-1.0zM100.3 140.8h1.0v1.0h-1.0zM101.0 140.8h1.0v1.0h-1.0zM108.9 140.8h1.0v1.0h-1.0zM109.7 140.8h1.0v1.0h-1.0zM115.2 140.8h1.0v1.0h-1.0zM116.0 140.8h1.0v1.0h-1.0zM116.8 140.8h1.0v1.0h-1.0zM117.5 140.8h1.0v1.0h-1.0zM119.9 140.8h1.0v1.0h-1.0zM120.7 140.8h1.0v1.0h-1.0zM121.5 140.8h1.0v1.0h-1.0zM122.3 140.8h1.0v1.0h-1.0zM123.0 140.8h1.0v1.0h-1.0zM213.4 140.8h1.0v1.0h-1.0zM214.2 140.8h1.0v1.0h-1.0zM215.8 140.8h1.0v1.0h-1.0zM216.5 140.8h1.0v1.0h-1.0zM234.6 140.8h1.0v1.0h-1.0zM235.4 140.8h1.0v1.0h-1.0zM244.8 140.8h1.0v1.0h-1.0zM263.7 140.8h1.0v1.0h-1.0zM264.5 140.8h1.0v1.0h-1.0zM98.3 140.1h1.0v1.0h-1.0zM101.4 140.1h1.0v1.0h-1.0zM102.1 140.1h1.0v1.0h-1.0zM102.9 140.1h1.0v1.0h-1.0zM108.3 140.1h1.0v1.0h-1.0zM109.9 140.1h1.0v1.0h-1.0zM110.6 140.1h1.0v1.0h-1.0zM113.0 140.1h1.0v1.0h-1.0zM115.3 140.1h1.0v1.0h-1.0zM116.1 140.1h1.0v1.0h-1.0zM120.7 140.1h1.0v1.0h-1.0zM121.5 140.1h1.0v1.0h-1.0zM122.3 140.1h1.0v1.0h-1.0zM126.1 140.1h1.0v1.0h-1.0zM126.9 140.1h1.0v1.0h-1.0zM185.7 140.1h1.0v1.0h-1.0zM186.5 140.1h1.0v1.0h-1.0zM241.5 140.1h1.0v1.0h-1.0zM243.0 140.1h1.0v1.0h-1.0zM110.1 139.3h1.0v0.9h-1.0zM110.9 139.3h1.0v0.9h-1.0zM111.6 139.3h1.0v0.9h-1.0zM112.4 139.3h1.0v0.9h-1.0zM113.9 139.3h1.0v0.9h-1.0zM116.2 139.3h1.0v0.9h-1.0zM117.7 139.3h1.0v0.9h-1.0zM118.5 139.3h1.0v0.9h-1.0zM119.2 139.3h1.0v0.9h-1.0zM120.0 139.3h1.0v0.9h-1.0zM120.8 139.3h1.0v0.9h-1.0zM121.5 139.3h1.0v0.9h-1.0zM128.4 139.3h1.0v0.9h-1.0zM129.2 139.3h1.0v0.9h-1.0zM181.8 139.3h1.0v0.9h-1.0zM185.6 139.3h1.0v0.9h-1.0zM186.3 139.3h1.0v0.9h-1.0zM187.1 139.3h1.0v0.9h-1.0zM187.9 139.3h1.0v0.9h-1.0zM233.6 139.3h1.0v0.9h-1.0zM109.6 138.6h1.0v0.9h-1.0zM110.4 138.6h1.0v0.9h-1.0zM111.1 138.6h1.0v0.9h-1.0zM111.9 138.6h1.0v0.9h-1.0zM112.6 138.6h1.0v0.9h-1.0zM114.1 138.6h1.0v0.9h-1.0zM114.9 138.6h1.0v0.9h-1.0zM117.1 138.6h1.0v0.9h-1.0zM119.4 138.6h1.0v0.9h-1.0zM120.1 138.6h1.0v0.9h-1.0zM120.9 138.6h1.0v0.9h-1.0zM121.6 138.6h1.0v0.9h-1.0zM122.4 138.6h1.0v0.9h-1.0zM123.1 138.6h1.0v0.9h-1.0zM127.6 138.6h1.0v0.9h-1.0zM129.9 138.6h1.0v0.9h-1.0zM130.6 138.6h1.0v0.9h-1.0zM181.7 138.6h1.0v0.9h-1.0zM182.4 138.6h1.0v0.9h-1.0zM185.4 138.6h1.0v0.9h-1.0zM186.2 138.6h1.0v0.9h-1.0zM186.9 138.6h1.0v0.9h-1.0zM204.2 138.6h1.0v0.9h-1.0zM231.2 138.6h1.0v0.9h-1.0zM231.9 138.6h1.0v0.9h-1.0zM232.7 138.6h1.0v0.9h-1.0zM235.7 138.6h1.0v0.9h-1.0zM113.6 137.9h0.9v0.9h-0.9zM116.5 137.9h0.9v0.9h-0.9zM117.3 137.9h0.9v0.9h-0.9zM118.0 137.9h0.9v0.9h-0.9zM121.0 137.9h0.9v0.9h-0.9zM121.7 137.9h0.9v0.9h-0.9zM123.2 137.9h0.9v0.9h-0.9zM128.4 137.9h0.9v0.9h-0.9zM129.8 137.9h0.9v0.9h-0.9zM130.6 137.9h0.9v0.9h-0.9zM132.0 137.9h0.9v0.9h-0.9zM132.8 137.9h0.9v0.9h-0.9zM183.0 137.9h0.9v0.9h-0.9zM185.2 137.9h0.9v0.9h-0.9zM186.0 137.9h0.9v0.9h-0.9zM191.9 137.9h0.9v0.9h-0.9zM202.2 137.9h0.9v0.9h-0.9zM203.0 137.9h0.9v0.9h-0.9zM203.7 137.9h0.9v0.9h-0.9zM205.2 137.9h0.9v0.9h-0.9zM205.9 137.9h0.9v0.9h-0.9zM207.4 137.9h0.9v0.9h-0.9zM230.3 137.9h0.9v0.9h-0.9zM231.8 137.9h0.9v0.9h-0.9zM234.7 137.9h0.9v0.9h-0.9zM235.5 137.9h0.9v0.9h-0.9zM237.0 137.9h0.9v0.9h-0.9zM117.4 137.3h0.9v0.9h-0.9zM119.6 137.3h0.9v0.9h-0.9zM121.8 137.3h0.9v0.9h-0.9zM129.8 137.3h0.9v0.9h-0.9zM130.5 137.3h0.9v0.9h-0.9zM131.3 137.3h0.9v0.9h-0.9zM132.0 137.3h0.9v0.9h-0.9zM132.7 137.3h0.9v0.9h-0.9zM134.2 137.3h0.9v0.9h-0.9zM203.3 137.3h0.9v0.9h-0.9zM204.7 137.3h0.9v0.9h-0.9zM206.2 137.3h0.9v0.9h-0.9zM206.9 137.3h0.9v0.9h-0.9zM207.6 137.3h0.9v0.9h-0.9zM212.0 137.3h0.9v0.9h-0.9zM229.5 137.3h0.9v0.9h-0.9zM230.2 137.3h0.9v0.9h-0.9zM231.6 137.3h0.9v0.9h-0.9zM235.3 137.3h0.9v0.9h-0.9zM119.8 136.7h0.9v0.8h-0.9zM120.5 136.7h0.9v0.8h-0.9zM129.8 136.7h0.9v0.8h-0.9zM130.5 136.7h0.9v0.8h-0.9zM131.9 136.7h0.9v0.8h-0.9zM138.4 136.7h0.9v0.8h-0.9zM134.0 136.1h0.9v0.8h-0.9zM134.7 136.1h0.9v0.8h-0.9zM135.4 136.1h0.9v0.8h-0.9zM138.9 136.1h0.9v0.8h-0.9z"/>
<path fill="#ffe040" d="M114.3 274.6h1.2v1.2h-1.2zM118.0 270.7h1.3v1.2h-1.3zM117.7 269.7h1.3v1.2h-1.3zM114.6 266.7h1.3v1.2h-1.3zM111.4 263.7h1.3v1.2h-1.3zM298.6 259.7h1.3v1.2h-1.3zM108.9 258.7h1.3v1.2h-1.3zM308.6 257.7h1.3v1.2h-1.3zM301.2 256.7h1.3v1.2h-1.3zM302.3 256.7h1.3v1.2h-1.3zM195.3 254.6h1.3v1.2h-1.3zM198.7 254.6h1.3v1.2h-1.3zM199.9 254.6h1.3v1.2h-1.3zM279.4 254.6h1.3v1.2h-1.3zM198.8 253.6h1.3v1.2h-1.3zM279.7 253.6h1.3v1.2h-1.3zM194.3 252.6h1.3v1.2h-1.3zM195.5 252.6h1.3v1.2h-1.3zM286.9 252.6h1.3v1.2h-1.3zM190.9 251.6h1.3v1.2h-1.3zM287.6 250.6h1.3v1.2h-1.3zM203.7 249.6h1.4v1.2h-1.4zM304.0 249.6h1.4v1.2h-1.4zM305.1 249.6h1.4v1.2h-1.4zM127.5 248.6h1.4v1.2h-1.4zM192.2 248.6h1.4v1.2h-1.4zM295.1 248.6h1.4v1.2h-1.4zM305.5 248.6h1.4v1.2h-1.4zM119.3 247.5h1.4v1.2h-1.4zM289.6 247.5h1.4v1.2h-1.4zM306.0 246.5h1.4v1.2h-1.4zM316.5 246.5h1.4v1.2h-1.4zM291.8 242.5h1.4v1.2h-1.4zM305.1 240.5h1.4v1.2h-1.4zM219.6 238.4h1.4v1.2h-1.4zM220.8 237.4h1.4v1.2h-1.4zM108.8 236.4h1.4v1.2h-1.4zM125.4 236.4h1.4v1.2h-1.4zM295.2 236.4h1.4v1.2h-1.4zM134.5 230.3h1.4v1.2h-1.4zM134.5 229.3h1.4v1.2h-1.4zM188.0 229.3h1.4v1.2h-1.4zM140.4 228.3h1.4v1.2h-1.4zM190.4 228.3h1.4v1.2h-1.4zM124.9 226.3h1.4v1.2h-1.4zM124.9 225.3h1.4v1.2h-1.4zM289.2 225.3h1.4v1.2h-1.4zM291.6 225.3h1.4v1.2h-1.4zM307.1 225.3h1.4v1.2h-1.4zM316.6 225.3h1.4v1.2h-1.4zM321.3 225.3h1.4v1.2h-1.4zM198.7 224.3h1.4v1.2h-1.4zM190.4 223.2h1.4v1.2h-1.4zM310.7 223.2h1.4v1.2h-1.4zM191.6 222.2h1.4v1.2h-1.4zM197.5 222.2h1.4v1.2h-1.4zM284.5 222.2h1.4v1.2h-1.4zM304.8 222.2h1.4v1.2h-1.4zM190.4 221.2h1.4v1.2h-1.4zM213.1 220.2h1.4v1.2h-1.4zM115.3 219.2h1.4v1.2h-1.4zM116.5 218.2h1.4v1.2h-1.4zM204.7 218.2h1.4v1.2h-1.4zM99.8 217.2h1.4v1.2h-1.4zM217.8 217.2h1.4v1.2h-1.4zM103.4 215.1h1.4v1.2h-1.4zM265.4 215.1h1.4v1.2h-1.4zM179.7 214.1h1.4v1.2h-1.4zM196.3 214.1h1.4v1.2h-1.4zM208.2 211.1h1.4v1.2h-1.4zM171.3 210.1h1.4v1.2h-1.4zM94.2 208.0h1.4v1.2h-1.4zM107.3 208.0h1.4v1.2h-1.4zM161.9 207.0h1.4v1.2h-1.4zM161.9 206.0h1.4v1.2h-1.4zM245.9 206.0h1.4v1.2h-1.4zM244.7 205.0h1.4v1.2h-1.4zM87.5 204.0h1.4v1.2h-1.4zM244.5 203.0h1.4v1.2h-1.4zM287.8 201.0h1.4v1.2h-1.4zM289.0 201.0h1.4v1.2h-1.4zM102.1 199.9h1.4v1.2h-1.4zM245.4 199.9h1.4v1.2h-1.4zM246.5 199.9h1.4v1.2h-1.4zM242.9 198.9h1.4v1.2h-1.4zM246.4 198.9h1.4v1.2h-1.4zM244.0 197.9h1.4v1.2h-1.4zM245.1 197.9h1.4v1.2h-1.4zM245.0 196.9h1.4v1.2h-1.4zM248.5 196.9h1.4v1.2h-1.4zM165.6 195.9h1.4v1.2h-1.4zM194.7 195.9h1.4v1.2h-1.4zM244.9 195.9h1.4v1.2h-1.4zM276.1 193.9h1.4v1.2h-1.4zM213.2 192.9h1.4v1.2h-1.4zM214.4 192.9h1.4v1.2h-1.4zM265.4 192.9h1.4v1.2h-1.4zM100.0 189.8h1.4v1.2h-1.4zM83.2 187.8h1.3v1.2h-1.3zM226.5 187.8h1.3v1.2h-1.3zM227.6 187.8h1.3v1.2h-1.3zM272.3 187.8h1.3v1.2h-1.3zM84.6 186.8h1.3v1.2h-1.3zM225.2 186.8h1.3v1.2h-1.3zM226.3 186.8h1.3v1.2h-1.3zM229.8 186.8h1.3v1.2h-1.3zM230.9 186.8h1.3v1.2h-1.3zM84.9 185.8h1.3v1.2h-1.3zM87.2 185.8h1.3v1.2h-1.3zM177.2 185.8h1.3v1.2h-1.3zM284.3 185.8h1.3v1.2h-1.3zM172.6 184.8h1.3v1.2h-1.3zM174.9 184.8h1.3v1.2h-1.3zM281.6 184.8h1.3v1.2h-1.3zM262.0 183.7h1.3v1.2h-1.3zM293.7 183.7h1.3v1.2h-1.3zM68.9 182.7h1.3v1.2h-1.3zM254.7 181.7h1.3v1.2h-1.3zM73.1 180.7h1.3v1.2h-1.3zM183.9 180.7h1.3v1.2h-1.3zM271.1 180.7h1.3v1.2h-1.3zM271.9 179.7h1.3v1.2h-1.3zM284.1 179.7h1.3v1.2h-1.3zM271.4 178.7h1.3v1.2h-1.3zM274.8 178.7h1.3v1.2h-1.3zM268.8 177.7h1.3v1.2h-1.3zM69.3 176.7h1.3v1.2h-1.3zM71.5 176.7h1.3v1.2h-1.3zM68.7 175.7h1.3v1.2h-1.3zM69.8 175.7h1.3v1.2h-1.3zM74.2 175.7h1.3v1.2h-1.3zM258.1 175.7h1.3v1.2h-1.3zM278.9 175.7h1.3v1.2h-1.3zM69.3 174.7h1.3v1.2h-1.3zM210.8 174.7h1.3v1.2h-1.3zM246.8 174.7h1.3v1.2h-1.3zM288.2 174.7h1.3v1.2h-1.3zM228.0 173.7h1.3v1.2h-1.3zM75.8 172.7h1.3v1.2h-1.3zM96.2 172.7h1.3v1.2h-1.3zM180.3 172.7h1.3v1.2h-1.3zM192.1 172.7h1.3v1.2h-1.3zM264.3 172.7h1.3v1.2h-1.3zM75.2 171.7h1.3v1.2h-1.3zM100.7 169.7h1.3v1.2h-1.3zM205.6 169.7h1.3v1.2h-1.3zM263.9 169.7h1.3v1.2h-1.3zM268.1 169.7h1.3v1.2h-1.3zM224.4 168.7h1.3v1.2h-1.3zM251.8 168.7h1.3v1.2h-1.3zM208.4 167.7h1.2v1.2h-1.2zM224.1 167.7h1.2v1.2h-1.2zM258.7 167.7h1.2v1.2h-1.2zM291.1 167.7h1.2v1.2h-1.2zM292.2 167.7h1.2v1.2h-1.2zM104.1 166.7h1.2v1.2h-1.2zM179.1 166.7h1.2v1.2h-1.2zM288.3 166.7h1.2v1.2h-1.2zM254.5 165.8h1.2v1.2h-1.2zM271.0 165.8h1.2v1.2h-1.2zM72.2 164.8h1.2v1.2h-1.2zM109.2 164.8h1.2v1.2h-1.2zM170.8 164.8h1.2v1.2h-1.2zM265.3 164.8h1.2v1.2h-1.2zM268.3 164.8h1.2v1.2h-1.2zM286.8 164.8h1.2v1.2h-1.2zM287.8 164.8h1.2v1.2h-1.2zM166.7 163.8h1.2v1.2h-1.2zM216.4 162.8h1.2v1.2h-1.2zM282.2 162.8h1.2v1.2h-1.2zM109.6 161.9h1.2v1.2h-1.2zM216.1 161.9h1.2v1.2h-1.2zM281.7 160.0h1.2v1.2h-1.2zM213.2 159.0h1.2v1.1h-1.2zM98.0 158.1h1.2v1.1h-1.2zM241.5 157.1h1.2v1.1h-1.2zM245.3 157.1h1.2v1.1h-1.2zM97.2 155.3h1.1v1.1h-1.1zM248.8 155.3h1.1v1.1h-1.1zM263.1 155.3h1.1v1.1h-1.1zM278.2 155.3h1.1v1.1h-1.1zM54.7 154.4h1.1v1.1h-1.1zM182.4 154.4h1.1v1.1h-1.1zM185.2 154.4h1.1v1.1h-1.1zM220.9 154.4h1.1v1.1h-1.1zM247.2 154.4h1.1v1.1h-1.1zM249.1 154.4h1.1v1.1h-1.1zM263.2 154.4h1.1v1.1h-1.1zM245.6 153.5h1.1v1.1h-1.1zM274.5 153.5h1.1v1.1h-1.1zM248.7 152.6h1.1v1.1h-1.1zM282.8 152.6h1.1v1.1h-1.1zM65.3 151.7h1.1v1.1h-1.1zM67.1 151.7h1.1v1.1h-1.1zM74.4 151.7h1.1v1.1h-1.1zM219.6 151.7h1.1v1.1h-1.1zM220.6 151.7h1.1v1.1h-1.1zM305.5 151.7h1.1v1.1h-1.1zM56.4 150.8h1.1v1.1h-1.1zM68.2 150.8h1.1v1.1h-1.1zM220.1 150.8h1.1v1.1h-1.1zM297.0 150.8h1.1v1.1h-1.1zM298.8 150.8h1.1v1.1h-1.1zM47.8 149.9h1.1v1.1h-1.1zM103.3 149.9h1.1v1.1h-1.1zM219.7 149.9h1.1v1.1h-1.1zM280.6 149.9h1.1v1.1h-1.1zM297.6 149.9h1.1v1.1h-1.1zM298.5 149.9h1.1v1.1h-1.1zM104.0 149.0h1.1v1.1h-1.1zM243.1 149.0h1.1v1.1h-1.1zM214.4 148.2h1.1v1.1h-1.1zM215.2 148.2h1.1v1.1h-1.1zM265.2 148.2h1.1v1.1h-1.1zM192.9 146.5h1.1v1.0h-1.1zM266.8 146.5h1.1v1.0h-1.1zM247.9 145.6h1.0v1.0h-1.0zM249.6 145.6h1.0v1.0h-1.0zM237.1 144.0h1.0v1.0h-1.0zM241.2 144.0h1.0v1.0h-1.0zM233.1 142.4h1.0v1.0h-1.0zM240.1 140.8h1.0v1.0h-1.0zM126.9 137.9h0.9v0.9h-0.9zM126.2 137.3h0.9v0.9h-0.9zM209.8 137.3h0.9v0.9h-0.9zM127.6 136.7h0.9v0.8h-0.9zM208.6 136.7h0.9v0.8h-0.9zM209.3 136.7h0.9v0.8h-0.9zM128.4 136.1h0.9v0.8h-0.9zM129.8 136.1h0.9v0.8h-0.9z"/>
<path fill="#ff7a00" d="M120.1 258.7h1.3v1.2h-1.3zM121.0 257.7h1.3v1.2h-1.3zM119.3 254.6h1.3v1.2h-1.3zM120.4 254.6h1.3v1.2h-1.3zM121.5 254.6h1.3v1.2h-1.3zM121.9 249.6h1.4v1.2h-1.4zM120.4 246.5h1.4v1.2h-1.4zM120.2 245.5h1.4v1.2h-1.4zM251.3 191.8h1.4v1.2h-1.4zM238.4 190.8h1.4v1.2h-1.4zM248.8 190.8h1.4v1.2h-1.4zM253.5 190.8h1.4v1.2h-1.4zM234.8 189.8h1.4v1.2h-1.4zM236.0 189.8h1.4v1.2h-1.4zM249.8 189.8h1.4v1.2h-1.4zM253.3 189.8h1.4v1.2h-1.4zM254.4 189.8h1.4v1.2h-1.4zM247.1 187.8h1.3v1.2h-1.3zM248.3 187.8h1.3v1.2h-1.3zM216.0 186.8h1.3v1.2h-1.3zM250.1 185.8h1.3v1.2h-1.3zM212.4 184.8h1.3v1.2h-1.3zM278.2 184.8h1.3v1.2h-1.3zM91.2 183.7h1.3v1.2h-1.3zM92.3 183.7h1.3v1.2h-1.3zM93.4 183.7h1.3v1.2h-1.3zM212.2 183.7h1.3v1.2h-1.3zM279.0 183.7h1.3v1.2h-1.3zM214.4 182.7h1.3v1.2h-1.3zM276.4 182.7h1.3v1.2h-1.3zM223.2 181.7h1.3v1.2h-1.3zM255.8 181.7h1.3v1.2h-1.3zM264.8 181.7h1.3v1.2h-1.3zM279.4 181.7h1.3v1.2h-1.3zM92.1 180.7h1.3v1.2h-1.3zM218.5 180.7h1.3v1.2h-1.3zM223.0 180.7h1.3v1.2h-1.3zM256.6 180.7h1.3v1.2h-1.3zM105.8 179.7h1.3v1.2h-1.3zM255.1 179.7h1.3v1.2h-1.3zM264.1 179.7h1.3v1.2h-1.3zM265.2 179.7h1.3v1.2h-1.3zM280.8 179.7h1.3v1.2h-1.3zM99.4 178.7h1.3v1.2h-1.3zM100.5 178.7h1.3v1.2h-1.3zM264.8 178.7h1.3v1.2h-1.3zM265.9 178.7h1.3v1.2h-1.3zM97.6 177.7h1.3v1.2h-1.3zM257.8 177.7h1.3v1.2h-1.3zM260.0 177.7h1.3v1.2h-1.3zM92.4 176.7h1.3v1.2h-1.3zM281.0 171.7h1.3v1.2h-1.3zM278.3 170.7h1.3v1.2h-1.3zM280.4 170.7h1.3v1.2h-1.3zM284.7 170.7h1.3v1.2h-1.3zM280.9 169.7h1.3v1.2h-1.3zM282.7 167.7h1.2v1.2h-1.2zM281.4 165.8h1.2v1.2h-1.2zM282.4 165.8h1.2v1.2h-1.2zM121.9 163.8h1.2v1.2h-1.2zM118.6 161.9h1.2v1.2h-1.2zM121.7 161.9h1.2v1.2h-1.2zM123.1 160.9h1.2v1.2h-1.2zM232.3 160.0h1.2v1.2h-1.2zM224.5 158.1h1.2v1.1h-1.2zM226.5 158.1h1.2v1.1h-1.2zM228.9 157.1h1.2v1.1h-1.2zM221.8 156.2h1.2v1.1h-1.2zM225.6 156.2h1.2v1.1h-1.2zM196.7 155.3h1.1v1.1h-1.1zM230.8 155.3h1.1v1.1h-1.1zM223.8 154.4h1.1v1.1h-1.1zM197.2 153.5h1.1v1.1h-1.1zM198.2 153.5h1.1v1.1h-1.1zM223.3 153.5h1.1v1.1h-1.1zM225.2 153.5h1.1v1.1h-1.1zM90.1 152.6h1.1v1.1h-1.1zM99.3 152.6h1.1v1.1h-1.1zM198.9 152.6h1.1v1.1h-1.1zM227.0 151.7h1.1v1.1h-1.1zM98.9 150.8h1.1v1.1h-1.1zM191.2 150.8h1.1v1.1h-1.1zM194.8 150.8h1.1v1.1h-1.1zM90.7 149.9h1.1v1.1h-1.1zM95.2 149.9h1.1v1.1h-1.1zM190.1 149.9h1.1v1.1h-1.1zM193.7 149.9h1.1v1.1h-1.1zM195.5 149.9h1.1v1.1h-1.1zM196.4 149.9h1.1v1.1h-1.1zM96.9 149.0h1.1v1.1h-1.1zM189.1 149.0h1.1v1.1h-1.1zM196.8 148.2h1.1v1.1h-1.1zM104.6 147.3h1.1v1.1h-1.1zM97.6 146.5h1.1v1.0h-1.1zM101.1 145.6h1.0v1.0h-1.0zM102.8 144.0h1.0v1.0h-1.0zM108.6 143.2h1.0v1.0h-1.0zM109.4 143.2h1.0v1.0h-1.0zM110.2 143.2h1.0v1.0h-1.0zM106.0 140.1h1.0v1.0h-1.0zM106.8 140.1h1.0v1.0h-1.0zM125.4 138.6h1.0v0.9h-1.0zM114.3 137.9h0.9v0.9h-0.9z"/>
<path fill="#e00000" d="M121.2 258.7h1.3v1.2h-1.3zM120.2 253.6h1.3v1.2h-1.3zM121.4 253.6h1.3v1.2h-1.3zM120.0 252.6h1.3v1.2h-1.3zM121.2 252.6h1.3v1.2h-1.3zM119.9 251.6h1.3v1.2h-1.3zM121.0 251.6h1.3v1.2h-1.3zM119.6 249.6h1.4v1.2h-1.4zM119.4 248.6h1.4v1.2h-1.4zM120.6 248.6h1.4v1.2h-1.4zM120.5 247.5h1.4v1.2h-1.4zM121.5 246.5h1.4v1.2h-1.4zM121.4 245.5h1.4v1.2h-1.4zM120.1 244.5h1.4v1.2h-1.4zM121.3 244.5h1.4v1.2h-1.4zM271.1 198.9h1.4v1.2h-1.4zM270.8 196.9h1.4v1.2h-1.4zM271.9 196.9h1.4v1.2h-1.4zM270.4 194.9h1.4v1.2h-1.4zM253.7 191.8h1.4v1.2h-1.4zM254.6 190.8h1.4v1.2h-1.4zM238.3 189.8h1.4v1.2h-1.4zM247.5 189.8h1.4v1.2h-1.4zM255.6 189.8h1.4v1.2h-1.4zM235.8 188.8h1.3v1.2h-1.3zM237.0 188.8h1.3v1.2h-1.3zM238.1 188.8h1.3v1.2h-1.3zM247.3 188.8h1.3v1.2h-1.3zM253.1 188.8h1.3v1.2h-1.3zM254.2 188.8h1.3v1.2h-1.3zM99.2 187.8h1.3v1.2h-1.3zM251.5 186.8h1.3v1.2h-1.3zM218.2 185.8h1.3v1.2h-1.3zM222.8 185.8h1.3v1.2h-1.3zM93.1 184.8h1.3v1.2h-1.3zM280.5 184.8h1.3v1.2h-1.3zM280.1 183.7h1.3v1.2h-1.3zM281.3 183.7h1.3v1.2h-1.3zM257.2 182.7h1.3v1.2h-1.3zM260.6 182.7h1.3v1.2h-1.3zM261.7 182.7h1.3v1.2h-1.3zM279.8 182.7h1.3v1.2h-1.3zM280.9 182.7h1.3v1.2h-1.3zM282.0 182.7h1.3v1.2h-1.3zM212.0 181.7h1.3v1.2h-1.3zM213.1 181.7h1.3v1.2h-1.3zM256.9 181.7h1.3v1.2h-1.3zM259.1 181.7h1.3v1.2h-1.3zM261.4 181.7h1.3v1.2h-1.3zM258.8 180.7h1.3v1.2h-1.3zM259.9 180.7h1.3v1.2h-1.3zM275.6 180.7h1.3v1.2h-1.3zM276.7 180.7h1.3v1.2h-1.3zM218.4 179.7h1.3v1.2h-1.3zM220.6 179.7h1.3v1.2h-1.3zM259.6 179.7h1.3v1.2h-1.3zM260.7 179.7h1.3v1.2h-1.3zM261.8 179.7h1.3v1.2h-1.3zM266.3 179.7h1.3v1.2h-1.3zM276.3 179.7h1.3v1.2h-1.3zM277.4 179.7h1.3v1.2h-1.3zM278.5 179.7h1.3v1.2h-1.3zM281.9 179.7h1.3v1.2h-1.3zM96.1 178.7h1.3v1.2h-1.3zM101.7 178.7h1.3v1.2h-1.3zM258.1 178.7h1.3v1.2h-1.3zM259.2 178.7h1.3v1.2h-1.3zM260.3 178.7h1.3v1.2h-1.3zM262.6 178.7h1.3v1.2h-1.3zM275.9 178.7h1.3v1.2h-1.3zM277.0 178.7h1.3v1.2h-1.3zM278.1 178.7h1.3v1.2h-1.3zM279.2 178.7h1.3v1.2h-1.3zM281.4 178.7h1.3v1.2h-1.3zM94.2 177.7h1.3v1.2h-1.3zM258.9 177.7h1.3v1.2h-1.3zM261.1 177.7h1.3v1.2h-1.3zM264.4 177.7h1.3v1.2h-1.3zM276.5 177.7h1.3v1.2h-1.3zM277.6 177.7h1.3v1.2h-1.3zM278.8 177.7h1.3v1.2h-1.3zM68.2 176.7h1.3v1.2h-1.3zM93.5 176.7h1.3v1.2h-1.3zM94.6 176.7h1.3v1.2h-1.3zM258.5 176.7h1.3v1.2h-1.3zM278.3 176.7h1.3v1.2h-1.3zM279.4 176.7h1.3v1.2h-1.3zM93.9 175.7h1.3v1.2h-1.3zM95.0 175.7h1.3v1.2h-1.3zM96.1 175.7h1.3v1.2h-1.3zM98.3 175.7h1.3v1.2h-1.3zM94.3 174.7h1.3v1.2h-1.3zM95.8 173.7h1.3v1.2h-1.3zM278.8 171.7h1.3v1.2h-1.3zM282.1 171.7h1.3v1.2h-1.3zM283.1 171.7h1.3v1.2h-1.3zM284.2 171.7h1.3v1.2h-1.3zM277.2 170.7h1.3v1.2h-1.3zM282.5 170.7h1.3v1.2h-1.3zM283.6 170.7h1.3v1.2h-1.3zM281.9 169.7h1.3v1.2h-1.3zM282.3 168.7h1.3v1.2h-1.3zM283.4 168.7h1.3v1.2h-1.3zM184.3 167.7h1.2v1.2h-1.2zM283.8 167.7h1.2v1.2h-1.2zM185.3 166.7h1.2v1.2h-1.2zM195.7 166.7h1.2v1.2h-1.2zM283.1 166.7h1.2v1.2h-1.2zM188.3 165.8h1.2v1.2h-1.2zM127.7 164.8h1.2v1.2h-1.2zM121.3 162.8h1.2v1.2h-1.2zM122.3 162.8h1.2v1.2h-1.2zM123.3 162.8h1.2v1.2h-1.2zM120.9 159.0h1.2v1.1h-1.2zM230.8 159.0h1.2v1.1h-1.2zM231.8 159.0h1.2v1.1h-1.2zM227.4 158.1h1.2v1.1h-1.2zM228.4 158.1h1.2v1.1h-1.2zM229.4 158.1h1.2v1.1h-1.2zM225.1 157.1h1.2v1.1h-1.2zM226.0 157.1h1.2v1.1h-1.2zM227.0 157.1h1.2v1.1h-1.2zM224.6 156.2h1.2v1.1h-1.2zM229.4 156.2h1.2v1.1h-1.2zM230.4 156.2h1.2v1.1h-1.2zM233.2 156.2h1.2v1.1h-1.2zM92.4 155.3h1.1v1.1h-1.1zM221.4 155.3h1.1v1.1h-1.1zM239.4 155.3h1.1v1.1h-1.1zM186.2 154.4h1.1v1.1h-1.1zM224.7 154.4h1.1v1.1h-1.1zM89.3 153.5h1.1v1.1h-1.1zM98.6 153.5h1.1v1.1h-1.1zM222.4 153.5h1.1v1.1h-1.1zM91.0 152.6h1.1v1.1h-1.1zM197.0 152.6h1.1v1.1h-1.1zM226.5 152.6h1.1v1.1h-1.1zM227.5 152.6h1.1v1.1h-1.1zM90.9 151.7h1.1v1.1h-1.1zM191.3 151.7h1.1v1.1h-1.1zM226.0 151.7h1.1v1.1h-1.1zM227.9 151.7h1.1v1.1h-1.1zM90.8 150.8h1.1v1.1h-1.1zM92.6 150.8h1.1v1.1h-1.1zM192.1 150.8h1.1v1.1h-1.1zM193.0 150.8h1.1v1.1h-1.1zM195.7 150.8h1.1v1.1h-1.1zM227.4 150.8h1.1v1.1h-1.1zM228.3 150.8h1.1v1.1h-1.1zM91.6 149.9h1.1v1.1h-1.1zM92.5 149.9h1.1v1.1h-1.1zM91.6 149.0h1.1v1.1h-1.1zM92.5 149.0h1.1v1.1h-1.1zM93.4 149.0h1.1v1.1h-1.1zM94.2 149.0h1.1v1.1h-1.1zM95.1 149.0h1.1v1.1h-1.1zM96.0 149.0h1.1v1.1h-1.1zM92.4 148.2h1.1v1.1h-1.1zM93.3 148.2h1.1v1.1h-1.1zM96.8 148.2h1.1v1.1h-1.1zM101.9 146.5h1.1v1.0h-1.1zM103.7 146.5h1.1v1.0h-1.1zM105.4 146.5h1.1v1.0h-1.1zM100.2 145.6h1.0v1.0h-1.0zM101.1 144.8h1.0v1.0h-1.0zM108.6 144.8h1.0v1.0h-1.0zM111.1 144.8h1.0v1.0h-1.0zM110.2 144.0h1.0v1.0h-1.0zM106.5 140.8h1.0v1.0h-1.0zM126.1 138.6h1.0v0.9h-1.0zM125.4 137.9h0.9v0.9h-0.9z"/>
<path fill="#ffb000" d="M301.8 257.7h1.3v1.2h-1.3zM303.0 257.7h1.3v1.2h-1.3zM303.4 256.7h1.3v1.2h-1.3zM308.0 256.7h1.3v1.2h-1.3zM280.9 253.6h1.3v1.2h-1.3zM201.2 252.6h1.3v1.2h-1.3zM202.3 252.6h1.3v1.2h-1.3zM191.0 249.6h1.4v1.2h-1.4zM123.8 246.5h1.4v1.2h-1.4zM122.6 245.5h1.4v1.2h-1.4zM123.7 245.5h1.4v1.2h-1.4zM195.9 243.5h1.4v1.2h-1.4zM196.0 241.5h1.4v1.2h-1.4zM196.0 240.5h1.4v1.2h-1.4zM108.8 235.4h1.4v1.2h-1.4zM189.2 229.3h1.4v1.2h-1.4zM189.2 228.3h1.4v1.2h-1.4zM306.0 222.2h1.4v1.2h-1.4zM197.6 220.2h1.4v1.2h-1.4zM211.9 219.2h1.4v1.2h-1.4zM180.9 213.1h1.4v1.2h-1.4zM108.5 208.0h1.4v1.2h-1.4zM93.1 207.0h1.4v1.2h-1.4zM288.0 202.0h1.4v1.2h-1.4zM252.4 199.9h1.4v1.2h-1.4zM287.7 193.9h1.4v1.2h-1.4zM250.3 192.9h1.4v1.2h-1.4zM98.8 189.8h1.4v1.2h-1.4zM228.8 187.8h1.3v1.2h-1.3zM229.9 187.8h1.3v1.2h-1.3zM83.5 186.8h1.3v1.2h-1.3zM173.8 186.8h1.3v1.2h-1.3zM86.0 185.8h1.3v1.2h-1.3zM172.6 185.8h1.3v1.2h-1.3zM173.8 185.8h1.3v1.2h-1.3zM174.9 185.8h1.3v1.2h-1.3zM90.9 184.8h1.3v1.2h-1.3zM277.1 184.8h1.3v1.2h-1.3zM279.4 184.8h1.3v1.2h-1.3zM276.7 183.7h1.3v1.2h-1.3zM276.0 181.7h1.3v1.2h-1.3zM278.2 181.7h1.3v1.2h-1.3zM281.6 181.7h1.3v1.2h-1.3zM272.2 180.7h1.3v1.2h-1.3zM273.4 180.7h1.3v1.2h-1.3zM91.3 179.7h1.3v1.2h-1.3zM91.7 178.7h1.3v1.2h-1.3zM280.3 178.7h1.3v1.2h-1.3zM90.9 177.7h1.3v1.2h-1.3zM275.4 177.7h1.3v1.2h-1.3zM91.3 176.7h1.3v1.2h-1.3zM276.1 176.7h1.3v1.2h-1.3zM276.7 175.7h1.3v1.2h-1.3zM109.6 174.7h1.3v1.2h-1.3zM227.7 172.7h1.3v1.2h-1.3zM223.1 171.7h1.3v1.2h-1.3zM227.4 171.7h1.3v1.2h-1.3zM187.7 170.7h1.3v1.2h-1.3zM204.6 169.7h1.3v1.2h-1.3zM225.8 169.7h1.3v1.2h-1.3zM242.7 169.7h1.3v1.2h-1.3zM225.5 168.7h1.3v1.2h-1.3zM231.1 166.7h1.2v1.2h-1.2zM289.3 166.7h1.2v1.2h-1.2zM105.6 165.8h1.2v1.2h-1.2zM218.3 165.8h1.2v1.2h-1.2zM265.9 165.8h1.2v1.2h-1.2zM107.1 164.8h1.2v1.2h-1.2zM218.0 164.8h1.2v1.2h-1.2zM167.8 163.8h1.2v1.2h-1.2zM216.7 163.8h1.2v1.2h-1.2zM217.7 163.8h1.2v1.2h-1.2zM167.8 162.8h1.2v1.2h-1.2zM281.4 161.9h1.2v1.2h-1.2zM215.8 160.9h1.2v1.2h-1.2zM280.6 160.9h1.2v1.2h-1.2zM87.9 160.0h1.2v1.2h-1.2zM98.7 160.0h1.2v1.2h-1.2zM214.5 160.0h1.2v1.2h-1.2zM215.5 160.0h1.2v1.2h-1.2zM225.9 159.0h1.2v1.1h-1.2zM230.4 158.1h1.2v1.1h-1.2zM228.0 157.1h1.2v1.1h-1.2zM280.1 157.1h1.2v1.1h-1.2zM264.8 156.2h1.2v1.1h-1.2zM280.1 156.2h1.2v1.1h-1.2zM226.1 155.3h1.1v1.1h-1.1zM248.2 154.4h1.1v1.1h-1.1zM91.1 153.5h1.1v1.1h-1.1zM227.0 153.5h1.1v1.1h-1.1zM228.9 153.5h1.1v1.1h-1.1zM233.5 153.5h1.1v1.1h-1.1zM236.3 153.5h1.1v1.1h-1.1zM248.4 153.5h1.1v1.1h-1.1zM286.6 153.5h1.1v1.1h-1.1zM91.9 152.6h1.1v1.1h-1.1zM224.7 152.6h1.1v1.1h-1.1zM228.4 152.6h1.1v1.1h-1.1zM247.7 152.6h1.1v1.1h-1.1zM254.2 152.6h1.1v1.1h-1.1zM304.9 152.6h1.1v1.1h-1.1zM84.5 151.7h1.1v1.1h-1.1zM90.0 151.7h1.1v1.1h-1.1zM93.6 151.7h1.1v1.1h-1.1zM246.1 151.7h1.1v1.1h-1.1zM247.0 151.7h1.1v1.1h-1.1zM248.0 151.7h1.1v1.1h-1.1zM65.5 150.8h1.1v1.1h-1.1zM66.4 150.8h1.1v1.1h-1.1zM67.3 150.8h1.1v1.1h-1.1zM77.2 150.8h1.1v1.1h-1.1zM88.1 150.8h1.1v1.1h-1.1zM219.2 150.8h1.1v1.1h-1.1zM221.0 150.8h1.1v1.1h-1.1zM231.0 150.8h1.1v1.1h-1.1zM68.4 149.9h1.1v1.1h-1.1zM94.3 149.9h1.1v1.1h-1.1zM105.1 149.9h1.1v1.1h-1.1zM296.7 149.9h1.1v1.1h-1.1zM49.0 149.0h1.1v1.1h-1.1zM104.9 149.0h1.1v1.1h-1.1zM266.2 149.0h1.1v1.1h-1.1zM94.2 148.2h1.1v1.1h-1.1zM95.1 148.2h1.1v1.1h-1.1zM213.5 148.2h1.1v1.1h-1.1zM248.6 148.2h1.1v1.1h-1.1zM246.9 147.3h1.1v1.1h-1.1zM247.8 147.3h1.1v1.1h-1.1zM245.3 146.5h1.1v1.0h-1.1zM248.7 146.5h1.1v1.0h-1.1zM246.2 144.8h1.0v1.0h-1.0zM247.9 144.8h1.0v1.0h-1.0zM234.7 143.2h1.0v1.0h-1.0zM212.9 142.4h1.0v1.0h-1.0zM244.4 142.4h1.0v1.0h-1.0zM126.1 137.9h0.9v0.9h-0.9zM188.2 137.9h0.9v0.9h-0.9zM126.9 137.3h0.9v0.9h-0.9zM126.2 136.7h0.9v0.8h-0.9zM128.4 136.7h0.9v0.8h-0.9zM129.1 136.1h0.9v0.8h-0.9z"/>
<path fill="#2090f8" d="M209.3 208.0h1.4v1.2h-1.4zM180.8 204.0h1.4v1.2h-1.4zM98.7 174.7h1.3v1.2h-1.3zM98.0 173.7h1.3v1.2h-1.3zM100.2 173.7h1.3v1.2h-1.3zM102.0 171.7h1.3v1.2h-1.3zM103.1 171.7h1.3v1.2h-1.3zM113.1 167.7h1.2v1.2h-1.2zM91.2 165.8h1.2v1.2h-1.2zM92.2 165.8h1.2v1.2h-1.2zM95.3 165.8h1.2v1.2h-1.2zM89.7 164.8h1.2v1.2h-1.2zM95.8 164.8h1.2v1.2h-1.2zM88.9 162.8h1.2v1.2h-1.2zM90.9 162.8h1.2v1.2h-1.2zM95.5 161.9h1.2v1.2h-1.2zM98.5 161.9h1.2v1.2h-1.2zM126.7 161.9h1.2v1.2h-1.2zM96.1 160.9h1.2v1.2h-1.2zM226.7 160.9h1.2v1.2h-1.2zM94.8 160.0h1.2v1.2h-1.2zM227.3 160.0h1.2v1.2h-1.2zM235.2 160.0h1.2v1.2h-1.2zM236.2 158.1h1.2v1.1h-1.2zM238.1 158.1h1.2v1.1h-1.2zM237.6 157.1h1.2v1.1h-1.2zM234.6 155.3h1.1v1.1h-1.1zM235.6 155.3h1.1v1.1h-1.1zM226.6 154.4h1.1v1.1h-1.1zM229.4 154.4h1.1v1.1h-1.1zM232.2 154.4h1.1v1.1h-1.1zM235.0 154.4h1.1v1.1h-1.1zM92.1 153.5h1.1v1.1h-1.1zM93.9 153.5h1.1v1.1h-1.1zM89.1 152.6h1.1v1.1h-1.1zM237.6 152.6h1.1v1.1h-1.1zM98.0 150.8h1.1v1.1h-1.1zM112.9 145.6h1.0v1.0h-1.0zM124.0 145.6h1.0v1.0h-1.0zM125.7 145.6h1.0v1.0h-1.0zM119.9 141.6h1.0v1.0h-1.0zM116.8 140.1h1.0v1.0h-1.0zM117.6 140.1h1.0v1.0h-1.0zM118.4 140.1h1.0v1.0h-1.0zM115.6 138.6h1.0v0.9h-1.0z"/>
<path fill="#ff3000" d="M95.7 176.7h1.3v1.2h-1.3zM96.8 176.7h1.3v1.2h-1.3zM95.4 174.7h1.3v1.2h-1.3zM97.6 174.7h1.3v1.2h-1.3z"/>
<path fill="#1a30f0" d="M114.2 167.7h1.2v1.2h-1.2zM277.5 167.7h1.2v1.2h-1.2zM279.6 167.7h1.2v1.2h-1.2zM93.7 166.7h1.2v1.2h-1.2zM95.8 166.7h1.2v1.2h-1.2zM276.9 166.7h1.2v1.2h-1.2zM277.9 166.7h1.2v1.2h-1.2zM280.0 166.7h1.2v1.2h-1.2zM93.2 165.8h1.2v1.2h-1.2zM94.3 165.8h1.2v1.2h-1.2zM91.7 164.8h1.2v1.2h-1.2zM92.3 163.8h1.2v1.2h-1.2zM95.4 163.8h1.2v1.2h-1.2zM97.4 163.8h1.2v1.2h-1.2zM91.9 162.8h1.2v1.2h-1.2zM92.9 162.8h1.2v1.2h-1.2zM99.0 162.8h1.2v1.2h-1.2zM91.5 161.9h1.2v1.2h-1.2zM92.5 161.9h1.2v1.2h-1.2zM96.5 161.9h1.2v1.2h-1.2zM229.7 160.9h1.2v1.2h-1.2zM95.8 160.0h1.2v1.2h-1.2zM225.3 160.0h1.2v1.2h-1.2zM229.3 160.0h1.2v1.2h-1.2zM230.3 160.0h1.2v1.2h-1.2zM223.0 159.0h1.2v1.1h-1.2zM233.8 159.0h1.2v1.1h-1.2zM234.7 159.0h1.2v1.1h-1.2zM235.7 159.0h1.2v1.1h-1.2zM236.7 159.0h1.2v1.1h-1.2zM118.5 158.1h1.2v1.1h-1.2zM221.6 158.1h1.2v1.1h-1.2zM234.3 158.1h1.2v1.1h-1.2zM235.2 158.1h1.2v1.1h-1.2zM237.2 158.1h1.2v1.1h-1.2zM234.7 157.1h1.2v1.1h-1.2zM120.4 156.2h1.2v1.1h-1.2zM236.1 156.2h1.2v1.1h-1.2zM238.0 156.2h1.2v1.1h-1.2zM239.0 156.2h1.2v1.1h-1.2zM223.2 155.3h1.1v1.1h-1.1zM227.0 155.3h1.1v1.1h-1.1zM228.9 155.3h1.1v1.1h-1.1zM237.5 155.3h1.1v1.1h-1.1zM230.3 154.4h1.1v1.1h-1.1zM88.3 153.5h1.1v1.1h-1.1zM93.0 153.5h1.1v1.1h-1.1zM94.9 153.5h1.1v1.1h-1.1zM192.6 153.5h1.1v1.1h-1.1zM234.5 153.5h1.1v1.1h-1.1zM235.4 153.5h1.1v1.1h-1.1zM237.3 153.5h1.1v1.1h-1.1zM85.4 151.7h1.1v1.1h-1.1zM95.4 151.7h1.1v1.1h-1.1zM99.1 151.7h1.1v1.1h-1.1zM100.0 151.7h1.1v1.1h-1.1zM231.5 151.7h1.1v1.1h-1.1zM233.3 151.7h1.1v1.1h-1.1zM235.2 151.7h1.1v1.1h-1.1zM236.1 151.7h1.1v1.1h-1.1zM200.2 150.8h1.1v1.1h-1.1zM88.0 149.9h1.1v1.1h-1.1zM86.3 149.0h1.1v1.1h-1.1zM198.8 149.0h1.1v1.1h-1.1zM88.9 148.2h1.1v1.1h-1.1z"/>
<path fill="#4010f0" d="M92.7 166.7h1.2v1.2h-1.2zM94.8 166.7h1.2v1.2h-1.2zM90.1 165.8h1.2v1.2h-1.2zM96.3 165.8h1.2v1.2h-1.2zM90.7 164.8h1.2v1.2h-1.2zM96.9 164.8h1.2v1.2h-1.2zM97.9 164.8h1.2v1.2h-1.2zM98.9 164.8h1.2v1.2h-1.2zM91.3 163.8h1.2v1.2h-1.2zM98.4 163.8h1.2v1.2h-1.2zM90.5 161.9h1.2v1.2h-1.2zM228.7 160.9h1.2v1.2h-1.2zM228.3 160.0h1.2v1.2h-1.2zM238.2 160.0h1.2v1.2h-1.2zM221.2 157.1h1.2v1.1h-1.2zM239.5 157.1h1.2v1.1h-1.2zM237.1 156.2h1.2v1.1h-1.2zM236.5 155.3h1.1v1.1h-1.1zM91.3 154.4h1.1v1.1h-1.1zM95.0 154.4h1.1v1.1h-1.1zM87.4 153.5h1.1v1.1h-1.1zM95.8 153.5h1.1v1.1h-1.1zM96.7 153.5h1.1v1.1h-1.1zM85.5 152.6h1.1v1.1h-1.1zM86.4 152.6h1.1v1.1h-1.1zM87.3 152.6h1.1v1.1h-1.1zM94.7 152.6h1.1v1.1h-1.1zM95.6 152.6h1.1v1.1h-1.1zM96.5 152.6h1.1v1.1h-1.1zM233.0 152.6h1.1v1.1h-1.1zM97.8 149.0h1.1v1.1h-1.1zM98.7 149.0h1.1v1.1h-1.1z"/>
<path fill="#0a0a30" d="M93.9 162.8h1.2v1.2h-1.2zM92.2 160.9h1.2v1.2h-1.2zM95.1 160.9h1.2v1.2h-1.2zM197.9 156.2h1.2v1.1h-1.2zM90.4 154.4h1.1v1.1h-1.1zM97.9 154.4h1.1v1.1h-1.1zM85.5 153.5h1.1v1.1h-1.1zM86.5 153.5h1.1v1.1h-1.1zM88.2 152.6h1.1v1.1h-1.1zM97.4 152.6h1.1v1.1h-1.1zM87.2 150.8h1.1v1.1h-1.1zM94.4 150.8h1.1v1.1h-1.1zM95.3 150.8h1.1v1.1h-1.1zM188.5 150.8h1.1v1.1h-1.1zM88.9 149.9h1.1v1.1h-1.1zM87.2 149.0h1.1v1.1h-1.1zM88.0 149.0h1.1v1.1h-1.1zM90.7 149.0h1.1v1.1h-1.1zM89.8 148.2h1.1v1.1h-1.1zM105.5 147.3h1.1v1.1h-1.1zM108.1 147.3h1.1v1.1h-1.1zM103.6 145.6h1.0v1.0h-1.0zM114.6 145.6h1.0v1.0h-1.0zM127.4 145.6h1.0v1.0h-1.0zM100.2 144.8h1.0v1.0h-1.0zM104.4 144.8h1.0v1.0h-1.0zM92.0 144.0h1.0v1.0h-1.0zM106.9 144.0h1.0v1.0h-1.0zM111.9 144.0h1.0v1.0h-1.0zM120.9 143.2h1.0v1.0h-1.0zM94.1 142.4h1.0v1.0h-1.0zM123.2 142.4h1.0v1.0h-1.0zM115.1 141.6h1.0v1.0h-1.0zM97.1 140.8h1.0v1.0h-1.0zM124.6 138.6h1.0v0.9h-1.0z"/></g>
</defs>
<text x="350.2" y="81.8" font-size="19.4" text-anchor="middle">DJF FINUNDATED (unitless)</text>
<text x="174.7" y="110.2" font-size="15.7" text-anchor="middle">Myccost_ISSP585Clm50BgcCrop_kparams</text>
<text x="174.7" y="127.3" font-size="15.7" text-anchor="middle">(yrs 2015-2048)</text>
<text x="524.7" y="110.2" font-size="15.7" text-anchor="middle">Myccost_ISSP585Clm50BgcCrop_control</text>
<text x="524.7" y="127.3" font-size="15.7" text-anchor="middle">(yrs 2015-2048)</text>
<text x="174.7" y="386.9" font-size="15.7" text-anchor="middle">Myccost_ISSP585Clm50BgcCrop_kparams</text>
<text x="174.7" y="403.9" font-size="15.7" text-anchor="middle">- Myccost_ISSP585Clm50BgcCrop_control</text>
<text x="525.0" y="396.9" font-size="15.8" text-anchor="middle">T-Test of two Case means at each grid point</text>
<text x="523.5" y="625.4" font-size="12.5" text-anchor="middle">Cells are significant at 0.1 level</text>
<g transform="translate(0,0)">
<use href="#land" fill="#2d4fe6" stroke="#2d4fe6" stroke-width="1.1"/>
<use href="#fillx" fill="#2d4fe6"/>
<use href="#holes" fill="#fff"/>
<use href="#gl" fill="none" stroke="#2d4fe6" stroke-width="3.2" clip-path="url(#glc)"/>
<use href="#an" fill="none" stroke="#2d4fe6" stroke-width="1.5" clip-path="url(#anc)"/>
<use href="#gle" fill="#2d4fe6"/>
<use href="#sp1"/>
<use href="#lakes" fill="none" stroke="#000" stroke-width="0.6"/>
<use href="#coast" fill="none" stroke="#000" stroke-width="0.8"/>
<use href="#frame" fill="none" stroke="#333" stroke-width="0.9"/>
</g>
<g transform="translate(350,0)">
<use href="#land" fill="#2d4fe6" stroke="#2d4fe6" stroke-width="1.1"/>
<use href="#fillx" fill="#2d4fe6"/>
<use href="#holes" fill="#fff"/>
<use href="#gl" fill="none" stroke="#2d4fe6" stroke-width="3.2" clip-path="url(#glc)"/>
<use href="#an" fill="none" stroke="#2d4fe6" stroke-width="1.5" clip-path="url(#anc)"/>
<use href="#gle" fill="#2d4fe6"/>
<use href="#sp1"/>
<use href="#lakes" fill="none" stroke="#000" stroke-width="0.6"/>
<use href="#coast" fill="none" stroke="#000" stroke-width="0.8"/>
<use href="#frame" fill="none" stroke="#333" stroke-width="0.9"/>
</g>
<g transform="translate(0,277)">
<use href="#land" fill="#fff796" stroke="#fff796" stroke-width="1.1"/>
<use href="#fillx" fill="#fff796"/>
<use href="#holes" fill="#fff"/>
<use href="#gl" fill="none" stroke="#fff796" stroke-width="3.2" clip-path="url(#glc)"/>
<use href="#an" fill="none" stroke="#fff796" stroke-width="1.5" clip-path="url(#anc)"/>
<use href="#gle" fill="#fff796"/>
<use href="#sp3"/>
<use href="#lakes" fill="none" stroke="#000" stroke-width="0.6"/>
<use href="#coast" fill="none" stroke="#000" stroke-width="0.8"/>
<use href="#frame" fill="none" stroke="#333" stroke-width="0.9"/>
</g>
<g transform="translate(350,277)">
<use href="#lakes" fill="none" stroke="#000" stroke-width="0.6"/>
<use href="#coast" fill="none" stroke="#000" stroke-width="0.8"/>
<path fill="#ff0000" transform="translate(-350,-277)" d="M402.9 431.5h1.4v1.2h-1.4zM442.9 427.3h1.4v1.2h-1.4zM444.7 427.3h1.4v1.2h-1.4zM437.9 433.0h1.4v1.2h-1.4zM434.3 436.5h1.4v1.2h-1.4zM439.3 443.0h1.4v1.2h-1.4zM442.2 444.4h1.4v1.2h-1.4zM423.6 460.8h1.4v1.2h-1.4zM424.6 461.7h1.4v1.2h-1.4zM425.5 462.7h1.4v1.2h-1.4zM426.4 463.7h1.4v1.2h-1.4zM430.0 463.0h1.4v1.2h-1.4zM428.6 468.7h1.4v1.2h-1.4zM429.5 470.4h1.4v1.2h-1.4zM430.3 472.0h1.4v1.2h-1.4zM431.3 473.7h1.4v1.2h-1.4zM432.2 477.3h1.4v1.2h-1.4zM549.9 424.5h1.4v1.2h-1.4zM555.9 424.5h1.4v1.2h-1.4zM520.7 445.4h1.4v1.2h-1.4zM573.4 438.6h1.4v1.2h-1.4zM567.0 453.7h1.4v1.2h-1.4zM571.3 454.8h1.4v1.2h-1.4zM583.3 457.4h1.4v1.2h-1.4zM587.6 454.3h1.4v1.2h-1.4zM591.9 452.3h1.4v1.2h-1.4zM587.6 462.2h1.4v1.2h-1.4zM603.1 462.6h1.4v1.2h-1.4zM605.6 457.4h1.4v1.2h-1.4zM609.1 459.1h1.4v1.2h-1.4zM611.6 456.6h1.4v1.2h-1.4zM615.9 456.6h1.4v1.2h-1.4zM612.2 460.8h1.4v1.2h-1.4zM612.2 455.4h1.4v1.2h-1.4zM608.6 459.4h1.4v1.2h-1.4zM574.3 478.0h1.4v1.2h-1.4zM560.2 483.5h1.4v1.2h-1.4zM611.4 438.7h1.4v1.2h-1.4zM627.9 495.8h1.4v1.2h-1.4zM464.2 518.6h1.4v1.2h-1.4zM464.2 523.7h1.4v1.2h-1.4zM466.7 540.9h1.4v1.2h-1.4zM467.3 542.4h1.4v1.2h-1.4zM468.1 544.4h1.4v1.2h-1.4zM468.5 548.6h1.4v1.2h-1.4zM546.5 526.3h1.4v1.2h-1.4zM634.2 528.4h1.4v1.2h-1.4zM629.6 533.4h1.4v1.2h-1.4zM648.6 533.9h1.4v1.2h-1.4z"/>
<use href="#frame" fill="none" stroke="#333" stroke-width="0.9"/>
</g>
<rect x="23.30" y="327.4" width="30.38" height="15.2" fill="#4010f0"/>
<rect x="53.63" y="327.4" width="30.38" height="15.2" fill="#2d4fe6"/>
<rect x="83.96" y="327.4" width="30.38" height="15.2" fill="#2090f0"/>
<rect x="114.29" y="327.4" width="30.38" height="15.2" fill="#10c0f8"/>
<rect x="144.62" y="327.4" width="30.38" height="15.2" fill="#a0d8f0"/>
<rect x="174.95" y="327.4" width="30.38" height="15.2" fill="#fff080"/>
<rect x="205.28" y="327.4" width="30.38" height="15.2" fill="#ffc010"/>
<rect x="235.61" y="327.4" width="30.38" height="15.2" fill="#ff7800"/>
<rect x="265.94" y="327.4" width="30.38" height="15.2" fill="#ff0000"/>
<rect x="296.27" y="327.4" width="30.38" height="15.2" fill="#d02828"/>
<path d="M53.63 327.4v15.2M83.96 327.4v15.2M114.29 327.4v15.2M144.62 327.4v15.2M174.95 327.4v15.2M205.28 327.4v15.2M235.61 327.4v15.2M265.94 327.4v15.2M296.27 327.4v15.2" stroke="#000" stroke-width="0.9"/>
<rect x="23.3" y="327.4" width="303.3" height="15.2" fill="none" stroke="#000" stroke-width="0.9"/>
<text x="53.6" y="356.9" font-size="12.6" text-anchor="middle">0</text>
<text x="114.3" y="356.9" font-size="12.6" text-anchor="middle">0.05</text>
<text x="175.0" y="356.9" font-size="12.6" text-anchor="middle">0.1</text>
<text x="235.6" y="356.9" font-size="12.6" text-anchor="middle">0.15</text>
<text x="296.3" y="356.9" font-size="12.6" text-anchor="middle">0.2</text>
<rect x="373.30" y="327.4" width="30.38" height="15.2" fill="#4010f0"/>
<rect x="403.63" y="327.4" width="30.38" height="15.2" fill="#2d4fe6"/>
<rect x="433.96" y="327.4" width="30.38" height="15.2" fill="#2090f0"/>
<rect x="464.29" y="327.4" width="30.38" height="15.2" fill="#10c0f8"/>
<rect x="494.62" y="327.4" width="30.38" height="15.2" fill="#a0d8f0"/>
<rect x="524.95" y="327.4" width="30.38" height="15.2" fill="#fff080"/>
<rect x="555.28" y="327.4" width="30.38" height="15.2" fill="#ffc010"/>
<rect x="585.61" y="327.4" width="30.38" height="15.2" fill="#ff7800"/>
<rect x="615.94" y="327.4" width="30.38" height="15.2" fill="#ff0000"/>
<rect x="646.27" y="327.4" width="30.38" height="15.2" fill="#d02828"/>
<path d="M403.63 327.4v15.2M433.96 327.4v15.2M464.29 327.4v15.2M494.62 327.4v15.2M524.95 327.4v15.2M555.28 327.4v15.2M585.61 327.4v15.2M615.94 327.4v15.2M646.27 327.4v15.2" stroke="#000" stroke-width="0.9"/>
<rect x="373.3" y="327.4" width="303.3" height="15.2" fill="none" stroke="#000" stroke-width="0.9"/>
<text x="403.6" y="356.9" font-size="12.6" text-anchor="middle">0</text>
<text x="464.3" y="356.9" font-size="12.6" text-anchor="middle">0.05</text>
<text x="525.0" y="356.9" font-size="12.6" text-anchor="middle">0.1</text>
<text x="585.6" y="356.9" font-size="12.6" text-anchor="middle">0.15</text>
<text x="646.3" y="356.9" font-size="12.6" text-anchor="middle">0.2</text>
<rect x="32.60" y="604.3" width="20.30" height="15.1" fill="#4010f0"/>
<rect x="52.85" y="604.3" width="20.30" height="15.1" fill="#1a30f0"/>
<rect x="73.10" y="604.3" width="20.30" height="15.1" fill="#3c6ce0"/>
<rect x="93.35" y="604.3" width="20.30" height="15.1" fill="#2090f8"/>
<rect x="113.60" y="604.3" width="20.30" height="15.1" fill="#10b8f8"/>
<rect x="133.85" y="604.3" width="20.30" height="15.1" fill="#60c0f0"/>
<rect x="154.10" y="604.3" width="20.30" height="15.1" fill="#b0dcf4"/>
<rect x="174.35" y="604.3" width="20.30" height="15.1" fill="#fff796"/>
<rect x="194.60" y="604.3" width="20.30" height="15.1" fill="#ffe040"/>
<rect x="214.85" y="604.3" width="20.30" height="15.1" fill="#ffb000"/>
<rect x="235.10" y="604.3" width="20.30" height="15.1" fill="#ff7a00"/>
<rect x="255.35" y="604.3" width="20.30" height="15.1" fill="#ff3000"/>
<rect x="275.60" y="604.3" width="20.30" height="15.1" fill="#e00000"/>
<rect x="295.85" y="604.3" width="20.30" height="15.1" fill="#d02828"/>
<path d="M52.85 604.3v15.1M73.10 604.3v15.1M93.35 604.3v15.1M113.60 604.3v15.1M133.85 604.3v15.1M154.10 604.3v15.1M174.35 604.3v15.1M194.60 604.3v15.1M214.85 604.3v15.1M235.10 604.3v15.1M255.35 604.3v15.1M275.60 604.3v15.1M295.85 604.3v15.1" stroke="#000" stroke-width="0.9"/>
<rect x="32.6" y="604.3" width="283.5" height="15.1" fill="none" stroke="#000" stroke-width="0.9"/>
<text x="32.6" y="633.6" font-size="12.6" text-anchor="middle">-.02149</text>
<text x="93.3" y="633.6" font-size="12.6" text-anchor="middle">-.0016</text>
<text x="133.8" y="633.6" font-size="12.6" text-anchor="middle">-.0008</text>
<text x="174.3" y="633.6" font-size="12.6" text-anchor="middle">-.000</text>
<text x="214.8" y="633.6" font-size="12.6" text-anchor="middle">.0008</text>
<text x="255.3" y="633.6" font-size="12.6" text-anchor="middle">.0016</text>
<text x="316.1" y="633.6" font-size="12.6" text-anchor="middle">.025259</text>
</svg>
</body></html>
